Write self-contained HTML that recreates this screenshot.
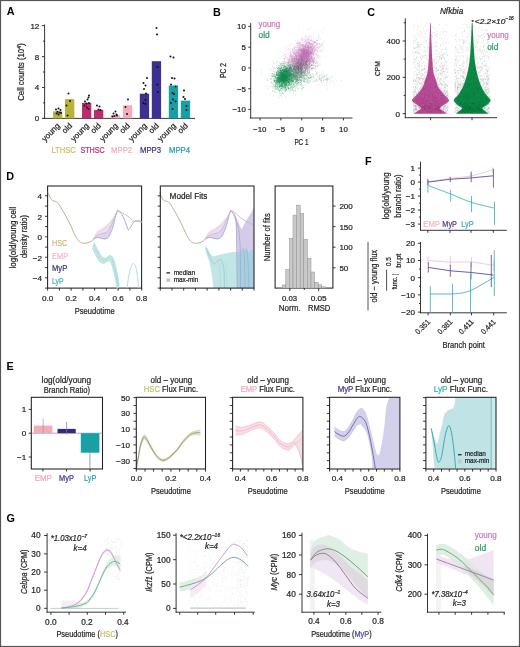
<!DOCTYPE html>
<html><head><meta charset="utf-8"><style>
html,body{margin:0;padding:0;background:#fff;}
svg{display:block;filter:blur(0.3px);}
text{font-family:"Liberation Sans",sans-serif;}
</style></head><body>
<svg width="520" height="647" viewBox="0 0 520 647" fill="#231f20">
<rect x="0.5" y="0.5" width="519" height="646" fill="#fff" stroke="#555" stroke-width="1.2"/>
<text x="6.8" y="15.4" font-size="10.8" fill="#000" font-weight="bold">A</text>
<line x1="44.6" y1="24.5" x2="44.6" y2="118.9" stroke="#231f20" stroke-width="0.9" />
<line x1="44.1" y1="118.4" x2="195" y2="118.4" stroke="#231f20" stroke-width="0.9" />
<line x1="44.6" y1="118.4" x2="42" y2="118.4" stroke="#231f20" stroke-width="0.9" />
<text x="39.3" y="121.3" font-size="8.0" text-anchor="end" stroke="#231f20" stroke-width="0.22">0</text>
<line x1="44.6" y1="87.5" x2="42" y2="87.5" stroke="#231f20" stroke-width="0.9" />
<text x="39.3" y="90.4" font-size="8.0" text-anchor="end" stroke="#231f20" stroke-width="0.22">4</text>
<line x1="44.6" y1="56.6" x2="42" y2="56.6" stroke="#231f20" stroke-width="0.9" />
<text x="39.3" y="59.5" font-size="8.0" text-anchor="end" stroke="#231f20" stroke-width="0.22">8</text>
<line x1="44.6" y1="25.6" x2="42" y2="25.6" stroke="#231f20" stroke-width="0.9" />
<text x="39.3" y="28.5" font-size="8.0" text-anchor="end" stroke="#231f20" stroke-width="0.22">12</text>
<line x1="44.6" y1="102.9" x2="43" y2="102.9" stroke="#231f20" stroke-width="0.9" />
<line x1="44.6" y1="72" x2="43" y2="72" stroke="#231f20" stroke-width="0.9" />
<line x1="44.6" y1="41.1" x2="43" y2="41.1" stroke="#231f20" stroke-width="0.9" />
<text x="24.2" y="72" font-size="8.5" text-anchor="middle" transform="rotate(-90 24.2 72)" stroke="#231f20" stroke-width="0.22"><tspan textLength="52" lengthAdjust="spacingAndGlyphs">Cell counts (10</tspan><tspan font-size="5" dy="-3.2">4</tspan><tspan dy="3.2">)</tspan></text>
<rect x="53" y="111.4" width="9.3" height="7" fill="#bbb13d" />
<rect x="65" y="99.1" width="9.3" height="19.3" fill="#bbb13d" />
<text x="60.5" y="126.4" font-size="8.1" text-anchor="end" transform="rotate(-45 60.5 126.4)" stroke="#231f20" stroke-width="0.22">young</text>
<text x="72.6" y="126.4" font-size="8.1" text-anchor="end" transform="rotate(-45 72.6 126.4)" stroke="#231f20" stroke-width="0.22">old</text>
<text x="63.6" y="153.1" font-size="8.5" textLength="24.4" lengthAdjust="spacingAndGlyphs" text-anchor="middle" fill="#c8bf5e" stroke="#c8bf5e" stroke-width="0.22">LTHSC</text>
<rect x="82" y="102.9" width="9.3" height="15.5" fill="#bf2a6f" />
<rect x="94" y="109.9" width="9.3" height="8.5" fill="#bf2a6f" />
<text x="89.5" y="126.4" font-size="8.1" text-anchor="end" transform="rotate(-45 89.5 126.4)" stroke="#231f20" stroke-width="0.22">young</text>
<text x="101.5" y="126.4" font-size="8.1" text-anchor="end" transform="rotate(-45 101.5 126.4)" stroke="#231f20" stroke-width="0.22">old</text>
<text x="92.6" y="153.1" font-size="8.5" textLength="24.4" lengthAdjust="spacingAndGlyphs" text-anchor="middle" fill="#b8306f" stroke="#b8306f" stroke-width="0.22">STHSC</text>
<rect x="110.9" y="115.3" width="9.3" height="3.1" fill="#f4acb8" />
<rect x="122.9" y="105.3" width="9.3" height="13.1" fill="#f4acb8" />
<text x="118.5" y="126.4" font-size="8.1" text-anchor="end" transform="rotate(-45 118.5 126.4)" stroke="#231f20" stroke-width="0.22">young</text>
<text x="130.5" y="126.4" font-size="8.1" text-anchor="end" transform="rotate(-45 130.5 126.4)" stroke="#231f20" stroke-width="0.22">old</text>
<text x="121.6" y="153.1" font-size="8.5" textLength="21.1" lengthAdjust="spacingAndGlyphs" text-anchor="middle" fill="#f4acb8" stroke="#f4acb8" stroke-width="0.22">MPP2</text>
<rect x="139.8" y="93.7" width="9.3" height="24.7" fill="#3c3192" />
<rect x="151.8" y="61.2" width="9.3" height="57.2" fill="#3c3192" />
<text x="147.4" y="126.4" font-size="8.1" text-anchor="end" transform="rotate(-45 147.4 126.4)" stroke="#231f20" stroke-width="0.22">young</text>
<text x="159.4" y="126.4" font-size="8.1" text-anchor="end" transform="rotate(-45 159.4 126.4)" stroke="#231f20" stroke-width="0.22">old</text>
<text x="150.5" y="153.1" font-size="8.5" textLength="21.1" lengthAdjust="spacingAndGlyphs" text-anchor="middle" fill="#3c3192" stroke="#3c3192" stroke-width="0.22">MPP3</text>
<rect x="168.8" y="85.5" width="9.3" height="32.9" fill="#17a1a6" />
<rect x="180.8" y="100.6" width="9.3" height="17.8" fill="#17a1a6" />
<text x="176.4" y="126.4" font-size="8.1" text-anchor="end" transform="rotate(-45 176.4 126.4)" stroke="#231f20" stroke-width="0.22">young</text>
<text x="188.4" y="126.4" font-size="8.1" text-anchor="end" transform="rotate(-45 188.4 126.4)" stroke="#231f20" stroke-width="0.22">old</text>
<text x="179.5" y="153.1" font-size="8.5" textLength="21.1" lengthAdjust="spacingAndGlyphs" text-anchor="middle" fill="#17a1a6" stroke="#17a1a6" stroke-width="0.22">MPP4</text>
<g fill="#111"><circle cx="56" cy="109.5" r="1.0"/><circle cx="58.5" cy="108.5" r="1.0"/><circle cx="60.5" cy="110" r="1.0"/><circle cx="57.5" cy="111.7" r="1.0"/><circle cx="59.5" cy="112.5" r="1.0"/><circle cx="56.5" cy="113.5" r="1.0"/><circle cx="58.5" cy="114.6" r="1.0"/><circle cx="61" cy="113" r="1.0"/><circle cx="68.5" cy="93.5" r="1.0"/><circle cx="70" cy="101" r="1.0"/><circle cx="66.5" cy="105.5" r="1.0"/><circle cx="67.5" cy="115.5" r="1.0"/><circle cx="89" cy="95.5" r="1.0"/><circle cx="88.5" cy="97.5" r="1.0"/><circle cx="87.5" cy="99.5" r="1.0"/><circle cx="85" cy="101.5" r="1.0"/><circle cx="86.5" cy="103.5" r="1.0"/><circle cx="89" cy="103" r="1.0"/><circle cx="84.5" cy="105.5" r="1.0"/><circle cx="87" cy="107.5" r="1.0"/><circle cx="88.5" cy="109" r="1.0"/><circle cx="97" cy="105.5" r="1.0"/><circle cx="99.5" cy="106.5" r="1.0"/><circle cx="98.5" cy="109.5" r="1.0"/><circle cx="100.5" cy="110" r="1.0"/><circle cx="115.5" cy="111.5" r="1.0"/><circle cx="113.5" cy="113.5" r="1.0"/><circle cx="116.5" cy="114.5" r="1.0"/><circle cx="114.5" cy="116" r="1.0"/><circle cx="117" cy="115.5" r="1.0"/><circle cx="112.5" cy="116.5" r="1.0"/><circle cx="128" cy="99.5" r="1.0"/><circle cx="125.5" cy="107" r="1.0"/><circle cx="127" cy="114" r="1.0"/><circle cx="147" cy="78" r="1.0"/><circle cx="143.5" cy="83" r="1.0"/><circle cx="145.5" cy="85.5" r="1.0"/><circle cx="144" cy="89" r="1.0"/><circle cx="146" cy="93.5" r="1.0"/><circle cx="145.5" cy="100" r="1.0"/><circle cx="143.5" cy="103" r="1.0"/><circle cx="145.5" cy="104" r="1.0"/><circle cx="156.5" cy="28" r="1.0"/><circle cx="157" cy="34.5" r="1.0"/><circle cx="157.5" cy="67" r="1.0"/><circle cx="157.3" cy="84.5" r="1.0"/><circle cx="158" cy="92" r="1.0"/><circle cx="170.5" cy="56.5" r="1.0"/><circle cx="173.5" cy="57.5" r="1.0"/><circle cx="172" cy="78" r="1.0"/><circle cx="174.5" cy="78.5" r="1.0"/><circle cx="171" cy="84.5" r="1.0"/><circle cx="175.5" cy="86.5" r="1.0"/><circle cx="172.5" cy="93" r="1.0"/><circle cx="174" cy="94" r="1.0"/><circle cx="173" cy="99.5" r="1.0"/><circle cx="171" cy="103" r="1.0"/><circle cx="175.5" cy="101.5" r="1.0"/><circle cx="172.5" cy="109" r="1.0"/><circle cx="184" cy="90.5" r="1.0"/><circle cx="183.5" cy="97" r="1.0"/><circle cx="185" cy="99" r="1.0"/><circle cx="186.5" cy="106" r="1.0"/><circle cx="186.5" cy="110" r="1.0"/></g>
<text x="213.1" y="15.5" font-size="10.8" fill="#000" font-weight="bold">B</text>
<line x1="250.7" y1="23" x2="250.7" y2="118.5" stroke="#231f20" stroke-width="0.9" />
<line x1="250.2" y1="118" x2="352.5" y2="118" stroke="#231f20" stroke-width="0.9" />
<line x1="250.7" y1="109.4" x2="248.3" y2="109.4" stroke="#231f20" stroke-width="0.9" />
<text x="245.9" y="112.2" font-size="7.9" text-anchor="end" stroke="#231f20" stroke-width="0.22">−10</text>
<line x1="260.1" y1="118" x2="260.1" y2="120.4" stroke="#231f20" stroke-width="0.9" />
<text x="259.8" y="131.5" font-size="7.9" text-anchor="middle" stroke="#231f20" stroke-width="0.22">−10</text>
<line x1="250.7" y1="88.7" x2="248.3" y2="88.7" stroke="#231f20" stroke-width="0.9" />
<text x="245.9" y="91.5" font-size="7.9" text-anchor="end" stroke="#231f20" stroke-width="0.22">−5</text>
<line x1="280.9" y1="118" x2="280.9" y2="120.4" stroke="#231f20" stroke-width="0.9" />
<text x="280.6" y="131.5" font-size="7.9" text-anchor="middle" stroke="#231f20" stroke-width="0.22">−5</text>
<line x1="250.7" y1="67.9" x2="248.3" y2="67.9" stroke="#231f20" stroke-width="0.9" />
<text x="245.9" y="70.7" font-size="7.9" text-anchor="end" stroke="#231f20" stroke-width="0.22">0</text>
<line x1="301.8" y1="118" x2="301.8" y2="120.4" stroke="#231f20" stroke-width="0.9" />
<text x="301.8" y="131.5" font-size="7.9" text-anchor="middle" stroke="#231f20" stroke-width="0.22">0</text>
<line x1="250.7" y1="47.2" x2="248.3" y2="47.2" stroke="#231f20" stroke-width="0.9" />
<text x="245.9" y="50" font-size="7.9" text-anchor="end" stroke="#231f20" stroke-width="0.22">5</text>
<line x1="322.6" y1="118" x2="322.6" y2="120.4" stroke="#231f20" stroke-width="0.9" />
<text x="322.6" y="131.5" font-size="7.9" text-anchor="middle" stroke="#231f20" stroke-width="0.22">5</text>
<line x1="250.7" y1="26.4" x2="248.3" y2="26.4" stroke="#231f20" stroke-width="0.9" />
<text x="245.9" y="29.2" font-size="7.9" text-anchor="end" stroke="#231f20" stroke-width="0.22">10</text>
<line x1="343.4" y1="118" x2="343.4" y2="120.4" stroke="#231f20" stroke-width="0.9" />
<text x="343.4" y="131.5" font-size="7.9" text-anchor="middle" stroke="#231f20" stroke-width="0.22">10</text>
<text x="226.3" y="70.5" font-size="8.6" textLength="14.8" lengthAdjust="spacingAndGlyphs" text-anchor="middle" transform="rotate(-90 226.3 70.5)" stroke="#231f20" stroke-width="0.22">PC 2</text>
<text x="301.4" y="144.5" font-size="8.8" textLength="14" lengthAdjust="spacingAndGlyphs" text-anchor="middle" stroke="#231f20" stroke-width="0.22">PC 1</text>
<text x="258.6" y="26.6" font-size="8.4" textLength="21.6" lengthAdjust="spacingAndGlyphs" fill="#c67ab9" stroke="#c67ab9" stroke-width="0.22">young</text>
<text x="258.6" y="38.2" font-size="8.4" textLength="11.2" lengthAdjust="spacingAndGlyphs" fill="#2f9a5f" stroke="#2f9a5f" stroke-width="0.22">old</text>
<path d="M301.8 66h0M304.1 50.2h0M299.6 60.1h0M294.7 58.1h0M298.2 62.3h0M293.9 59.1h0M302.2 62.5h0M312.3 51.5h0M297.9 54.9h0M296.8 59.5h0M305.6 58.4h0M304.6 63.8h0M302.6 55.4h0M294.4 58.6h0M301.5 59.2h0M307.2 59.9h0M291.1 58.9h0M298.1 40.4h0M286.7 67.7h0M291.6 60.2h0M287.2 62.3h0M299.9 77.5h0M291.7 61.7h0M303.9 61.3h0M303 46h0M300.3 59.8h0M281.9 73.9h0M297.5 61.1h0M301.4 56.1h0M302.6 60.8h0M289.7 64.2h0M298 69.4h0M294 63.1h0M295.4 54.8h0M310.1 37.6h0M295.4 55.3h0M301.5 55.2h0M308.7 44.3h0M297.1 52h0M300.9 45h0M302.6 48.5h0M302.3 57.7h0M292.1 60.5h0M302.4 55.4h0M312.5 48.9h0M289.5 62.3h0M308.5 59.3h0M302.7 72.5h0M296.7 65h0M317.6 63.7h0M307.8 53.3h0M292.3 62.3h0M302.3 69.4h0M306.3 49.4h0M300.3 51.4h0M307.1 53.4h0M301.2 44.8h0M307 40.1h0M313.1 59.9h0M296.4 52.2h0M303.4 52.9h0M298.1 56h0M302.8 49.5h0M292.4 67.7h0M297.2 64.1h0M300.2 64.2h0M308.9 58.9h0M310.8 52.9h0M291.3 73.8h0M295.5 68.5h0M306.9 49.9h0M286 66.3h0M298.1 56.2h0M301 71.8h0M311.7 57.5h0M307.2 58.3h0M299.2 58.3h0M298.8 63.1h0M299.8 51.2h0M313.8 50.9h0M298.4 58.8h0M299.3 58.3h0M304.5 50.2h0M300.8 61.2h0M300.2 49.5h0M292.9 58.5h0M301.7 56h0M298.2 58.7h0M311 48.1h0M306.9 46.6h0M301.6 50.1h0M307 51.4h0M299.1 52h0M310.1 51.6h0M301.7 47.7h0M306.4 54.8h0M291.5 78.4h0M304.5 45.5h0M288.4 63.7h0M285.7 74.8h0M299.3 59.9h0M294.6 67.7h0M303 40.5h0M319.5 43.6h0M295.2 72.6h0M296.8 55.7h0M303.4 59.2h0M305.6 40.5h0M300.4 65.8h0M300.1 75h0M307.3 53.6h0M305.9 57.5h0M293.6 64.8h0M301.1 73.6h0M302 53.7h0M293.4 49.1h0M303.8 70.4h0M295 52h0M309.4 57.2h0M303.3 38.5h0M302.5 53.4h0M297.1 61.1h0M300.8 49.3h0M286 61.8h0M292.8 66.5h0M304.6 50.2h0M284.9 70.2h0M308.4 66.9h0M287.9 49.4h0M307.7 56.5h0M295.1 65.4h0M307.9 51.2h0M302.8 68.3h0M289.6 74h0M311.6 55.4h0M313.1 54.8h0M301.2 56.9h0M299.6 49.8h0M300.5 61.4h0M294 57.6h0M310.4 47.8h0M297.5 67.7h0M301.3 55.6h0M295.5 67.7h0M296.8 51.8h0M291.7 59.2h0M311.7 51.5h0M300.5 67.9h0M309.4 52h0M301.9 62.8h0M296.3 54.8h0M299.2 59.4h0M297.3 65.7h0M301.8 50.1h0M298.8 53.3h0M299.4 62.9h0M290.9 54.3h0M295.4 62.9h0M314.8 52.2h0M296.4 59.1h0M293.4 67.4h0M304.4 59h0M312.9 52.2h0M290.3 51.9h0M300.1 46.7h0M296.8 61.8h0M287.8 52.6h0M307.6 54.2h0M301.6 54.3h0M302.3 50.1h0M295.8 58.2h0M305.3 36.9h0M297.5 57.6h0M300.6 66.8h0M293 52.1h0M292.1 65.5h0M312.3 53.6h0M297.7 81.9h0M304.1 48.3h0M301.5 51.1h0M298.3 53h0M297.7 51.9h0M306.7 41.6h0M299.4 58.8h0M300.6 50.7h0M301.9 62.6h0M311 54.7h0M307.1 46.2h0M304.8 52.5h0M297.3 69.6h0M290.8 60.4h0M309.3 54.4h0M309.4 59.1h0M300.6 54.4h0M306 57.8h0M307.9 65.6h0M308.3 61.9h0M309 39.7h0M298.1 70.5h0M313.7 48.8h0M291.9 57.9h0M308.6 48.5h0M305.7 64.2h0M308.7 55.7h0M316.6 47.9h0M313.5 44.6h0M292.7 67h0M288.4 73.2h0M308.2 46h0M293.7 53.2h0M301.7 54.4h0M308.4 58h0M288.8 61.2h0M285.1 65.5h0M303.8 49.7h0M302.1 66.3h0M299.8 57.3h0M302.1 58.1h0M294.9 69.2h0M289.8 62.1h0M300.4 57.6h0M294.1 64.4h0M288.8 61.3h0M305.7 65.6h0M301.3 57.8h0M305 52.1h0M293.9 59.3h0M296.5 51.9h0M293.9 70.5h0M294.7 72.4h0M303.3 54.5h0M295.6 57.1h0M304.6 39.6h0M304.4 51h0M317.8 54.9h0M290.7 57.1h0M308.8 59.6h0M301 68.7h0M301.6 37.5h0M290.3 61h0M298.1 53.7h0M307.6 49.6h0M301.1 43.8h0M302.4 54.6h0M299.5 49.2h0M310.9 59.8h0M301.6 67.7h0M284.4 55.9h0M296.3 49h0M286.2 61.8h0M276.1 69.6h0M297.6 58.2h0M312.3 56.5h0M302.1 45.3h0M292.5 57.2h0M294.3 57.4h0M310.7 49.3h0M303 48.5h0M302.1 53.1h0M301.3 51.7h0M302.1 65.8h0M308.1 49.8h0M306.1 38.2h0M303.5 60.1h0M293.5 62.6h0M305.8 48.2h0M296.3 52.9h0M310.4 47.6h0M291.7 74.9h0M300.7 53.9h0M301.7 66.1h0M291.3 69.1h0M315.4 45.5h0M313.3 53h0M298.1 53h0M307.8 30h0M304.7 49.6h0M281.1 63h0M303.7 62.8h0M301.3 62.2h0M302.4 64.8h0M293.2 65.8h0M299.6 66.5h0M300.3 62.9h0M311.1 53.5h0M304.4 63.2h0M301.7 67.8h0M313.8 60.7h0M297.4 56.1h0M298.7 58.4h0M287.4 57.3h0M314.2 42.4h0M309.4 55.5h0M309 48.1h0M307 65.1h0M302.6 39.4h0M303.5 47.1h0M299.8 59.8h0M300.1 66.8h0M302.2 54h0M313.7 64.6h0M306.1 60.6h0M301.3 51.7h0M297.2 59.1h0M296.7 63.6h0M314.4 43h0M305.8 62.7h0M302.3 54.7h0M299 62.4h0M293 68.3h0M301.2 53.9h0M308.7 60.8h0M298.6 44.5h0M300 62.5h0M300 43.1h0M302.6 64.9h0M289.2 59.5h0M299.9 67.2h0M295 71h0M308.7 52.1h0M295.7 55.4h0M306.3 64.2h0M313.8 41.5h0M299.3 64.5h0M297 58.7h0M303.3 53.4h0M301.7 52.6h0M293.9 75h0M305.4 42.9h0M317.7 44.1h0M299.7 61.4h0M300.1 65.7h0M293.5 74.4h0M304.3 66h0M291.9 58.4h0M293 64.5h0M311.9 60.1h0M294.6 65h0M310.3 40.6h0M313.8 53h0M303.8 60.4h0M306.1 44.5h0M317.2 45.1h0M300.2 57.6h0M297.1 64.3h0M291.1 74.7h0M302.1 65.8h0M313.4 54.3h0M309.3 54.6h0M294.3 58.5h0M295 56.7h0M297.8 57.6h0M304.1 54.2h0M300.1 65.6h0M303.4 72.4h0M304.1 59.7h0M299.4 65.6h0M301.4 62.2h0M303.4 58.3h0M301.1 66.9h0M305.7 63.3h0M316.5 49.7h0M306.4 53.7h0M302.2 61.8h0M288.4 60.7h0M304.8 57.1h0M286.4 73.3h0M290.6 62.9h0M308.5 39.2h0M307.3 59.1h0M300.6 49h0M288.2 54.2h0M298.8 47.4h0M296.4 66.3h0M306.8 39.1h0M319.6 46.4h0M303.5 58.1h0M295.6 62.2h0M292.5 57.7h0M301.3 57h0M300.4 59.2h0M292.6 52.4h0M302.7 62.1h0M292.7 70h0M310.5 46.3h0M310.1 47.2h0M310.3 44.1h0M298 67.3h0M305.8 46.7h0M300.7 54h0M298.7 45.5h0M299.1 68h0M291.5 61.1h0M290.3 65.5h0M308 65.6h0M300.2 63.3h0M303.5 47.7h0M309.7 56.3h0M288.1 70.1h0M295.6 54h0M303.1 48.9h0M304.8 48h0M298.8 64.7h0M309.9 53.1h0M303.4 48.4h0M292.2 67.3h0M294.4 66.8h0M308.1 47.3h0M305.4 43.3h0M286.7 74.1h0M312.4 70.8h0M306.5 65.5h0M312.4 58.9h0M298.7 59.8h0M299.4 53.8h0M292.8 63.1h0M321.8 51.3h0M300.4 56.7h0M314.3 57.5h0M296.6 60.3h0M303 61.2h0M288.5 44.2h0M298.7 52.6h0M309.5 59.1h0M291.9 70.1h0M310.2 55.7h0M304.4 68.1h0M293.5 67.2h0M297.8 64.9h0M298.1 52.4h0M301.4 60.5h0M297.5 65.4h0M295.2 70.8h0M299.3 67.3h0M293.6 62.1h0M291.6 64.4h0M301.4 48.8h0M308.7 58h0M289.7 55.8h0M301.8 55.2h0M296.6 60h0M294 76.5h0M308.5 63.1h0M297.7 53.8h0M313.6 40h0M295.6 58.9h0M304.8 49.7h0M300 61.2h0M295.8 63.2h0M306.4 59.6h0M300.5 50.4h0M306.5 51.9h0M301.4 59.1h0M293.2 64.3h0M300.9 53.4h0M302.2 54.4h0M309.3 59.2h0M294.6 48.1h0M301.4 55.3h0M288.1 64.5h0M306.9 43.1h0M293.2 54.1h0M287.5 65.6h0M301.3 53.3h0M310.5 60.4h0M289.7 68.6h0M293.2 78.9h0M295.9 51.1h0M292.8 76.4h0M304.7 50.3h0M295.4 66.9h0M296 67.6h0M306.4 56h0M295.8 58.4h0M305.2 50.6h0M294.1 48h0M292.2 59.7h0M287.2 58.5h0M316.5 53.5h0M299.2 53.1h0M303.7 54.9h0M301.5 60.7h0M303 57.1h0M302.1 57.4h0M316.8 47.4h0M293.5 58.6h0M289.4 67.7h0M293.8 67.1h0M291.2 57.3h0M307.7 66.7h0M308.2 58.2h0M294.2 49.6h0M290.8 83.6h0M298.9 63.9h0M312.7 45.9h0M279.5 81.9h0M305.9 35.2h0M293.2 81.3h0M310 41.7h0M293.2 50.1h0M299.5 51.4h0M289.8 65.3h0M294 58.7h0M312.7 57.8h0M308.2 47.4h0M298.6 67.3h0M294.9 63h0M286.8 57.8h0M298.6 67.2h0M301.5 60h0M301.1 56.2h0M301 67.6h0M292.9 53.2h0M301.2 54.8h0M301.4 68.7h0M312 51.8h0M316.5 54.8h0M300.7 62.7h0M295.7 59.9h0M301.2 62.7h0M296.9 52.5h0M295.9 65.7h0M301.3 50h0M293.5 62h0M306.5 48h0M300.9 61.6h0M303.7 59.8h0M300.3 66.6h0M296 55.9h0M294.3 54.2h0M299.9 42.1h0M297.4 49.8h0M303.6 54.2h0M301.7 58.7h0M291 60.1h0M302.3 57h0M291.1 51.9h0M296.9 52.7h0M299.4 64.7h0M285.3 71.3h0M302.5 46.4h0M302.9 54.1h0M300.5 59.5h0M298.4 50h0M298.8 61.7h0M294 63.5h0M299.6 61.8h0M297.4 74.3h0M302.5 50.2h0M292.2 71.5h0M303.6 60.4h0M302.9 62.1h0M300.6 52.2h0M298.3 59.5h0M306.1 54.6h0M288.6 77h0M305.4 55.8h0M303.7 67.2h0M304 53.6h0M304.8 52.7h0M296.6 60.1h0M299.7 42.8h0M306.8 50.4h0M305.2 50.7h0M303.4 55.1h0M289.8 65.2h0M306 47.5h0M311 43.7h0M309.7 62.5h0M303.6 48.1h0M289.4 60h0M309.2 45.8h0M300.6 54.2h0M281.7 77.5h0M304.7 64.3h0M290 49.8h0M291.5 60.9h0M296.7 70.6h0M311.8 48.9h0M298.8 61.5h0M303.9 69.8h0M315.6 66.8h0M314.3 62.3h0M300.9 55.5h0M299.8 58.5h0M291.8 64.5h0M296.3 58h0M305.1 50.7h0M304.9 71.3h0M302.6 58.9h0M309.6 59h0M295.6 69.8h0M301.3 61.5h0M307.5 54.9h0M306.4 56.6h0M310.2 63.4h0M304.9 59h0M299.3 43.2h0M304.6 63.5h0M293.8 74.2h0M288.8 62.2h0M306.3 50.1h0M301.3 53.8h0M304.2 64.2h0M288.3 57h0M298.9 64.6h0M297 68.3h0M294.9 65.5h0M283.9 67.8h0M299.1 53.2h0M308.8 48.5h0M304.8 55.6h0M297 52.7h0M301.6 56.6h0M307.7 47h0M279.9 79.7h0M300.8 69.5h0M306 48.9h0M307.1 64.6h0M315.2 52h0M310.7 52.9h0M304.2 59.4h0M304.1 59.2h0M308 43.2h0M297.5 78.6h0M301.4 50.6h0M308.9 35.8h0M317.2 48.4h0M300.5 57.9h0M301.4 51.8h0M303.3 42.4h0M312.4 60.2h0M301.5 56.6h0M313.4 52.1h0M294.1 57.1h0M300.3 56.7h0M300.2 53h0M308 56.9h0M310 52.2h0M289.8 68.7h0M294.5 66.1h0M304.4 56.7h0M296.5 61.1h0M289.7 72.6h0M310 40.7h0M305.7 56h0M305.6 65.4h0M298 50.9h0M309.9 58.3h0M299.9 54.3h0M310.4 52.5h0M294.5 59.2h0M295 59.5h0M303.4 60.6h0M296.2 59.9h0M307.1 38.8h0M303.8 72.9h0M294.5 60.6h0M302.3 53.5h0M299 66.6h0M309 63.5h0M296.8 43.6h0M298.3 61.8h0M311.3 36.1h0M319.4 43.3h0M317.6 47.8h0M302.2 53.2h0M303.5 51.4h0M313.9 41.5h0M300.8 54.4h0M294 60.3h0M302.7 55.3h0M305.3 44.9h0M295.2 54.6h0M288.7 71.8h0M290.4 68.2h0M307 51.7h0M295.8 65.1h0M300.6 60.6h0M303.4 63.4h0M306.6 56.4h0M299.1 55.4h0M305.7 47.4h0M294.7 60.9h0M298.9 43h0M293.7 62.2h0M310.7 28.1h0M301.5 49.7h0M295.9 56.6h0M299 62.4h0M300 79.4h0M307.3 55.2h0M289.1 62.7h0M293.6 47.1h0M298.8 69.2h0M321.8 31.7h0M309.3 54.8h0M300.9 52.1h0M307.4 73.2h0M318 47.1h0M299.9 60.7h0M298.9 53.6h0M311.3 51.1h0M305.7 63.6h0M307.1 47h0M297.7 54.1h0M317 44.2h0M315.3 42h0M306.2 46.3h0M307.2 54.3h0M285.7 76.2h0M306.8 64.8h0M300.2 47.8h0M305.2 49.9h0M307.1 53.4h0M299.1 61.9h0M288.4 64.2h0M304.7 55.3h0M295.9 62.9h0M299.1 63.8h0M297 43.4h0M299.1 56.9h0M283.5 71.7h0M311.4 61.6h0M303.8 61.5h0M310.5 46.8h0M317.4 42.8h0M301.9 58.7h0M287.5 64.6h0M294.7 63.3h0M292.2 70.7h0M297.8 49.5h0M302.4 54h0M285.9 47.1h0M304.5 61.3h0M289.8 64.7h0M304.1 49.2h0M300.9 59.4h0M299.3 69h0M301.2 64.6h0M297.5 58.7h0M296.9 57.2h0M288.4 65.2h0M301.5 49.7h0M316.3 41.6h0M317.4 46h0M312.2 51.1h0M307.3 55.9h0M296.4 55.9h0M313.2 43.9h0M301.3 56.9h0M301.2 54h0M299.4 60.8h0M302.5 67.4h0M298.3 66.6h0M301.1 51.7h0M293.2 58.5h0M298.8 46.7h0M319.8 46.7h0M301.2 50.9h0M299.9 48.2h0M306 47.3h0M307.3 58.6h0M292.9 63.4h0M300.1 57h0M309 60.5h0M303.9 52.4h0M302.7 48.9h0M314 54h0M296.4 45.2h0M302.4 58.9h0M297.6 60.9h0M313.5 52.4h0M286.3 71h0M296.5 56.9h0M297.6 59.3h0M307 41.7h0M306.5 49.9h0M312.8 47h0M289.3 65.6h0M307.7 64.5h0M299.4 59.1h0M296.5 66.4h0M306 47.6h0M294.5 61.3h0M285.3 53.6h0M298.8 53.2h0M289.9 57.3h0M296.6 58.2h0M304.7 53.9h0M304.2 50.8h0M314.3 43.2h0M300.2 63.3h0M289.6 60.1h0M295.8 40.6h0M294.5 61.8h0M292.1 64.3h0M305.2 60.4h0M296.7 70.9h0M286.1 56.8h0M307.3 53.6h0M300.9 55.3h0M304.6 41.6h0M302.6 37.7h0M306.7 61.1h0M302.1 49h0M311.5 47h0M305.1 52.2h0M304.8 51.8h0M305 55.5h0M290.2 51.4h0M300.4 53.2h0M299.7 55.6h0M303.4 46.8h0M291 56.2h0M314.7 46.5h0M302.6 54.2h0M292.2 49.1h0M288.2 60.7h0M299.5 59h0M301 63.9h0M296.1 62.8h0M302.5 64.6h0M296.7 59.1h0M306.1 52.7h0M296 75.7h0M301.4 57.1h0M309.5 47.9h0M322.1 44.6h0M293.8 68.7h0M298.1 49.5h0M295.1 66h0M307.9 62.9h0M292.7 70.3h0M297.9 59.3h0M301.5 49.8h0M294 52.6h0M294.2 59.7h0M298 68.2h0M285.1 71.2h0M290.3 70.2h0M298.5 60.2h0M302.9 69.8h0M300.3 57.1h0M287.7 60h0M298.1 60.2h0M308.1 50.1h0M306.1 61.8h0M301.1 68.4h0M294.7 65.8h0M306.7 45.6h0M297.2 51.9h0M292.5 65.6h0M295.4 51.5h0M313.2 53.2h0M303.5 44.7h0M310.9 48.4h0M298 62.6h0M309.2 47h0M297 65.6h0M300.5 64.9h0M321.4 57.2h0M307.8 51.8h0M297.8 59.7h0M301.1 58.1h0M304.3 58.8h0M311.3 41h0M297.9 62.4h0M288 70.2h0M299.5 48.9h0M301.9 46.3h0M302.6 54.1h0M312.2 64.5h0M304.3 60.3h0M308.2 48.9h0M293 61.8h0M308.6 41.6h0M318.3 58.3h0M307.9 48.6h0M303.8 60.7h0M303 46.5h0M315.9 49.9h0M294.4 53.4h0M300.9 62.5h0M305.4 65.7h0M307.6 62.2h0M298.3 63.6h0M304.2 63.5h0M299.6 49.3h0M302.7 46.5h0M300.7 55.6h0M292.7 69.9h0M301.6 58.1h0M308.7 58.5h0M294.1 50.3h0M299.8 55.8h0M307 50.5h0M293.3 64.8h0M303.2 71.5h0M293.4 67.5h0M310.7 60.6h0M320 44.2h0M317.7 47.6h0M300 64.1h0M307.6 56.8h0M302.7 44.8h0M302.6 63.9h0M314 57.3h0M291.3 64.6h0M310.1 57.8h0M301.4 60.6h0M312.9 47h0M303.2 43.2h0M296.4 73.5h0M303.9 56h0M307.6 53.6h0M302 57.6h0M305.6 56.4h0M297.6 62h0M284.9 58.8h0M308.9 56.7h0M307.3 55h0M302.9 56.5h0M302.3 56h0M309.9 53.9h0M298.1 51.6h0M296.2 60.3h0M300.3 56.6h0M311.1 52.3h0M290.8 70.7h0M311.2 58.2h0M296.7 67.8h0M293 60.5h0M311.7 57h0M301 65.5h0M291.5 61h0M298.9 54.7h0M309.1 66.3h0M311.2 39.2h0M298.4 58.7h0M305 56.1h0M307.4 45.9h0M296.7 59.4h0M304.6 60.1h0M301.5 40.7h0M297.5 67.6h0M297.9 60h0M302.3 50.4h0M302 65.1h0M297.3 60.3h0M298.4 56h0M310.5 34.1h0M303.4 62.9h0M308.7 53.6h0M311.2 46.9h0M306.4 53.9h0M319.7 56.3h0M295.2 57.6h0M308.1 52.8h0M299.2 55.1h0M316.4 40.5h0M315.2 42.1h0M286.3 62.5h0M294.1 59h0M307 62.5h0M308 54.7h0M307.6 52.2h0M301.2 60.4h0M305.3 54.4h0M306.9 60.5h0M301.1 45.9h0M309.9 36.4h0M283.9 69.9h0M306.8 51.3h0M293.6 63.4h0M309.3 43.4h0M299.9 54.8h0M294.7 60.4h0M304.7 57.2h0M294.5 60.1h0M294.5 68.6h0M289.4 58.8h0M301.5 62.6h0M305.7 50.9h0M309.8 51.7h0M300.6 49.5h0M310 52.7h0M301.9 49.3h0M301 64.5h0M306.3 50h0M310.1 54.2h0M299.1 57.1h0M299.8 57.6h0M300.5 50.7h0M302.4 72h0M294.6 58.6h0M309.9 63.9h0M298.6 49.7h0M305.4 70h0M295.2 68.3h0M304.6 68.2h0M304.8 43h0M298.4 68.7h0M317.7 47.4h0M304.7 59.5h0M315.8 63h0M309.3 55.5h0M296.5 55h0M298.7 60.2h0M305.2 48.1h0M302.2 59.6h0M302.1 56.8h0M299.5 61.3h0M287.5 62.4h0M300 43.8h0M284.2 64h0M304.7 54h0M296 64.9h0M296.1 65.9h0M300 47h0M303.9 64.3h0M290.4 70.2h0M287.9 65.5h0M293.3 65h0M285.6 51.2h0M294.1 79.2h0M314.3 47.5h0M293.4 56.3h0M306.9 62.7h0M290.9 68h0M304.1 52.5h0M299.2 46.2h0M301.3 64.3h0M306.2 66.6h0M315.6 42.1h0M303.3 44.8h0M302.7 59.1h0M294.1 78.1h0M306.4 43.6h0M299.8 59.7h0M308.3 45h0M301.4 57.6h0M315.5 52.4h0M286.1 69.2h0M299.4 47.3h0M308.7 42.4h0M299 74.8h0M295.5 67.6h0M299.6 44.9h0M290.8 65.9h0M302.7 66.9h0M321 46.4h0M310.8 52.9h0M293 62.7h0M294.8 64.5h0M298.6 61.2h0M309.7 56.2h0M295.3 58.2h0M296.3 66.3h0M308.7 55.4h0M308.6 54.4h0M298.8 48.9h0M292.9 59.2h0M289.5 64.7h0M296.2 56.1h0M284.1 63.8h0M307.7 45.6h0M296.8 56h0M305.6 41.5h0M316.5 38.8h0M311 52.3h0M292.7 65.3h0M308.6 46.7h0M310.9 48.2h0M295.9 61.1h0M294.2 72.4h0M300.9 71.4h0M289.1 61.5h0M313.4 44.9h0M282.7 61.5h0M293 71.6h0M299.6 50.5h0M300 62.1h0M303.1 53.5h0M303.9 52.8h0M300.1 64.1h0M310.7 56.6h0M284.8 82.1h0M301.7 64h0M296.1 73.8h0M302.8 53.2h0M303.5 55.7h0M294.5 54.2h0M296.7 57.2h0M308 58.4h0M304.5 53h0M296.4 63h0M317.9 43.6h0M320 44.7h0M290.2 70.9h0M304.1 55.8h0M321.6 45.8h0M307.9 56h0M303.5 49.4h0M300.1 45.1h0M297.5 62.2h0M300.1 60.7h0M297.4 76.5h0M307.6 54.8h0M298.6 62.1h0M298.3 75.3h0M292.2 60.2h0M301.4 52.9h0M294.7 66.5h0M300.3 60.7h0M310 59.9h0M304.6 49.8h0M305.7 66.4h0M304.6 57.9h0M302.2 42.1h0M300.7 57.3h0M299.3 54.9h0M307.8 54.9h0M293.2 70.7h0M312.3 51.5h0M302 53.9h0M295.8 68.1h0M297.9 56.7h0M296.4 50.7h0M303 48.3h0M296.1 72.2h0M310.8 59.5h0M295.6 72.7h0M283.8 58.9h0M296 55.7h0M285.9 60.6h0M301.4 63.9h0M310.1 61.3h0M306.9 53.7h0M291.2 62.2h0M295.7 66.9h0M315.8 48.3h0M304.3 50.9h0M301.8 55.4h0M310.1 60.4h0M321.1 62.4h0M312 53.4h0M302.9 55.3h0M304.6 57.5h0M306.6 57.7h0M296.9 65h0M293.4 56.3h0M302.2 57.3h0M294.3 60.3h0M301.3 64.7h0M302.5 61.4h0M320.3 45.7h0M295 68.4h0M300.8 67.1h0M300.5 60.3h0M305.2 46.1h0M310 51.1h0M297.9 48.2h0M295.3 61.7h0M288.8 66.6h0M294.4 71.7h0M306 59.1h0M302.1 46.1h0M293.7 59.1h0M298.8 53.2h0M302 51.7h0M305.7 55h0M297.1 61.2h0M299.8 57.3h0M287.4 60h0M292.6 58.7h0M314.5 46.3h0M284.5 65.5h0M299.1 64.4h0M303.5 58.1h0M298.8 65.8h0M295.4 53h0M301.3 73.2h0M301.7 58.8h0M301.1 39.5h0M286.9 67.9h0M300.6 66.3h0M295 61h0M297.4 49.8h0M303.5 57.3h0M306.8 49.7h0M308.8 52.4h0M297.8 62.1h0M309.1 29.3h0M311 51.5h0M310.7 56.2h0M312.7 54.8h0M300.6 54.9h0M300.4 54.8h0M308.3 47.7h0M290.9 62h0M303.4 67h0M297.6 55.4h0M298.8 61h0M288 66.9h0M294.7 72.2h0M301.6 61.5h0M308.8 58.7h0M309.6 53.1h0M301.1 68.4h0M300.3 57.6h0M295.2 59.8h0M304.9 63.8h0M299.8 62.9h0M306.5 60.9h0M315.6 42.6h0M301.5 76.3h0M289.9 66.2h0M294.9 73.4h0M290.2 66.7h0M292.3 55.9h0M312.1 56.2h0M303.5 55.1h0M289.7 70.1h0M306.9 39.6h0M311.7 44.7h0M298.9 50.2h0M296.4 70.1h0M299.1 66.9h0M304 47.7h0M306.8 55.8h0M311.1 53.9h0M311.3 49.3h0M311.1 61.4h0M312.5 45.3h0M307 54.1h0M289.6 60.2h0M300.7 62.7h0M304.2 51.9h0M298.7 64.1h0M309 45.9h0M298.9 50.2h0M294.4 54.3h0M313.2 46.9h0M307 49.4h0M303.5 76.6h0M309.1 46.8h0M310.1 54.5h0M304.4 54.9h0M282.3 70h0M296.4 70.6h0M298.1 63.2h0M294 56.4h0M303.3 45.5h0M311.2 56.6h0M297.9 66h0M292.8 51.1h0M317.8 54.9h0M298.2 43.4h0M292 62.1h0M303.6 62.7h0M305.1 47.8h0M296.2 47.4h0M308 64.5h0M297.9 47.5h0M294.5 63.3h0M303.2 45.1h0M307.8 56.6h0M296.7 71.8h0M304.4 51.9h0M301 50.5h0M324.1 29h0M296.1 47.2h0M312.7 45.8h0M301.3 59.1h0M300.7 61.6h0M307.5 56.2h0M308.8 59.5h0M311.8 53.7h0M304.3 74.9h0M297 58.4h0M297.5 59.7h0M305.8 35.5h0M306.3 48.9h0M312.8 54.6h0M305.1 51h0M310.1 61.7h0M313.7 55h0M303.1 70.5h0M290 52.7h0M292.4 57.8h0M290.4 72.2h0M314.3 50.6h0M295.1 53.6h0M311.5 48h0M306.4 51.7h0M315.3 56.1h0M309.7 57.5h0M300.9 56.8h0M300.2 51h0M302.4 63h0M303.1 64.8h0M297.6 50.8h0M301.5 64.3h0M314.5 42h0M288.3 62.7h0M303.8 49.3h0M294.6 47.9h0M303.2 51.1h0M308.4 47.6h0M301.3 64.3h0M307.9 59h0M289.2 59.2h0M310.5 40.7h0M297 49.2h0M306.7 36.9h0M303.2 54h0M281.3 66.8h0M295.8 52.8h0M303.5 56h0M314 50.8h0M304 63.8h0M303.8 48.5h0M290.6 71.4h0M313.1 47h0M316 59.9h0M302 48.7h0M300 65.8h0M289 57.8h0M308.7 65.3h0M323.1 48.7h0M307.4 45.1h0M311.7 57.7h0M306 54.2h0M294 65h0M312.3 68.7h0M292 60.2h0M300.1 54.8h0M304 64.3h0M308.7 48.9h0M305 61.3h0M304.8 63h0M295.7 60.4h0M291.6 67.9h0M302.2 39.5h0M296.1 71.9h0M291.4 57.2h0M291.7 55.2h0M297.9 74.2h0M287.1 78.3h0M291.1 58.7h0M288.8 67.9h0M303.2 53.4h0M305 46.7h0M317.6 51.2h0M289.9 71.7h0M296.4 80.7h0M309 51.6h0M300 65.1h0M299.2 56.2h0M315.3 47.9h0M299.1 69h0M292.6 49.1h0M291.3 54.7h0M304.4 49.2h0M304.2 64.7h0M290.9 66.2h0M294 65.5h0M306 57.9h0M306.3 63.1h0M296.7 56.6h0M306.7 52.7h0M306.3 51.9h0M287.7 68.7h0M299.3 48.7h0M305 53.9h0M297.2 80.3h0M284.8 71.3h0M299.5 58.8h0M307.7 46.5h0M314.2 52.5h0M284.4 68.5h0M322.4 50.7h0M292.8 57h0M309.3 56.3h0M311.5 56.3h0M309.5 58.4h0M302.9 52.3h0M292.6 66.2h0M306.7 67h0M296.1 55.5h0M281.8 73.4h0M324.1 42.1h0M307.3 51.2h0M316.1 40.1h0M294.5 53.2h0M313.3 55.1h0M314.3 51.4h0M314 60.1h0M301.6 44.5h0M292.2 59h0M300.3 47.4h0M284.3 69.1h0M288.3 80h0M302.5 45.1h0M293.9 60.7h0M300.5 56.8h0M300.9 57.2h0M317 43.8h0M312 47.4h0M301.4 69.3h0M311.3 43.6h0M295.6 64.5h0M299.1 62.1h0M308.9 40.1h0M291.9 55.6h0M299.5 60.9h0M291.3 76.9h0M302.7 55.4h0M314.7 45.9h0M295.8 61h0M303.5 65.5h0M294.7 67h0M292.7 71.6h0M292 60.9h0M313.2 44.6h0M320.4 39.1h0M305.6 60.5h0M296.1 58.5h0M307.3 49.9h0M299.1 62.4h0M308.1 54.7h0M304.1 39.8h0M304 54.3h0M306.5 47.8h0M297.2 62.9h0M298.6 58.6h0M288.1 77.5h0M298.3 59.2h0M290.5 54.3h0M300.6 41.9h0M294.2 52.3h0M302.6 51.5h0M305.3 54.7h0M290.5 67.8h0M295.3 61.9h0M294.3 56.6h0M307.7 59.8h0M315.2 42.6h0M308.5 60.8h0M299 72.1h0M313.3 58.4h0M289.8 76.3h0M313.6 60.9h0M296.6 51.4h0M279.8 70.7h0M322.7 43.9h0M314.2 41.5h0M293.6 52.1h0M303.1 60.2h0M300.1 48h0M302.6 53.8h0M290 63.5h0M296.4 56.7h0M305.4 65.8h0M303.5 62.1h0M311.2 52.7h0M302.4 52.2h0M320.3 49.7h0M296.1 61.2h0M303.8 48.7h0M286.6 54.8h0M291.8 56.8h0M312.3 41.7h0M294.3 64.3h0M305.9 57.1h0M301.3 55h0M293.5 63.9h0M299 62.5h0M297.7 46.9h0M297.9 60.8h0M307.7 61.1h0M306.9 50.6h0M297.2 45.8h0M294.6 60.5h0M304 46.6h0M301 60.9h0M309.9 56.3h0M322.7 50.7h0M308.4 54.5h0M301.5 43.4h0M300.4 66.6h0M295 48.5h0M294.6 68.7h0M293.8 63.2h0M298.6 52.5h0M298.4 54.2h0M307.6 51.7h0M298.6 71.3h0M300.2 55.2h0M292.1 70.1h0M314.7 30.6h0M305.8 56.5h0M315.9 47.9h0M308 62.3h0M313.5 54.2h0M299.8 67.9h0M307.4 46.6h0M323.1 47.3h0M292.1 58.2h0M311 57.2h0M315.2 53.5h0M305.1 45.6h0M307.8 61.1h0M311.9 65.1h0M296.5 57h0M305 63.9h0M294.7 64.3h0M296.3 53.2h0M296.8 66h0M300.6 51.1h0M302.9 61.6h0M305.4 43.8h0M290.3 53.4h0M317.8 51.8h0M311.1 53.6h0M307.6 60.1h0M298.9 57.2h0M301 48.8h0M306.2 65.6h0M305.1 48.3h0M288.1 74.6h0M307.8 60.3h0M325.4 57.6h0M286.8 49.5h0M309.8 52.2h0M304.7 53.6h0M300.8 62.7h0M312.9 42.9h0M292.2 78.3h0M303.1 56.2h0M313.6 33.9h0M300.2 60.9h0M298.4 58.9h0M302.7 51.5h0M298.1 65.2h0M314.3 50h0M294.4 53.9h0M308.8 51.7h0M291.6 59.9h0M307.2 56.8h0M300.9 55.2h0M280.8 68.3h0M301.7 46.2h0M293.1 56.4h0M298.1 60.9h0M314.3 68.7h0M292.7 56.7h0M293.1 56.2h0M313.5 57.6h0M302.7 71.7h0M314.3 58.8h0M304.4 48.7h0M294.6 69.1h0M301.2 60.9h0M311.7 49.9h0M309.4 43.7h0M301.8 57.2h0M302.1 57.6h0M300.8 61.8h0M297 47.4h0M317.4 40.4h0M301.8 57.8h0M292.6 72.7h0M297.9 65.2h0M307.7 49.5h0M307 59.7h0M300.6 51h0M296.3 57.4h0M301.9 54.8h0M288.1 59.7h0M291.2 59.2h0M308.2 60h0M297.9 61.7h0M304.8 37.8h0M311.7 60.8h0M307 57.8h0M301.9 49h0M319 48.8h0M307.2 60.2h0M298.9 68.7h0M307.7 49.8h0M305.1 47.6h0M294.8 50.4h0M302.3 56.4h0M300.4 50h0M285.8 73.7h0M300.3 56.6h0M299.4 63.5h0M298.2 57.8h0M288.4 58.8h0M298.9 50.6h0M301.4 64.8h0M302.6 47.1h0M292.5 65.8h0M306.9 62h0M291.9 63.8h0M299.9 69.2h0M312.4 51.2h0M296.1 58h0M297.6 60.9h0M310.5 48.3h0M298.6 61.2h0M299.3 58.4h0M303.5 67h0M310.3 52.1h0M283.9 73.4h0M295 64.2h0M293.6 62.3h0M292.9 60.5h0M294.8 73.4h0M294.9 72.7h0M304.2 58h0M294.5 57.5h0M302.7 53.8h0M305 48.6h0M295.8 50.5h0M302.8 52.8h0M315 50h0M304.4 63.5h0M296.6 67.1h0M301.2 60.9h0M294.3 59.2h0M303.9 54.2h0M308.7 53.2h0M295.1 61.9h0M300.1 53.3h0M310.7 50.6h0M297.7 57.1h0M303.3 53.9h0M293.5 65.8h0M295.1 68.5h0M297.6 55.7h0M319 44.5h0M298.5 60.6h0M297.6 62.6h0M297.3 42.4h0M300.4 63.6h0M306.9 55.9h0M303.2 54.3h0M318 56.9h0M303.4 55.3h0M313.2 37.2h0M303.9 48.9h0M306.5 49.7h0M290.3 58.9h0M300.7 56.8h0M301.2 50.2h0M299.8 59.3h0M284.7 69.7h0M308.7 52.5h0M298.7 52h0M298.3 56.5h0M299.7 53.1h0M299.9 73.4h0M305 46.3h0M291.7 45h0M294.4 51.1h0M304 58.2h0M302.9 62.9h0M298.8 56.7h0M297.2 67.1h0M295.2 55.3h0M301.3 61.3h0M311.1 44.7h0M293.4 51.4h0M313.8 65.8h0M308.4 51.2h0M298.2 64.4h0M307.9 64.3h0M290.2 68.2h0M288.1 66.3h0M291.6 54.9h0M298.5 70.4h0M299.2 50.6h0M297.7 44.1h0M302.5 52.2h0M284.9 62.3h0M305.7 55.1h0M290.5 72.2h0M296.5 56h0M298.5 56h0M292.6 56.6h0M290.9 43.7h0M293.8 56h0M301.7 53.9h0M306.4 42.8h0M306.2 64.8h0M293.9 70.1h0M295.5 63.4h0M294.5 66.1h0M305.3 49.9h0M285.6 68.4h0M311.5 38.6h0M297.9 47.7h0M295.6 54.7h0M304.4 58.5h0M309.9 48h0M304.5 49.5h0M310.1 60.6h0M302.8 53.9h0M311.5 46.4h0M311.6 50.1h0M301 45.7h0M313.1 41.7h0M303.1 62.6h0M302.4 55.8h0M294.5 67.4h0M299.5 54h0M307.9 60.3h0M291.4 55.9h0M306.9 51.3h0M304.5 48.3h0M303.9 57h0M284.3 77.7h0M300.9 44.2h0M306.9 55.6h0M295.7 50h0M302.5 53.5h0M283 62.4h0M307.1 40.4h0M296.5 57.4h0M308.6 42.7h0M287.2 76.3h0M307.2 47.5h0M299.9 60h0M308.1 54.6h0M294.4 61.1h0M296.9 57.2h0M319.5 34.8h0M295.2 74.7h0M296.2 59.9h0M299.6 63.7h0M293.7 52.8h0M311.2 55.1h0M315.4 46.1h0M296.2 63.2h0M288.1 59.6h0M311 44.3h0M310.5 55.3h0M308.2 53.2h0M310.9 62.8h0M294.9 58.6h0M300.4 51.4h0M290.8 67.3h0M290.5 54.8h0M309.5 68.5h0M296.4 74h0M319.8 57.7h0M302.3 60.4h0M296.7 59.8h0M308.1 54.2h0M316 49.8h0M305.6 49.5h0M292.1 66h0M304.7 65h0M312.6 60.5h0M297.9 43.3h0M295.6 78.2h0M309.8 54h0M302.9 45.5h0M293 58.3h0M298.7 65h0M295.8 60.4h0M304.1 49.3h0M302.6 47.5h0M310.8 58.9h0M307.4 48.3h0M289.4 62h0M305 47h0M308.8 42.7h0M305.4 57.7h0M309.9 63.6h0M297.4 56.5h0M294.2 47.8h0M309.1 47.9h0M293.3 60h0M284.7 48.4h0M309.9 60.5h0M296 53.5h0M299.3 62.7h0M290.7 62.8h0M291.3 62.2h0M292.6 50.7h0M298.9 65.7h0M304.7 59.5h0M283.6 79.1h0M307.7 50.2h0M292.4 65.7h0M293.3 58.6h0M307.1 62.3h0M301.2 60.1h0M289.6 56h0M316.3 50.4h0M294.9 56.1h0M303.7 52h0M303.3 58.9h0M312.9 62.7h0M298.1 51.7h0M309.7 51.4h0M295.9 52.9h0M310.6 67.4h0M295.7 72.9h0M298.9 74.9h0M316.7 55.5h0M304.3 47.9h0M302.6 52.4h0M319.5 47.6h0M304.6 54.5h0M295.3 54.9h0M307.6 56.2h0M292.4 59.3h0M310.7 51.1h0M311.3 68.4h0M297.2 62.5h0M296.8 49.6h0M303.1 59.3h0M301.9 58.1h0M294 66h0M306.2 58.3h0M285.6 57.5h0M298.3 61h0M298.6 66.6h0M299.6 81.8h0M304.2 60.1h0M292 77.3h0M306.4 68.3h0M300.3 51.9h0M296.6 54.6h0M290.9 77.5h0M292.4 55.8h0M304.6 52.1h0M294.1 67.2h0M302.3 51.3h0M310.1 64.8h0M309.9 61.7h0M314.1 61.2h0M299.4 66.8h0M293.2 55.2h0M309.8 62.7h0M304.2 64.5h0M310.6 59.4h0M301.8 55.6h0M311.2 54.5h0M308.4 46.9h0M307.4 59.4h0M305.7 64.6h0M304.9 59.2h0M303.6 55.8h0M303.5 63.2h0M309.6 50.7h0M297.7 45.7h0M315.5 54h0M300.9 57.3h0M309.5 42.7h0M301 62.5h0M299.8 64.7h0M317.8 56.6h0M299.3 55.6h0M291.7 58.9h0M296.1 61.5h0M299.2 58.3h0M318.8 38.2h0M303.4 49.8h0M309.1 63.8h0M293.8 61.7h0M304.5 54.9h0M307.1 48.9h0M316 51.1h0M296.2 65.2h0M306.5 58.1h0M304.1 69.4h0M293.7 62h0M301.6 61.9h0M299.7 54.9h0M283.4 75.2h0M306.5 58h0M306 62.4h0M298.3 67.3h0M291.2 57.9h0M313.4 54.4h0M303.9 52.9h0M309.8 61.4h0M312.9 50.5h0M297.6 72.4h0M308.2 57.5h0M299.8 62.2h0M301.3 53.3h0M301.1 56.4h0M301.7 58.7h0M310.6 46.2h0M302.7 55.4h0M300.5 54h0M299.6 52.9h0M304.4 56.4h0M294.7 63.5h0M297.8 57.2h0M301.3 60.8h0M297.3 57h0M300.8 49.6h0M296.9 53.7h0M317.6 51.6h0M312.3 61.3h0M305.3 55.9h0M301.3 58.6h0M319.1 39.6h0M304.3 58.9h0M301.1 59.4h0M304.1 50.6h0M304.2 59.7h0M312.9 52.5h0M301.6 44.6h0M318.3 37.1h0M294.8 56.6h0M307.2 52.4h0M293.8 69.1h0M316.1 45.3h0M299.1 58.5h0M301.3 56.1h0M309.1 57.3h0M311.7 52.1h0M293 63.7h0M299 56.6h0M290.7 52.8h0M302.8 54.1h0M300.9 70.4h0M299 66.3h0M296.3 72.4h0M298.7 65.1h0M295.9 56.5h0M305.9 52.1h0M313.7 55.4h0M286.5 63.9h0M300.8 63.7h0M298.4 70h0M305.6 65.9h0M294.2 68.1h0M300.6 47.4h0M293.5 72.1h0M307.3 45.1h0M302.5 47h0M300.5 59.6h0M304.7 56.2h0M299.8 63.2h0M289.5 64.4h0M306.5 49.9h0M304 56.2h0M300.5 50.7h0M309.5 44.3h0M311.4 49.6h0M293.1 59.8h0M295.6 61.4h0M314 48.1h0M313 59.7h0M295.9 57.7h0M292.4 61.1h0M296.7 66.8h0M297.8 43.5h0M289.2 71.7h0M302 63.9h0M291.6 61h0M292.2 77.4h0M309 59.5h0M296.4 72h0M301.2 65.1h0M306.7 55.8h0M308.2 51.6h0M299.1 50.7h0M302.1 51.2h0M295.2 52.2h0M315.6 45.5h0M306.9 58.2h0M293 53.9h0M301.8 61.2h0M307.4 59h0M305.5 43.9h0M316.2 43.6h0M312.6 49.9h0M297.5 54.2h0M301 51.3h0M291.6 73.4h0M303.7 57.1h0M302.9 65.8h0M323.1 44.8h0M302.5 62.2h0M285.2 56.4h0M296.4 56.5h0M302.6 63.2h0M291.8 63.1h0M294.9 70.4h0M298.9 58.8h0M304.5 51.9h0M300.4 56.3h0M294.7 76h0M308 56.6h0M297.5 56h0M297.8 57.4h0M290.8 54.8h0M295.5 70.7h0M306.9 50.7h0M289 69.5h0M301.2 56.4h0M307.4 51.4h0M298.8 54h0M303.6 60.8h0M292.9 61h0M312.1 60.6h0M310.5 63.4h0M303.6 52.3h0M287.9 65.6h0M293.5 74.3h0M309.5 59.7h0M315.3 49.9h0M304.1 44.5h0M311.6 44.2h0M296.9 54.2h0M300.3 71.8h0M301.8 58.3h0M305.1 52.1h0M289.7 61.2h0M309.2 50.3h0M312.2 53.5h0M292.7 49.3h0M291 52.3h0M304.5 56.7h0M296.6 67.8h0M283 52.4h0M308.1 58.2h0M303 47.8h0M298 45.2h0M318.5 55.5h0M302.8 54.8h0M295.8 63.5h0M302.5 53.2h0M293.5 59.7h0M295.7 46.2h0M304.8 51.4h0M297.4 60h0M298.2 51h0M314.9 52.3h0M308.5 56.6h0M308.1 37.2h0M305.9 61.4h0M305.6 59.1h0M313.3 50.9h0M301.6 65.6h0M316.4 65.4h0M294.2 53.7h0M299.7 64.6h0M290.9 67.6h0M299 61.9h0M305.8 62.7h0M313.2 59.3h0M296.5 59.2h0M301.8 39.4h0M298.9 53.6h0M295.9 55.1h0M292.3 74.1h0M302.2 57.5h0M288.1 74h0M302.6 51.2h0M301.9 59.2h0M296.6 60.1h0M293.8 62.6h0M290.8 68h0M316.5 60.9h0M291.1 59h0M314.1 61.2h0M306.5 63.9h0M298.9 61.4h0M292.6 67.9h0M310 51h0M315.4 42.4h0M294.4 59.7h0M299.4 57.4h0M310.1 52.8h0M304.4 49.6h0M317.6 62.8h0M297.2 57.3h0M306 62.2h0M291.9 72.3h0M318.3 48.4h0M296 63.7h0M284.3 62.8h0M300.8 49.8h0M300.6 75.7h0M316.9 49.8h0M299.1 44.3h0M301.7 51.1h0M306.4 44.1h0M314.3 49.9h0M301.3 68.7h0M310 61.5h0M305.8 49.9h0M299.4 51.6h0M302.4 62.7h0M302 59.5h0M294.5 59.6h0M311.3 65.5h0M290.8 66.2h0M311 40.2h0M309.3 36.9h0M301 58.8h0M295.7 47.1h0M300 62.5h0M305.5 61.6h0M307.6 71.2h0M304 49.1h0M309.6 56.1h0M297.3 42.3h0M303.6 54h0M289.4 63h0M307.8 67.9h0M303 45.6h0M298.5 62.1h0M310.9 53.7h0M307.2 71.2h0M279.5 62.8h0M302.1 49.9h0M290.2 68.5h0M310.2 52.2h0M321.4 43.7h0M297.7 52.5h0M302.3 56.4h0M299.8 45.6h0M304.5 57.8h0M306.8 59.3h0M311.9 55.5h0M293.9 81h0M314.2 56.8h0M294.4 54h0M303.9 54.3h0M310.9 58.7h0M307.4 51.8h0M294.3 76.9h0M296.2 62.7h0M298.1 55.6h0M301.3 52.5h0M310.8 58.4h0M291.5 56.3h0M305.4 41.4h0M306.6 58.1h0M306.2 49.5h0M305.4 67.2h0M313.8 65.7h0M305.6 50.8h0M308.5 53.5h0M306.2 53.5h0M315.9 54.1h0M286.7 68h0M311.9 45.8h0M299.7 45.7h0M299.5 60.4h0M294.1 74.2h0M287 56h0M298.7 54.6h0M296.3 55.3h0M305.7 54h0M290.1 46.4h0M313.1 50.7h0M303.9 52.4h0M299.8 72.6h0M296.1 65h0M295.5 66.1h0M292.8 62.6h0M297.4 57.2h0M301.8 63.1h0M300.3 45.2h0M290.6 71.7h0M299.6 62.1h0M294.7 59.6h0M303 66.2h0M316.5 45.1h0M306.7 50h0M299.3 61.1h0M288.9 50.2h0M290.6 63h0M288.4 62.7h0M307.5 61.6h0M295.7 73.5h0M302.2 62h0M296.8 62.6h0M302.5 60.5h0M312.8 45.6h0M296.3 78.5h0M299.1 67.5h0M295.4 74.8h0M308.7 43.6h0M293.6 66.2h0M292.8 66.3h0M290.8 71.9h0M290.6 56.8h0M305.5 58.6h0M322.1 44.6h0M293.9 77.2h0M309.3 44.5h0M303.7 53.4h0M293 58.1h0M299.6 49.4h0M299.9 60h0M296.3 61.8h0M317 43.7h0M286.7 62.6h0M304.8 57.7h0M304.4 55.7h0M297.2 63.8h0M302.9 51.4h0M308.7 46.6h0M303 56.8h0M305 41.5h0M307.2 66.1h0M285.7 68.1h0M313.4 38.1h0M319.8 50.7h0M309.5 65.3h0M309.8 42.5h0M290.6 59.5h0M300.8 67h0M295.3 55.2h0M297.1 67.8h0M309.4 63.4h0M295.4 62.1h0M300.7 61.7h0M286.7 74.1h0M300.5 60.9h0M302.5 64.7h0M296.2 60.1h0M296.1 60.8h0M316.7 43.6h0M292.2 66.2h0M293.4 72.1h0M295.4 71h0M311.2 54.1h0M318.4 36.7h0M304.4 49.6h0M296.1 65.4h0M298.4 52.2h0M310.2 61.6h0M294.5 53.8h0M313.2 54h0M312.9 45.5h0M302.3 52.4h0M306.9 56.7h0M307.7 51.7h0M314 58.8h0M293.4 62.6h0M311.1 44.1h0M298.8 28.1h0M295.7 55.5h0M302.6 56.3h0M300.1 66.1h0M293.9 53.7h0M289.1 77h0M294.3 67.6h0M313.2 48.4h0M317.3 58h0M306.9 43h0M311.1 44h0M297.7 64h0M301.1 62h0M304 66.2h0M293.2 72.8h0M293.9 58.4h0M302.5 52.3h0M299.2 56.2h0M293.3 60.1h0M304.8 60h0M299.7 55.9h0M309.8 64.2h0M301.7 57.4h0M299.4 47.6h0M302.8 46.9h0M300.4 61.7h0M296.5 62.9h0M298.6 48.8h0M307.7 40.7h0M306.9 66h0M311.9 55.1h0M288.4 63.1h0M298.6 49.9h0M298.5 65.6h0M303.1 51.8h0M298.2 61.7h0M297.7 41.7h0M307.9 50.8h0M303.2 57.7h0M292.5 65.1h0M312.3 43.6h0M309.6 48h0M297.2 68.2h0M308.3 52.2h0M295.9 70.8h0M310.6 58.3h0M300 68.2h0M295.4 71h0M298.8 64.3h0M295.7 68.2h0M303.3 52.6h0M303.1 50.6h0M302 59.1h0M297.4 68.4h0M272.8 67.3h0M302.5 72.4h0M286.8 80.3h0M303.7 50.9h0M310.7 47.5h0M303.9 48.9h0M298.7 60.8h0M300.3 67.8h0M300.7 61.9h0M297.4 55.5h0M297.1 65.8h0M294.4 66.8h0M311.1 62.8h0M301.6 66.3h0M309.3 46.9h0M299.8 55.1h0M302.3 65.9h0M300.4 66.4h0M305.4 59.7h0M308.3 49.7h0M303.6 65.3h0M296.4 61.7h0M295.6 77.1h0M314.9 59.7h0M299.5 55.5h0M299.4 51.9h0M313.3 59.8h0M310.3 58.6h0M306 49.1h0M298.6 62.1h0M320.3 51.3h0M304.9 51.8h0M306.1 53.6h0M300.4 49.8h0M290.6 57.6h0M291.2 67.6h0M305 56.6h0M304.8 56.2h0M299.9 68.8h0M292.5 69.9h0M290.4 56.4h0M299.2 70.9h0M290.2 56.2h0M308.9 51.4h0M310.9 53.5h0M324.1 41h0M308.7 50h0M297.1 50.9h0M294.9 64.3h0M274.5 74.2h0M297 61.9h0M300.4 43.9h0M309.4 46h0M306.6 61.8h0M306.4 57.4h0M303.4 61.8h0M307 54.4h0M313.2 49.5h0M293.3 44.7h0M298.1 73.2h0M290.8 55.7h0M314.5 47.1h0M312 57.1h0M307.7 55.3h0M292.3 66.4h0M303.1 56.3h0M299.9 50.8h0M302.4 68.6h0M300.3 48.3h0M305.9 58h0M298.6 47.7h0M308.5 50.6h0M303.7 47h0M299.4 54.4h0M300.9 49.7h0M298.3 58.9h0M308.2 60.1h0M299.6 53.5h0M304.1 50.7h0M298.6 43.2h0M290 79h0M308.9 54.9h0M293.4 54h0M307.1 63.9h0M305.1 57.3h0M288.7 48.6h0M294.3 50.8h0M297.7 66.3h0M295.3 50.1h0" stroke="#d690c8" stroke-width="0.9" stroke-linecap="round" stroke-opacity="0.4" fill="none"/>
<path d="M309.9 53.5h0M308.2 54.1h0M306.5 57h0M305.9 61.3h0M301.3 58.9h0M302.8 53.8h0M308 55.5h0M305.5 54.6h0M312.7 59.8h0M303.6 57h0M294.9 62.2h0M303.6 61.7h0M306.1 62.4h0M306.5 52.2h0M305.2 58.7h0M301.5 55.1h0M311.2 53h0M302.2 54h0M307.9 54.8h0M303.8 62.9h0M300 58.7h0M310.9 52.8h0M294.5 58.8h0M301.4 59.5h0M306.8 55.8h0M303.5 52.1h0M308.1 47.6h0M304.6 51.8h0M303.1 51.5h0M314 47.1h0M304.1 52.1h0M304.3 51.4h0M300.5 56.1h0M301.9 56.8h0M307.7 52.7h0M307.3 42.3h0M305 55h0M302.1 58.1h0M307.8 54.9h0M297.9 59.8h0M303.6 54.9h0M303.9 61.1h0M301.5 66.6h0M305.6 53.3h0M302.2 64.4h0M301.7 56h0M312.5 49.6h0M308.1 47.7h0M310 44h0M305.2 53.2h0M309 55.1h0M308.3 58.5h0M310.1 55.5h0M314.9 48.5h0M304.1 65.3h0M306.1 54h0M304.8 55.3h0M290.4 61.5h0M299.2 60.4h0M305.1 54.5h0M307.7 56.8h0M302.6 58.8h0M309.8 60.3h0M310.4 51h0M303.3 48.9h0M311 50.5h0M312.3 48.6h0M307 58.4h0M301 51h0M311.2 54.7h0M304.4 51.7h0M303.5 55.6h0M305.6 59.2h0M302.8 51.7h0M309.5 52.1h0M308.3 52.1h0M310.1 49.6h0M307.5 53.6h0M301.8 58.9h0M304.4 53.3h0M308.7 54.6h0M303.4 55.8h0M317.2 50.3h0M304.1 62.7h0M302.6 59.8h0M309.9 54.2h0M308.2 52.9h0M305 49.6h0M304.1 63.5h0M306.9 53.3h0M308.6 63.1h0M308.3 57.9h0M303.8 58.2h0M306.9 64.4h0M308.6 61.4h0M308.3 52.3h0M292.2 63h0M301.4 58h0M301.9 60.9h0M304.1 45.6h0M305.8 55.3h0M308.9 56.6h0M307.6 45.5h0M304.5 52.5h0M305.2 56.7h0M312.4 44.7h0M302.5 56h0M306.3 51.2h0M311.6 49.7h0M306.5 58.9h0M296.6 56h0M306.6 53.3h0M303.5 60.8h0M304.6 58.9h0M309.5 47.7h0M307 55.5h0M304 55.5h0M308.8 49.6h0M306.9 53.3h0M305.5 61.9h0M306.3 51.2h0M306.1 50h0M303.7 51.9h0M303.2 48.7h0M305.2 53.3h0M301.1 54h0M299.8 51h0M310.5 52.9h0M304.1 47.6h0M305 47h0M304.5 51.7h0M305.2 46.4h0M305.2 51h0M305.3 59h0M301.7 51.9h0M309 51h0M302.2 55h0M309.4 51.5h0M297.1 53.9h0M300.7 55.3h0M309.2 55.6h0M304.5 53.2h0M302.3 53.4h0M306.6 57.4h0M300.7 59.9h0M305.4 56.6h0M295.9 63.8h0M303.2 54.6h0M302.4 52h0M307.3 44.7h0M308.7 47.1h0M301.5 52.6h0M311.8 45.4h0M302.6 50.4h0M296.5 62.3h0M295.2 58.2h0M311.5 49.4h0M304.7 55.9h0M302.4 58.9h0M302 59.4h0M300.5 59.2h0M310.7 57.2h0M304.7 52.8h0M312.5 50.3h0M304.3 55.1h0M295.3 59.8h0M308.6 49.4h0M303.5 58.8h0M304.1 56.2h0M311.6 58.3h0M304 66.1h0M309.9 61h0M305.1 47.9h0M301.9 65.6h0M307.2 51.5h0M302.6 49.8h0M310.2 53.9h0M309.1 44.8h0M305.3 46.2h0M307.6 49h0M307.4 42.4h0M303.9 52.9h0M308.8 56h0M304.1 53.2h0M307.6 55.4h0M301.1 63.7h0M305.5 60.7h0M306.8 43.1h0M301.8 59.7h0M303.4 56.2h0M302.9 59.5h0M308.1 52.4h0M302.1 58h0M306.9 55.7h0M311.4 56.5h0M306.6 60.6h0M298.4 62.8h0M305.6 53.3h0M309.4 42.5h0M303.9 50.8h0M309.7 43.4h0M307.7 51h0M306.9 54.2h0M304 61.8h0M303 56.3h0M304 65.6h0M305.4 56.2h0M307.3 45.9h0M306.9 52.3h0M303.9 50.5h0M305.4 56.5h0M306.7 60.3h0M298.4 61.5h0M301.9 58.8h0M301.8 51.4h0M304.3 46.2h0M304 59.1h0M304.1 57.3h0M301.5 57.9h0M307.9 54.7h0M306.3 60h0M298.3 58.9h0M305.2 53.2h0M300.5 56.1h0M312.2 55.9h0M303.2 56.6h0M303.5 64.1h0M305.5 50.4h0M304.3 60.2h0M304.9 56.3h0M311.6 52.8h0M306.1 57h0M308.6 57.6h0M309.8 60.1h0M301.1 49.4h0M312.2 49.1h0M308 51.8h0M309.1 42.5h0M301.6 57.6h0M308.6 50.1h0M306.9 53.6h0M302.9 50.7h0M314.6 46.3h0M307.5 51.8h0M304.2 56.7h0M306 53h0M308.9 46.9h0M309.9 61.5h0M307.6 53.9h0M310.2 53.5h0M311.3 52.3h0M300 67.4h0M303.1 52.7h0M301.3 61.3h0M305.6 55.6h0M311.2 53.3h0M307.9 60.9h0M300.8 59.7h0M303.9 64.2h0M309.4 56.5h0M303 57.7h0M304.8 55.1h0M306.4 53.7h0M297.6 60.4h0M308.4 42.7h0M306.6 51.9h0M307.5 59h0M301.1 60.3h0M302 60h0M302.7 57.3h0M306.2 57h0M305.5 58.6h0M305.7 46.8h0M312.6 49.8h0M310.6 52.9h0M302.2 57.9h0M302.4 57.6h0M312.3 43.7h0M303.8 53.4h0M310.9 45.9h0M311.8 65.1h0M302.9 54.8h0M304 50.6h0M305.5 45.4h0M301.6 57h0M301.1 65.5h0M303.5 53.1h0M308.7 55.3h0M303.3 64.4h0M304.3 58.3h0M303.2 51.1h0M299.5 52.9h0M311.3 47.4h0M295.4 66h0M302.4 44.8h0M307.5 58.8h0M299.4 58.9h0M307.7 59.9h0M310.4 45.3h0M301.6 55h0M306 50.1h0M300.5 57.4h0M307.3 53.8h0M305.5 53.8h0M306.1 63h0M310.8 46.5h0M307.1 49.3h0M310.8 53h0M307.8 53.1h0M300.2 56.6h0M306.2 46.8h0M307.2 51.5h0M299.1 58.5h0M310.7 53.6h0M305.4 61.6h0M306.7 56.6h0M301.4 56.9h0M305.5 55.8h0M306.4 53.6h0M303.8 52.2h0M305.5 52.5h0M296.3 59.2h0M310.8 48h0M300.5 56.9h0M296.1 60.8h0M301.2 55.2h0M301.7 65.1h0M307.4 47.4h0M301.4 63.3h0M306.3 50.1h0M301.2 57.3h0M314.3 43.6h0M307.4 53.1h0M313.3 53.9h0M300.9 52.5h0M307.9 52.1h0M301.2 56.8h0M307.6 52.8h0M308 48.2h0M298.5 55.2h0M300.4 56.7h0M300.3 65.1h0M298.9 60.7h0M302.1 56.2h0M301.2 49h0M299.1 56.9h0M305.5 54.9h0M307.4 47.7h0M299.7 58.8h0M302.8 56.4h0M305.2 54h0M304.2 62.4h0M302.2 52.2h0M308.5 50.6h0M308.7 53.8h0M308 58.2h0M304.3 54.3h0M313.4 42.8h0M312.4 53h0M303.5 60.8h0M304.6 53.1h0M310.1 59h0M301.8 67.3h0M306.8 55.7h0M305.3 57.8h0M302.2 57.9h0M304.2 57.9h0M298.6 57.4h0M302.9 57.2h0M296.8 62.9h0M314.6 50.7h0M311.4 47.7h0M310.2 46.9h0M306.4 49.7h0M309.3 48.8h0M310.4 66.7h0M309.3 56.7h0M308.9 53.7h0M301.3 56.2h0M306.9 61.1h0M302.9 49.5h0M300.2 56.5h0M300.4 60.7h0M306.9 52.8h0M309.5 53.5h0M299.4 62h0M312.4 47.7h0M311.2 52.9h0M303.5 62.4h0M303.2 59h0M304.8 55.5h0M309.2 57.1h0M303.5 49.9h0M300.5 62.8h0M306.5 45.6h0M296.5 56.1h0M305.7 58.8h0M309.9 51h0M306.4 48.4h0M308.3 53.5h0M307.1 59h0M308.1 52.3h0M305.7 45h0M301.6 63.9h0M304.1 52.7h0M304.8 54.9h0M310.3 51.9h0M311.8 52.2h0M306.8 55.1h0M301.9 51.9h0M302 53.9h0M304.3 59.9h0M310.9 43.7h0M306.5 59.9h0M304.8 51.8h0M301.9 55.9h0M308.7 46.7h0M306.3 52.3h0M304.9 49.9h0M305.5 54.5h0M312.1 45.6h0M304.4 53.5h0M312.1 40.1h0M310.2 54.6h0M305.3 49h0M308.8 50.1h0M304.6 54.2h0M301.6 59.6h0M304 53.3h0M301.3 64h0M307.2 59.7h0M305.1 51.3h0M307.4 60.4h0M308.5 45.7h0M292.1 64.4h0M306.4 52.7h0M297.6 59.2h0M305.8 52.3h0M301.4 58.4h0M305.5 56.1h0M310.8 51.6h0M298 54.4h0M305.9 48.9h0M304.8 48.9h0M297.2 58.1h0M307.8 53.9h0M305.2 62.4h0M303 53h0M302.1 52.7h0M318.4 47.9h0M303.4 52h0M297.6 53.5h0M301.2 56.7h0M303.6 50.7h0M303.5 54.3h0M304.7 63h0M300.7 59.7h0M307.3 55.1h0M303.1 53.5h0M299.4 62.4h0M301.7 58.9h0M303.5 60.2h0M308.6 52.6h0M307.1 53h0M303.7 51h0M305.2 50.9h0M306 53.3h0M313.6 48h0M302.5 55.8h0M307 52.9h0M308.1 45.5h0M301.1 68.9h0M305.9 55h0M305.8 52.8h0M303.1 50.7h0M307.4 58.3h0M309.4 50.3h0M309.8 47.6h0M304.3 57.3h0M305.9 63.1h0M314.9 50h0M300.5 63.3h0M306 51h0M308.8 56.2h0M305.7 46h0M307.8 52.2h0M305.8 58h0M308.2 55h0M310.4 56.3h0M304.2 53.5h0M305.9 47.2h0M304.8 55.8h0M303.4 51.4h0M305 59.1h0M300.4 56.3h0M308.2 41.9h0M312.2 56.6h0M312.2 44.3h0M310.4 45.7h0M301.1 66.1h0M311.4 57.3h0M302.1 61.2h0M304.9 50.3h0M312.8 51.7h0M300.6 58.3h0M308.6 49.1h0M306.2 53.4h0M304.4 54h0M301.4 58.5h0M306.8 48.3h0M303.1 59.6h0M309.4 44h0M310.2 53h0M299.3 62.1h0M303 53h0M303.8 53.4h0M300.2 67.1h0M300.4 56.7h0M305.4 60.8h0M304.2 59.1h0M298.2 55.5h0M302.8 60.2h0M307.2 51.6h0M300.1 59.7h0M301.2 48.2h0M311.7 50.9h0M310.6 56.6h0M298.3 64.2h0M299.5 62.6h0M306.6 53.1h0M300.1 57.9h0M304 50.9h0M303.2 55.1h0M307.4 52.6h0M294.6 60h0M295.9 61.3h0M300 56.7h0M309.3 48.3h0M304.4 51.5h0M298 61.9h0M307.1 61.7h0M308 56.6h0M304.1 54.1h0M303.7 67.3h0M306.9 55.8h0M310.1 49.4h0M305.7 57h0M307.3 58.5h0M304.9 46.7h0M303.5 49.3h0M301.3 58.4h0M306.1 47.9h0M303.8 49.5h0M304.1 60.7h0M308.9 39.7h0M307.1 57.8h0M308.7 53.6h0M298.5 64.1h0M307.4 52.9h0M302.6 62.5h0M301.7 57h0M301.5 52h0M310.1 50.5h0M308.5 53.8h0M302.1 49.5h0M300.3 62h0M305.1 50.2h0M303.2 57.4h0M312 49.3h0M299 58.6h0M297.5 59.1h0M304 55.7h0M305.1 58.4h0M305.6 57.1h0M308.2 50.7h0M313.7 49.7h0M303.7 61.2h0M302.8 59.6h0M297.8 62.8h0M306.1 54.4h0M308.6 51.7h0M304 55.1h0M310 54.7h0M305.2 54.7h0M311.4 57.1h0M306.5 67.4h0M300.7 58h0M302.4 64.3h0M298.7 63.4h0M297.9 65.2h0M306.2 51.2h0M308.7 58.2h0M313.2 48.3h0M304.8 57.3h0M304.1 61.3h0M300.5 65.2h0M309.2 50.1h0M306.7 52h0M302.6 52.9h0M307.9 44.5h0M307.4 52.1h0M297.3 58.6h0M308.2 53.5h0M305.6 54.1h0M303.4 57.6h0M303.3 60.2h0M312.4 40.9h0M311.5 59.5h0M312.7 48.8h0M300.3 56h0M302.4 56h0M308.8 57h0M300.1 59.1h0M302.1 59.1h0M297.6 64.9h0M312.8 50.2h0M309.5 54h0M307 56.3h0M306 51.2h0M303.3 61.1h0M303.4 54h0M307.6 56.2h0M302.1 54.9h0M310.2 51.4h0M303 55.2h0M301.4 62h0M310.5 55.2h0M304.5 59.4h0M307.4 52.7h0M303.4 52.7h0M295.7 56.1h0M307.4 55.9h0M299.5 58.3h0M309.6 59.7h0M298.6 69.6h0M297.3 64.1h0M306.4 57.3h0M306.8 61.2h0M305.5 63.1h0M300 55.9h0M308.8 56.4h0M299 66.9h0M303.1 45.5h0M301.8 56.4h0M303.5 57.6h0M308.6 49.6h0M302.4 60.4h0M307.4 46.2h0M308 60.4h0M298 65.8h0M300.2 58.9h0M303.5 59.7h0M302.6 50.2h0M306.4 61.8h0M297 63.8h0M308.1 52.1h0M308.2 50.5h0M304.4 50.9h0M299.3 57.3h0M305.1 44.9h0M302.8 58.8h0M307.4 52.8h0M304.7 51.4h0M308.1 54.7h0M303.3 57.7h0M311.1 53.5h0M295.5 64.4h0M300.9 63.2h0M307.1 56.5h0M298.8 66.5h0M308.1 51.5h0M300 65.9h0M305.5 45.3h0M301.3 49.8h0M303.2 51.3h0M305.8 55.7h0M304.6 58.2h0M303.5 50.6h0M314 48.6h0M305.1 52.6h0M301 61.2h0M308.9 47.8h0M308.5 56.8h0M310.2 51.5h0M312.5 58.5h0M301.2 60.8h0M309.5 50.1h0M309.8 54.3h0M305.1 57.3h0M306.1 50.9h0M292.6 63.7h0M302.7 51h0M312.5 61.7h0M297.6 57.4h0M302.8 54.4h0M306.3 61.7h0M307.5 59.8h0M311.9 46.8h0M297.7 65h0M305.3 58.1h0M308.7 50.2h0M299.6 60.4h0M304.9 53.2h0M312.9 54.2h0M310.6 50.3h0M307.3 48.8h0M294.2 60.8h0M304.5 65.8h0M306.7 51.2h0M303.8 55.8h0M304.8 59.7h0M317.9 40.5h0M304.2 64h0M301 49.2h0M306.1 57.6h0M303.8 48.8h0M303.8 56.3h0M304.7 61.7h0M308.3 52.8h0M306.1 53.1h0M300.1 56h0M304.5 50.7h0M307.1 58.2h0M303.1 54.3h0M309.9 48.8h0M308.3 54.5h0M301 62.3h0M306.4 58.9h0M313.3 46.5h0M311.6 47.4h0M304.8 59.3h0M308.8 59.1h0M302.3 51.3h0M299.1 66.4h0M307.4 53.1h0M306.1 58.4h0M307.2 62.1h0M305 54.8h0M306.4 55.3h0M302.9 50h0M307 43.5h0M308.5 53.9h0M304.8 50.7h0M308.5 48.2h0M297.7 62.5h0M301.8 61.4h0M311.1 43.9h0M312.4 52.2h0M306.1 54.7h0M304.6 56.9h0M299.8 59.3h0M306.6 57.1h0M308.3 49.7h0M298.9 53.5h0M307.4 55.5h0M307.1 60.4h0M306.9 53.9h0M300.4 65.3h0M307.3 56.8h0M298.8 53.6h0M311.3 40.5h0M305.6 53.2h0M300.2 63.4h0M310.7 48h0M309.9 62.6h0M302.4 60.3h0M314.2 42.3h0M300.9 54.5h0M306.4 60.9h0M310 59.8h0M295.6 57.4h0M309.2 52.8h0M304.8 58.2h0M305 53.4h0M300.6 60.9h0M306.5 63.3h0M300.5 54.5h0M301 60.9h0M303.2 61.2h0M300 64.8h0M311.6 49.9h0M299.6 62.6h0M301.9 54.4h0M303.8 57.4h0M305.1 50.3h0M308.4 55h0M308.5 56.1h0M303.8 65.3h0M303.5 61.4h0M305.2 51.9h0M308.5 38.9h0M308 59.2h0M302.9 61.5h0M296.5 59.3h0M314 47.3h0M309 55.9h0M306.2 54.2h0M306.5 61.8h0M302.9 58.1h0M300.9 53.8h0" stroke="#c070b0" stroke-width="0.9" stroke-linecap="round" stroke-opacity="0.35" fill="none"/>
<path d="M295.7 69.5h0M291.4 69.3h0M289.4 72.1h0M304.5 71.5h0M287.7 71.4h0M309.5 64.3h0M305.8 64.7h0M298.1 60h0M292.4 74.5h0M300.3 68.4h0M300.2 66.1h0M307.6 68.6h0M295.2 75.8h0M297.6 72.1h0M299.8 63.8h0M298.3 70.5h0M295.9 67.1h0M288.7 75.6h0M289.2 69.9h0M295.6 73.2h0M298.6 73.1h0M306.8 66.2h0M315.5 63.9h0M311.5 58.4h0M302.7 75.5h0M312.6 62.6h0M299.3 61.4h0M296.6 63.4h0M315.5 65.9h0M293 74h0M297.4 71.9h0M298.4 67.8h0M309.8 64.9h0M296.2 68.3h0M305.3 64.4h0M297.4 74.5h0M292 76.4h0M301.7 74h0M301.2 74.7h0M292.4 71.5h0M294.4 69h0M294.8 58.4h0M306.5 64.3h0M303.2 67.7h0M301.7 61.6h0M303.4 71.2h0M296.9 68.1h0M303.3 63.2h0M296.1 66.2h0M291.3 69.5h0M295.4 71.8h0M301.5 74.1h0M300.7 69.3h0M307.2 69.4h0M288.9 68.9h0M298.7 69.8h0M302.8 65.3h0M293.7 78.2h0M301.8 63.7h0M297.4 73.5h0M292.6 78.3h0M307.6 72.9h0M290.9 74.4h0M306.8 61.5h0M297.4 66.2h0M293.9 76.1h0M294.2 70.1h0M295.2 70.7h0M294.5 77.7h0M301.9 72.8h0M287.7 82h0M308.4 70.3h0M305.7 79.5h0M309.4 69.7h0M293.6 75.1h0M284.7 77.1h0M296 73.8h0M299 63.6h0M302.2 69.7h0M296.7 68.6h0M299.6 65.4h0M301.1 64.2h0M289.8 68.6h0M312.2 67.7h0M292.7 76.1h0M301.9 71.8h0M307.3 68.8h0M294.9 70.2h0M300.2 69.1h0M311 60.3h0M298.3 69.8h0M307.1 58.3h0M302.1 63.3h0M301.7 70.5h0M304.9 63.3h0M298.6 82.6h0M298.8 62.7h0M306.6 64.9h0M301.9 66.3h0M303.5 75.6h0M292.2 59.3h0M300.3 69.9h0M308.2 67h0M306.2 61.7h0M302.5 68.9h0M296.7 73.7h0M296.1 66.8h0M303.1 72.6h0M309.6 62.4h0M300.5 68h0M308.9 60.8h0M298.2 75h0M308.2 60.5h0M293.5 69.3h0M301.4 59.1h0M293.1 73.9h0M304.6 58.7h0M304 64.3h0M293.9 66.9h0M295.2 73.6h0M297.2 67h0M290.3 68.5h0M294 74.4h0M294.4 75.8h0M305.4 70.8h0M309.4 59.1h0M297.2 68.9h0M298.3 64.9h0M301.6 66.9h0M296.7 69.2h0M298.3 68.2h0M305.8 69h0M301.7 62.5h0M299.6 68.1h0M296.4 68.8h0M310 72.2h0M296.1 68.5h0M301 71.6h0M293.3 73.1h0M296.2 65h0M300.8 73.6h0M297.6 70.4h0M303.7 64.7h0M300.6 63.2h0M291 73.9h0M284.8 71.8h0M306.8 65.4h0M296.3 75.1h0M310 75.7h0M300.3 77.7h0M295.1 67.4h0M303.9 67.1h0M298.4 75.5h0M300.3 71.7h0M294 72.4h0M304.4 69.1h0M307.5 66.7h0M296.7 59.5h0M312 68.8h0M296.4 69.2h0M301.8 71.8h0M289.3 74.9h0M287.4 76.6h0M314.1 65.6h0M309.6 68.5h0M307.8 64.8h0M288.9 71.1h0M301.7 72.4h0M303 58.9h0M300.7 74h0M302.2 66.5h0M294.1 60.4h0M299.1 72.4h0M292.6 64.8h0M297.9 62.8h0M302.6 66.4h0M295 78.9h0M298.3 62.6h0M297.3 69.1h0M300.3 71.2h0M306.3 60.9h0M301.7 71.6h0M302.8 63h0M290.6 74.1h0M297.8 66.9h0M305.6 72.1h0M294.4 72.3h0M297.3 73.8h0M293.7 74h0M309 65.2h0M297.2 70.4h0M295.3 69.3h0M304.3 61.5h0M307.5 67.1h0M303.4 76.4h0M306.7 68.1h0M301.6 67.9h0M299.3 64.2h0M297.2 64.8h0M296.8 65.3h0M296.2 71h0M302.6 65h0M299.4 75.7h0M300.7 62.5h0M304.2 65.5h0M299.8 66.5h0M291 73.2h0M294.9 70h0M292.7 74.1h0M287.5 69.9h0M300.8 74.7h0M292.2 66.6h0M291.6 68.7h0M293 61.4h0M305.9 67.2h0M298.1 69.8h0M306.8 65.8h0M299.5 68.7h0M297.2 70.1h0M303.9 72.7h0M304.1 72.7h0M300.9 71.1h0M293.2 72.1h0M297.1 75.2h0M292.3 76.5h0M298.4 70.6h0M300.7 65.1h0M310 66.7h0M309.5 62.7h0M304.6 62.8h0M306.5 63.2h0M301.6 70.2h0M318.5 65.1h0M310.3 74.4h0M317.7 66.6h0M302.6 65.8h0M302.9 73h0M307.1 60.3h0M301.4 61.7h0M302.2 69.8h0M293.5 66.4h0M306.4 73.5h0M301 73.3h0M305.5 68.8h0M298.6 69.1h0M288.3 73.1h0M303.4 71.7h0M307.9 57.2h0M291.6 69.9h0M293.6 69.3h0M298.1 66.2h0M298.5 68.4h0M288.8 73.2h0M311.8 67.8h0M306.8 74.3h0M296 63h0M288 76.6h0M302.5 75.8h0M313.3 68.5h0M305.6 74.5h0M307.8 57.1h0M293.8 68.9h0M301.6 61.7h0M290.1 64.9h0M313.3 62.1h0M303.9 64.9h0M286.1 76.3h0M287.8 72.8h0M303.3 70.6h0M301 68.3h0M298 72.6h0M304.2 61.6h0M313.4 61.2h0M302.5 68.5h0M288.1 80.1h0M299 65.9h0M291.4 67.2h0M294.7 70.7h0M302.2 74h0M298.9 67.1h0M293 66h0M299.9 77.7h0M294.6 67.7h0M303.6 76.1h0M298.4 68.9h0M302.6 59.8h0M298.3 68.8h0M305 65h0M299.1 70.5h0M300 68.8h0M296.3 58.9h0M301 62.3h0M288.2 73.7h0M317.8 65.2h0M295.5 70h0M300.7 58.3h0M296.9 68.7h0M296.8 64.5h0M302.7 69.6h0M296.6 75.7h0M297.2 63.4h0M290.8 71.9h0M293.9 74.2h0M292.2 74.3h0M312 68.3h0M291.1 74.2h0M292.9 78.1h0M301.3 62.8h0M309.5 64.1h0M288.7 67.6h0M289.7 73.4h0M300.8 66.9h0M302.2 67.3h0M290.6 66.1h0M288 68.6h0M293.6 69h0M305 70.3h0M299.7 74.4h0M304.9 71h0M299.3 71.9h0M299.8 71.3h0M304.1 73.3h0M299.2 61.3h0M301.5 67h0M293.9 79.9h0M296 75h0M303.1 74.1h0M298.4 68.1h0M295 65.3h0M304.3 72h0M303.6 64.8h0M299.9 70.1h0M294.9 64.9h0M305.9 60.6h0M316.6 62.4h0M294.5 67.1h0M289.7 71.9h0M294.8 72.1h0M293.7 76h0M291.5 69.8h0M292.1 71.5h0M305.6 68.9h0M305.7 67.4h0M309.8 66.7h0M304.9 72.1h0M296.8 72.2h0M307.2 61.3h0M295.9 71.1h0M297.6 63h0M292.1 76.5h0M308.1 72.6h0M306.7 66.2h0M296.8 66.1h0M297.9 72.4h0M300.2 65.8h0M301.3 64.1h0M305.5 62.1h0M300.4 69.2h0M302.6 68.2h0M289.9 79.4h0M297.9 69.3h0M288 71.1h0M311.8 58.7h0M309.2 71.9h0M304.7 71.3h0M307.3 71.2h0M313.2 60.6h0M306.2 78.6h0M289.3 77h0M298.5 59.7h0M284.2 70.4h0M294.5 76.5h0M291.6 71.5h0M299.8 64.9h0M302.5 65.5h0M293.7 71.7h0M298 73h0M301.7 64.4h0M298.8 69.1h0M298.7 65.4h0M283.9 71.7h0M296.9 71.8h0M305.1 60.6h0M301.6 70.6h0M290 69.8h0M298 72.3h0M301.6 69.3h0M293.4 71.9h0M304.3 70.5h0M294.5 69.3h0M297.6 63.4h0M299.1 60.4h0M314.7 57.7h0M297.7 70.2h0M296 63.2h0M304.6 65.4h0M296.7 61.5h0M301.1 74.2h0M284.8 66.5h0M301.8 71h0M299.7 63.5h0M291.3 73.5h0M308.9 61.9h0M298.3 70.6h0M298.5 77.8h0M291.1 75.9h0M289 73.2h0M296.1 69.8h0M289.7 82.1h0M303.1 73.3h0M305.6 70.4h0M295.6 71h0M289.1 71h0M297.2 73.4h0M292.8 77.9h0M300.9 67.1h0M301 70h0M297 65.6h0M300.3 71.1h0M306.8 63.8h0M311.2 69.5h0M296.4 68.6h0M304.6 67h0M298.2 67.2h0M292.8 75.2h0M308.4 66.8h0M302.4 71.9h0M300.8 69.3h0M302.2 65.2h0M298.7 55.4h0M292.8 70.7h0M311.6 62h0M305.8 66.5h0M301.6 63.1h0M306.2 64.8h0M308.4 61.4h0M298.5 67.6h0M303.7 56.6h0M297.7 63.1h0M304.1 75.3h0M298.1 67.9h0M316 63.6h0M297.4 79.6h0M303.2 71.7h0M302.9 70h0M297.6 72.8h0M306 66.3h0M299.3 77.2h0M297.1 66.2h0M299.8 65.2h0M294.8 68.7h0M307.8 67.9h0M304 67.5h0M306.3 69h0M290.8 66.2h0M301.6 65.9h0M294.7 61.2h0M300.4 70.3h0M308.3 59.6h0M301.5 70.9h0M298.6 69.9h0M307.3 71.3h0M306.5 64.4h0M312.1 65.4h0M287.4 69.6h0M302 61.3h0M297 69.9h0M294 68.8h0M300.6 64.4h0M292.1 71.4h0M284.9 75.7h0M293.8 68.9h0M298.1 67h0M312.2 61.5h0M295 66.4h0M292 74.2h0M286.6 70.7h0M297.5 63.8h0M298.2 71.4h0M300.8 66.8h0M290.2 74.5h0M294.7 69.5h0M284.7 65.3h0M300.9 67.7h0M289.4 76.3h0M281.5 72.7h0M307.5 65.5h0M303.2 62.7h0M302.1 74.4h0M302.1 72.3h0M292.9 71.2h0M307 73.8h0M292.8 65.7h0M312.5 74.2h0M301.3 72.1h0M287.5 79.2h0M305.6 70h0M312.9 61.2h0M298.1 66.5h0M306.9 62.4h0M298.4 66.4h0M295.6 79.3h0M282.6 72.5h0M308 74.8h0M296.9 72h0M302.3 69.8h0M292.3 73.5h0M293.8 68.3h0M307.3 70.3h0M297.3 61.6h0M297.2 66.8h0M291.4 65.9h0M301.2 64.9h0M305 63.1h0M296.8 69.9h0M298.6 60.2h0M291.7 76h0M309.2 63.9h0M295.7 70h0M298.8 70.1h0M311.1 64h0M298.3 72.6h0M289.5 67.9h0M293.7 67h0M297.4 69h0M311.7 61.8h0M301.3 73.1h0M298.3 77.5h0M305.4 69.8h0M308.6 67.2h0M294.8 58.9h0M309.4 66.9h0M305.6 62.3h0M302.9 64h0M284.1 63.8h0M301.2 67.8h0M309.2 63h0M298 70.2h0M315.3 68.1h0M300.4 73.2h0M293.1 74.4h0M303.9 61h0M301.9 66.9h0M305.5 67.8h0M298.4 69.1h0M308.6 68.7h0M296.2 70h0M300.8 68.7h0M291.5 68.3h0M294.5 66.2h0M301.3 75.8h0M295.5 69h0M296.9 63.4h0M298.5 73.8h0M301.6 69.4h0M305.1 66.4h0M305.1 62.2h0M306.8 64h0M301.3 69.3h0M296.3 67.5h0M289.3 67.2h0M297.6 67.6h0M294.6 61.8h0M287.7 70.4h0M311 70.2h0M287.6 76h0M302.3 68.6h0M303.7 68.6h0M298.4 66.4h0M317.3 61.9h0M300.1 60.8h0M294.8 66.6h0M311.8 58.4h0M294.6 73.8h0M290.3 73.6h0M293.2 67.6h0M295.6 69.6h0M300.2 65.8h0M302.2 66.9h0M289.7 74.6h0M302.3 60.2h0M315 59h0M295.1 77.3h0M299 71.8h0M304.6 67.2h0M308.1 63.2h0M295.4 70.4h0M293.4 76.9h0M293.1 66.9h0M307.3 67.4h0M306 61.4h0M285.3 71.7h0M285.5 68.4h0M291.6 67.4h0M289.8 67.7h0M302.7 70.2h0M301.4 63.6h0M313.2 63.8h0M305.3 72.8h0M300.8 70.2h0M307.9 67.8h0M293.9 68.3h0M290.5 68.4h0M300.2 73.7h0M306.3 63.5h0M289 72.2h0M306 71.7h0M305.7 63.1h0M296.6 73.2h0M301.1 73.8h0M298.1 65.8h0M300.5 64.4h0M305.4 70h0M294.5 65.5h0M307 62h0M305.8 69.3h0M306.1 57.7h0M286.6 72.9h0M287.4 71.4h0M304.6 78.1h0M296 66.9h0M295.3 72.9h0M294.8 68.2h0M290.9 79.2h0M298 64h0M295.1 63.5h0M295.5 61.4h0M303.2 81.1h0M291.9 68.4h0M307.5 64.8h0M284.9 86.9h0M316.9 66.9h0M290.7 71.8h0M303.9 61h0M306.1 70.6h0M299.9 67.7h0M305 67.4h0M299.2 67.2h0M288 74h0M302.3 63.9h0M307.7 61.9h0M296.2 75.9h0M288.4 66.9h0M295.9 73.2h0M302.1 69.2h0M302 62.9h0M307.4 65.9h0M303.7 64.8h0M303.4 64h0M286.4 69.9h0M315 66.5h0M300.3 72.8h0M305.8 63.7h0M297.6 65.8h0M298.9 67.3h0M300.3 69.3h0M310.6 61.5h0M310.2 65.6h0M304.1 73.5h0M313.4 63.2h0M297.3 67.1h0M303.5 64h0M296.9 73.5h0M308.7 69.3h0M300.2 67h0M306.6 68.6h0M311.7 65.3h0M285.9 68.5h0M314.7 62.3h0M302.1 59.6h0M297.8 67.8h0M287 64.6h0M297.9 64.3h0M284.4 61.6h0M300.6 68.2h0M298.8 69.2h0M312.4 58.8h0M297.8 71.5h0M307.3 68.4h0M307.9 64.9h0M314 62.5h0M298.3 75.3h0M305.2 65.7h0M289.7 72.9h0M292.5 70.8h0M298.1 68.2h0M299.9 69.3h0M291.7 66h0M297.2 67h0M304.8 67.8h0M296.9 68.9h0M299 64h0M294 66.6h0M309.4 59.8h0M312.2 65.3h0M301.4 67.3h0M299.2 59.4h0M311.4 65.1h0M303.3 59.7h0M295.5 65.8h0M290.8 73h0M296 75.8h0M315 60.9h0M296 72.7h0M319.8 65.6h0M300 76.1h0M298.6 63.3h0M309.1 65.1h0M298.4 68.7h0M302.6 65.7h0M293 69.3h0M291.6 70.4h0M295 67.4h0M301.6 69.1h0M295.5 81.3h0M286.7 68.9h0M303.3 65.4h0M298.9 68.5h0M298.1 61.6h0M295.9 75.8h0M284.7 86h0M310.9 58.3h0M296.8 67.4h0M303.7 74.6h0M309.6 67.3h0M307.8 63.1h0M301.4 73.3h0M300.1 65.7h0M302.2 58h0M306.3 60.1h0M304 67.2h0M297 67.7h0M303.1 71.6h0M302.7 66.9h0M304.8 68.3h0M301.5 72.3h0M309.4 71.5h0M301.4 59.1h0M306.1 66h0M300.4 72.8h0M296.2 71.3h0M293.6 63.5h0M299 61.2h0M303.7 69.9h0M308.7 64.8h0M299.5 64.4h0M296.5 70.9h0M296.6 74.6h0M308.9 70h0M300.8 68h0M296.7 72.8h0M305.1 72.6h0M291.1 72h0M300.9 63.8h0M299.8 65.3h0M299.2 69.6h0M292.2 62h0M306.8 69.8h0M311.6 65.2h0M291 77.2h0M300.9 64.5h0M304.5 67.5h0M315.5 71.3h0M297.2 72.9h0M293.6 62.1h0M300.1 65h0M313.8 63.7h0M300.6 64.2h0M301.9 75h0M312.2 68.4h0M285.5 78.6h0M285.3 76.5h0M306.3 68.2h0M305.4 64.3h0M290.6 66.6h0M303.6 62.8h0M300.4 56h0M301.6 70.1h0M294.6 70h0M297 66.9h0M294.1 73.8h0M300.4 69.5h0M298.5 66.9h0M311.6 68.9h0M304.4 64.9h0M289.3 66h0M302.9 72.5h0M309.9 75.7h0M302 67.4h0M307.5 70.8h0M299.9 67.6h0M304.9 68.9h0M293.7 68.8h0M305.5 61.6h0M290.7 67.4h0M308.9 67.3h0M289.8 76.7h0M285.6 83.9h0M303.7 77.1h0M298.9 72.3h0" stroke="#625c6c" stroke-width="0.85" stroke-linecap="round" stroke-opacity="0.35" fill="none"/>
<path d="M323.8 80.4h0M318.4 80h0M318.9 77.1h0M311.9 76.2h0M311.5 77.1h0M311 81.8h0M327.4 80.7h0M309.1 78.5h0M327.7 79.1h0M316.6 72.9h0M326.7 75.5h0M324.6 76.3h0M328.2 79h0M331.2 81.2h0M317.3 76.2h0M316 79.1h0M319.7 79.2h0M317.4 80.7h0M327.4 79.5h0M321.9 78.6h0M322.8 71.3h0M325.6 76.8h0M319.4 79.3h0M330.4 76.8h0M309.7 78h0M324.3 74.8h0M326.2 76h0M317.2 66.3h0M317.8 81.7h0M329 79.8h0M320.4 78.5h0M309.1 74.9h0M313.1 74h0M329.7 83.4h0M316.4 80.1h0M331.8 78.9h0M332.2 76.4h0M321.2 82.5h0M326.4 85h0M316.8 73h0M319.7 74.7h0M317.6 73.4h0M326.7 82.9h0M313.5 77.6h0M321.6 77.4h0M322.9 76.8h0M326.2 79.5h0M307.6 76h0M309.9 72.3h0M316.3 79h0M320.9 80.2h0M323.5 80.2h0M323.9 80.6h0M336.7 80.4h0M327.1 80h0M326.6 80.8h0M319.1 72.4h0M328 78.2h0M327.3 80.5h0M327.2 74.4h0M321.7 80.4h0M326.9 79.2h0M333.2 80.6h0M316.9 79.6h0M307.3 77.2h0M328.2 79.1h0M327.6 84.8h0M320.8 79.6h0M319.3 76.9h0M341.8 80.8h0M319.2 76.7h0M313.9 68h0M319.1 75.3h0M326 79.6h0M318.2 78.1h0M319.7 77.9h0M324.6 77.1h0M319.4 79h0M323.3 72.8h0M322.1 82.5h0M315 74.7h0M322.9 76.6h0M314.3 81.3h0M329 77.2h0M315.9 75.1h0M320.8 80.5h0M309.7 67.4h0M319.3 75.2h0M313.7 78.1h0M332.9 82h0M321.6 81.1h0M326.1 78.1h0M310.1 76h0M313.7 82.2h0M321.2 82.1h0M312.9 79.4h0M330.4 81.3h0M319.6 79.3h0M323.5 81.1h0M324.5 76.4h0M321.3 74.6h0M327.8 79.1h0M317.7 85.8h0M325 79.4h0M330.8 77.8h0M323.9 79h0M323.3 77.5h0M320.1 77.6h0M322.8 84.1h0M327.1 88.8h0M320.7 75.8h0M310.6 78.3h0M323.5 77h0M321.3 79.4h0M325.7 79.6h0M322.7 73.3h0M333.4 84.8h0M314 77h0M315.6 81.3h0M326.9 78.9h0M315.2 75.3h0M324.6 76.3h0M322.3 77.8h0M308.7 81.2h0M327 78.3h0M331.9 76.7h0M323.8 74.9h0M312.6 68.6h0M327.8 77.2h0M315.1 80.9h0M321.5 80.2h0M325.2 78.6h0M316.9 73.5h0M310.6 80.6h0M321.4 74.8h0M322 75.9h0M316.4 80.6h0M316.9 75.2h0M327.5 82.2h0M321.7 78.3h0" stroke="#88aa94" stroke-width="0.85" stroke-linecap="round" stroke-opacity="0.35" fill="none"/>
<path d="M301 71.5h0M286.2 85h0M309.6 81h0M303 78.1h0M292.5 76.9h0M308.7 77.3h0M302 86h0M309.4 77.7h0M290.2 79.1h0M310.8 66.1h0M299.1 72.2h0M283.7 79h0M304.2 81.5h0M296.5 76.6h0M291.3 83.3h0M297.2 77.1h0M284.6 77.9h0M303 78.9h0M297.2 76.9h0M296.8 79.3h0M309 78.8h0M299 71.6h0M293.9 76h0M291.8 79.8h0M298.3 80.9h0M306.5 76.1h0M294.5 76h0M291.2 75.2h0M305.4 71.1h0M299.2 75.9h0M298.5 82.3h0M313.9 67.8h0M289.9 74.1h0M300.2 74.3h0M285.8 73.9h0M296.5 84h0M303 78.8h0M306.9 78.9h0M289.5 74.1h0M304.8 81.8h0M304.4 78.4h0M297.8 71.8h0M316.6 73.1h0M298.7 79.3h0M292.3 71h0M301.8 82.7h0M285.2 77.5h0M310.1 77.3h0M305.9 74.9h0M295.8 79.2h0M303.2 80.6h0M302.6 76.5h0M312.8 81.4h0M294.2 76.2h0M289.3 80.2h0M283.9 75.8h0M296.6 79.8h0M287.3 81.8h0M297.5 76.3h0M301.7 72.5h0M295.5 86.5h0M291.8 78.1h0M307.4 74.2h0M297.3 83.6h0M300.4 81.1h0M305.6 74.4h0M289.2 82.2h0M292 81.1h0M316.9 68.8h0M297.6 81.7h0M291.1 82.1h0M296.9 87.3h0M294.5 82.7h0M289.8 83.8h0M295.7 71.3h0M298.6 72.9h0M298.6 82.9h0M302.6 69.4h0M286.1 76.2h0M287.8 79.8h0M304.5 73.9h0M295.5 76.6h0M307.6 79.8h0M300.9 84.6h0M288.4 82.6h0M302.6 77.4h0M291.3 80.1h0M300.6 80.5h0M307.7 72.8h0M314.1 80.3h0M298.2 74.3h0M303.8 79.1h0M300.9 77.1h0M304.5 81.6h0M280.2 80h0M295.9 81.3h0M300.8 84.5h0M302.1 77.5h0M293.2 78.6h0M304.7 73.8h0M306.7 75.7h0M299.2 81.8h0M297.1 80.4h0M296.1 88.1h0M299.7 82.2h0M307.3 71.6h0M309.6 70.4h0M295.3 75.1h0M292 77.4h0M293 76.1h0M305.9 75h0M300.3 84.6h0M300.9 81h0M302.2 72.6h0M301.4 72.7h0M297.8 76.9h0M291.2 79.9h0M294.2 79.9h0M299.6 79.9h0M301.6 81.2h0M296 85.8h0M295.7 77.6h0M308.6 78.5h0M295.3 79.1h0M300.3 70.7h0M296.4 75.7h0M292.5 81.4h0M287.7 76.8h0M294.8 84.3h0M292.8 74.3h0M304.9 76h0M290.4 79.6h0M295.7 75.9h0M303.5 71.4h0M297.9 79.8h0M302.3 81.4h0M304.8 68.6h0M286.7 79.2h0M295.7 72.1h0M291.8 81.3h0M308.5 75.1h0M297.9 80.5h0M302.3 74.8h0M311 77.5h0M296.1 80.8h0M299.3 71.5h0M301.7 76.1h0M296.8 86.2h0M307.8 77.7h0M304.6 80.8h0M306 81.9h0M299.1 80.1h0M296.2 80h0M296.2 78h0M296.1 81.3h0M286.9 86.7h0M301.3 79.7h0M304.6 73.6h0M298.6 83.3h0M295.1 75.7h0M299 75.9h0M300.3 79.4h0M301.1 76.3h0M311.7 79.3h0M292.5 80.2h0M301.3 81.6h0M303.7 75.4h0M299.3 72.2h0M297 80.8h0M291.3 73.9h0M294.4 86.9h0M303.8 80.8h0M309.1 80.7h0M294 71.4h0M302.1 79.8h0M302.4 74.2h0M305.9 85.2h0M300.5 77.2h0M301.9 75.2h0M305.1 77.2h0M290.3 89.8h0M299 77.1h0M286 76h0M284.6 74.1h0M292.8 76.9h0M287.7 86h0M302.3 78.2h0M305.8 73.3h0M296.5 81.4h0M297.7 75.7h0M297 80h0M296.8 77.7h0M299.7 74.6h0M301.2 80.4h0M295.4 66.6h0M293.1 77.9h0M295 76.9h0M304.4 80.2h0M295.7 77.9h0M309 77.7h0M297 83.9h0M308.4 82.9h0M290.2 77.7h0M293.7 78.8h0M302.1 88.1h0M302.2 86.1h0M297.6 79.2h0M313.2 76.4h0M299.2 75.3h0M300.7 82.6h0M294.6 75.9h0M310.5 77.7h0M304.8 79.2h0M301.6 78.1h0M287 75.2h0M301.3 75.3h0M295.3 74.6h0M301.5 80.3h0M305.2 78.2h0M293.3 83.2h0M300.2 79.9h0M304.9 78.7h0M299.8 79.6h0M296.3 75.2h0M291.1 77h0M293.9 75.3h0M289.6 78.4h0M305.7 72.6h0M299.4 77.3h0M290 74.9h0M298.6 75.8h0M289.5 75.9h0M275.3 80.8h0M307.2 81.9h0M307 82.7h0M288.2 71.1h0M293.6 76.9h0M300.1 75.9h0M295.9 78.8h0M292.6 80.4h0M295 66.6h0M296.9 82.6h0M294.7 78.5h0M300.1 77.9h0M297 82.6h0M293.2 83.6h0M298.8 80.7h0M286.9 80.6h0M308.9 78.6h0M286.3 76h0M298 82.7h0M301 75.9h0M301.6 71.5h0M300.5 74h0M307.6 81.4h0M290.7 90.8h0M298.1 74.5h0M299.7 75.7h0M295.1 80.6h0M294.4 73.1h0M307.7 78.4h0M293.6 78h0M295.2 82.5h0M296.7 76.8h0M297.1 79.8h0M299.8 79.7h0M297.2 73.6h0M301.3 76.7h0M299.6 83.8h0M302 74.6h0M308.3 73.3h0M292.6 81.9h0M310.3 78.1h0M295.4 78h0M303.3 78.3h0M299.7 77.2h0M296.5 75.4h0M284.7 81.5h0M310 68h0M293.3 81.4h0M293 80.7h0M306.1 69h0M299.1 68.1h0M312 76.1h0M310.5 77.2h0M303.6 81.6h0M300.4 73h0M304 76.5h0M289.3 82.4h0M299.8 76h0M299.6 72.1h0M295.3 75.4h0M300.4 68.7h0M288.3 74.3h0M304.9 75.3h0M307.7 76.9h0M289.5 76.7h0M299.6 72.8h0M309.5 73.1h0M301.5 73.2h0M291.3 77.8h0M291.6 75.5h0M304.6 72.2h0M311.5 77h0M290.9 84h0M298.8 70.8h0M293.1 76.1h0M296.6 79.9h0M300.7 76.6h0M298.3 78.9h0M293.7 85.3h0M313.4 76.9h0M297.5 83.8h0M297.3 77.2h0M306.4 77.4h0M298.7 73.2h0M297.1 78.5h0M305.2 75.5h0M291.3 79.9h0M303.8 78.8h0M305.8 82.7h0M303.2 73.3h0M297.3 77.3h0M298.5 80.2h0M286.5 78.4h0M297.6 79.6h0M300.6 80.5h0M304.6 76.1h0M299.6 72.8h0M295.8 79.3h0M292.7 84.3h0M298.2 80.4h0M299.5 70.4h0M307 80.1h0M298.6 73h0M295 79.2h0M297.8 74.9h0M295.2 78.7h0M296.9 84.5h0M283.1 81.3h0M287.4 70.6h0M290.2 79.4h0M301.8 75.2h0M298 79.3h0M299.6 78.3h0M306.7 75.6h0M291.3 76.8h0M306.6 67.9h0M301.2 77.6h0M293.6 79.2h0" stroke="#3a8a5e" stroke-width="0.85" stroke-linecap="round" stroke-opacity="0.35" fill="none"/>
<path d="M283.2 81h0M281.3 76.9h0M284.4 83h0M277.7 80.6h0M283.6 81.3h0M281.9 82.8h0M307.3 69.2h0M292.2 78.9h0M285.4 84.7h0M286.5 82h0M286 77.2h0M288.3 63.2h0M283.8 76.1h0M286.8 67.6h0M294.6 72.7h0M293.1 90.2h0M289.2 74.4h0M296.9 81.1h0M288.6 85.9h0M279.5 85.7h0M273.8 67.9h0M281.7 88.6h0M286.4 81.4h0M289.9 69.2h0M295 71.5h0M282.6 89.3h0M280.8 79.1h0M292.7 79.7h0M295.7 77h0M283.3 73h0M289.4 80.6h0M297.2 77.6h0M289.3 67.3h0M286.5 89.5h0M271.3 82.5h0M296.8 72.5h0M291.7 84.6h0M287.8 81.3h0M283.4 86.5h0M277.5 78h0M286.1 81.5h0M286.1 72.3h0M295.1 69.2h0M277.8 78.6h0M297.7 77.9h0M287.2 75.6h0M295.8 75.4h0M279.6 86.6h0M289.5 69.8h0M296.1 74.2h0M287.8 72h0M275.9 88.2h0M284.4 72h0M290.9 62.8h0M276.4 75.1h0M276 88.8h0M288.7 76.8h0M279.8 79h0M292 75h0M278.1 80.4h0M273.1 76.5h0M281.1 81.4h0M298.1 73.8h0M280.4 83h0M286.9 76.7h0M288.7 70.5h0M279.8 81.8h0M295.1 71.5h0M288.2 82.9h0M290.2 79.2h0M274.3 81.1h0M273.8 71.5h0M266.2 86h0M285.5 69.6h0M285.2 87.3h0M292.3 77.4h0M298 69.4h0M285 73.1h0M284.9 84.3h0M290.3 84.8h0M298.4 69.6h0M280.7 86.7h0M291.6 72.7h0M285.1 81.1h0M284.4 77.9h0M293 61.1h0M281 68.2h0M278.9 73.3h0M291.9 85.5h0M286.7 75.3h0M284.9 77.4h0M285.9 78.2h0M290.6 67.9h0M284.1 89.2h0M292.7 74.3h0M290 76h0M298 80.3h0M296.4 64.3h0M293.3 84.6h0M285.4 77.5h0M287.8 76.7h0M282.5 92.6h0M308.3 83h0M285.3 84h0M291.1 71.4h0M297.1 69.3h0M276.7 75.3h0M280.7 76.9h0M284 92.4h0M279.5 77.3h0M277.4 82.4h0M283.1 70.4h0M296.6 66.8h0M292.4 61.7h0M287.2 72.7h0M287.2 72h0M274.5 86.4h0M292.2 75.9h0M290.1 85h0M278.8 72.9h0M288.5 85h0M285.5 79.1h0M283.1 83.5h0M279.5 81.8h0M281.9 75.3h0M279.9 82.4h0M290.4 75.3h0M289.7 83.5h0M289.4 67.8h0M285.6 81.9h0M283.9 71.3h0M302.3 60.6h0M273 95.9h0M295.9 82.4h0M289.6 78.3h0M287.5 69.6h0M283.2 81.3h0M285.3 75.2h0M278.1 83.8h0M276.6 75.5h0M286.1 85.6h0M274.6 74.1h0M293.3 96.1h0M295.3 88.4h0M261.2 70h0M275.3 78.3h0M289 83h0M288.6 62.6h0M287.8 70.3h0M290.1 69.4h0M292.6 79.2h0M293.5 72.2h0M300.4 71.7h0M287.2 88.4h0M293.4 72.4h0M274.8 80.8h0M286 69.1h0M277.9 70.4h0M297.4 79.8h0M304.5 78.3h0M291 75.4h0M277.3 74.8h0M286.2 80.3h0M287.2 78.2h0M288.5 73.1h0M295.2 73.2h0M294.1 68.5h0M267.2 79.4h0M297.2 81.5h0M283.3 89.8h0M282.8 72.8h0M297.6 77.8h0M285 80.1h0M276.7 81.2h0M277.1 89.7h0M287.4 80h0M293.8 93.5h0M298.3 78.1h0M285.7 83.6h0M283.5 65.8h0M299.2 72.3h0M283.6 79.5h0M297.9 74.4h0M288.8 72.3h0M288.8 82.2h0M285.3 79.3h0M289.2 79.4h0M283.5 61.5h0M281.9 77.9h0M286 90.7h0M282.1 73h0M289.3 59.8h0M287.7 83.7h0M285.1 54.6h0M285.5 78.1h0M285.3 71.1h0M300 78.9h0M287 79.3h0M282.6 86.5h0M284.8 84.9h0M292 90.9h0M285.5 70.1h0M285.9 85.3h0M285.1 75.3h0M288.2 75h0M289.9 81.3h0M290.3 76.6h0M274.8 80.3h0M279 82.2h0M267.3 80.6h0M293 76.1h0M295.3 82.8h0M296.7 84.4h0M288.1 83h0M295.6 75.2h0M286.7 68.3h0M286.1 67.8h0M275.5 77.4h0M281.2 72.2h0M282.6 77.5h0M293.9 68.9h0M299.4 74.4h0M283.5 75.5h0M289.8 78.9h0M289.1 77.2h0M281.2 65.8h0M274.1 87.8h0M281.4 78.5h0M276.3 83.4h0M284.6 71.5h0M285.9 65.5h0M285.6 79.8h0M285.7 96.4h0M290.6 72.7h0M280 74.6h0M293.6 87.7h0M274.5 81.4h0M287.5 77.9h0M289.9 92.6h0M281.1 74h0M275.1 76.7h0M291.8 75.1h0M282 85.6h0M292.8 81.3h0M292.7 80.8h0M286.9 74.3h0M287 84.2h0M294.4 66.4h0M289.8 74.5h0M280 93.5h0M288.2 66h0M291.1 75.7h0M288.5 81h0M288.4 76.6h0M285.9 90.1h0M286.1 76.4h0M280 95.4h0M276.3 86.4h0M295.4 66.9h0M282.2 69.9h0M288.6 79.6h0M275.8 86.1h0M288.2 71.1h0M280.8 79h0M309.1 72.2h0M279.4 74.7h0M279.8 86.1h0M294 71h0M295.5 90.4h0M271.3 70.5h0M288.9 87.9h0M293.5 80.7h0M277.9 83.7h0M292.1 71.8h0M283.1 73.2h0M279.5 76.5h0M284.4 74.4h0M283.5 75h0M276.6 79.9h0M303.6 87.6h0M283.6 93.8h0M281.4 94.2h0M293.3 76.8h0M286.4 79.3h0M296.9 76.8h0M285 76.5h0M289.6 78.8h0M287.7 84.3h0M288.2 87.6h0M285.4 90.8h0M286.2 69.5h0M299.4 69.3h0M281.9 87.7h0M282.9 80.2h0M284.4 75.1h0M291.2 66.1h0M290 81.2h0M293.9 75.2h0M277 71.6h0M288.9 89.1h0M285.7 82.9h0M284.8 78.3h0M288.2 82.4h0M272.3 65.9h0M289 71.4h0M288 76.2h0M276.4 86.1h0M286.3 71.9h0M298.5 71.3h0M284.1 81.7h0M291.4 79.9h0M285.3 87.9h0M280.9 79.3h0M280.1 73h0M284 71.4h0M296.6 72h0M293 71h0M281.7 82.6h0M294.4 79.6h0M286 69.7h0M281.8 75.5h0M290.2 82.5h0M280.2 75.5h0M275.3 74.1h0M296.6 71.2h0M273.4 79.4h0M291 80.5h0M275.7 77h0M286.8 66.2h0M285.5 77h0M283.7 82.8h0M270.8 78.3h0M286.2 86.2h0M286.7 76.2h0M280.3 80.9h0M286.5 71.3h0M294.3 75.7h0M281.7 71.5h0M288.9 61.8h0M278.5 80.7h0M289.8 82.9h0M291.7 73.8h0M305.3 75.1h0M293.7 75.6h0M290.2 81.2h0M297.4 72.1h0M279.6 78.6h0M294.9 91h0M283 80.1h0M282.4 76.3h0M295.1 68.3h0M288.7 81.3h0M296.8 81.4h0M276.3 71.9h0M289 81.5h0M283.1 77.7h0M285 74.9h0M272.9 75.2h0M293.9 76.5h0M288.6 85h0M279.8 72.2h0M277.1 82.4h0M280.6 82.4h0M297.3 62.3h0M286.3 71.9h0M284.6 85.4h0M290.7 80.4h0M287.1 79.4h0M288.8 82.5h0M292.5 89.7h0M289.5 71.9h0M293.5 71.4h0M278.3 77.7h0M287.5 80.4h0M284.5 76.8h0M287.9 73.3h0M286.8 84.8h0M282.4 80.8h0M284.5 82h0M294.1 71.8h0M283 76.7h0M278 88.1h0M291.5 81.1h0M294.3 64.6h0M285.1 84.7h0M288.1 76.6h0M281 83.1h0M285.6 69.6h0M295.3 76.7h0M293 79.7h0M288.2 85.5h0M285.1 79.8h0M275.2 74.3h0M289.5 72.8h0M290.5 86.1h0M294.9 65.9h0M302 76.8h0M289.9 84.4h0M294.2 75.7h0M279 83.4h0M296 80.1h0M293.5 80.9h0M297.2 76.6h0M292.1 80.3h0M290.5 88.7h0M298 72.3h0M282.3 82.1h0M291.9 68.9h0M295.1 72.8h0M281.5 74.6h0M278.8 78h0M290.4 68.5h0M288.1 79.8h0M291.7 83.7h0M291.9 74.6h0M281.6 97.1h0M289.7 79.8h0M295.5 74.9h0M284.7 81h0M285.2 69.7h0M279 74.5h0M293.2 76h0M301.5 77.9h0M277.3 72.2h0M292.8 81.4h0M293.9 79.4h0M283.2 73.5h0M284.6 74.3h0M279.7 65.5h0M281.6 80.3h0M288.5 90.2h0M292.1 72.5h0M288.1 69.2h0M293.5 77.8h0M288.8 67h0M278.8 67.3h0M297.9 80.4h0M296 79.5h0M282.1 87.1h0M300.3 71.8h0M290.7 72.4h0M288.3 73.6h0M301.3 83.6h0M269.1 86.2h0M275.6 89.5h0M292.5 87.7h0M285.5 87.2h0M280.4 89.6h0M298.4 77.1h0M290.9 74.3h0M278 75.3h0M282.5 78.8h0M293.5 81.2h0M300.4 75.6h0M272.7 76.6h0M289.2 79.5h0M284.6 77.9h0M274.6 82.1h0M286.2 81.5h0M275.7 79.7h0M283.5 86h0M299.2 68.7h0M291.1 87.6h0M293.1 73.7h0M291.8 86.2h0M290 67.2h0M294.5 70.7h0M278.9 84.8h0M284.8 81.3h0M293.7 84.3h0M282.1 79.1h0M284.2 75.6h0M296.2 59.1h0M298.6 85h0M283 70.3h0M281.5 82.8h0M291.7 75.2h0M289.4 71.6h0M282.5 75h0M291.8 74.2h0M291.5 78.4h0M288.1 77.8h0M308.9 73h0M297.4 68h0M293.4 86.6h0M295 79.8h0M309.1 82.3h0M295.5 82.8h0M282.2 84.1h0M289.8 70h0M288 63.4h0M283.3 69.5h0M289.4 85.4h0M289.3 77h0M287.1 85.5h0M283.9 75.5h0M293.6 68.2h0M275.8 75.9h0M293.5 70.9h0M287.6 78.8h0M289.5 90.6h0M270.1 94.1h0M299.8 76.3h0M274.8 76.2h0M281.2 70.4h0M292.2 79.3h0M283.1 78.1h0M284.5 76.6h0M271.2 73.6h0M284.3 78.8h0M289.1 84.8h0M292.5 69.7h0M285.4 75.4h0M289.1 75h0M290.7 85.7h0M282.6 78.7h0M282 90.3h0M301.9 88.7h0M281.3 80.5h0M296.6 79.1h0M288 73.9h0M298.3 66.3h0M282.8 78.9h0M291.3 65.2h0M290 81.3h0M285.9 73h0M289.8 85.9h0M281.9 78h0M286.9 80h0M284.6 79.7h0M293.1 72.9h0M286.9 90.5h0M277.3 78.8h0M284.8 83.7h0M286.8 77.1h0M280.9 76.4h0M297.3 78.6h0M290.5 79.8h0M293.7 84.4h0M281.9 75.1h0M284.6 82.8h0M294.9 73.5h0M277 89.2h0M290.2 68.2h0M288.2 84.5h0M283.9 70.7h0M288.2 80.7h0M279.6 75.6h0M289.2 78.5h0M278.6 74.9h0M278.2 79.4h0M297.8 67.5h0M282.4 74.2h0M272 76h0M294.7 65.4h0M281.9 83.5h0M261.6 73.7h0M287.1 77.4h0M294.3 86.5h0M290.1 74.2h0M300.2 76.9h0M286.6 66.7h0M291.9 80.3h0M280.1 78.8h0M288.7 76h0M298.8 88.5h0M291.2 73.8h0M288.7 84.2h0M273 71h0M284.8 67.2h0M278.1 79.5h0M293.3 87.4h0M282.1 77.6h0M290.2 76.2h0M280.2 74.3h0M301.4 77.3h0M278.9 87.3h0M288.6 78.6h0M306.9 80.5h0M289.1 65.7h0M281.1 83.7h0M292.1 81.3h0M294.8 76.8h0M294 84.9h0M273 83.3h0M289.1 78.4h0M271.9 83.8h0M301.5 77h0M288.1 69.4h0M284.1 75.5h0M292.5 85.8h0M291.1 80h0M278.8 74.4h0M299.5 80h0M285.8 77.6h0M274.6 80.3h0M297.9 72.4h0M298.9 77h0M296.8 77.1h0M291.6 82.8h0M281 76.6h0M294.5 82.8h0M301.3 63.8h0M293.6 76.9h0M299.4 77.2h0M281.8 73.6h0M295.1 77h0M294.5 76h0M276.5 80.1h0M275.5 84.8h0M282.2 84.9h0M288.2 82.3h0M290.9 69.7h0M285.9 82.3h0M287.1 80.6h0M286.7 80.9h0M288.2 73h0M291.9 63.8h0M291.3 83.3h0M287.2 74.2h0M289.5 76.7h0M284.2 80.4h0M293.5 73.4h0M283.8 86.9h0M299.8 70.1h0M287.4 76.4h0M289.6 84.1h0M281.9 68.2h0M285 72.6h0M288.8 69.8h0M287.7 87.5h0M283 80.4h0M279 82.8h0M287.9 73.6h0M288.7 68.6h0M291.7 89.8h0M296.9 76h0M285.3 79h0M272.8 73.8h0M286.5 78.2h0M273.9 88.7h0M278 80.8h0M295.3 83.3h0M291.8 82.2h0M282.8 78.4h0M282.9 81.8h0M286.9 76h0M274.5 90.2h0M291.2 61.7h0M285 69.9h0M301.3 70.6h0M279.7 87.8h0M295.1 90.8h0M282.5 84.4h0M295.2 78h0M280.3 64.2h0M293.1 68.1h0M284.3 81.9h0M281.5 70.8h0M286.5 69.8h0M291.2 77.1h0M290.6 69.2h0M299.4 73.5h0M293.7 81.1h0M268 89.1h0M284.6 79.1h0M272.8 73.8h0M284.7 87.3h0M292.3 87.7h0M277.6 75.9h0M278.8 97.4h0M288.7 65.5h0M285.5 81.1h0M299.4 70.8h0M290 65h0M291.6 86.7h0M300.7 82.5h0M283.9 63.5h0M287.6 79.7h0M280.2 79.9h0M289.5 75.9h0M295.3 69.4h0M297.8 67.2h0M287.3 77.1h0M282.3 81h0M281.9 79h0M277.2 77.6h0M288.5 68.9h0M297.8 75.1h0M269.9 68.8h0M271.4 86.4h0M298.1 72.4h0M275.6 68.2h0M290.1 68.8h0M278.2 77.2h0M293.5 82.6h0M293.5 81.5h0M288.9 78.6h0M293.8 74.6h0M288 79.4h0M291.9 86.7h0M301.3 80.3h0M295.9 72.9h0M282.7 73.1h0M281.7 88.1h0M285.9 80.5h0M286 89.2h0M288.2 81.4h0M283.2 55h0M292.6 76.5h0M288 80h0M290.4 81.2h0M287.7 85.8h0M292.3 89.3h0M278.7 79.6h0M299.5 77.5h0M290.3 67.5h0M291.1 88.1h0M292.3 74.1h0M295.8 67.4h0M293.2 89.8h0M289.5 73.1h0M286.4 88.7h0M275.4 76.5h0M289.3 67.7h0M285.4 78.2h0M285.4 76.3h0M305.7 79.2h0M273.8 78.3h0M288.2 70.2h0M296.8 77.4h0M294.9 77.4h0M297 73.5h0M278.3 74h0M280.6 89.9h0M292.4 76.5h0M285.5 82.7h0M300.6 72.2h0M289.5 70.6h0M289.2 75.4h0M291.1 68.6h0M285.7 84.7h0M288.7 80.3h0M282.7 85.2h0M287.5 77.4h0M284.2 77.8h0M289.7 78.7h0M277.2 87.7h0M276.6 80.2h0M291.2 80h0M289.5 73.4h0M280.6 80.8h0M286.1 70.3h0M280 77.6h0M303.1 87.4h0M276.1 81h0M300.6 85h0M281.7 72.4h0M291 67.6h0M285.9 78.3h0M285 75.3h0M294.8 86.1h0M293.9 91.6h0M285.7 81.8h0M281 80.6h0M303.4 85.1h0M298.4 75.3h0M288.9 75.5h0M285.6 73.8h0M290 67h0M288.5 72.2h0M296.8 78.6h0M280.6 78.3h0M288 73.7h0M282 85.7h0M297.6 67.2h0M301.4 69.3h0M287.2 79.4h0M291.9 81.3h0M298.4 50.5h0M285.6 72.5h0M280.9 72.7h0M295.7 64.4h0M291.7 70.5h0M286.3 76.6h0M298.8 71.1h0M289.6 83.5h0M274.5 75.3h0M290.5 87.5h0M287.4 75h0M302 71.5h0M287.7 88.1h0M286.3 65.2h0M291.1 84.8h0M289.7 70.4h0M277.3 83.1h0M288.8 75.5h0M285.4 82.5h0M298.4 59.2h0M305.8 67.6h0M279.5 67.1h0M280.6 73.7h0M281.6 74.1h0M283 77.5h0M282.7 80.2h0M288.3 73.5h0M296 75.1h0M278.1 80.4h0M276.4 88.8h0M274.1 82.1h0M296.2 72.1h0M297.8 79h0M276.4 77.3h0M275.7 80.7h0M288.9 84.3h0M296.1 82.2h0M295.5 81.2h0M289.3 79.3h0M293 78.4h0M290.3 69.7h0M283.7 85.6h0M302.2 88.7h0M287.9 73h0M279.6 82.1h0M284.4 79h0M276.3 62.6h0M288 67.8h0M296.1 72.2h0M278.4 72.9h0M296.3 75.3h0M303.6 68.4h0M290.7 81.1h0M279.2 83.8h0M281.5 81.8h0M285.4 67.5h0M278.3 68.9h0M278.5 83.3h0M286 70.1h0M286.5 78.8h0M292.4 69.6h0M278.9 81.3h0M301.9 68.7h0M295.9 76.9h0M294.6 78.3h0M283 78.5h0M300.9 74.2h0M285.3 81.9h0M301.5 84.2h0M295.9 64.8h0M281.2 81.3h0M284.5 90.3h0M301.9 90.2h0M295.4 94.9h0M286.7 81.8h0M289.4 68.2h0M289.4 88.1h0M282.1 80.7h0M286.4 90h0M283 71h0M284.7 75.6h0M291.4 74.7h0M280.7 69.7h0M293.3 65.5h0M288.7 70.5h0M293.6 80.3h0M294.6 85.2h0M297.2 82.8h0M292.6 88.4h0M293.2 64.5h0M286.6 79h0M292.2 75.9h0M281.1 77.4h0M286.1 64.3h0M293.5 80.2h0M287.5 69.6h0M291.2 74.8h0M280 79.9h0M298.2 88.5h0M283.6 72.1h0M290.9 81.9h0M287.7 80.6h0M294.9 74.7h0M285 77.3h0M280.4 71.3h0M273.7 84.5h0M285.6 76.8h0M278.9 77.2h0M291.9 76.6h0M298.7 71h0M271.2 82.1h0M278.2 71.1h0M290.2 81.8h0M297.2 85.5h0M290.2 77.3h0M290.3 69.1h0M291.7 80.2h0M292.2 80.9h0M300.2 77.6h0M292.5 75.5h0M278.6 80.3h0" stroke="#2a9a5e" stroke-width="0.85" stroke-linecap="round" stroke-opacity="0.38" fill="none"/>
<path d="M291 74h0M282.8 76h0M282.4 77.2h0M285.7 80.3h0M288.7 88.4h0M285.8 79.2h0M280.2 72.7h0M285.2 75.7h0M288 87h0M280.4 77.8h0M277.5 87.6h0M285.9 66.7h0M285.3 75.8h0M288 82h0M284 73.1h0M280.7 81.6h0M281.6 74.8h0M278.9 78.1h0M279.3 83.9h0M281.1 74.4h0M281.4 84.2h0M288.7 69.3h0M278 78.1h0M283.4 82.2h0M280.9 86.7h0M290.4 67.5h0M284.8 69.6h0M281.9 83.7h0M287.3 68.1h0M283.9 76.2h0M281.5 78.7h0M290.6 75.9h0M286.9 77.6h0M291.5 68.2h0M288.9 75.1h0M287.2 85.3h0M284.2 66.6h0M278.7 73.9h0M286.9 81.7h0M284 78.8h0M286.7 80.8h0M283.6 76.9h0M280.5 75.9h0M279.1 77h0M286.8 79.3h0M289.5 79.6h0M282.3 73.2h0M285.7 77.1h0M290 64.5h0M279.9 82h0M282.1 73.5h0M278.6 78h0M289 79.6h0M284.9 70.1h0M281.6 77h0M276.1 83.3h0M282.9 78.8h0M288.2 71h0M282.3 83.4h0M281.7 70.7h0M286.6 73h0M278.1 79.8h0M283.9 70.3h0M286.4 67.8h0M280.1 75h0M279.9 77.1h0M284.8 67.7h0M283.2 69.8h0M282.6 81.9h0M284.6 77.9h0M284.7 77.9h0M279.5 80.1h0M280.7 85.2h0M285.7 72.1h0M288.8 75.5h0M289.8 75.1h0M279.8 71h0M288.7 78.7h0M287.1 76.5h0M283.6 75.7h0M285.9 78.7h0M287.5 76.7h0M291.8 71.4h0M278.9 78.2h0M286.4 69.8h0M283.1 80.9h0M282.8 76.3h0M288.9 82.9h0M287.4 76.8h0M279.1 81.6h0M282.4 70.6h0M284.7 73.1h0M277.3 76h0M287.6 67h0M283.4 70h0M284.5 73.3h0M285.2 80.1h0M291.9 82.3h0M283.9 77.2h0M282.1 79.2h0M291.6 78.4h0M281.4 79h0M281.3 85.9h0M277.4 71.1h0M288.6 81.6h0M285 80.1h0M285.9 73.7h0M284.5 85h0M283.1 72.6h0M280.2 73.2h0M280.2 79.5h0M285.7 82h0M284.3 79.3h0M291.1 84.5h0M280.3 71h0M281.5 77.3h0M279.1 81.8h0M290 80.1h0M278.1 75.5h0M287.2 68.7h0M290.2 81.9h0M283.1 80.1h0M287 85.1h0M274.1 76h0M282 76.7h0M276.2 67.5h0M284.5 77.5h0M283.8 79.2h0M280.3 81.4h0M288 71.8h0M285.3 84.8h0M281.4 73.9h0M281.4 76.4h0M277.1 81.2h0M282.9 81.8h0M293.3 69.5h0M280.5 68.5h0M285.6 78.8h0M281.3 75h0M287.4 67.5h0M285.7 79.7h0M282.7 78.6h0M275.7 85.1h0M281.4 78.3h0M289.2 76.2h0M282.6 79.4h0M286.6 80.1h0M281.6 85.5h0M275.3 85.8h0M285.7 81.5h0M285.2 73.5h0M281.1 80.2h0M282.1 81.7h0M285.1 73.5h0M281.1 74.9h0M285.3 80.5h0M282.8 80.4h0M273.1 76.3h0M283.1 75.4h0M281.1 81.9h0M280 76.7h0M285.6 76.8h0M281.5 72h0M286.2 80.8h0M288.7 71.4h0M284.4 74.7h0M276.8 83.8h0M280.4 72.5h0M287.9 71.5h0M282.6 84h0M280.1 67.9h0M283.4 82.9h0M286 81.1h0M284.9 78.4h0M286.7 72.5h0M280 75h0M282.5 77.8h0M282.6 70.4h0M283.7 75h0M274.3 72.2h0M282.7 63.1h0M277.7 77.5h0M290.1 88.6h0M290.8 77.7h0M291.4 80.7h0M287.4 75.7h0M281.6 77.1h0M288.1 82.2h0M282.9 83.1h0M286.5 77.7h0M279.7 79h0M281.1 90.9h0M285.9 71.6h0M291.8 75h0M283.7 77.1h0M294 73.1h0M296.2 79.3h0M278 78.7h0M283.7 71.8h0M279.5 72.6h0M283.2 74.8h0M281.4 79h0M283.5 81.3h0M288.1 69.3h0M288 73.4h0M285 78.9h0M283.8 88.2h0M284.3 81.4h0M284.4 86.8h0M286.4 70h0M283.8 76.1h0M286.1 80.3h0M277.9 79.9h0M287.4 62.8h0M291.7 68.9h0M284.6 83.8h0M277.4 79.2h0M289.9 81.9h0M282.3 86.3h0M270.3 79.3h0M282.8 64.8h0M286.5 68.3h0M285.5 76.4h0M289.4 77.7h0M286.6 75.3h0M284.4 71.6h0M274.9 86.7h0M278.8 87.9h0M284.6 67.1h0M286.9 74.9h0M279.2 69.8h0M281 76.5h0M285.9 68.9h0M275.2 82.3h0M275 76.5h0M282.8 69.2h0M284.9 71.5h0M281.6 80h0M273.4 74.8h0M283.9 80.5h0M277.8 85.9h0M286.8 73.6h0M283.3 69.9h0M285 72.3h0M286.7 82.9h0M281.4 73.1h0M287.6 72.6h0M289.4 78.1h0M285.6 89.6h0M289.8 70.3h0M281 73.1h0M288 73.5h0M285 85.8h0M279.3 85.9h0M283.5 71.8h0M281.4 73.4h0M281.3 75h0M284.2 78.2h0M288.6 73.8h0M282.4 80.2h0M284.4 78.5h0M277.2 83.2h0M284.3 75.6h0M289 78h0M287.5 71.2h0M286 72.8h0M281.4 81.9h0M279.4 68.4h0M283.4 83h0M277.7 76.1h0M278.2 72.7h0M288.1 69.3h0M279.7 89.6h0M291.9 69.9h0M277.3 72.1h0M285.8 69h0M278.5 90h0M284.6 80.4h0M279.1 78.7h0M284 79.3h0M283.1 70.1h0M281.8 81.1h0M286.1 70h0M290.6 72.5h0M281.1 85.3h0M287.8 81.3h0M284.2 79.4h0M283.7 76.6h0M293.7 69.5h0M274 80.3h0M280.7 73h0M275.6 87.3h0M282.4 93.5h0M282.8 79.1h0M301.1 70.5h0M285.4 78.6h0M291.9 80.5h0M289.7 73.4h0M281.8 67.3h0M286 77.1h0M291.4 79.1h0M284.6 81.3h0M284.8 66.4h0M286.1 76.7h0M277 75.4h0M280.1 71.5h0M285.3 71h0M286.3 81.3h0M279.6 73h0M282.3 72.9h0M283.2 74.6h0M283.1 71.9h0M286.9 79.3h0M284.3 77.3h0M284.6 79.6h0M277.4 74.5h0M279 81.6h0M285.3 74.6h0M276.6 84.5h0M285 77.4h0M280.8 79.7h0M280.1 78.5h0M286.7 75.7h0M280.7 78.7h0M279.9 79.1h0M280.7 88.7h0M284.1 71.1h0M296.3 77.4h0M274.2 80.6h0M283.7 81.4h0M282.7 72h0M288.1 80.8h0M282.1 74.8h0M272.6 73.5h0M289.8 66.9h0M278.8 71.9h0M283.5 73.8h0M277.6 84.8h0M278.8 71.4h0M281.5 71.3h0M287.7 71.7h0M287.6 71.9h0M281 77.3h0M286 79.2h0M282.1 71.7h0M284.3 70.2h0M284.5 82.3h0M286.6 71.5h0M281 76.4h0M283.1 72.5h0M284.7 75.3h0M284.2 71.1h0M280.1 72.5h0M291.6 70.5h0M281.6 84.8h0M287.2 71.8h0M284.7 76.5h0M289.3 81.6h0M273.8 75.6h0M293.1 82h0M282.8 72.5h0M278.1 69.4h0M284.3 79.5h0M294 69.7h0M286 74.1h0M278.1 74.9h0M281.6 84.6h0M289.8 72.3h0M277.3 77.8h0M282.9 73.3h0M282.4 77.2h0M293.6 68.9h0M282.4 75.8h0M289.7 72h0M280.6 70.5h0M280.1 76.8h0M288.3 70.6h0M286.6 75.1h0M275.9 76h0M286.6 79h0M286.6 72.2h0M280.9 71.2h0M284.7 77.1h0M284.9 72.5h0M281.5 75.2h0M281.1 83.3h0M280.7 75.8h0M282.5 70.3h0M277.7 80.9h0M283.5 86.2h0M276.9 77.4h0M284.1 80.2h0M283.3 67.1h0M279 78.2h0M287.6 76h0M292.5 78.1h0M289.7 74.2h0M277.5 81.3h0M289.5 80.2h0M284.7 77h0M283.5 81.2h0M281 70.7h0M283.7 83h0M290 75.8h0M286.2 79.9h0M281.8 84.5h0M280.7 69h0M281.8 88.2h0M286.4 68.7h0M292.2 82.2h0M278.9 77.5h0M283.7 65.1h0M282 88.3h0M280.3 84.8h0M285.5 69.6h0M286.2 75.4h0M277.3 81.2h0M279 78.2h0M289.1 80.6h0M285.1 75.9h0M286.1 68.6h0M281.4 79.4h0M282 76.6h0M285.8 70.2h0M281.4 67.1h0M278.7 81.1h0M283.7 75.3h0M287.8 78.8h0M279 81.3h0M288.5 77.8h0M286.9 79.4h0M279.8 86.8h0M283.7 87.2h0M283.5 80.7h0M286.6 75.5h0M286.7 69.9h0M277.8 81h0M277.6 79.2h0M288.4 72.4h0M284.2 72.9h0M285.6 77h0M285.2 76.8h0M290.6 65.5h0M278.2 79.9h0M288.6 78.3h0M280 86.2h0M287 73.9h0M289.8 76.8h0M277.4 68.5h0M285.5 78.2h0M282.5 73h0M282.4 72.4h0M283.9 68.3h0M278.9 84.8h0M279.3 69.8h0M286.7 76.1h0M287.5 76.5h0M281.1 79.1h0M277.1 80.5h0M294.2 76.2h0M288.7 87.8h0M285.3 73.9h0M279 77.7h0M281.1 82.4h0M284.8 77h0M279.4 66h0M291 73.2h0M284.3 78.7h0M285.5 67.6h0M279.1 82.1h0M279.6 78.6h0M280.1 80.6h0M285 77.8h0M282.5 73.4h0M282.4 74.2h0M285.1 80.3h0M284.7 77.3h0M290.4 74.9h0M282.8 79.2h0M279.1 78.2h0M283.7 80.6h0M290.3 79.1h0M281.2 77.2h0M283.9 82.2h0M282.1 75.1h0M285.5 77.5h0M284.9 81.4h0M280.1 80.9h0M282.7 79.6h0M287.9 76.7h0M288.6 75.1h0M287.9 77h0M287.6 80.5h0M282.2 69.9h0M282.1 72.6h0M287.9 75.3h0M278.4 73.3h0M283.4 75.3h0M275.4 80.2h0M282 76.9h0M280.5 64h0M278.3 73.1h0M286.3 70.9h0M280.4 79.7h0M282.1 74.2h0M282.6 65.6h0M280.4 75.5h0M290.1 69.9h0M281.5 71h0M284.6 73.4h0M277.8 70.2h0M281.6 76.2h0M282.3 74.7h0M282.3 80.5h0M281.1 64h0M284.4 75.2h0M290.7 74.7h0M283.1 69.9h0M283.1 79.6h0M282 77.4h0M295.1 78.2h0M291 75.1h0M286.2 78.3h0M286.9 73.4h0M280.5 78.3h0M283 80.1h0M284.7 78.2h0M284.3 77.4h0M279.9 80.4h0M280.2 72.9h0M286 72.9h0M285.1 75.8h0M274.3 85.2h0M284.1 74.2h0M289.4 82.1h0M280.8 76.7h0M284.8 76.4h0M277.2 81.5h0M287.5 80.3h0M278.7 81.7h0M278.1 67.7h0M282.3 78.6h0M294.4 75.5h0M281 72.7h0M278.1 76.1h0M285.8 71h0M284.7 82.9h0M291.2 80.7h0M278 61.3h0M276.6 78.8h0M282.3 78.7h0M285.4 75.7h0M285.3 71.5h0M288.6 81.8h0M277 77.1h0M280 77.9h0M283.1 73.6h0M287.5 75.1h0M285.9 79.1h0M281.8 81.8h0M279.1 90.4h0M287.7 71h0M288 83.4h0M295.9 76.1h0M282.9 68.6h0M291 77.3h0M278.3 75.1h0M281.3 78.6h0M280.7 74.1h0M281.6 77.3h0M279.8 80.4h0M281.3 70.6h0M283.5 78.3h0M281.7 84.2h0M286.7 77.9h0M283.4 74.3h0M283.7 82.6h0M290.3 71.4h0M285.1 72.7h0M284.4 66h0M283.6 80.2h0M284 73.5h0M286.3 84.8h0M280.1 79.9h0M288.9 75.2h0M290.8 73.2h0M288.9 76h0M281.5 77.9h0M276.6 81.7h0M281.8 79.7h0M284.4 75.2h0M287.4 73.2h0M282.9 73.9h0M282.4 72.2h0M290.5 69.3h0M280.7 86.8h0M288.5 78.4h0M287.8 76.8h0M277.8 81.6h0M285 71.3h0M281.2 73.7h0M279.5 78.5h0M275.4 78.3h0M276.7 72.2h0M285.6 78.3h0M282 78.9h0M285 72h0M279 75.7h0M282.3 70.1h0M282.5 75.3h0M276.8 74.8h0M276.3 81.4h0M285.7 81.2h0M284.4 76.8h0M279.5 91.4h0M283.3 75h0M286.7 71.3h0M291.9 74.6h0M279.7 79h0M286.5 70.8h0M293.2 74.9h0M284 71.9h0M290.3 64.3h0M272.1 76h0M290.2 70.6h0M283.7 74.4h0M275.3 77.6h0M287.2 74.7h0M288.4 75.5h0M289.1 70.2h0M289.1 83.8h0M283.6 78.3h0M280.4 74.4h0M281.7 81.7h0M283.6 77.5h0M285.5 80h0M281.6 75.2h0M283.9 72.5h0M287.7 68.6h0M285.2 74h0M294 78.1h0M293.4 73.4h0M278.6 75.3h0M281.2 70.4h0M277.9 89.1h0M278.5 76.3h0M286.2 85.6h0M279.3 74.4h0M279 75.8h0M282.5 74.7h0M287.3 71.6h0M282.1 75.4h0M282.1 80.6h0M287.9 74.2h0M285.8 70.4h0M285.8 77h0M288 75.8h0M279.2 84.1h0M284.7 70.8h0M280.9 80.1h0M288.3 79.6h0M287.4 78.3h0M279 82.4h0M289.7 76.8h0M278.5 71.7h0M289 71.7h0M284.7 69.5h0M279.8 70.3h0M278.7 82.6h0M282.4 74.8h0M283.6 69.4h0M280.5 66.1h0M286.3 83.5h0M277.4 85.6h0M283.7 74.6h0M283.7 78.6h0M275.3 83.9h0M285.1 74.7h0M278 82.2h0M272.5 91h0M281 77.7h0M282.7 76.5h0M287.8 72.8h0M281.5 72.7h0M290.4 74.4h0M290.2 76.6h0M288.6 79.1h0M289.7 83.8h0M285.3 78.8h0M281.2 72.5h0M286.6 73h0M288.1 65.6h0M284.8 77.5h0M282.6 86.2h0M276.7 74.4h0M286.8 71h0M285.3 82.5h0M277.9 86.5h0M284.2 76.1h0M287 72.6h0M283.2 82.7h0M287.3 77.8h0M287.1 80.1h0M277.1 84.5h0M282.4 83.9h0M285.9 75.7h0M287.9 77.9h0M290.1 78.8h0M275.1 92.2h0M283.4 68.2h0M287 81h0M289.3 76.4h0M291.3 80.9h0M279.5 76.1h0M282 85h0M279 77.6h0M287.4 77.1h0M277.7 73.8h0M289.1 81.2h0M288 79.3h0M285.9 77.7h0M273.9 68.7h0M280.7 85.1h0M287.1 74.7h0M277.3 81.8h0M282.6 75.7h0M283.3 73.8h0M287.7 75.3h0M285 75.4h0M285 75.3h0M281.7 80.4h0M283.7 78.1h0M283.1 85.5h0M287 78h0M282.9 81.1h0M288.4 77.2h0M276 75.1h0M289.1 73.8h0M283 74.8h0M288.8 70.2h0M284.1 89h0M287.6 73.9h0M290.5 75.5h0M281.2 78.1h0M284.1 83.5h0M282.9 74.4h0M284.7 71h0M276.4 73.6h0M282.9 77.6h0M282.6 74.1h0M280.2 73.2h0M282.8 68h0M276.7 72.5h0M290 74.8h0M285.7 76.1h0M292.2 74.2h0M279.8 76.8h0M278.4 80.8h0M285 72.8h0M276.2 82.3h0M284.7 80.8h0M280.5 76h0M282.2 80.3h0M284.9 78h0M283.9 87.5h0M292.1 71.1h0M286.6 76.4h0M277.9 79.1h0M288.1 73.7h0M277.7 77.4h0M284.1 80.5h0M278.1 68.3h0M280 80.2h0M289.6 70.7h0M281.2 68.4h0M280.8 80.9h0M281.2 77.2h0M282.3 81.5h0M290.2 70.2h0M278.4 80h0M278.1 83.9h0M286.3 69.8h0M276.5 74.1h0M282 81.9h0M288.8 69.9h0M283.7 76.1h0M281.5 63.9h0M280.5 69.2h0M279.5 80.8h0M281 79h0M284.3 81.3h0M289.3 75.1h0M288 75.8h0M281.1 74h0M280.4 77.4h0M286.8 83.7h0M275.5 83.1h0M281.7 70.4h0M282.2 71.6h0M278.6 79.1h0M279.2 78.8h0M285.2 77.6h0M276.2 78.7h0M279.5 86.5h0M280.7 73.3h0M284 80.3h0M277.4 77.8h0M288.5 88.7h0M282.2 76.2h0M282.4 70.6h0M282 88.8h0M280.6 70.1h0M279.2 75.8h0M288.8 79.6h0M284.5 84.9h0M283.1 71.3h0M288.1 74.7h0M280.4 74.9h0M286.4 77.8h0M283.7 81.1h0M279.6 73.7h0M287 81.1h0M276.8 74.1h0M286.5 84.8h0M279.6 82.7h0M285.4 84h0M289.8 69h0M286.1 85.3h0M280.8 83.5h0M283.4 73.8h0M281.9 76.3h0M278.2 67.3h0M278.5 69h0M283.7 73.9h0M285.9 73.1h0M275.6 88.2h0M283.2 81.6h0M285.8 78.2h0M284 77.9h0M279 85.1h0M288.2 80.7h0M278 82.7h0M286.4 71.1h0M290.7 73.3h0M274.3 81h0M284.6 78.2h0M284.9 75.3h0M284.5 80.4h0M280 79.3h0M282.1 86.2h0M277.2 75.2h0M284.1 72.1h0M285.9 74.7h0M280.5 75.4h0M279.3 76.3h0M281.3 67.3h0M283.4 76.1h0M283.7 83.8h0M283 82.5h0M283.8 73.5h0M277.6 73.1h0M271.2 76.1h0M286.2 72.2h0M289.8 74.7h0M277.1 86.2h0M280.4 81.4h0M284.8 86h0M287.7 78.1h0M286.3 83.4h0M289.2 75.3h0M283.2 78.1h0M285.3 86.6h0M285.3 73h0M281.5 73.8h0M288.8 82.9h0M286.2 75.8h0M287.8 72.5h0M281.7 79h0M288 71.7h0M278.7 77.3h0M285.2 71.3h0M271.7 79h0M278.9 79.1h0M286.7 73.8h0M281.4 73.7h0M284.2 75.7h0M276.1 81.2h0M290.3 79.6h0M286.1 78.4h0M283.3 80.1h0M285.3 75.7h0M284.9 76h0M289.7 76.1h0M284.4 77h0M276.8 77.9h0M282.3 69.5h0M289.2 69.7h0M286 79.5h0M281.5 75.5h0M286.1 78.2h0M283.9 77.6h0M286.1 77.8h0M276.3 82.1h0M279.4 85.1h0M286.4 89h0M282.4 76.4h0M285 70.8h0M292.2 79.8h0M282 75h0M284.5 78.9h0M280.9 76.4h0M280.6 82h0M283.1 78.5h0M276.9 79.3h0M274 91.6h0M289.5 74.7h0M282.9 78h0M288.4 88.7h0M284 73.8h0M284.1 77.3h0M286.4 75.5h0M286.6 74.6h0M278 80.6h0M288.8 81.5h0M279.1 80.5h0M284.3 79.2h0M294.8 63.2h0M283.8 67.8h0M290.9 78h0M281.9 79.7h0M286.2 75h0M283.6 74.3h0M285.3 80.4h0M279.6 83.3h0M279.3 68.3h0M284.9 71.5h0M276.4 86.9h0M279.6 87.2h0M286.3 80.8h0M280.7 76.8h0M279.4 75.4h0M278.5 80.2h0M284.1 85.4h0M281.8 76.5h0M284.1 74h0M282.6 77.5h0M291.7 77.9h0M281.5 74.8h0M274.7 79.6h0M283.9 82.9h0M283.4 76.8h0M284.1 83.8h0M276.2 74h0M288.5 73.7h0M283.3 82.4h0M283.2 76.2h0M276.3 72.5h0M285.5 87.8h0M283.1 78.1h0M289.4 67.4h0M281.6 85.7h0M277.9 79.5h0M284 84.5h0M279.3 78.6h0M285.3 89.2h0M278.6 86.8h0M282.8 80.2h0M282.4 76.8h0M283.3 75.4h0M281.1 75.6h0M279.8 72.2h0M283.1 73.8h0M280.8 74.1h0M284.1 82.2h0M282.2 78.4h0M273.4 63.2h0M283.1 65.6h0M289.6 71.6h0M284.8 73.2h0M286.1 71.6h0M285.4 78.9h0M281.3 67.7h0M277.5 80.6h0M287 76.9h0M288.1 64.9h0M285.9 87.5h0M285.3 75h0M285.2 85.8h0M283.3 80.7h0M284.6 77.5h0M283.5 79.1h0M284.9 76.1h0M279.2 82.3h0M280.6 78.5h0M285.9 82.9h0M281.9 79.7h0M272.7 87h0M284 73.8h0M273.3 86.4h0M291.9 71.7h0M286.6 78.7h0M286.4 78.2h0M280.5 71.8h0M278.4 77.9h0M282.5 87.4h0M283.5 74.7h0M280 93.2h0M284.1 75.7h0M286.5 78.7h0M286.1 84h0M278.9 78h0M273.9 81.1h0M283.4 66.8h0M280.5 80.3h0M285.4 66.7h0M290.7 68.4h0M290.7 78.8h0M284.7 81.3h0M288.3 69.2h0M290.7 76.3h0M283.7 76.4h0M284.6 78.3h0M287.2 82.7h0M283.3 79.3h0M281.3 82.8h0M280.2 86.1h0M283.5 78.8h0M280.7 68.6h0M287 68h0M282 77.9h0M289.9 75.1h0M288.8 73.3h0M278.1 71.4h0M288.2 74.5h0M281.7 80.2h0M289.5 77.9h0M285.7 70.8h0M283.3 63.6h0M286.4 79.9h0M281.1 88.6h0M284.9 72.7h0M285.2 77.3h0M282.9 76.7h0M285.2 70.4h0M279.2 77.9h0M286 83.7h0M278.2 88.8h0M286.2 76.9h0M285.6 82.9h0M286.6 75h0M281.1 84.5h0M296.8 76h0M282.6 85.2h0M284.2 79h0M280.3 80.4h0M289.8 72.7h0M281.5 70.7h0M287.9 77.2h0M279.5 82.8h0M284.9 66.6h0M282 75.7h0M287.6 73.1h0M282.3 74.3h0M279.8 70.5h0M285.6 71.5h0M278.4 74.9h0M279.4 74.2h0M286.9 81h0M275.5 82.4h0M286.9 77h0M281.9 77.1h0M279.6 78.1h0M284.7 75.3h0M286.4 76.4h0M281.1 80.1h0M282.9 86h0M287.1 72h0M286.9 73.4h0M283.4 81.9h0M280.3 75.4h0M279.6 76.1h0M281.1 77.4h0M286.6 86.2h0M286.2 83h0M285 80.1h0M289.7 67.3h0M282.4 82h0M282 79.4h0M282 83.5h0M292 77.9h0M274.8 77.5h0M285 87.8h0M285.6 91.7h0M284 73.6h0M293.8 74.6h0M288.8 79.2h0M287 71.3h0M279.8 73h0M285.9 87.8h0M282.1 78.5h0M283.9 71.3h0M284.6 80.5h0M281.7 79.3h0M286.5 71.5h0M290.8 77h0M288.2 82.5h0M284.7 80.6h0M275.4 86.2h0M288.4 73.2h0M288.4 85.2h0M282.9 72.1h0M281.7 86.4h0M286.6 76.3h0M280.3 85.8h0M287.2 78h0M279.1 72.9h0M279.8 72.2h0M283.9 70.3h0M277.5 79.1h0M283.8 76.6h0M286.1 75.4h0M278.1 75.3h0M287.8 78.4h0M281.4 71.9h0M286.2 74.9h0M284.7 70.9h0M281.8 75.1h0M281.6 74.1h0M276.5 82.8h0M280.8 80.1h0M280.5 84.8h0M290.9 77.1h0M288.2 77.1h0M277.9 74.2h0M287.3 83h0M284.8 59.9h0M282.2 78.2h0M285.8 70.1h0M287.2 70.9h0M281.4 91.1h0M282.7 78.8h0M284.5 69.2h0M279.6 91h0M284.6 72.9h0M283.5 82.1h0M280.9 80.3h0M280.2 76.8h0M285.1 86.7h0M287.6 75.3h0M285.3 80.3h0M280.2 82h0M287.1 72.7h0M284.6 58.5h0M286.4 74.8h0M288.8 73.1h0M280 78.4h0M283.2 81.1h0M281.3 76.4h0M280.1 70h0M292.4 74.2h0M287.9 71.5h0M276.3 80.2h0M285.7 63.4h0M281.5 86.5h0M288.8 72.9h0M284.2 74.2h0M283.1 76h0M284.5 82.9h0M285.5 82.8h0M284 78.4h0M282.9 76.9h0M283.3 83.7h0M286 82.3h0M279 75.4h0M283.8 71.7h0M283.3 80.3h0M281.8 81.4h0M287 80.3h0M278.3 65.4h0M282.3 75h0M280.2 78.4h0M286.2 71.3h0M281.9 65.5h0M284.1 71h0M285.5 84.4h0M277 79.3h0M285.8 78.9h0M280.7 79.8h0M282.8 83.9h0M283.4 79.4h0M287.3 82.1h0M287 74.7h0M291.4 75.2h0M284.6 84.5h0M281.8 86.7h0M281.7 80.3h0M286.7 73.1h0M290.7 73h0M285.3 77.2h0M281.4 95.3h0" stroke="#0f8c4e" stroke-width="0.9" stroke-linecap="round" stroke-opacity="0.45" fill="none"/>
<text x="367.3" y="15.5" font-size="10.8" fill="#000" font-weight="bold">C</text>
<line x1="405.3" y1="18.3" x2="405.3" y2="118.2" stroke="#231f20" stroke-width="0.9" />
<line x1="404.9" y1="117.7" x2="497" y2="117.7" stroke="#231f20" stroke-width="0.9" />
<line x1="405.3" y1="113.6" x2="402.7" y2="113.6" stroke="#231f20" stroke-width="0.9" />
<text x="400.1" y="116.5" font-size="8.1" text-anchor="end" stroke="#231f20" stroke-width="0.22">0</text>
<line x1="405.3" y1="77.3" x2="402.7" y2="77.3" stroke="#231f20" stroke-width="0.9" />
<text x="400.1" y="80.2" font-size="8.1" text-anchor="end" stroke="#231f20" stroke-width="0.22">200</text>
<line x1="405.3" y1="41" x2="402.7" y2="41" stroke="#231f20" stroke-width="0.9" />
<text x="400.1" y="43.9" font-size="8.1" text-anchor="end" stroke="#231f20" stroke-width="0.22">400</text>
<line x1="405.3" y1="95.4" x2="403.7" y2="95.4" stroke="#231f20" stroke-width="0.9" />
<line x1="405.3" y1="59.1" x2="403.7" y2="59.1" stroke="#231f20" stroke-width="0.9" />
<line x1="405.3" y1="22.8" x2="403.7" y2="22.8" stroke="#231f20" stroke-width="0.9" />
<text x="380" y="68.6" font-size="8.1" textLength="14.6" lengthAdjust="spacingAndGlyphs" text-anchor="middle" transform="rotate(-90 380 68.6)" stroke="#231f20" stroke-width="0.22">CPM</text>
<line x1="430.6" y1="117.7" x2="430.6" y2="120.2" stroke="#231f20" stroke-width="0.9" />
<line x1="472" y1="117.7" x2="472" y2="120.2" stroke="#231f20" stroke-width="0.9" />
<text x="451.6" y="13.6" font-size="8.5" textLength="23.4" lengthAdjust="spacingAndGlyphs" text-anchor="middle" font-style="italic" stroke="#231f20" stroke-width="0.22">Nfkbia</text>
<text x="471.3" y="23.6" font-size="6" font-style="italic" stroke="#231f20" stroke-width="0.22">*</text>
<text x="474.8" y="23.6" font-size="7.6" textLength="30.6" lengthAdjust="spacingAndGlyphs" font-style="italic" stroke="#231f20" stroke-width="0.22">&lt;2.2×10</text>
<text x="505.6" y="20" font-size="4.8" font-style="italic" stroke="#231f20" stroke-width="0.22">−16</text>
<text x="487.2" y="37.9" font-size="8.4" textLength="21.6" lengthAdjust="spacingAndGlyphs" fill="#c67ab9" stroke="#c67ab9" stroke-width="0.22">young</text>
<text x="487.2" y="50.4" font-size="8.4" textLength="11.1" lengthAdjust="spacingAndGlyphs" fill="#2f9a5f" stroke="#2f9a5f" stroke-width="0.22">old</text>
<path d="M446.1 99.2h0M419 109.9h0M414.3 113.4h0M433.8 103.4h0M427 78.4h0M421.2 107.4h0M436.5 104.3h0M431.4 91.5h0M434.6 59.6h0M445.4 31.3h0M443.2 57.6h0M419.3 53.1h0M415.3 105.5h0M435.7 63.4h0M413.5 92.9h0M420.4 88.3h0M445.2 97.1h0M426.8 104.1h0M438.7 96.8h0M436.1 94.2h0M417 92.9h0M439.2 107h0M439.4 66.4h0M413.6 91.3h0M446.6 100.8h0M416.7 49.7h0M429.7 101.3h0M430 84h0M429.6 73.8h0M447.9 97.4h0M419.2 33.7h0M441.4 91.6h0M443.9 53.6h0M418.2 66.1h0M413.2 96.2h0M422.1 34.3h0M414.6 111.2h0M415.5 41.1h0M442.1 100h0M414 80h0M422.4 113h0M415.8 98.2h0M418.1 91h0M432.1 85.3h0M444.9 65h0M443.6 81.6h0M417.1 110.2h0M442.2 98.8h0M443.5 110.4h0M421.8 85.7h0M420.4 57.6h0M425.9 110.1h0M440.4 66.9h0M447.8 103.5h0M432 86.9h0M427.3 89.6h0M425.8 75.1h0M428.8 106.2h0M421.6 100.8h0M437.8 82.6h0M433.5 96.6h0M425.3 55.5h0M437.8 70.5h0M440.4 108.2h0M419.6 79.3h0M426.7 89h0M434.9 106.4h0M439.2 79.8h0M415.4 75.1h0M416.8 47.7h0M440.3 72.9h0M439.7 94.6h0M420.5 109.1h0M426.7 87.7h0M437 91.3h0M430.9 87.7h0M440.4 103.1h0M420.3 102.3h0M427.8 100.5h0M424.6 50.5h0M442.4 96.4h0M424.7 57.8h0M438.5 78.2h0M428.4 107.7h0M419.4 110.3h0M435.1 34.5h0M418.7 77.1h0M417.2 74.3h0M443.2 112.8h0M444.5 38.1h0M425.3 93.8h0M425.9 94.3h0M434.2 108.3h0M434.7 102.9h0M433.6 93.9h0M422.4 108.3h0M440.7 110.2h0M423.7 52.7h0M443.6 102.5h0M446.1 108.8h0M422.6 86.6h0M434.3 106.8h0M437.8 103.4h0M421.1 100.8h0M446.9 111.1h0M428.7 101.1h0M431 109.7h0M425.4 79.4h0M427 104.5h0M416.2 110.6h0M445.9 42.7h0M443.8 66h0M440 79h0M448 94.6h0M443.5 63h0M434.7 66.3h0M414 72h0M446.7 91.4h0M440.4 93h0M431.7 35.1h0M430.7 111h0M435.1 111h0M438.5 93.3h0M432.3 82.9h0M425.5 55.5h0M415.8 53.6h0M427 113.4h0M416.4 88h0M426.4 96.9h0M443.7 109.5h0M441.1 59.9h0M430.9 90.1h0M437.3 54.9h0M428.1 87.3h0M432.7 92.6h0M444.2 112.6h0M446.6 62.3h0M422.9 96.1h0M440 81.8h0M426.5 107.2h0M428.9 55.7h0M427.1 59.4h0M418.8 110.4h0M421 106.4h0M443.8 96.5h0M433.2 109.1h0M418.6 111.3h0M447.6 85.7h0M440.3 104.1h0M439.8 106.3h0M432.1 99.4h0M434.1 106.8h0M418.2 101.2h0M419.4 68.3h0M436.4 69.4h0M436.5 92h0M427 96.9h0M441.6 90.7h0M421 88.3h0M418.6 82.1h0M415.2 86.9h0M445.8 101.2h0M431.6 96.1h0M433.3 100h0M436 63.2h0M417.3 88.6h0M443.9 71h0M447.3 106.3h0M421.4 90.7h0M421.3 87.4h0M442.9 95.1h0M430.9 72.2h0M419.9 47h0M447.1 99.3h0M442.4 102h0M426.1 111.1h0M435.1 113.5h0M438.6 85.2h0M425.6 100.9h0M433.6 101.3h0M426.4 83.5h0M442.6 68.7h0M421.1 48.7h0M428.9 60.9h0M415.1 91.2h0M434 94.6h0M415.2 107.5h0M425 106.8h0M439.7 92.7h0M432.1 88.4h0M425.1 46.2h0M430.2 95h0M417.2 94.5h0M421.9 98.7h0M445.3 71.3h0M418 69.8h0M440.6 110.5h0M439 94.2h0M435.4 109.6h0M440.3 88.1h0M417.8 99.4h0M425.7 94.3h0M425.1 89.4h0M420.9 70.6h0M421.3 94.4h0M423.8 28.2h0M446.8 84.7h0M426.5 57.7h0M440.8 88.8h0M439.3 103.4h0M439.1 91.7h0M430.3 93.3h0M430.9 101.1h0M419.5 94.8h0M444.1 53.9h0M426.2 97.5h0M438 107.4h0M443.5 102h0M433.1 112.3h0M425.8 110.7h0M443.7 32.8h0M416.5 106.5h0M439.5 107h0M423.2 107.7h0M437.6 108.3h0M420.8 92.9h0M444.2 90h0M429.7 43.6h0M417.1 83.1h0M441.2 111.1h0M425.2 33.5h0M416.5 77.8h0M442.6 55.1h0M416.1 97.9h0M420.3 91.4h0M419.8 62.1h0M427.3 63.7h0M447.2 65.6h0M415.6 67h0M447.6 97.5h0M422.8 51h0M427.7 80.2h0M440.8 101.2h0M442.9 94.1h0M417.6 77.4h0M437.3 78.7h0M428.9 94.3h0M416 109.4h0M448 68.5h0M427.5 83h0M437.4 87.8h0M439.2 100.4h0M421.6 69.2h0M423.1 85.5h0M426.8 101.5h0M444 100.5h0M442.4 54.7h0M436 85.1h0M425.2 65.7h0M424.1 84.9h0M425.6 108.4h0M426.6 86.8h0M429.3 81.9h0M427.3 109.7h0M425 101.4h0M439.4 110.7h0M443.8 93.5h0M443.7 112.2h0M418.5 110.8h0M433.4 70.5h0M419.2 92.9h0M443.8 88.3h0M430.9 106.9h0M413.6 91.5h0M441.5 63.3h0M436.6 75.1h0M417.2 47.5h0M443.2 111.6h0M415.2 51.6h0M444.4 100.3h0M448 93.4h0M428.6 111.9h0M434.1 57.5h0M426.8 94.7h0M429.9 40.2h0M442.1 109.7h0M440.8 70.5h0M427.6 101.6h0M442.3 98.9h0M424.3 85.1h0M440.6 108h0M424.1 98.8h0M442.2 64.1h0M422.4 96.5h0M431.1 91.3h0M419.4 110.6h0M415.5 89.1h0M427.5 111.6h0M415.9 110.4h0M418 42.5h0M426.3 99.1h0M439.8 102.9h0M426 104.3h0M414.5 113.6h0M428 105.8h0M427.9 47.8h0M421.8 110.7h0M424.9 108h0M429.7 87.5h0M431.1 105.8h0M434.4 32.5h0M446.2 97.9h0M446.2 96.6h0M437 100.7h0M426 108.1h0M413.6 81.5h0M428.5 75.4h0M422.7 58.2h0M434.8 111.6h0M420.5 74.8h0M434.2 106.6h0M422.3 81.8h0M419 45h0M415 108.3h0M429.9 103.4h0M417.5 97.3h0M419.8 66h0M422.6 63.8h0M418.6 106.4h0M413.6 73.5h0M417.4 52.6h0M438.6 68.1h0M427.8 79.4h0M436.7 97.7h0M437.4 98.8h0M434.2 84.6h0M433 67.1h0M442.8 49.3h0M415.9 92.6h0M424.1 56.1h0M413.3 110.1h0M428.8 80.8h0M443.4 97h0M431.4 92.2h0M443 105.9h0M434.6 104.7h0M414.7 83.2h0M416.1 88.2h0M436.5 106.4h0M446.5 112.8h0M418.6 69.9h0M445.5 53.6h0M437.3 110.4h0M417.9 78.4h0M423.5 74.7h0M442.7 104.9h0M443.2 80.5h0M437.2 112.5h0M446.3 32h0M440.5 78.7h0M445.6 100.2h0M426.8 72.5h0M428.5 105.7h0M424.5 100.5h0M420.7 109.9h0M423.7 82.5h0M418.1 52.8h0M446.3 97.2h0M434.9 108.1h0M446.5 66.3h0M418 100.1h0M435 70.8h0M428.7 91.7h0M445 89.1h0M413.7 78h0M434.3 46.2h0M431.4 73.1h0M415 58.5h0M429.7 62.2h0M423.2 87.3h0M423.4 97.4h0M414.6 108.4h0M442.1 83.5h0M419.9 108h0M445 103.9h0M418 66h0M443.8 46.2h0M446.8 68.5h0M430.1 105.4h0M443.1 101.7h0M422.1 73.8h0M418 63.2h0M438.9 48.6h0M433 95.4h0M442.9 108.8h0M432.4 36.3h0M447.6 72.1h0M427.9 102.8h0M427.4 93.8h0M440 74.6h0M447.9 111h0M424.5 111.7h0M421.8 59.9h0M441.6 58.4h0M423.2 110h0M418.6 91.6h0M432.8 78.1h0M423.4 96.7h0M416.8 74h0M434.8 61h0M426.9 84.9h0M416.8 109.3h0M423.9 78.4h0M427.7 112.8h0M418.2 100.7h0M437.4 104.9h0M414.8 99.9h0M427.9 106.1h0M424.1 90.7h0M445.2 91h0M417.4 68.2h0M415.8 103h0M424.5 82.8h0M446.6 94.7h0M429.8 54h0M443.7 92.2h0M414.6 95.5h0M440.7 63h0M438 93.7h0M447.3 86h0M419.6 88.4h0M417 107.2h0M447.2 96.5h0M445.8 101.5h0M431.1 27.3h0M444.6 66.3h0M441.9 99.2h0M433.3 95.2h0M429.4 88.8h0M414 106.7h0M436.7 80.8h0M439.2 100.3h0M433.7 66.4h0M439.6 107.4h0M429.9 85.5h0M421.4 59.2h0M446.3 63.9h0M415.9 104h0M422.6 73.6h0M420.3 103.6h0M434.4 69.6h0M429.3 96.7h0M433.1 98.1h0M429.5 110.3h0M434.5 85.4h0M416.8 93.5h0M426.1 111.5h0M432.3 98.5h0M434.4 107.2h0M428.4 97.1h0M414.9 36.2h0M437.6 100.3h0M430.6 45.2h0M446.8 77.8h0M425.1 96.5h0M436.9 83.4h0M414.6 48.2h0M437.1 103.5h0M415.5 106.2h0M434.6 97h0M435.3 53.9h0M438.1 97.9h0M430.6 97.2h0M430.1 92.5h0M417.3 100.8h0M421.9 91.1h0M441.3 108.8h0M446.6 103.6h0M424.8 78.1h0M431.9 80.5h0M423 79.1h0M423 93.7h0M440.9 111.3h0M442.3 65.8h0M434.7 111.6h0M443.5 106.6h0M413.3 111.8h0M444.9 90.5h0M416.7 113.2h0M413.9 108.2h0M417.1 98.9h0M422 70.5h0M432 98.6h0M415.1 81.3h0M445 57.4h0M428.4 102.4h0M447.5 95.7h0M438 102.3h0M422.1 91.4h0M420.2 107.3h0M441.7 76h0M433.2 58.8h0M416.4 76.4h0M422.5 99.2h0M417.4 75.2h0M433.9 51.6h0M444.3 107.9h0M426 112.7h0M414 109h0M445.9 61.2h0M442.2 57.9h0M414.3 110.2h0M422.9 104.6h0M426.5 104h0M447.6 109.6h0M414.2 99h0M447.9 70.9h0M434.9 86.4h0M427.1 100.3h0M427.3 110.3h0M436.4 46.5h0M424 98h0M423.6 99.8h0M440.8 79.8h0M424.4 83.5h0M441.5 110.6h0M425 26.7h0M437 36.3h0M413.1 53.2h0M432 53.7h0M428.5 91.8h0M440.5 78.2h0M434.4 51.8h0M436 80.2h0M419.2 98.6h0M443.2 68h0M442 84.1h0M431.2 93.9h0M436.1 113.1h0M422.6 75.2h0M422.7 57.2h0M432.4 83.4h0M428.6 60.7h0M417.5 109h0M443.8 87h0M438.2 62.5h0M419.8 82.9h0M445.7 68.9h0M433.1 105.8h0M429.5 43.6h0M443.3 96.8h0M416.7 57.8h0M416.3 106.1h0M447.3 107.8h0M417.4 45.8h0M428.8 72.5h0M447.3 107.5h0M424.1 81.6h0M445.5 103.4h0M418.8 26.6h0M444.1 90.7h0M413.1 43h0M430.8 85.6h0M445.8 112.6h0M440.4 82.8h0M436.9 79.2h0M429.8 93.9h0M440.2 33.6h0M438.2 103.3h0M418.7 90.9h0M438.2 100.6h0M441.5 99.5h0M436.7 50.5h0M421.4 111.3h0M426.8 112.7h0M420.5 78h0M426.2 109.5h0M427.3 96.2h0M441.2 31h0M439.3 25.2h0M419.3 105.7h0M441.4 79.5h0M437.6 103.9h0M424.7 110.4h0M433.5 105.2h0M416.9 93.6h0M418.9 112h0M422.4 92h0M440.2 91.4h0M419.6 111.8h0M422.8 108.7h0M431.1 103.8h0M427.6 99.2h0M420.4 94.8h0M431.4 25.8h0M448 106.7h0M430.9 110.3h0M443.3 112h0M442.5 112.6h0M418.4 92h0M430.5 82.1h0M428.4 94.3h0M441.7 91.3h0M437.6 80h0M435.2 68.4h0M444.5 58.5h0M416.9 56.6h0M417.3 106.5h0M430.1 75.9h0M436 67.9h0M436.4 111.1h0M443.2 85.1h0M419.3 78.7h0M416.8 91.8h0M425.3 108.5h0M437.4 105.9h0M423.6 99.1h0M438.5 105.3h0M432.2 84.8h0M423.2 96.4h0M432.7 64.3h0M429.3 84h0M442.7 101.8h0M441.2 91.4h0M421.2 109.9h0M420.7 104.7h0M442.7 103.6h0M442.8 68.1h0M443.3 71.6h0M426.1 78.6h0M417.6 104.2h0M432.2 90.2h0M446.4 104.3h0M433.6 97.6h0M437 90h0M414.1 77.7h0M427.5 103.7h0M419.3 108.9h0M415.9 65.3h0M420.8 99.3h0M423.2 95.4h0M430.6 101.7h0M434.5 35.2h0M432 47.5h0M425.6 106.7h0M418.4 95.2h0M430.4 108.7h0M444.5 90.8h0M444.6 93.8h0M445.1 94.2h0M444.3 106.9h0M433.2 62.2h0M431.2 81.6h0M420.8 108.5h0M439.2 100.5h0M433.5 67.7h0M427.2 103.2h0M415.2 59.9h0M419.4 90.7h0M437.2 94h0M431.1 79.9h0M440.3 89.7h0M417.1 84h0M436.8 88.1h0M443.9 105.5h0M414.2 106.5h0M447.3 110.6h0M415.2 67.9h0M438.6 107h0M431.8 91.3h0M424 104.2h0M425.4 105.1h0M414.4 24.9h0M439.6 106.6h0M413.9 109h0M446.7 86.8h0M447.1 48.9h0M442.4 89h0M417.5 96.3h0M434.8 112.9h0M441.5 58.5h0M427.3 104.2h0M427.9 109.4h0M440.9 96.9h0M413.8 63h0M426.2 97.2h0M442.6 91.8h0M441.1 80.2h0M445.5 84.6h0M443.4 42.8h0M420.1 109.5h0M445.5 111.3h0M421.8 96.9h0M432.4 83.6h0M433.3 104h0M436.6 81.2h0M434.8 110.2h0M421.1 83.6h0M443.5 93.2h0M418.3 81.2h0M439.1 70.7h0M413.2 104h0M444.4 59.2h0M443.8 54.4h0M422.3 109.7h0M432.4 63.2h0M430 26.9h0M445.7 108.2h0M423.3 108.6h0M415.8 113.5h0M427 103.2h0M423.9 86.6h0M422.3 101.4h0M440.3 84.2h0M426.5 40.6h0M418 64.5h0M419.6 73.7h0M443.5 103h0M429.3 110.7h0M420.2 75.6h0M429.8 98.7h0M416.9 69h0M429.9 103.7h0M421.5 69.9h0M426.5 89h0M445.7 97.2h0M430 112.6h0M438.9 106.4h0M424.5 105.6h0M419.8 107h0M425.3 73.8h0M420.5 88.3h0M430.9 57.3h0M436.7 100h0M422.4 108.8h0M437.7 107.4h0M431 85h0M440.9 110.4h0M439.8 97.9h0M446.1 84.5h0M437.1 110h0M415.3 47.8h0M425.1 42.4h0M427 96.9h0M443.6 107.8h0M443.4 107h0M420.7 99.8h0M444.5 99.2h0M427.6 112.7h0M436.7 108h0M436.5 57h0M428.2 78.3h0M432.8 109.8h0M429.6 86.8h0M437 106.8h0M442 98.2h0M432.1 101.9h0M443.8 40.2h0M430.7 90.7h0M415 91.7h0M434 95.9h0M424.4 98.1h0M438.9 113.2h0M423 92.3h0M435.6 44.2h0M419.8 79h0M435.8 42.6h0M434.2 103.8h0M437.3 86.3h0M414.2 97.3h0M428.9 96.7h0M439.2 97.4h0M428.7 30.2h0M423.3 89h0M439.5 65.4h0M436.8 82.3h0M428.6 93.9h0M442.6 92.8h0M436.9 93.8h0M447.9 96.4h0M436.1 91h0M446.9 94.9h0M438.9 56.9h0M428.9 59.8h0M413.4 110.8h0M438.9 112.5h0M428.1 80.4h0M443.3 108.3h0M444 95.2h0M442.3 106.8h0M432.3 26.9h0M435.2 92.7h0M435.5 90.4h0M428.7 84.9h0M427.2 113.5h0M447.3 98.4h0M413.1 52.4h0M443.5 79h0M417.7 26.5h0M417 44.6h0M440.1 100.8h0M413.6 80.9h0M436.2 90.5h0M421.5 83.1h0M443.1 77.8h0M432.9 109.2h0M421.1 98.8h0M433.5 89h0M438.7 103.5h0M442.8 95.9h0M413.8 62.5h0M445.5 92.6h0M442 104.6h0M421.2 76.9h0M434.2 90.7h0M431.4 80.1h0M434.3 102.8h0M421.6 107.8h0M445.4 76.9h0M437.8 110.3h0M432.9 93.4h0M446.3 107.3h0M426.1 58.5h0M431.9 89.8h0M435.3 89.5h0M434.7 100.1h0M424.8 80.4h0M433.9 88.1h0M428.1 75.5h0M438.5 101h0M425.8 108.8h0M428.9 104.9h0M433.7 72.3h0M419.6 102.7h0M432.2 103.4h0M443.9 71.6h0M437.4 108.6h0M430.6 101.6h0M417.6 113h0M433.2 60h0M427.5 106.5h0M426.3 84.3h0M438.2 70.5h0M447.2 95.1h0M431.2 109.8h0M419.6 96.4h0M436.9 103.5h0M428.9 102.9h0M442.9 104.3h0M439.5 59.1h0M425.6 40.3h0M441.9 67.9h0M431.8 102h0M437.8 34.6h0M415.2 105.2h0M422.8 87h0M443.1 91.5h0M413.8 40.3h0M437.2 83.9h0M445.5 100.8h0M442.6 72.9h0M418.4 77.7h0M417.6 52.1h0M426.3 77.7h0M415.2 91.7h0M434.6 103.8h0M436.1 58.2h0M437 100.1h0M442 105.6h0M424.3 69.7h0M413.6 104.3h0M419.4 64.8h0M441.9 110h0M418.3 93.8h0M416.8 69.2h0M437.2 74.1h0M434.4 60.1h0M445.2 100.8h0M441.5 65.2h0M443.8 56.5h0M444.7 100.1h0M413.5 44.8h0M446.3 85.9h0M422.3 79.1h0M416.4 107.8h0M444.7 107.4h0M423.5 96.4h0M418.1 105.9h0M432.9 69.9h0M442 99.1h0M424.5 69.4h0M443.1 85.6h0M447 95.6h0M431.8 79.6h0M421.2 113.1h0M423.5 63h0M419 102.4h0M428.6 65.3h0M427 112.2h0M423.3 85.4h0M427.2 55.2h0M422.3 75.1h0M443.1 113.4h0M445.2 95.2h0M428.3 43.5h0M417.2 38.4h0M423.4 92.8h0M437 98.5h0M447.4 54.5h0M439.6 65.8h0M415.4 110.9h0M425.3 91.3h0M415.4 92.7h0M432.8 93.1h0M426.9 85.3h0M428.7 29.5h0M423.1 70.6h0M416.2 109.1h0M440.5 91.3h0M425.1 65.6h0M415.6 107.4h0M420.2 44.6h0M414.8 89.8h0M443.7 111.5h0M419.1 102.8h0M446 113h0M447.1 69.8h0M417.4 101.2h0M440.7 90.9h0M420.6 57.5h0M438 51.7h0M446.9 110.8h0M429.3 104.3h0M420.6 83.4h0M436.2 44.3h0M434.4 108.7h0M421.6 44.4h0M432 69h0M430.9 110.3h0M427.5 73h0M426.2 88.5h0M445.4 103.1h0M436.2 93.8h0M427.5 110.7h0M432.8 110.6h0M435 97.6h0M443.5 31.6h0M428.9 53.4h0M441.6 98.4h0M418.6 93.3h0M438.6 84.7h0M437.7 103.8h0M413.5 102.7h0M435.6 95.1h0M415.7 109.8h0M444.9 110h0M432.5 94.5h0M418.4 106.7h0M438.7 84.3h0M422.7 100.7h0M415.5 109.3h0M432.8 103.6h0M441.1 96.4h0M438.1 89.3h0M441.2 97.4h0M438 77.7h0M426.6 80.9h0M420.7 112.5h0M425 100.7h0M442.2 90.1h0M413.9 89.6h0M415.8 86.8h0M445.3 74.7h0M413.5 100.2h0M432.5 110.4h0M444.4 84.2h0M431.3 92h0M439.1 108.7h0M414.2 75.7h0M438.9 107.5h0M434.7 108.8h0M435.3 104.1h0M422.7 84.1h0M434.4 87.9h0M439.8 80.4h0M442.7 108.7h0M415.8 81.1h0M444.1 105.9h0M438 102.7h0M432.2 94.3h0M438.9 36.9h0M439.3 52.9h0M432.4 111.6h0M443.2 102.5h0M443.7 90.7h0M441.4 110.5h0M420.9 110.3h0M426.6 99.9h0M445.3 35.2h0M432.9 32.3h0M419 95.1h0M441.3 74.4h0M419.2 102.3h0M446.8 102.3h0M436.2 36.1h0M446.3 107.9h0M424.1 55.8h0M444 105.5h0M423.8 105.4h0M415.8 105.3h0M439.5 82.2h0M445.7 49.6h0M445.4 106h0M417.8 30h0M432.6 64.7h0M436.5 102.4h0M424.1 83.8h0M438.7 113h0M426.3 87.8h0M443.4 101h0M432.8 111h0M428.1 66.7h0M430.6 100.1h0M427.6 103.4h0M430.1 93.3h0M437.6 109.5h0M424.6 107.5h0M413.9 86.5h0M436.9 31.2h0M428.8 55.9h0M443.3 92.1h0M413.9 79.5h0M439.9 94.9h0M423.6 90h0M441.6 108.8h0M424.4 94.7h0M417.4 46.5h0M435.7 50.2h0M420.5 94.6h0M441 65.2h0M432.5 97.8h0M442.9 75.5h0M436.7 111.1h0M428.9 51.3h0M434.2 86.8h0M415 105.3h0M416.6 78.5h0M421.9 91h0M431.1 38.2h0M444.5 81.9h0M413.4 94.2h0M422.3 97.9h0M416.3 78.9h0M441.8 109.3h0M444.1 76.1h0M432.5 33.9h0M420.8 109.7h0M442 62.9h0M424.7 96.9h0M434.7 87.6h0M440.9 49.4h0M425 94.9h0M420.6 37.7h0M415.5 108.8h0M445.3 77.3h0M414.4 112.5h0M441.8 110.5h0M445.9 93h0M427.7 87.2h0M417.8 94.8h0M437.2 53.2h0M420 78.7h0M428.4 106.4h0M424.7 90h0M438.6 101h0M439.3 56.1h0M434.7 74h0M430.9 110.3h0M439 73.1h0M419.4 52.7h0M420.2 98.6h0M419.1 72.6h0M419.8 107.9h0M429 47.7h0M418.1 104.5h0M445.5 93.4h0M415.6 43.1h0M445.7 106h0M440.9 83.3h0M432.5 62.6h0M431.5 89.1h0M441 108.6h0M424.6 76.3h0M441.6 38.1h0M428.2 95.9h0M441.2 50.8h0M431.2 94.6h0M447.3 95.3h0M434.6 86.1h0M435.6 74.2h0M421.3 112.2h0M448 107.4h0M415.3 97.5h0M414 109.4h0M425.5 95.5h0M447.4 90.4h0M422.2 84.2h0M415.5 62.5h0M424.3 95.4h0M439.9 109.1h0M440.8 110.5h0M415.8 103.7h0M427.7 109.4h0M428.1 88.7h0M419.2 106.2h0M418.3 100.1h0M424.3 94.8h0M426.5 42.1h0M434.3 83.4h0M436 76h0M434.6 89.5h0M427.9 93.4h0M419.2 73.1h0M417 33.6h0M417.9 63.4h0M438.8 89.6h0M419.8 72h0M429.7 34.8h0M421.7 110.8h0M422.4 95.8h0M439.2 92.9h0M440.7 112.1h0M431.9 63.1h0M435 112.9h0M435.3 81.8h0M441 57.6h0M413.1 49.2h0M422.5 104.8h0M440.9 99h0M448.1 94.6h0M437.6 96.4h0M441.9 107.4h0M419.6 79.9h0M414.4 92.1h0M445.9 25.2h0M421.6 85.7h0M422.8 99.2h0M435.3 109.4h0M431.2 113.1h0M442.6 102.1h0M421.5 101.7h0M419.3 102.3h0M415.9 79.9h0M440.8 103.6h0M436 99h0M436.8 111h0M422.4 87.3h0M420 106h0M438.6 70.5h0M441.1 88.6h0M423.2 99.1h0M424.1 80.9h0M440.9 57h0M441.2 84.5h0M419.1 45h0M422.3 92.9h0M439.7 99h0M437.8 95.6h0M426.4 68h0M441.1 94.8h0M437.3 107.4h0M428.4 103.9h0M430.5 104.6h0M420.4 31h0M427.3 109.9h0M417.1 97.9h0M431.2 95.3h0M415.7 108.8h0M413.4 87.6h0M446.8 92.8h0M417.9 107.6h0M424.3 109.7h0M444 82.6h0M416 52.5h0M433.3 111.6h0M430.6 107.4h0M433.6 111.9h0M436 42.3h0M430.5 99.6h0M444.7 100.9h0M435.6 93.4h0M418.6 105.6h0M433.4 73.4h0M414.9 106.4h0M422.3 99.7h0M444.7 102h0M415.1 105.8h0M425.1 89.8h0M415.5 84.2h0M444.4 112.2h0M415.1 48.4h0M432.8 111.8h0M429.3 39h0M444 106.3h0M414.8 97.7h0M413.6 81.4h0M442 98.7h0M419.5 65.5h0M428.4 93.2h0M445 109.1h0M424.2 109.7h0M420.5 73.2h0M442 55.6h0M441.2 69.3h0M447.9 60.1h0M440.9 74.1h0M434.1 53.7h0M420.4 112.2h0M439.4 101.7h0M432.5 37.3h0M427.9 109.1h0M433.6 98h0M418.5 46.4h0M445.8 47.8h0M426.1 50.4h0M445.7 100.9h0M440.4 96.1h0M435.8 92.4h0M423 97.3h0M437.6 108.9h0M425.9 101h0M445.2 79h0M425.7 105.9h0M443.2 109.6h0M414.7 48.3h0M441.4 78.6h0M430.6 111.5h0M434.1 79.5h0M434.8 108.4h0M447.5 109.1h0M434.8 102h0M446.3 76.2h0M437.9 95.4h0M428.8 105.9h0M445.3 113.4h0M439.6 113.2h0M437.6 110.9h0M445.2 105.6h0M419.8 56h0M419.4 107.9h0M434.2 107.8h0M425.3 99.7h0M418.6 48.8h0M422.6 95h0M414.5 105.7h0M442.2 111.5h0M417.4 112.8h0M414.1 112.5h0M432.5 60h0M422.3 74h0M418.4 53.3h0M431.3 100h0M427.7 48.9h0M426.6 71.1h0M436.2 103.5h0M418.9 64.4h0M430.2 24.3h0M445.3 98.6h0M425.7 51.3h0M438.8 84.6h0M426.2 60h0M421.5 93.6h0M426.8 85h0M415.6 87.3h0M423.1 76.6h0M423.9 107.4h0M442.1 69.3h0M442.9 68.2h0M439.9 99.2h0M430.5 95.8h0M415.6 87.8h0M437.2 87.7h0M430.7 75.6h0M441.4 52.2h0M430 63.4h0M414.7 86.5h0M431.3 96.4h0M417.4 105.2h0M444.3 103.9h0M414.9 97.2h0M428.3 108h0M417.9 97.3h0M432.7 112.3h0M414.9 100h0M447.4 97.5h0M435.9 56.7h0M442.4 70.8h0M426.4 79.3h0M425.1 79.6h0M427.4 45.2h0M414 100.4h0M437.4 87.5h0M432 88.3h0M434.7 104.4h0M423.9 37.7h0M415 98.6h0M436.4 97.8h0M442.3 85.2h0M427.1 96.7h0M427.3 66.6h0M422.2 109.1h0M421 100.1h0M439.2 108h0M432 93.9h0M447.6 85.6h0M434.5 113.4h0M419.3 88.9h0M422.3 107h0M436.7 71.4h0M425.6 111.5h0M437.8 99.3h0M436.1 111.5h0M440.5 92.5h0M434.2 62.3h0M430.5 85.9h0M430.8 96h0M422.3 104.8h0M420 108.5h0M442.3 43.3h0M436.9 110.8h0M433.2 102.5h0M440.8 73.2h0M416.3 97.3h0M434.1 112.5h0M442.5 44.6h0M433.1 105h0M443.8 108.8h0M417.5 99.6h0M446.4 92.6h0M423.3 69.2h0M437.6 105.3h0M446.8 96.7h0M432.6 91.3h0M423.1 100.3h0M447.4 77h0M422.2 108.1h0M438.2 75.4h0M433.7 43.3h0M431.1 67h0M440.4 99.5h0M445.5 87.1h0M446.5 99.8h0M440.4 106.3h0M441.9 71.3h0M414.1 34.7h0M426.1 96.3h0M432.8 101.5h0M429.7 70.5h0M445.8 109.3h0M445.2 78.1h0M429.9 98h0M445.3 88.7h0M425.5 105.7h0M440.9 106.2h0M417.8 74.7h0M447.7 106.1h0M428.9 83h0M447.2 92h0M422.1 65.5h0M422.9 104.8h0M422.9 103.4h0M423.4 69.1h0M416.2 60.5h0M440.7 107.6h0M431 113h0M431.1 91.5h0M422.4 93h0M429.9 109.6h0M429.2 102.6h0M413.7 40.9h0M423.6 46.2h0M419.1 107.5h0M423.5 95.8h0M428.1 70h0M447.6 100.9h0M426.2 104.4h0M444.3 74.1h0M439 69.6h0M447.6 55.5h0M441.7 112.9h0M446.1 67.9h0M418.2 33.9h0M440.5 70.8h0M425.4 92.6h0M426.8 108.7h0M417 86.7h0M418.1 104.5h0M436.9 107.4h0M420.8 110.3h0M435.7 112.6h0M425.5 71.9h0M435.3 101.3h0M435 95.5h0M420.7 101.1h0M444.9 91.7h0M438 113.5h0M432.9 102.9h0M434.8 79h0M435.8 99.2h0M425.5 68.3h0M434.5 111.7h0M418.6 94.7h0M447.7 91.4h0M437.6 56.4h0M439.9 108.9h0M439.2 53.9h0M442.9 33.2h0M429.3 90.7h0M422 92.3h0M414.2 92h0M431.1 102.1h0M418.5 104.9h0M429.4 92.7h0M415.3 113.2h0M440.3 95.3h0M425.6 109.9h0M423.8 91.3h0M441.1 104.2h0M427 30.3h0M429.5 93.6h0M436.3 62h0M414.3 30.4h0M424 103.6h0M447.9 25.2h0M437.1 107.8h0M417.7 99h0M446.3 90.7h0M445.7 62.2h0M436 102.7h0M413.7 80.5h0M427.7 78.7h0M426.6 82.8h0M419.3 50.4h0M434.2 107.3h0M423.2 101.1h0M436.6 85.3h0M421.7 75.5h0M445 93.9h0M422.7 98.9h0M413.6 112.9h0M442.8 103.1h0M420.9 106.1h0M414.6 61.1h0M446.3 77h0M424.4 72.6h0M437.7 77.7h0M416.9 101.8h0M441.4 111.8h0M442.6 55.8h0M422.8 79h0M421.6 96.4h0M417.8 44.4h0M433.6 81.8h0M427.5 88.8h0M444.3 78.7h0M426 112.9h0M430.9 100.9h0M426.7 95.6h0M422.5 83.6h0M415.2 80.6h0M433.9 93.4h0M423.3 101.3h0M444.9 106.7h0M436 72.2h0M435.2 107.1h0M443.4 66.9h0M419.7 31.8h0M444.3 61.7h0M441.7 101.5h0M419.6 62.8h0M420.8 78.1h0M414.7 59.4h0M428.7 95.8h0M417.2 42.2h0M441.6 38.4h0M422.8 80h0M421 82.3h0M445.1 87.6h0M424 106.7h0M424.8 93h0M432.6 81.8h0M432 58.5h0M423.6 61.7h0M434.7 74.7h0M420.6 102.6h0M436.6 67.9h0M424 77.8h0M421 111.5h0M425.1 109.8h0M422.3 113.5h0M441 105.3h0M439.7 56.7h0M417 103.3h0M444.5 64.1h0M441.8 97.2h0M416.4 103.5h0M430.4 102.7h0M431.5 87.9h0M430.8 79.1h0M413.8 110.8h0M445.2 86.4h0M428.2 106.9h0M438.6 102h0M432.3 105.6h0M445.5 85h0M423.5 79.2h0M437.7 93.2h0M424.2 31.7h0M445.6 105.6h0M423.8 113.3h0M414.6 94h0M430.1 111.4h0M437.8 107.7h0M427.4 70.8h0M439.3 105h0M439.1 102.2h0M421 89.5h0M427.3 108h0M447.7 76.9h0M431.2 82.8h0M443.8 92.6h0M427 105.9h0M420.9 106h0M443.9 95.9h0M429 51.3h0M413.6 26.3h0M437.6 109.8h0M431.9 111.1h0M442 82h0M446.8 110.9h0M437.2 110.2h0M417.7 77.4h0M416.5 84.8h0M443 69.1h0M438.9 75h0M441.7 87.4h0M432.2 96.6h0M433.8 46.2h0M415.6 105.9h0M428 47.6h0M432.8 70.4h0M423.1 111.6h0M415.9 109.6h0M444 65.5h0M418.4 108.6h0M431.1 59.6h0M436.6 108.8h0M430.3 111h0M444.3 87.6h0M421.3 106.7h0M444.4 107.8h0M443.3 72.2h0M432.2 51.2h0M427.7 82.2h0M443.2 110.4h0M430.2 112.8h0M446.8 101.8h0M418.3 101.4h0M416.5 94.6h0M419.1 77.5h0M442.5 111.9h0M428.3 51h0M429.5 101.7h0M436.5 63.4h0M420.2 47.1h0M428.5 99.5h0M434.3 84.4h0M414 59.6h0M428.4 100.1h0M433.7 113h0M427.7 81.5h0M420 111.3h0M415.3 80h0M446.3 102.6h0M441 100.8h0M432.5 111.8h0M438.6 24.1h0M413.9 96.6h0M448.1 75.5h0M424.9 99.3h0M428.7 91.9h0M415.4 90.3h0M424.3 102.6h0M417.2 100.9h0M424.9 94.9h0M427.7 106.3h0M434.2 46.6h0M417.7 99.7h0M443.5 99.9h0M446.2 91.7h0M417.7 74.7h0M418.3 29.2h0M440.6 83.7h0M424.8 112.3h0M422.6 102.1h0M422.4 89.9h0M419.6 92.8h0M444.8 87.6h0M436.5 112.3h0M420.7 94.3h0M448.1 108h0M424.7 63h0M439.8 105.3h0M438.8 98.1h0M428.4 84.7h0M436.7 82.5h0M423 55.6h0M438.6 84.7h0M420.2 71.8h0M417.6 96.1h0M426.4 96h0M437.8 88.9h0M438.1 102h0M422.9 56.7h0M414.2 96.1h0M432.4 82.9h0M439.3 107.4h0M414.4 111.1h0M418 102.1h0M429.1 66.1h0M419.9 83.8h0M426.6 112.8h0M419.4 35.7h0M437.7 83.1h0M440.4 45.4h0M446.5 54.3h0M414.2 105.4h0M417.9 42.3h0M443.8 112.9h0M437.3 88h0M437.2 100h0M413.7 47.5h0M448 102.2h0M424.2 67.7h0M415 98h0M416.9 39.4h0M418.1 44.3h0M435.8 106.9h0M427.6 72h0M423.7 30.2h0M419 82.8h0M422.8 104.7h0M441.4 73.5h0M426 109h0M413.4 105.8h0M448 43.1h0M446.6 103.9h0M426.1 89.6h0M435.8 111.3h0M416.3 73.8h0M433.1 105.9h0M414.9 97.8h0M421.3 32.3h0M446 111.4h0M417.7 43.3h0M431.5 106.6h0M434 104.9h0M420.9 101.7h0M446.7 80h0M430.8 93.8h0M415.8 100.8h0M440 104.1h0M429.7 112.1h0M419.2 67h0M425.6 51.9h0M432.6 93.9h0M430.5 102h0M428.5 85.7h0M413.3 56.9h0M416.6 105.6h0M427.7 111.6h0M447.3 93.3h0M419.1 107.4h0M421.5 86.5h0M429.1 54.4h0M423.9 100.6h0M443.9 91.8h0M439.6 95.7h0M437.3 70.4h0M418 60.8h0M426 98.5h0M440.8 100.3h0M432.7 113.1h0M418.1 79.2h0M442.9 102h0M445.3 83.4h0M439.8 57.1h0M433.9 92.6h0M418.9 104.5h0M425.4 73h0M428.6 71.5h0M433.1 110.9h0M432 47.6h0M418.1 80.5h0M434 28.4h0M441.4 58.5h0M420.5 87.5h0M415.7 52.5h0M426.8 107.5h0M426.8 95.9h0M445.5 106.5h0M422.4 78.7h0M440.2 66.9h0M441.9 95.2h0M417.7 82.3h0M444.9 102.5h0M433.2 93.4h0M443.3 96.3h0M440.7 104.7h0M430.2 93.3h0M442.7 73.4h0M424.6 68.5h0M424.4 109.3h0M434 60.9h0M426.3 76.7h0M420.5 95.8h0M441.3 104.3h0M441.5 85h0M416 109.2h0M437.8 69.7h0M445.3 111.8h0M441.5 84.2h0M418.2 47.2h0M416.2 57.8h0M428.7 99.8h0M444.4 85.1h0M445 106.5h0M414 94.8h0M444.6 98.9h0M435.7 96.4h0M436.1 104.8h0M421.4 50.5h0M435.1 107.2h0M446 49.5h0M433.5 74.3h0M445.1 109h0M437.2 34h0M421.5 96.2h0M425.4 95.1h0M422.2 80.8h0M423.6 82.3h0M436.5 99.3h0M430.3 108.6h0M444.7 102.1h0M420 45.8h0M417.7 109.9h0M416.2 51.9h0M421.8 65.5h0M438.1 61.4h0M418.9 70.7h0M435.5 113h0M445 84.1h0M435 108.5h0M420.3 106.5h0M439.8 59.3h0M442.5 66.6h0M431.6 35.7h0M426.5 85.2h0M434.3 112.5h0M416.5 103.1h0M436.2 71.5h0M421.1 54.2h0M435.4 76.7h0M424 99.7h0M426.1 107.6h0M445.6 93.8h0M425 101.3h0M440.7 44.9h0M416.7 110.3h0M437.3 58.9h0M415.8 108.2h0M430.8 100.7h0M444.2 71.3h0M422.5 70.3h0M422.9 96.6h0M445.2 102h0M428.1 82.9h0M435.3 35.5h0M438.1 94h0M438.5 111.6h0M446.8 100.1h0M446.5 100h0M415.8 104h0M414.9 94.6h0M439.1 106.9h0M420.2 85.8h0M437.6 78.8h0M417.1 63.4h0M429.2 89.7h0M428.3 76.4h0M428.4 83.1h0M432.5 71.6h0M417.6 99.6h0M428.7 97h0M447.8 88.8h0M415.2 106.4h0M440.8 55.4h0M433 107.3h0M419.6 105.8h0M436.5 68.3h0M425 38h0M429.9 108.7h0M420.6 78.3h0M448 100h0M445.7 42.6h0M430.7 72.9h0M429.9 108.2h0M426.9 103.2h0M433.3 74.5h0M435.2 77.7h0M439.6 84.1h0M418.2 93h0M445 95.2h0M415.7 40.1h0M445.8 97.4h0M420.7 78.4h0M430.2 78.5h0M442.4 57.1h0M425.5 70.9h0M416.8 58.4h0M436.9 111.5h0M438.6 97.7h0M427.3 101.1h0M436.2 50.2h0M442.5 85.4h0M413.2 103.8h0M435.8 59.6h0M434.9 99.7h0M429 84.2h0M420.1 105.3h0M425 68.8h0M427.4 96.3h0M441.7 96.6h0M439 110.6h0M430.9 49.6h0M423.7 93.2h0M443.6 68.4h0M414.5 65h0M425.7 77.8h0M424.8 47.7h0M430.1 107.2h0M414.7 106.2h0M428 72.3h0M418.1 95.1h0M415.2 98.7h0M447.9 105.5h0M442.3 105.9h0M424.9 75.5h0M435.9 70.7h0M421.4 108.9h0M444.1 104.8h0M435.4 87.9h0M428.4 97.1h0M423.2 79h0M428.5 105h0M439.3 93.4h0M440.4 107h0M415 71.6h0M447.1 72.5h0M431.4 98.1h0M444.7 102h0M415.1 38.2h0M443.2 108.6h0M433.8 93h0M416.4 109.4h0M413.1 37.3h0M421.5 101.6h0M445.1 110h0M436.1 70.4h0M424.6 65.9h0M423.7 108.8h0M438.3 44h0M427 94.8h0M416.2 108h0M435.5 105.6h0M430.9 63.5h0M443.7 28.6h0M416.5 81.8h0M436.3 46.7h0M440.2 72.9h0M430.8 97.7h0M441.1 105.1h0M444.1 104.7h0M438.8 76.8h0M420 108.7h0M417.4 112.3h0M432.2 98.5h0M447.5 82.2h0M446.6 69.1h0M429.1 76.6h0" stroke="#888888" stroke-width="0.8" stroke-linecap="round" stroke-opacity="0.33" fill="none"/>
<path d="M465.4 92.6h0M468.5 84.3h0M460.5 85.6h0M482.5 56.5h0M454.6 62.7h0M486.8 67.3h0M476.3 77.7h0M462.7 100.6h0M454.8 85.5h0M462.8 86.4h0M486.7 107.8h0M466.6 85.8h0M466.8 77.3h0M458.5 110.9h0M477.9 84.7h0M464.5 105.6h0M464.8 85.8h0M457.2 93h0M459.6 102.7h0M460.1 108h0M489 100.5h0M474.1 101.8h0M487.9 87.9h0M465.2 100.5h0M470.9 50.4h0M486 91.7h0M480.3 109.4h0M474.4 107.2h0M477.2 58.5h0M456.6 104.3h0M488.2 41.7h0M487.8 110.4h0M479.2 110.5h0M467.8 93.5h0M464.9 109.1h0M463.9 113h0M460.4 85.3h0M455.8 73.5h0M455 76.7h0M470.1 76h0M470.7 65.9h0M463.1 83.9h0M470.9 112.8h0M489.1 112.3h0M464.7 82.8h0M486.9 99.5h0M463.8 94.1h0M472.7 93.9h0M476.2 102.6h0M459.1 107.4h0M484.3 93.3h0M460.1 95.3h0M466.3 108.2h0M473 112.6h0M485.2 66.2h0M484.4 48.2h0M466.6 105.8h0M476.1 110.5h0M463.4 96.5h0M467.7 94.7h0M466.1 78.4h0M473 56.4h0M468.7 100.5h0M489 111h0M466.4 93.2h0M484.6 87h0M487.3 42.9h0M485 104.7h0M488.2 89.6h0M484 64.5h0M469.2 78.1h0M475 109.5h0M482 104.2h0M470.7 89.5h0M480.8 105.2h0M480.8 109.9h0M476.1 58.2h0M461.9 55.5h0M467.1 109.8h0M484.7 76.1h0M467 50.2h0M473.9 74.5h0M460.6 97.6h0M472.3 107.3h0M486.4 110.1h0M478 91h0M485.4 111h0M483.4 96.4h0M469.4 79.8h0M459.5 65.4h0M483.5 109.1h0M487.1 84h0M477.8 90.5h0M464.3 104.7h0M481 90.1h0M471.3 113h0M459.6 61.6h0M467.6 103.5h0M479.1 72.5h0M474 92.7h0M473.6 87.7h0M461.9 70.8h0M471.2 104.4h0M461.7 96.8h0M475.6 106.9h0M472.8 59.2h0M456.2 75.9h0M471.9 67.8h0M461.2 40h0M480.7 104.4h0M486.9 82h0M476.2 54.7h0M476.6 108.6h0M460.1 103.4h0M462 86.3h0M458 94h0M484.6 61.3h0M488.3 112.7h0M486.7 87.6h0M477.2 106.9h0M478.2 98.5h0M476.2 86.6h0M486.4 83.9h0M482.5 90.2h0M472.3 110.4h0M471.7 102.4h0M481.8 28h0M461.6 101.6h0M476.2 90.5h0M467.7 102.1h0M477.7 73.3h0M467.8 112.1h0M462.9 101.5h0M483.3 79.9h0M473.1 68.4h0M479 88.7h0M474.8 96.8h0M484.6 61h0M481 35.9h0M488.5 57.9h0M478.8 102.6h0M482.7 80.2h0M485.2 111.8h0M477.8 82.6h0M488.6 94.3h0M459.2 96.2h0M459.6 53h0M471.7 96.5h0M480.5 79.1h0M477.2 107.1h0M486.5 24.5h0M477 88.5h0M466.9 62.3h0M463.3 24.2h0M488.9 97.1h0M477 50.8h0M454.7 70.9h0M466.1 87.5h0M471 31.6h0M469.3 103.8h0M488.5 78.6h0M464.8 61.9h0M464.6 92.3h0M454.7 69.8h0M479.6 65.9h0M469.5 27.6h0M456.8 89.2h0M476.3 77.8h0M461.9 98.4h0M460.7 111.2h0M482.8 79.1h0M454.9 62.9h0M487.8 80.1h0M485.4 82.7h0M462.5 104.3h0M462.7 53.8h0M471.3 112.1h0M456.5 45.7h0M483.1 111h0M472.8 111h0M483.8 109.1h0M483.4 96.7h0M476.5 71.5h0M479.9 88.4h0M489.3 92.9h0M464.9 88.2h0M463.5 80.5h0M471.7 101.6h0M460.6 92.8h0M477.6 92.7h0M487 55.2h0M476.3 109.6h0M466.2 108.4h0M475.5 89.4h0M476.2 94.2h0M455.5 97.8h0M480.3 83.2h0M464 64.3h0M464.9 102.4h0M457.7 87.4h0M482.2 80.3h0M481 88.4h0M462 76.1h0M468.9 104h0M480.4 93.1h0M471.2 59.6h0M477.1 84.7h0M469.9 105.1h0M482.5 104.9h0M482 100.1h0M480.1 103.7h0M458.8 102.1h0M471.8 38h0M475.1 106.5h0M457 107.9h0M476.3 91.6h0M482.6 58.4h0M475.4 110.6h0M487.6 84.3h0M463.7 99.4h0M480.7 104.8h0M480.4 110.6h0M481.1 89.2h0M470.8 91.3h0M475.6 96.8h0M483.4 83.9h0M489.3 89h0M467.5 87.3h0M465.6 88.6h0M460.9 70.6h0M463.9 110.2h0M464.1 104.7h0M467.3 80.3h0M464.7 109.4h0M459.9 87.6h0M475.3 92.2h0M475.4 96.9h0M465.8 109.6h0M479.1 106.2h0M464.5 78.4h0M470.7 62.6h0M458.5 105.5h0M456.9 101.4h0M474.8 98.6h0M482.9 112.1h0M488.8 109.1h0M458 82.7h0M455.6 99.9h0M468.9 109.8h0M478.2 94.6h0M486.4 109.5h0M469 93.5h0M473.4 62.4h0M455 36.3h0M462.9 75.1h0M486.2 112.7h0M464.7 80.6h0M485.5 87.7h0M461.6 100.7h0M462 70h0M466.7 110.9h0M467.9 50.1h0M469.8 105.2h0M471.1 77.3h0M476.1 93.3h0M464.9 104.9h0M473.7 62.9h0M474.1 103.7h0M480.7 97.8h0M489 104.2h0M473.5 26.5h0M484.3 108.2h0M485 101.2h0M474.4 105.8h0M488.1 111.2h0M458 49.6h0M465 92.8h0M480.7 79.6h0M457.9 101.8h0M460.2 84.7h0M457.2 89.9h0M485.4 57.4h0M469 103.9h0M463.4 56h0M484.5 57.7h0M478.6 102.7h0M463.2 113.3h0M461.7 49.7h0M479.9 97.7h0M488.4 76.1h0M462.1 98.4h0M454.6 112.4h0M486.8 102.2h0M477.7 111.5h0M459.7 106.9h0M461 103h0M464.5 98.2h0M461.2 101.1h0M482.8 29.9h0M488.8 91.9h0M469.4 107.3h0M463 105.8h0M464.7 102.2h0M486.6 111.8h0M477.9 95.4h0M486.6 75.4h0M481 110.9h0M463.7 80.2h0M462.5 91.4h0M482.3 101.8h0M485.8 73.1h0M457.8 103.5h0M463.7 91.8h0M465.8 98.4h0M479 92h0M462.3 112.3h0M471.3 95.5h0M472.1 60.2h0M485.2 92.3h0M455.5 83.1h0M471.9 55.6h0M472.2 113.5h0M468.1 39.5h0M457.6 87.9h0M468.6 96.4h0M479.7 107h0M489 108.1h0M488.1 99.6h0M486.5 98.7h0M485.4 95.6h0M456.9 102.2h0M486.3 82.4h0M463.1 49.8h0M483.8 97.4h0M480.5 92.9h0M483.6 40.9h0M471.5 107.8h0M469.4 91.8h0M475.5 81.4h0M484.7 65.4h0M477.2 101.7h0M471.3 95.1h0M461 111.7h0M473.7 106.4h0M489 100.9h0M462.9 73h0M481.5 96h0M482.6 107.2h0M488 83.5h0M482.7 91.7h0M476.5 92.9h0M471.9 71.9h0M469.7 100.4h0M476.3 104.7h0M462.5 52.4h0M466 110.6h0M485.2 82.7h0M457.5 112.1h0M486.9 94.4h0M479.7 103.8h0M455.5 89h0M471.8 84h0M470.1 98.5h0M476.8 46.2h0M469.2 98.6h0M488.8 91.8h0M470.5 42.8h0M455.5 111.3h0M464.6 100.9h0M463.9 108.2h0M458.2 50h0M456.7 112.7h0M484 88.5h0M456.5 76.1h0M457.5 105.5h0M457.2 70.4h0M477.1 74.5h0M470.6 85.4h0M468.6 90.6h0M481.5 69.2h0M471.2 87.7h0M469.4 98h0M479.5 84.2h0M466.2 82.5h0M463.2 45.4h0M484.8 99.4h0M455.3 46.4h0M476.8 41.1h0M456.1 57.1h0M458.8 97.2h0M462.6 90.1h0M463 72h0M475.2 64.3h0M475.8 113h0M487.4 71.7h0M481.8 110.1h0M455.3 104.5h0M468.8 105.8h0M480.9 104.4h0M488.9 108.7h0M469.7 99.9h0M456.6 98.3h0M459 105.1h0M480.8 90.1h0M481.6 79.9h0M474.3 89.5h0M477.3 86.7h0M482.8 112.7h0M473 90.9h0M463.8 97.9h0M476.7 60.1h0M458.5 86.7h0M479.5 83.2h0M469 84.4h0M469.2 89.2h0M476.1 106.7h0M479.5 108.7h0M467.7 59.2h0M485.8 102.3h0M487.7 76.2h0M488.1 108.4h0M487 97.1h0M472.6 112.7h0M463.4 94.4h0M484.4 110.4h0M473.4 110.1h0M465 97.2h0M472.4 105.9h0M469.2 106.4h0M470.9 97.4h0M487.8 75.4h0M472 110.8h0M467.1 100.6h0M480.7 111h0M484.4 107.7h0M479.1 68h0M457.2 85.9h0M466.1 104.2h0M486.7 77.2h0M475.1 78.2h0M457.5 110h0M479.1 101.6h0M479 67.5h0M463.5 71.9h0M479.7 37.3h0M462.5 62h0M488 99.7h0M476.8 94h0M459.9 37h0M473.8 87.7h0M484.4 111.8h0M460.2 103.5h0M484.9 32.1h0M485.3 89.8h0M458.4 78.9h0M484.3 61h0M455.3 90.3h0M476.2 95.5h0M474.6 100.6h0M487.9 71.4h0M475.4 80.1h0M470.4 108.7h0M461.2 107.1h0M479.7 95.6h0M484.8 78.6h0M466.3 57.9h0M487.9 107.9h0M483.5 99.8h0M468.7 99.4h0M462.3 84.3h0M467.1 111.8h0M473.5 76.7h0M458.1 74.6h0M487.9 101.9h0M467.7 84.5h0M462.3 85.1h0M475.9 94h0M480.5 59.2h0M459.9 110.5h0M467.5 102.9h0M468.7 88.2h0M484 45.7h0M463.5 105.3h0M466.9 99.1h0M461.4 102.2h0M471.8 111.1h0M468.2 103.2h0M479 98.7h0M467.2 107.4h0M460.7 112.9h0M459.4 96.5h0M479.1 105h0M459.8 104.8h0M460.4 113.1h0M479.1 87.3h0M480.8 113.4h0M456.5 110.5h0M458.3 112.2h0M463.8 99.3h0M466.6 66.8h0M472.2 109.4h0M460.3 112.8h0M486.9 89.8h0M460.1 71h0M485.7 91.8h0M464.2 31.4h0M474.9 46.9h0M470.1 108.8h0M460.6 52.4h0M458.5 67.6h0M470 86.9h0M469.6 100.5h0M455.8 56.2h0M467.1 81.6h0M455.5 47.8h0M456.6 107.3h0M480.3 100.6h0M486.3 30.4h0M461.4 111.5h0M470.2 109.4h0M486.6 58.1h0M465.6 98.2h0M460.5 96.7h0M479 89.1h0M463 76.3h0M471.7 71.7h0M465.1 90.9h0M468.2 75.4h0M461.7 103h0M455.1 79.5h0M467.8 108.8h0M485 101.7h0M478.3 102h0M485.3 107.3h0M465.7 99.6h0M455 73.2h0M461.8 93.6h0M464.6 69.6h0M485.6 101.8h0M486.4 49.7h0M463.1 66.7h0M463.3 41.8h0M469.6 52.4h0M463.7 84.3h0M483.3 81.5h0M479 103.6h0M487.2 70.9h0M469.1 57.2h0M489.3 97h0M468.7 104.8h0M462.8 92.1h0M483.4 56.4h0M478.5 92.4h0M470 100.7h0M476.6 104.4h0M456 84.5h0M473.8 108.3h0M455.1 105.9h0M472.9 90.1h0M484.4 108.2h0M457.3 103.7h0M465.1 100.5h0M466 75.2h0M457.7 101h0M473.5 87.6h0M483 95.5h0M475.8 94.5h0M458 108.5h0M462.6 113.4h0M471.1 71.8h0M480.3 107h0M467.6 72.5h0M489.3 85.1h0M471.9 109.4h0M489.3 96.6h0M482.8 113.3h0M461.1 112.4h0M485.9 85.6h0M469.7 112h0M487.5 110.8h0M468.2 99.6h0M481.9 113.3h0M480.3 76h0M463.7 42.2h0M456.9 66.9h0M460.5 97h0M468.1 70.5h0M486.2 106.4h0M472.7 105.4h0M486.7 85h0M483.8 74.6h0M486.2 99.2h0M474.5 50.8h0M476.9 39.7h0M477.5 42.7h0M488 104.9h0M484.3 91.2h0M475.4 69.4h0M476.1 53.7h0M474.7 107.9h0M478.5 97.5h0M483.8 37.4h0M455.2 97.2h0M476.4 87.4h0M478.8 71.5h0M458.3 106.1h0M459.8 106.1h0M479.8 110.4h0M466.8 111.5h0M480.5 81.4h0M489.1 111.7h0M479.9 85h0M473.9 82h0M457.6 51.7h0M483.5 40.8h0M479.2 77h0M462.7 96.1h0M484.1 111.5h0M483.3 47.3h0M484.1 103.2h0M468.3 95.5h0M480.3 95.3h0M475.5 103.9h0M463.9 93.8h0M461.8 27.8h0M464.2 73.4h0M454.7 53.5h0M457.1 63.5h0M479.2 92.6h0M486.8 98.7h0M486 30h0M484.2 65.9h0M465.8 69.9h0M462.6 85.8h0M468.8 83.8h0M478.1 104.7h0M486 102.2h0M470.7 36.2h0M485.8 90.4h0M484.8 45h0M468.5 104h0M459 104.5h0M476.9 111.2h0M468.5 112.3h0M486.2 70.4h0M472 112.2h0M473.9 83.3h0M475.9 56.3h0M465.6 79.4h0M462.1 103.2h0M473.9 60.1h0M458 73.2h0M475.5 106h0M473.8 102.9h0M487 71h0M455.8 94.6h0M463.2 92.5h0M463 66.3h0M486.8 102h0M471.7 73h0M488.1 109.9h0M473 108.9h0M462 100.4h0M456.8 110.3h0M476.8 75.1h0M486.9 79.4h0M470.8 59.7h0M487.4 40.9h0M468.8 85.4h0M454.8 80.9h0M486.1 65.6h0M470 62.3h0M466.9 103.9h0M489.3 112.9h0M469.9 112.3h0M460.5 98.1h0M467.1 102h0M474.2 93.3h0M487.7 87.5h0M483.6 82.3h0M468.9 75.8h0M486.6 104.4h0M476.3 96.4h0M463.3 76.7h0M461.4 89.9h0M456.5 41.3h0M461.5 47.6h0M460.8 74.9h0M460.4 92.5h0M460.6 93.3h0M467.7 94.2h0M455.5 87.2h0M463 103.6h0M475.8 58.3h0M471.7 88.3h0M476.1 110.6h0M477.3 77h0M479.5 107h0M460.7 78h0M479.9 50.3h0M482.9 92.7h0M479.2 76h0M472.6 98h0M458.4 73.3h0M462.7 83.5h0M471.2 93.1h0M466.4 80h0M468.4 105.4h0M463.7 60.3h0M471 92.1h0M482.6 100.7h0M457.7 92.9h0M488.5 87.8h0M460.2 97.5h0M484 108.6h0M462.3 105.5h0M463.5 106.6h0M485.5 79.7h0M487.8 80.8h0M473.9 55.1h0M480.4 112.5h0M463.5 87h0M457.9 85.4h0M466.3 97h0M465.2 106.5h0M465.7 96.6h0M476.6 66.3h0M461.2 45.9h0M467.6 33.3h0M474.4 92.8h0M488.4 37.2h0M474 67.5h0M478.9 93.3h0M471.6 103.8h0M482.2 91.1h0M456.2 34.8h0M468.6 110.4h0M461.8 64.8h0M466.9 37.4h0M465 51.9h0M479.1 100.5h0M475.8 91.9h0M477.6 83.6h0M469.8 88.6h0M460.7 84.7h0M462.3 104.1h0M473.5 69.7h0M463.2 76h0M469.9 92h0M487 70.1h0M465.1 91h0M458.2 107.6h0M488.3 56.2h0M483.1 90h0M458.4 64.1h0M485.7 95.1h0M475.5 112.2h0M461.1 104.5h0M480.7 46.9h0M469.5 89.1h0M486.9 96.1h0M488.1 103.6h0M457 100.1h0M484.6 91.8h0M456.1 109h0M486 64h0M471.6 76.5h0M457.5 109.7h0M468.5 103.1h0M465.9 90.4h0M478.9 28.5h0M479.3 105.2h0M467.4 95.3h0M479.5 111.1h0M454.8 99.3h0M462.6 94.2h0M458.3 70.5h0M460.1 104.5h0M464.8 110.2h0M460.8 69h0M472.6 60.1h0M488.1 91.8h0M486.9 90.4h0M481.3 86.4h0M482.9 107.7h0M459.5 101.7h0M457.4 87.8h0M477.6 95.1h0M469.3 99.6h0M461.2 82.2h0M457.5 107.7h0M465.2 70.5h0M470.2 82.4h0M455.3 108.4h0M468.7 72.6h0M460 85.5h0M485 98.3h0M479.9 27.7h0M461.9 94.4h0M458.9 105.5h0M481.9 111.3h0M481.1 70.4h0M488.5 101.2h0M459.3 109.6h0M473.8 66.8h0M483.3 34.2h0M470.1 92.2h0M463.2 72.4h0M458.9 84.1h0M464.6 41.7h0M467.1 36.4h0M477.4 81.8h0M457.2 82.5h0M480.8 72.1h0M459 102.2h0M463.8 63h0M470.3 80.8h0M456.2 75.8h0M466.5 80.8h0M487.7 98.1h0M487.7 112.7h0M482.8 66.1h0M465 87.8h0M473.3 73.1h0M483 90.7h0M454.5 110.9h0M469.1 96.3h0M473 109.5h0M476.4 75.2h0M462.8 39.6h0M466.3 102.8h0M489.4 75h0M457.3 93.7h0M483.3 113.3h0M474.9 57.4h0M489.1 88.7h0M474.8 111.6h0M468.5 68.9h0M488.2 46h0M475.5 95h0M475.3 108.2h0M483.5 91.3h0M466.6 61.6h0M475.5 100.5h0M482.1 65.4h0M462.2 76.1h0M463.1 78.4h0M480.9 101.7h0M484.4 108h0M479.1 106.1h0M476.9 113.2h0M459.2 56.1h0M484.1 43.1h0M488.9 104.4h0M485.4 97.2h0M473 35.4h0M458.9 81.6h0M470.1 95.8h0M486.6 94.6h0M478.1 50.4h0M459.9 68.5h0M487.8 56.4h0M477.4 35.5h0M481.2 107.3h0M458.3 105h0M475.7 96.2h0M482.2 85.3h0M460.1 72.7h0M464.1 40.2h0M484.9 93.2h0M473.1 72.8h0M481.7 53.4h0M481.5 63.8h0M472.9 113.5h0M469.3 105.7h0M480.4 105.4h0M467.7 24.8h0M478.1 81h0M457.7 61.9h0M480.6 78.5h0M481.3 81.9h0M483.6 111.6h0M472.1 107.2h0M483.1 81.8h0M462.2 100h0M455.1 84.3h0M485.6 108.3h0M459 102.1h0M462.5 105.3h0M464.3 108.9h0M455.3 85.2h0M462.7 98.8h0M468.6 88.9h0M460.4 59.2h0M486.7 65.5h0M456.5 99.1h0M464.7 89.6h0M462 102.5h0M473.3 92.4h0M457.3 61h0M473.5 102.8h0M460.3 81h0M480.9 76.9h0M468 47h0M467.5 56.4h0M484.5 107.8h0M460.2 96h0M472.5 61.2h0M480 106.4h0M471.5 80h0M489.3 81.1h0M489.3 88.9h0M457.3 92.4h0M487.6 109.4h0M485.6 69.7h0M458.3 93.2h0M481 110h0M466.3 112.3h0M463.7 69.5h0M473 83.3h0M457.3 110.9h0M482.2 87.2h0M488.2 104h0M464.7 68.9h0M489 82.5h0M487.4 76.6h0M469.9 75.1h0M470.7 104.2h0M477.1 98.5h0M456.8 64.4h0M461.8 83.3h0M474 72.3h0M467.1 105.8h0M472.3 106.4h0M460.6 88.1h0M487.9 79.1h0M469.6 97.5h0M462.9 43h0M456.1 103.6h0M474.8 54.2h0M468.9 63.6h0M478.4 72.8h0M478.8 97.3h0M456.8 81.6h0M458.1 111.9h0M470.5 82.6h0M469.5 68.8h0M469.3 56.2h0M472.9 94.5h0M470 59.8h0M484 106.1h0M475.3 101.3h0M464.9 100.3h0M468.6 33.9h0M462.6 110.3h0M474.4 71.8h0M485 83.1h0M477.2 62.5h0M486.8 69.3h0M480.9 42.7h0M475.2 101h0M483.5 106.7h0M477.9 42.3h0M455 92.1h0M477.2 103.5h0M481.5 75.4h0M481.6 89.2h0M464.4 95.1h0M460.7 112.3h0M454.5 101h0M462.5 97.5h0M461.1 76.6h0M464.6 42h0M458 88.8h0M460.9 65.1h0M458.9 70.2h0M462.9 71.3h0M468.5 84.3h0M483 96.3h0M486.6 96.2h0M475.1 94.7h0M472.4 101.7h0M471.6 98.3h0M487.5 83.8h0M485.6 102.1h0M476.8 107h0M466.6 41h0M483.9 46.1h0M487.7 93h0M471.9 99.6h0M461.2 94.9h0M471.5 88.3h0M466.1 75.8h0M457.1 85.7h0M477 42.2h0M475.6 94.4h0M474.7 71.4h0M457.9 87.6h0M477.9 110.9h0M469.3 108.5h0M465.9 99.7h0M466.1 103.7h0M470.1 107.4h0M473.2 82.6h0M482.5 86.8h0M475.3 65.7h0M455.8 86.7h0M469.9 62.4h0M479.4 93.3h0M467.5 84.6h0M455.9 68.7h0M487.8 79.4h0M472.8 78.7h0M460.9 104.4h0M487.4 100.4h0M456.3 91.2h0M457 37.9h0M459.1 105h0M461.3 112.8h0M475.4 84.8h0M487.2 43.3h0M467.3 102.6h0M486.6 91h0M464 113.2h0M465.8 24.4h0M473.5 103.8h0M483.8 103.6h0M478.4 93.6h0M467.8 110.5h0M464.6 110.8h0M466.5 67.3h0M485.1 95.3h0M465.4 103.9h0M460.6 91h0M463.8 77.4h0M468.3 112.4h0M487.9 98.8h0M471.2 73.4h0M485.2 108.7h0M485.8 108.2h0M475.1 110.4h0M480 57.9h0M459.2 84.6h0M469.1 100.3h0M458.2 111.3h0M458.3 84.2h0M471.6 108.4h0M483.7 84.7h0M457.5 71.1h0M455.7 100.1h0M483.8 29.9h0M470.2 47.2h0M458.8 85.9h0M485.9 110.7h0M473.7 102.5h0M480.8 95.1h0M486.5 103.1h0M459.1 78.4h0M459.9 90.3h0M487.3 89h0M465.8 73.2h0M475.1 108.4h0M473.7 113.1h0M462.1 100.5h0M464.9 112.1h0M458.4 95.7h0M472.5 94.9h0M476.6 106.9h0M455.1 72.3h0M483.3 92.7h0M463.4 40.5h0M473 39.9h0M456.8 105.9h0M466.1 104.9h0M457.7 77.7h0M475.1 101.5h0M465.8 81.2h0M486.6 76.1h0M459.1 84.3h0M473.5 91.8h0M488 80.7h0M464.6 96.5h0M485 101.3h0M489.2 81.9h0M457.4 112.8h0M473.4 104.8h0M469.1 71.9h0M471.3 110.8h0M483 93.5h0M482.3 105.7h0M463.6 93.5h0M474.7 64.9h0M488 112.6h0M462.6 93.3h0M461.3 108.3h0M474.1 94.5h0M468.5 105.3h0M464.6 113.4h0M481.7 67.5h0M487.8 98.4h0M463.2 84.4h0M458.8 87.2h0M470.4 96.5h0M473.1 67.4h0M485.3 102.8h0M487.9 106h0M473.3 101.8h0M477.2 68h0M474.2 90.4h0M454.7 67.1h0M474.3 45.6h0M478.6 108.5h0M466.7 103.9h0M476 108.4h0M469.3 89.8h0M486.6 90h0M471.2 97.6h0M474.2 90.8h0M460.6 69.5h0M479.9 107h0M470.7 83.9h0M459.9 97.1h0M472.4 74.1h0M462 102.5h0M466.7 47.6h0M464.3 72.5h0M472.4 90.8h0M474.4 111.7h0M482.3 98.2h0M472.5 91h0M485.3 89.4h0M483.7 111.5h0M456.1 65.8h0M466.7 94h0M458 56h0M484.9 90h0M455.9 101h0M462.9 99h0M475 87.3h0M458.8 109.2h0M487.4 111.9h0M463.9 98.8h0M458.3 82.8h0M458.8 91.1h0M468.9 49.9h0M471.4 61.7h0M475.8 47.5h0M458 89.2h0M460.6 85h0M465.4 73.1h0M456.8 79.1h0M457.5 90.2h0M466.6 59.3h0M467.6 65.5h0M480.5 104.8h0M488.6 58h0M459.9 102.9h0M480.6 97.8h0M455.8 55.8h0M461 92.4h0M456.7 91.5h0M456.7 57.9h0M460.6 105h0M473.6 103.6h0M481.6 105.9h0M486 86.3h0M486.7 101.2h0M465.6 106.9h0M484 83.9h0M475.1 81.5h0M478 86.5h0M478.3 39.1h0M463.3 51.8h0M487.3 29.9h0M467.4 88.1h0M457.8 83.9h0M471.6 112.7h0M474.3 90.9h0M474.3 107.3h0M475.3 50.9h0M488.7 90.6h0M473.5 75.9h0M481.2 107h0M480.1 36.3h0M473.9 88.4h0M475 59.7h0M485.8 106.9h0M463 102.5h0M481.4 110.6h0M468 104.2h0M477.7 63.8h0M489.2 66.3h0M469.5 100.4h0M483.2 85.7h0M469.2 106.7h0M463.2 65.2h0M460.2 109.3h0M485.4 105.1h0M488.6 107.7h0M481.1 34.6h0M466.6 109.5h0M487.4 73.7h0M471.4 93.4h0M471.9 84.4h0M485.1 112h0M455.1 98.3h0M480.4 86.4h0M469.3 58.6h0M482 103.1h0M466.5 99h0M460.4 104.1h0M475.5 93.3h0M476 95.3h0M468.2 88.2h0M466.9 81.9h0M487.5 82.6h0M460.3 96.6h0M478.5 93.5h0M467.9 97.8h0M489.2 107h0M488.7 103.3h0M481.1 67.3h0M473.5 88.7h0M471.3 111h0M459.4 95.6h0M474.6 41h0M484.2 88.9h0M481.8 58.7h0M467.6 94.4h0M460.7 104.6h0M470.9 106.2h0M455.8 81h0M474.4 113h0M479.2 72.8h0M454.7 64.6h0M482 78.6h0M467.4 96.8h0M475.2 108h0M477.3 108.6h0M484.8 111h0M488.8 102.8h0M477.4 67.7h0M470.2 83.3h0M480.8 82.6h0M479.4 113.4h0M467.5 59.1h0M486 63.9h0M459.1 89.3h0M455.1 59.5h0M461.2 103.4h0M477.5 66.1h0M489.1 99.3h0M468.6 104.7h0M459.1 83.7h0M482.4 63.7h0M489.1 50.1h0M457.1 95h0M478.1 52.5h0M472.7 110.1h0M476.5 112.1h0M467.3 84.5h0M464.3 92.8h0M484 56.2h0M457.5 95.3h0M478.4 36.3h0M469.6 44.4h0M474.1 93.2h0M487.5 92.7h0M479.7 101h0M480 111.5h0M471.2 108.8h0M477.8 105.6h0M469.2 90.5h0M470.2 109.9h0M484.2 91.7h0M475.3 28.8h0M481.7 79.8h0M475.1 92h0M472.3 68h0M480.6 92.8h0M466.1 85h0M483.7 53.4h0M476.3 107.5h0M463.3 96.6h0M478 67.9h0M483.6 105.7h0M462.5 93.5h0M467.1 103.4h0M473.3 77.8h0M462.6 95.9h0M478.5 109.1h0M483.1 103.9h0M471 78.3h0M455.9 83.1h0M466 111.9h0M479.8 57.7h0M475.7 44.5h0M472.3 89.3h0M481.5 109.5h0M488.4 102.5h0M471.8 50h0M464 103.9h0M481 88.7h0M460.7 56.4h0M459.9 77.8h0M478.2 87.1h0M463.4 94h0M482 83.8h0M464.1 94.5h0M471 103.8h0M467.3 110.6h0M461.4 86.7h0M463.7 94.3h0M476.7 103.3h0M461.8 106.9h0M479 104.9h0M471.6 100.1h0M464 84.2h0M483.8 113h0M463.4 84h0M487.5 89.7h0M474.4 76.7h0M481.3 35.4h0M489.1 68.9h0M471.2 112.2h0M478.9 105h0M457.3 103.3h0M481.2 69.7h0M457.8 72.6h0M464.2 100.2h0M482.6 50.5h0M478.7 88.3h0M466.3 107.4h0M458.5 92.2h0M458.9 110.7h0M482.1 51h0M464 73.7h0M463.3 103.3h0M454.9 83.3h0M474.4 79.6h0M479.6 87h0M487.2 51.9h0M488.4 44h0M461.6 110.6h0M456.4 97.1h0M469.1 71.5h0M466.3 110h0M458.1 70.6h0M483.1 95.3h0M466.9 87h0M481.6 30.5h0M465.6 82.4h0M462.3 48.3h0M466.4 81.5h0M477.5 107.8h0M467.7 55.1h0M482.9 68.8h0M470.6 96.2h0M479 103.9h0M468 103.3h0M479.6 49.4h0M472.4 26.4h0M488.7 68.1h0M475.9 91.8h0M469.3 84.3h0M477.5 96.6h0M465.9 110.1h0M476.6 109.1h0M462.1 63.6h0M488.9 97.9h0M484.1 112.1h0M461.4 33h0M462.5 93.5h0M473.2 109.1h0M476.6 70.7h0M466 110h0M484.7 106.8h0M458.3 108.3h0M474.2 105.7h0M469.1 109.1h0M487.5 109h0M480.1 72h0M486.1 91.8h0M482.8 99.4h0M460.9 109.9h0M466 70.6h0M466.5 26.9h0M458 87.2h0M483.7 93h0M483.7 103.1h0M482.4 71h0M455.3 72.4h0M489.1 78.7h0M483.9 61.5h0M459.1 101.5h0M464.3 104.7h0M476.6 44.2h0M470.9 71.2h0M461.3 68.4h0M479.6 108.2h0M479.9 58.5h0M460.6 46.7h0M470.9 91.1h0M485.7 103.8h0M461.2 81.5h0M457.9 105.3h0M481.7 104h0M488.5 59.4h0M472.1 98.4h0M455.1 88.5h0M454.9 86.5h0M466.6 102.6h0M488.8 107.4h0M469 97.4h0M484.5 105.7h0M486.4 73.8h0M467.5 26.9h0M481.7 93.6h0M477.3 59.6h0M474.8 98.3h0M463.9 43.6h0M481.5 94.9h0M478.4 104.8h0M467.6 111.4h0M465.1 86.3h0M460.2 67h0M455.5 39.5h0M470.2 57.8h0M477.2 85.1h0M473.2 103.8h0M475.2 66.5h0M464.4 97.5h0M477.5 97.8h0M457.3 48.9h0M462.5 35.9h0M460.2 104.8h0M464.1 31.2h0M481.7 38h0M471.2 101.6h0M479.5 85.1h0M482.8 110.7h0M469.4 80.1h0M465.7 93.2h0M456.9 99.2h0M471.2 78.8h0M485.3 105.4h0M486.6 83.1h0M478 41.5h0M473 94.3h0M486.2 106.3h0M465.2 97.8h0M465.3 87.1h0M488.2 79.7h0M481.8 110.2h0M488.4 35.9h0M478.9 25.1h0M455.4 84h0M475.3 99.2h0M467.7 89.4h0M464.5 30.4h0M478.6 61.3h0M484.2 72.2h0M482.1 111.9h0M483.8 103.5h0M462.1 98.8h0M470.1 110.9h0M476.1 96.8h0M455.4 70.3h0M473.4 78.8h0M456.4 101.9h0M470.2 93.1h0M466.2 107.8h0M476.8 71.6h0M469.3 112.8h0M462.2 111.3h0M459.3 113.1h0M484 107.7h0M456.7 51.9h0M474.2 89.9h0M473 93h0M457.6 80.6h0M467.1 102.2h0M484.9 107.2h0M485.1 55.8h0M457.5 110.7h0M486.4 105.4h0M469.1 102.2h0M475.5 47.4h0M458.8 94.1h0M473.5 103.1h0M477.9 82h0M467.2 83.9h0M469.6 62.9h0M480 50.8h0M463.6 113h0M467.6 61.9h0M475 85.8h0M487.6 96.7h0M478.1 112.3h0M464.1 99.3h0M487 104.7h0M464 71.4h0M471.7 94.1h0M463.4 77.9h0M466.3 96.3h0M482.6 102h0M462.5 90h0M486.6 66.4h0M482.4 112.9h0M487.8 34.7h0M482.2 105.2h0M470 112.9h0M475.9 30.1h0M468.5 48.6h0M473 83.1h0M476.2 66.5h0M456.2 90.4h0M472.7 94.4h0M472.6 106.5h0M477.6 68.9h0M471.4 92.2h0M455.6 108h0M480.3 106.3h0M483.9 79.1h0M473.1 108.2h0M484.8 78.3h0M488.5 78.5h0M456.1 104.5h0M488.4 108.2h0M468 35.4h0M475 108.4h0M489.1 96.7h0M459 65.3h0M454.9 96.7h0M470.4 83.5h0M475.4 62.4h0M489.2 91.2h0M486.7 83.9h0M477.9 98.8h0M474.4 110.3h0M482.2 77.7h0M466.2 82.1h0M474.6 102.1h0M476.2 90.5h0M458 98.1h0M465.7 68.2h0M456.2 60.3h0M467.6 91.4h0M473.5 108.8h0M458 87.9h0M461.1 109.9h0M460.4 97.4h0M488 46.7h0M456.2 48.9h0M455.9 87.3h0M468.4 106.8h0M468.3 76.4h0M480.8 108.8h0M461.9 93.8h0M458 102.3h0M463.7 42.6h0M483.3 53.4h0M466.8 96.3h0M475.8 107.9h0M471.3 110.9h0M485.1 113.4h0M455.4 90.1h0M473.3 90.9h0M481.1 101h0M482 90.3h0M480.7 76.2h0M467.2 104.5h0M482.6 108.6h0M475.8 94h0M484.3 101.2h0M485.4 112.6h0M474.1 103.4h0M456.6 78.1h0M488.9 95h0M461.8 107.2h0M476 101.6h0M455.3 47.9h0M455.6 111h0M484.5 105.3h0M488.9 84.2h0M464.5 97.9h0M471.1 96.3h0M455.7 73.3h0M454.8 91.5h0M457.6 101.8h0M485.6 102.6h0M460.4 89h0M456.8 79.2h0M472.3 102.7h0M461.2 90.5h0M487.1 78.3h0M482.3 99h0M480.4 66.9h0M464.6 109.4h0M476.1 78.7h0M475.8 66.9h0M456.1 65.7h0M479.9 109h0M488.7 100.2h0M465.1 105.5h0M484.8 83.9h0M461.5 105.6h0M455.9 61.8h0M469.3 80.7h0M473.9 99.2h0M469.6 109.3h0M463.3 76.6h0M456.8 93.1h0M468.8 110.9h0M457.4 104.1h0M461.5 109.1h0M483.7 103.5h0M481.9 103.2h0M484.6 50.9h0M469.9 73.9h0M473.7 80.1h0M487.9 92.6h0M482.2 109.1h0M459.1 105.7h0M481.8 112.1h0M463.5 103h0M475.8 92h0M455.5 112.6h0M468.4 94.2h0M468.5 111.7h0M473.7 108.8h0M468.9 103.6h0M460 40.4h0M484.9 55.1h0M468.8 106.1h0M457.5 88.4h0M480.3 51.2h0M480.8 81.4h0M456.6 106.2h0M458.5 52.6h0M454.8 85.4h0M473.4 113.1h0M474.2 76.8h0M488.9 25.4h0M465.2 100h0M459.9 87.4h0M486.6 109.3h0M460.9 104.3h0M475.9 103.2h0M457.4 112.7h0M482.4 76.4h0M458 105.9h0M457 59.3h0M460.7 101.3h0M485.2 79.5h0M472.3 93.6h0M475.6 94.2h0M461.6 90.8h0M486.6 97.2h0M486.9 52.4h0M467.2 72.1h0M480.5 67.1h0M487.6 99.8h0M473.8 108.2h0M471.4 96.2h0M476.8 97.3h0M455.5 82.7h0M458.3 59.7h0M473 100.2h0M468.8 77.8h0M464.2 100.7h0M472.6 104.8h0M471.5 64.9h0M469.2 27.5h0M485.3 112.2h0M459.1 97.7h0M486.1 92.1h0M482.3 93.4h0M463.4 56.7h0M474.9 108.9h0M481 91h0M473.9 103.8h0M460.1 84h0M467.2 93.6h0M473.6 84.4h0M478.5 82.5h0M471 99.1h0M476 108.3h0M480.1 112.1h0M481.5 110.8h0M481.1 97.7h0M470.7 79.1h0M484.9 87.9h0M460.2 83.1h0M474.5 99.1h0M460.7 105.7h0M459 41.7h0M473.3 73.7h0M475 96.8h0M485.6 93.5h0M481.4 52.1h0M481.1 113h0M471.4 59.5h0M469.4 105.2h0M480.8 70.1h0M484.3 102.4h0M463 112.4h0M458.9 87.6h0M465.6 93.4h0M468.5 102.4h0M489.1 104h0M482.7 80.4h0M482.9 92.1h0M488.5 103.8h0M485.7 73.5h0M460.9 102.3h0M463 95.7h0M482.2 106.4h0M486.8 92.6h0M467.7 72.5h0M489.3 100.2h0M460.7 49.2h0M455.9 108.7h0M487.1 72.7h0M466.2 98.4h0M457.5 88.9h0M486.2 89.6h0M464.4 79.1h0M483.5 109.3h0M487.8 69.2h0M468 109.3h0M467 83.7h0M478.6 107.9h0M462.5 78.1h0M487.1 94.3h0M488.7 99.8h0M455.6 60.1h0M483.4 46.7h0M464.6 79.7h0M469.8 102.6h0M461.5 87.4h0M483.3 108.3h0M475.2 102.9h0M477 95h0M479.2 97.5h0M467.6 109.9h0M484.7 51.6h0M455.9 87.3h0M472.1 73.8h0M471 104.8h0M471.3 81.4h0M474 88.2h0M478 104h0M464.4 113.1h0M473.6 90.6h0M466.1 95.8h0M489.1 108.1h0M484.8 112.3h0M454.8 51.2h0M456.7 103h0M465.1 111.2h0M479.4 111h0M489.4 104h0M486.5 93.2h0M454.9 69.7h0M461.5 94.6h0M488.9 99.2h0M470.8 71.3h0M475.4 84.3h0M471.2 94.2h0M473.5 94.9h0M457.9 86.3h0M483.5 95.2h0M469 71.1h0M473.7 63.4h0M465.8 54.7h0M461.7 92.3h0M463.3 110.4h0M470.1 109.4h0M459.7 39.3h0M479.3 112.8h0M463.8 102.3h0M487 94.7h0M484.9 74h0M487.6 104.4h0M475.8 110h0M474.8 105.5h0M466.9 109.2h0M455.6 60h0M482.1 94.8h0M476.3 86.5h0M465.5 99.5h0M475 91.4h0M485.5 34.1h0M460.7 112.4h0M457.9 80.7h0M469.5 99.5h0M462.7 58.4h0M487.3 94h0M484.5 36.7h0M458.9 102.8h0M466.6 94.2h0M480 101.1h0M471.8 108.8h0M487.5 106.5h0M487 84.8h0M454.9 108.7h0M487.7 97.6h0M458.8 94.1h0M460.9 91.7h0M480.4 49.2h0M478.1 95.3h0M459.7 45.3h0M488.2 77.1h0M471.2 104.4h0M476 76.5h0M460 97.8h0M484.6 83.3h0M484.1 99.1h0M466.3 102.6h0M472.2 97.9h0M456.2 107.5h0M484.3 96.6h0M460.3 74h0M483 79.8h0M460 97.6h0M471.5 79.9h0M486.9 104.3h0M460 106.2h0M462 104.7h0M470.1 95.9h0M477.3 89h0M455.7 35.2h0M468.9 108.1h0M463.3 88.5h0M462.9 91h0M463.1 110.9h0M477.1 84.8h0M479.1 87.7h0M461.3 76.1h0M462.1 111h0M481.9 68.2h0M488.3 71.4h0M472.6 76.1h0M487.8 99.6h0M476.2 46.3h0M464.3 110.1h0M488.2 41.8h0M461.2 85.5h0M484.9 104.1h0M485.9 94.4h0M467.3 81.1h0M455.5 76.9h0M485.7 90.2h0M472.3 107.5h0M466.6 43.2h0M475.2 76.6h0M487.4 97.8h0M480.9 59.1h0M475.9 108h0M483.2 100.4h0M475.6 96.4h0M469 112.9h0M485.6 101.6h0M471.6 103.1h0M477.2 39.9h0M464.9 78.6h0M479.3 68.1h0M486.5 100.3h0M467.8 57.7h0M483.2 103.8h0M488.3 85.6h0M475.9 88.8h0M468.5 99.3h0M467.2 95.7h0M456.7 78.3h0M467.5 82.1h0M466.3 89.3h0M466.1 49.8h0M468.5 66.7h0M463.4 63.1h0M482 87.2h0M472.1 57.5h0M481.1 109.3h0M458.3 39.9h0M485.6 80.1h0M462.7 98.1h0M464.9 105.5h0M478.5 73.5h0M482.7 62.8h0M477.9 48.8h0M473.7 96h0M463.3 77.2h0M459 100.1h0M464.2 103.9h0M461.8 109.9h0" stroke="#888888" stroke-width="0.8" stroke-linecap="round" stroke-opacity="0.33" fill="none"/>
<path d="M430.8 23.2 C430.9 26.4 431.3 37.9 431.5 42.4 C431.7 46.9 431.7 47 431.8 50 C431.9 53 432.1 56.8 432.3 60.2 C432.5 63.6 432.9 67.9 433.2 70.4 C433.5 73 433.8 73.8 434.3 75.5 C434.8 77.2 435.5 78.9 436.1 80.6 C436.7 82.3 436.9 84 437.7 85.7 C438.5 87.4 439.6 89.1 440.9 90.8 C442.2 92.5 444.1 94.4 445.5 95.9 C446.9 97.4 448.9 98.8 449.1 100 C449.3 101.2 448.1 102 446.8 103.1 C445.5 104.2 442.6 105.6 441.5 106.6 C440.4 107.6 439.7 108.2 440.1 109 C440.5 109.8 442.6 110.4 443.8 111.2 C445 112 446.7 113.4 447.3 113.8 L413.7 113.8 C414.3 113.4 416 112 417.2 111.2 C418.4 110.4 420.5 109.8 420.9 109 C421.3 108.2 420.6 107.6 419.5 106.6 C418.4 105.6 415.5 104.2 414.2 103.1 C412.9 102 411.7 101.2 411.9 100 C412.1 98.8 414.1 97.4 415.5 95.9 C416.9 94.4 418.8 92.5 420.1 90.8 C421.4 89.1 422.5 87.4 423.3 85.7 C424.1 84 424.3 82.3 424.9 80.6 C425.5 78.9 426.2 77.2 426.7 75.5 C427.2 73.8 427.5 73 427.8 70.4 C428.1 67.9 428.5 63.6 428.7 60.2 C428.9 56.8 429.1 53 429.2 50 C429.3 47 429.3 46.9 429.5 42.4 C429.7 37.9 430.1 26.4 430.2 23.2 Z" fill="#bb4c97"/>
<path d="M472.6 23 C472.7 25 472.9 30.3 473.1 34.8 C473.3 39.2 473.6 45.2 473.9 49.7 C474.2 54.2 474.5 58 474.9 61.5 C475.3 65 475.8 67.4 476.4 70.4 C477 73.4 477.8 76.6 478.7 79.3 C479.6 82 480.3 84.3 481.5 86.8 C482.7 89.3 484.2 92 485.7 94.2 C487.2 96.4 490.3 98.4 490.6 100.1 C490.9 101.8 488.8 103.2 487.4 104.6 C486 105.9 482.7 107.1 482.4 108.2 C482.1 109.3 484.3 110.3 485.4 111.2 C486.5 112.1 488.2 113.4 488.8 113.8 L455.6 113.8 C456.2 113.4 457.9 112.1 459 111.2 C460.1 110.3 462.3 109.3 462 108.2 C461.7 107.1 458.4 105.9 457 104.6 C455.6 103.2 453.5 101.8 453.8 100.1 C454.1 98.4 457.2 96.4 458.7 94.2 C460.2 92 461.7 89.3 462.9 86.8 C464.1 84.3 464.8 82 465.7 79.3 C466.6 76.6 467.4 73.4 468 70.4 C468.6 67.4 469.1 65 469.5 61.5 C469.9 58 470.2 54.2 470.5 49.7 C470.8 45.2 471.1 39.2 471.3 34.8 C471.5 30.3 471.7 25 471.8 23 Z" fill="#0c8a45"/>
<path d="M421.6 106.6h0M429 103.7h0M439.1 106.4h0M428 85.1h0M417 99.2h0M427.6 87.3h0M433.3 106.1h0M426.2 106h0M428.3 71.3h0M427.6 104.4h0M431.6 111.4h0M424.1 111h0M423.7 107.8h0M421.7 104.4h0M435.2 111.2h0M427 100.9h0M425.2 109.4h0M422.1 99h0M427.5 79.4h0M426 90.4h0M433.9 99.9h0M437.6 109.1h0M430.6 103.5h0M422.2 106.3h0M435.5 105.8h0M432.2 106h0M428.4 74.8h0M423.1 107.4h0M417.1 103.2h0M431.8 55h0M443.9 103.5h0M432.5 110.3h0M420.4 113.3h0M438.7 106.8h0M427.8 105.9h0M432.5 108.6h0M428.4 92.2h0M435.2 109h0M421.3 103.9h0M435.1 103.8h0M434.5 105.9h0M444.6 100h0M431.5 103.7h0M428.2 111.1h0M427.4 100.8h0M437.4 106.8h0M428.5 94.6h0M432.1 104.4h0M423.1 107.7h0M440.4 93.3h0M427.1 90.2h0M436 108h0M433.1 85.1h0M422 107h0M436.7 109.3h0M416.8 101.8h0M428.7 96.2h0M429.6 66.8h0M430.5 83.7h0M428.4 90.5h0M432.1 62.5h0M434.1 112h0M445.6 100.7h0M441.5 102.6h0M433.3 111.4h0M436.9 102.8h0M430.5 109.8h0M437.1 97.4h0M426 81.4h0M432.6 95h0M428.2 108.7h0M429.9 103.8h0M429.1 76.7h0M429.4 105.3h0M437.1 88.9h0M432 61.4h0M424.3 107.8h0M424.6 103.4h0M441.4 104.9h0M421.5 94.7h0M425.9 86.6h0M428.9 105.8h0M431.5 107.7h0M429.8 72.6h0M425.8 106h0M424.8 105.8h0M429.2 62.2h0M426.4 84.6h0M434.8 95.6h0M430 92.2h0M439.7 110.4h0M437.5 104.8h0M419.2 100.4h0M416.1 101.7h0M432.9 106.6h0M439.7 91.8h0M421.1 103h0M430 110.9h0M423.2 110.1h0M434.7 97.8h0M436.1 105.4h0M436.8 104.9h0M436 109.6h0M418.8 112.1h0M427.1 88.3h0M418.2 99.2h0M429.6 88.7h0M424.7 108.2h0M429.3 106.6h0M424.8 109h0M425.9 81.8h0M418.7 96.9h0M433.5 109.7h0M441.8 99.2h0M430.4 104.1h0M441.5 99h0M444.6 101h0M436.7 102.9h0M434.4 108.4h0M429.6 90.1h0M424 88.6h0M437.6 97.2h0M443.7 101.6h0M433 97.3h0M426.1 107.3h0M439.2 100.4h0M431.1 84.1h0M420 101.3h0M435.3 109.9h0M430.7 68.4h0M437.2 112.8h0M435.3 106.7h0M430.2 101.7h0M436.3 105.1h0M427 92.5h0M434.1 87.6h0M420.6 103.4h0M424 109.9h0M438.1 100.6h0M431.9 58.6h0M421.8 110.3h0M439.4 106.4h0M423.8 90h0M435.7 86.4h0M431.5 95h0M428.8 107.7h0M429.5 103.3h0M434.1 93.4h0M419.3 96.9h0M435.3 83.7h0M428 95.3h0M426 100.2h0M430 90.2h0M431.8 111.3h0M415.9 100.5h0M426.1 106h0M434.7 92.5h0M424.7 112.4h0M439 110.4h0M439.5 100.6h0M425.4 88.4h0M424.4 94.4h0M430.9 105h0M428.4 107h0M436.2 99.9h0M430.5 87.1h0M427.4 110.4h0M434 96.4h0M431.5 99.4h0M421.9 99.8h0M435 105.7h0M428 100.6h0M437.3 101.8h0M432.8 93.4h0M435.5 98.8h0M436 91.2h0M425 108.3h0M425.6 93.7h0M421.6 110.2h0M432.9 100.9h0M428.2 97.4h0M423 94.5h0M431.2 105.8h0M436.7 107.2h0M434.4 99.6h0M430.9 48.3h0M422.6 111.8h0M428.5 105.3h0M428.5 112.3h0M430 108h0M438.8 112h0M432.7 110.9h0M429.4 108h0M438.1 107.3h0M437.1 107.8h0M426.7 107.5h0M429.8 69.5h0M424.2 107.7h0M431.9 86.3h0M426.1 98.6h0M420.8 100.6h0M439.7 103.5h0M438.3 103h0M423.6 101h0M422.2 108.4h0M432.3 94.9h0M444.8 101.3h0M435.6 84.5h0M437 93.2h0M431.1 106.4h0M438.9 104.2h0M436.8 109.4h0M420.9 102.4h0M440.2 105.9h0M440.2 105.9h0M431.3 46.2h0M441.8 94.6h0M430.6 98.4h0M438.1 108.9h0M428.9 86.6h0M438.9 104h0M420.5 112.1h0M433.6 96.6h0M436 97.2h0M438.6 106.6h0M431.8 61.2h0M424.9 104.8h0M435.5 98.7h0M427.8 80.2h0M431.5 112.1h0M432 104.3h0M425.9 110.7h0M427.9 100.8h0M437.5 105.7h0M429.4 77.8h0M419.7 96.4h0M437.5 107h0M429.2 78.1h0M435.9 109.7h0M433.4 97.1h0M420.6 103.2h0M419.8 99.8h0M435.6 112.7h0M426.2 98.7h0M439.7 110.3h0M431.3 66.4h0M418.7 112.1h0M420.8 102.1h0M437.2 111.9h0M433.2 94.3h0M423.5 102.3h0M426.1 100.7h0M424.3 109.4h0M425.7 101.4h0M420.7 98.2h0M432.5 98.5h0M423.1 108.7h0M422.3 111.3h0M425.5 106.2h0M435.8 101.9h0M426.1 110.7h0M416 101.4h0M420.8 105.6h0M431.6 108.5h0M423.1 90.8h0M437.1 89.7h0M424.6 106.2h0M429.5 103.3h0M428.5 75.9h0M433 96.9h0M436.2 111h0M432.7 88.7h0M426.2 106.4h0M427.4 105.2h0M437.2 97.5h0M431.5 72.6h0M428.6 73.8h0M428.4 72.1h0M424.9 96.3h0M434.8 100.4h0M430 108.6h0M443.3 97.6h0M430.7 78.5h0M429.2 95.6h0M425.2 94.5h0M426.8 109.3h0M433.6 108.7h0M426.1 111.3h0M418.6 100.3h0M434.4 109.4h0M425 102.8h0M422.1 90.5h0M437.8 89.6h0M436.4 91.5h0M441.9 111.3h0M436.3 101.2h0M429.6 72.4h0M440.3 99.1h0M437.8 93.8h0M428.5 106.6h0M431.6 106.9h0M426.5 103.9h0M433 107.9h0M432.5 103.7h0M428.2 74.6h0M427.5 75.1h0M430.1 103.5h0M430.2 110h0M432.4 105.5h0M426.9 101.4h0M433.8 107.2h0M434.4 103.2h0M429.9 105.7h0M430.2 109.4h0M430.3 106.8h0M437.2 100.3h0M424.7 105.7h0M441.8 112.6h0M440.3 102.2h0M437.6 111.6h0M426.8 86.4h0M425.3 103.6h0M424.2 107.1h0M429.8 95.1h0M425 96.4h0M429.2 108.9h0M431.6 96.1h0M431.8 112.6h0M437.3 107.4h0M428.1 111.2h0M424.3 104h0M430.7 107.1h0M429.4 98h0M432.3 109.9h0M423.6 106.8h0M423.5 87.7h0M440.1 104.2h0M431.5 87.6h0M419.7 112.8h0M419 104.7h0M431.4 75h0M431.9 65.9h0M423.3 107h0M442.8 102.3h0M436.7 105.9h0M429.7 96.9h0M417.5 101.7h0M426 104.2h0M440.2 97.6h0M436.3 109.1h0M426 86.1h0M430.3 109.3h0M440.5 95.9h0M427.3 111.9h0M431.4 104.2h0M424.8 88.5h0M429.9 112.7h0M419.8 104.6h0M442.6 100.2h0M429.6 109h0M417.4 100.8h0M424.7 93.4h0M437.2 104.8h0M437.5 109.2h0M441.3 104.1h0M432.5 80h0M420.2 94.2h0M433.7 109.4h0M429.9 106.5h0M432.2 100.7h0M423.4 103.1h0M426.2 79.2h0M437.7 99.6h0M429.8 98.4h0M434.1 102.5h0M436.3 97.8h0M429.2 68h0M432.9 101.1h0M441.4 95.5h0M429 92.8h0M430.9 78.2h0M425.3 102.5h0M431.8 107.8h0M438.8 110.9h0M427.6 108.5h0M429.5 107.1h0M428.2 106.2h0M441.1 98.6h0M426.8 82.2h0M425 104.2h0M430.6 65.2h0M428.3 85.2h0M421.6 95.7h0M427.8 107.8h0M426.9 109.4h0M433.6 92h0M438 109.6h0M422.2 103.3h0M419.9 111.1h0M431.8 88.4h0M423.9 89h0M430.4 103.9h0M425 105.9h0M427.5 89.3h0M436.7 98.5h0M432.5 109.8h0M441 95h0M435.4 110.2h0M431.3 111.9h0M424.1 97.5h0M431.3 101.4h0M434.4 108.3h0M419.8 95.3h0M438.3 108.4h0M439.1 106.1h0M429.3 102.6h0M431 112.9h0M416.6 97.9h0M417.9 96.1h0M424.4 104.6h0M434.6 113.1h0M424 108h0M438.9 107.6h0M443.5 100.8h0M434.9 98.3h0M423.7 97.5h0M434.7 79h0M426.2 109.3h0M430.2 106.3h0M442.8 97.4h0M427.7 108.5h0M427.1 105.1h0M444 97.7h0M432.8 82.3h0M425.6 94.9h0M422.5 93.5h0M417.9 101.2h0M423.6 112.1h0M429.3 111.5h0M435.2 110.7h0M418.9 99.3h0M427.1 102.8h0M439.5 106.9h0M415.3 99.4h0M437.7 107.6h0M430 96.4h0M436.8 101h0M425.5 108h0M433.4 98.4h0M428.7 108.5h0M424.5 109.4h0M433.6 105.2h0M426.1 103.6h0M421.2 112.5h0M431.1 89.6h0M431 112.3h0M419.7 103.1h0M422.3 107h0M438.3 90.1h0M422.9 106.5h0M424.3 100.6h0M430.8 76.7h0M431.9 111.5h0M443.8 98.8h0M433.6 110.7h0M428.8 74.2h0M425.1 109.2h0M428.3 110.7h0M419.7 112.4h0M442 104.7h0M438 110.5h0M438.7 104.6h0M416.3 101.6h0M440.5 101.9h0M420.2 99.5h0M426.4 87.2h0M440.4 110.8h0M427 94.6h0M435.3 96.6h0M422.9 100.2h0M424.5 95.9h0M435.1 87.5h0M442.8 102.5h0M429.4 111h0M432.7 109.7h0M426.3 78.7h0M421.7 107.6h0M435.7 107.6h0M421.9 92.7h0M442.3 103.3h0M437.9 110.1h0M438.1 104.1h0M442.4 103.1h0M435.5 104.9h0M429.5 73.5h0M426 80.8h0M435.8 110.6h0M418.3 104.3h0M435.6 83.7h0M426.6 109.9h0M427.9 103.5h0M421.9 99.1h0M437.9 112.4h0M438.4 107.9h0M441 104.9h0M431 63.1h0M430.2 91.8h0M431.7 63.5h0M431.1 92.8h0M441.7 101.9h0M433.4 95.1h0M441.6 100h0M434.9 87h0M428.1 94.9h0M422 94.6h0M429.6 113h0M418.2 103.1h0M429.8 90h0M430.3 75.7h0M438.8 110.5h0M433.8 102.8h0M430.6 104.2h0M429.7 109h0M440.5 112h0M419.5 111.1h0M440 103.2h0M430.3 87.2h0M430.4 76.9h0M423.4 101.7h0M429.6 100.5h0M419.4 96.8h0M441.1 98.3h0M434.4 103.4h0M438.9 107.3h0M437.6 103.1h0M425.9 105.5h0M424 106.8h0M433.6 75.8h0M434.3 90.7h0M427.9 111.1h0M440.5 112.4h0M427.1 88.7h0M423.3 103.5h0M425.2 109.4h0M432 91.4h0M439.5 110.9h0M429 81.6h0M422.1 112.2h0M437.5 108.3h0M440.9 103h0M427.5 111.2h0M429.7 107h0M422.4 102.1h0M427.9 100.6h0M431.4 105.5h0M430.7 113h0M442.2 102.7h0M426.6 108.8h0M438.6 109.8h0M435.5 101.6h0M440.2 110.3h0M437.8 108.9h0M432.6 72.3h0M419.7 97.4h0M443.1 96.4h0M438.7 111.1h0M429.8 57.7h0M418.2 102.4h0M428.8 92.5h0M438 113.1h0M425.1 95.1h0M422.2 103.5h0M422 99.3h0M427.8 95.4h0M425.5 101.7h0M443.3 96.1h0M424.9 95.8h0M424.4 109.8h0M428.2 96.1h0M434.7 81.3h0M425.1 90.5h0M422.9 102.2h0M425.6 107h0M431.5 82.8h0M422.2 99h0M435.4 96.1h0M435.9 100.4h0M421.6 97.6h0M429 84.1h0M439.2 107.6h0M422.7 99.5h0M420.5 97.8h0M436.2 108.5h0M442.5 101.1h0M427.9 96.9h0M426.6 105.3h0M441.2 102.7h0M423.8 88.9h0M432.5 94.3h0M424.3 98.5h0M434.6 80.3h0M432.3 100h0M428.3 106.8h0M430.6 93.3h0M430.3 88h0M431.8 58.1h0M416.7 99.6h0M433.8 99.5h0M437.5 101.5h0M425.3 112h0M429.9 108.3h0M427 106.7h0M426.1 94.4h0M420.7 98h0M435.1 108.9h0M424.6 108.8h0M436.4 110h0M425.6 92.1h0M430.8 111.1h0M420.4 112.5h0M424.5 101.4h0M435.8 108.2h0M428.6 85.5h0M435.6 110.1h0M435.3 108.9h0M436.4 86h0M426 101.9h0M440.9 111.2h0M437.9 108.1h0M423.2 98.7h0M424.1 107.3h0M428.2 73.8h0M433.4 102.5h0M432.4 70h0M433 107h0M427.3 111.6h0M436 113.1h0M438 107.7h0M438.6 103.5h0M433.3 104.3h0M424.5 88.7h0M441.4 112.8h0M436.2 102.8h0M422.1 107h0M437.5 107.5h0M434.5 105.1h0M431.6 106.9h0M424 98.8h0M422.3 101.9h0M428.2 106h0M434.3 99.3h0M423.3 110.5h0M429 107.4h0M424.8 107.4h0M426.6 83.9h0M428.4 110.1h0M417.7 103.3h0M426.6 101.3h0M435.4 107.9h0M417.5 99.8h0M423.1 106.4h0M427.1 101.7h0M440.7 110.7h0M434.6 92.8h0M431.2 109.1h0M426.5 81.6h0M420 105.3h0M442 95.6h0M432.8 112.6h0M425.3 108.8h0M430.6 108.2h0M422.6 103h0M430 49.2h0M434.4 87.7h0M436.3 105.7h0M435.9 98.4h0M439 109.8h0M420.8 94.2h0M430 107.5h0M434.2 93.3h0M424.9 97.2h0M432.2 76.2h0M430.4 84.7h0M431.7 109.5h0M422.8 90h0M433.1 75.4h0M433.3 75.2h0M428 108.7h0M428.4 107.8h0M440.9 112.5h0M432.2 95.6h0M432.8 113h0M440.1 113.2h0M434.3 111.1h0M432.9 96.9h0M442.1 98.9h0M434.6 82.3h0M438.6 92h0" stroke="#000" stroke-width="0.6" stroke-linecap="round" stroke-opacity="0.12" fill="none"/>
<path d="M467.1 91.6h0M473.5 82.2h0M464.8 96.7h0M480.3 101.5h0M476.2 113.3h0M474.8 103.9h0M473.5 79h0M478 108.5h0M470.1 106.8h0M467.3 105.5h0M472.6 90.8h0M463 103.5h0M475.2 79.1h0M466.8 106.5h0M474.5 94.1h0M480.1 109.8h0M483.4 99h0M475.9 77.1h0M457.7 101.5h0M477.1 83.2h0M474.6 108.4h0M464.9 103.6h0M470.8 108.7h0M485.9 102.7h0M480.5 88.3h0M472.8 87.7h0M478.5 109.4h0M462.3 112.4h0M471.9 110.6h0M459.1 101.5h0M464.6 112h0M463.5 98.6h0M459.9 101.1h0M482.1 101.3h0M459.8 99.9h0M475.9 98.6h0M465.4 109.6h0M476.7 89.8h0M464.7 103.2h0M467.4 85.4h0M472.9 67.9h0M473.8 108.1h0M473.8 90h0M480.4 101.7h0M478.8 101.7h0M481.1 104.5h0M473.6 88.6h0M460 96.2h0M471.6 65.3h0M468.4 96.8h0M472.4 108.8h0M476.5 85.9h0M476 99.7h0M476.7 108.6h0M464.6 107.1h0M482.7 112.7h0M469.2 109.1h0M473.9 93.9h0M479.4 87.3h0M474.5 72.1h0M475.3 89h0M481.5 106.8h0M472.6 103.4h0M470.8 98.5h0M474.7 102h0M473.9 111.2h0M470.3 106.7h0M480.8 98h0M470.9 109.1h0M478 109.2h0M472 62.6h0M470.6 89.2h0M486.5 98.8h0M469.6 108.5h0M466.2 105.8h0M471.1 108.3h0M468.7 99.6h0M468.1 94.4h0M468.7 110.9h0M474.9 111.6h0M480.1 101.3h0M477.8 108.8h0M472.5 109.6h0M473.9 106.2h0M473.8 93.3h0M477.6 111.2h0M476.1 87.2h0M466.9 106.2h0M475.3 72h0M470.2 103.1h0M477.7 112.7h0M477.5 112.1h0M478.2 106.6h0M474.4 79h0M482.8 105.4h0M472.8 106.3h0M474.7 66.6h0M472.3 109.1h0M468 109.5h0M480.1 111.7h0M484.6 98h0M461.1 102.5h0M480.6 109.3h0M468.4 95h0M467.4 109.7h0M463.6 110.9h0M479.2 109.3h0M471.8 103.8h0M469.8 87.1h0M468.8 108.6h0M479.8 88.7h0M466.6 110.9h0M473.6 67h0M474.2 104.3h0M471.4 110.8h0M463.1 103.8h0M469.7 83.8h0M474.6 105.6h0M470.8 112.4h0M480.4 111.2h0M467.4 108.5h0M470.5 73.2h0M469.7 95.4h0M470.9 83.5h0M477.8 83.9h0M466.3 110.1h0M467.1 83.3h0M474 103.9h0M469.5 73.7h0M477 87.3h0M475.9 109.5h0M465.5 102h0M475.7 83.6h0M481.3 107.1h0M462.3 105.6h0M474.6 110.3h0M465.1 107.9h0M479.2 105.7h0M471.2 108.9h0M473.1 111.1h0M469.6 85.4h0M474.7 107.8h0M462.4 93.2h0M460.2 102.4h0M471 84.2h0M471.6 111.7h0M462 110.9h0M469.7 111.1h0M459.4 103.7h0M486.5 99.2h0M470.8 107.4h0M478.8 104.6h0M465.4 90.7h0M466.1 112.8h0M476 90.2h0M469.1 103.8h0M472.9 109h0M482.3 103h0M473.6 102.9h0M479.7 108.8h0M466 99.6h0M475.4 111.1h0M464.2 94.1h0M464.6 110.2h0M470.3 106h0M476.4 106.9h0M472.3 112.3h0M469.8 68.5h0M472.7 61.3h0M486.7 100.9h0M479.9 108.6h0M463.1 95.5h0M467.4 97h0M468.4 110.8h0M469 97.9h0M475.6 88.1h0M479 107.5h0M465.9 107.9h0M478.1 96.8h0M486.3 100.6h0M478.6 84.5h0M473 107.8h0M463.9 104.4h0M477.2 93.9h0M482.4 100.1h0M467.2 85.5h0M466.5 105h0M483.3 101.8h0M474.4 109h0M460.9 103.3h0M482.3 105.7h0M471.6 111.4h0M476.7 104.6h0M476.8 103.1h0M464.2 96.1h0M470.4 105.2h0M469.1 95.6h0M474.3 93.5h0M480.2 112.1h0M474.7 92.9h0M472.5 103.5h0M467.2 91.5h0M473.7 110.4h0M481.8 109.4h0M457.7 98.8h0M473.8 108.2h0M471.4 62.9h0M464.5 106.3h0M468.4 103.4h0M462.2 110.6h0M462.1 91.9h0M474.4 111.5h0M471 74.5h0M472.9 88.8h0M482.4 112.3h0M469.8 96.2h0M470.1 92.8h0M476.4 73.4h0M472.2 42.7h0M459.6 112.6h0M463 109.2h0M469.4 99.9h0M467.4 109h0M466.7 100.8h0M473.7 109.7h0M474.7 84.7h0M467.4 107h0M474.2 95.7h0M480.7 97.2h0M469 105.5h0M483.5 105.4h0M471.3 103.8h0M461.3 105.5h0M476.1 97.7h0M464.3 89.2h0M469 84.2h0M473.6 103.2h0M470.4 88.4h0M470.9 109.5h0M479.9 96.9h0M473.4 98h0M479.2 108.1h0M471.2 112.5h0M469.2 109h0M467.9 85.3h0M469.9 101h0M467.3 99.6h0M470.2 110.5h0M465 94.7h0M473.8 66.4h0M471.4 92.2h0M467.6 110.2h0M467.4 110.9h0M478.4 106.7h0M468.4 75.1h0M468.6 99.6h0M471.7 78.1h0M476.7 110.7h0M479.6 109h0M463.1 111.5h0M473.7 95.4h0M483.2 112.3h0M462.2 91.3h0M465.4 85.8h0M467.7 109.4h0M474.9 83.1h0M484.3 96.3h0M474.2 102.7h0M472.9 70.6h0M475 110.1h0M474 111.1h0M459.6 112.8h0M481.8 110.8h0M463.2 111.6h0M460.2 102.8h0M476 87.6h0M475.9 105.1h0M475.1 92.2h0M467.3 106.6h0M473 65.4h0M463.8 106.4h0M470.2 109.7h0M477 111h0M464.1 87.6h0M468.3 111.1h0M469.7 85h0M468.8 94h0M475.2 68.4h0M461.9 92.3h0M467.4 92.9h0M482.9 92.8h0M466.9 103.2h0M472.7 111.1h0M475.9 108.1h0M479.4 109.4h0M480.1 103.1h0M469.3 94.4h0M476.6 110.7h0M469.6 85h0M478.8 100.4h0M480.7 110.6h0M478.4 106.1h0M476.9 110.1h0M478.5 101.5h0M477.6 106.9h0M479.1 88h0M467.3 93.9h0M463.8 100.1h0M485.7 97.9h0M465.8 102.6h0M468.8 94h0M469.3 86.4h0M476.5 84.4h0M476.2 106.9h0M457.3 100.7h0M467.6 112h0M465.9 106.9h0M477.3 112h0M468.3 96.9h0M479.3 111.7h0M477.6 110.4h0M478.3 89h0M467.6 87.5h0M465.6 96.2h0M463.8 96.4h0M461.1 102.9h0M484.8 96.4h0M481.1 110h0M477.8 88.4h0M472.2 103.5h0M473.2 103.2h0M466.5 106.5h0M468.9 70.1h0M469.3 108h0M472.4 90.1h0M465.3 111.7h0M482.7 100.4h0M460.1 97h0M463.8 97.7h0M466 105.2h0M483.4 102.9h0M478.5 89.1h0M463.7 104.3h0M470.8 104.1h0M467.8 90.3h0M481.7 111h0M477.5 110h0M459.6 97.4h0M469.7 108.5h0M459.6 96.9h0M472.9 87.7h0M469.4 83.1h0M486.3 98.4h0M478.3 105.7h0M469.8 107.4h0M478.1 106.4h0M481.1 94.8h0M476 73.5h0M469.3 109.4h0M469.2 96.1h0M473.3 91.8h0M468.5 111h0M465 90.8h0M483.1 102.2h0M473.6 103h0M466.6 102.8h0M457.5 100.7h0M480.7 109.2h0M465.2 106.7h0M470.9 89.4h0M473.6 50.1h0M465.7 107.9h0M470.5 107.7h0M468.7 106.7h0M463.8 113.3h0M473.2 92.5h0M482.2 95.8h0M466.1 108.4h0M468.8 107.7h0M474.3 63.9h0M470.6 102h0M460.8 105h0M467.6 98.7h0M481.2 92.5h0M474 112.1h0M486 98.7h0M464.1 108.8h0M463.1 105.1h0M481.3 95.6h0M465.9 110.9h0M464.5 98.3h0M471.1 91.9h0M475.9 107h0M461.1 94.4h0M468.5 99.7h0M470.3 76.3h0M472.6 95.1h0M482.7 99h0M468 87.3h0M457.9 101.2h0M465.4 110.7h0M479.1 107.3h0M470.7 102.4h0M467.3 108.4h0M460.5 105h0M479.4 98.8h0M470.5 111.3h0M479.2 102.7h0M466.3 95.2h0M473.5 82.1h0M478.9 104.7h0M478.1 93.6h0M484.9 112.7h0M458.7 97.4h0M476.4 100.2h0M466.6 97.7h0M483.9 102.6h0M461.1 103.7h0M470 79.3h0M463.5 111.1h0M485 99.7h0M481.1 104.3h0M472.6 103.5h0M472 95.7h0M480.8 90.3h0M475.4 103.3h0M465.4 105h0M465.5 95.8h0M467.5 112.1h0M460.2 102.7h0M474.5 96h0M465.5 96.2h0M470.5 80.7h0M469.7 101.6h0M474.3 85.4h0M473.8 106.4h0M471.8 108.9h0M478.5 102.9h0M475.3 103.8h0M470.9 107.3h0M481.4 91.3h0M475.7 90.6h0M461.5 96.8h0M473 84.6h0M463.6 98.9h0M471.6 97.6h0M468.6 101.5h0M460.8 105.3h0M467.4 96.7h0M479 110.7h0M467.2 109.9h0M462.6 100.5h0M460.1 96.6h0M469.6 106.6h0M462.4 94.4h0M486.9 100.5h0M474.6 74.2h0M472.2 79.6h0M477.7 108.5h0M458.8 100.5h0M470.9 58.4h0M480.7 100.4h0M471.4 100.3h0M458.3 99h0M466.2 99h0M485.7 101.7h0M475.1 110.3h0M470.9 106.5h0M466.3 94.2h0M487.2 100.1h0M470.9 92.5h0M461.5 94h0M479.2 104.7h0M477.7 106.3h0M465.6 107.5h0M473.9 92.7h0M467.5 103.4h0M465.7 101.7h0M478 90.1h0M462.3 93.2h0M477.8 106.6h0M467.3 98.4h0M468.2 108.6h0M480.5 111.5h0M472.9 109.7h0M466.8 99.3h0M475.6 74.3h0M470.5 112.5h0M468.5 78h0M473.3 97.9h0M464.3 111.4h0M464.5 103.8h0M481.2 98.1h0M467.8 104.2h0M479.1 103.6h0M460 113.2h0M473.9 98.1h0M460.3 103.5h0M464.1 106.6h0M467.2 105.5h0M459.2 103.9h0M471.7 106.9h0M459.5 96.8h0M473.3 63.3h0M469.1 67.4h0M467.1 99.2h0M478.1 97.7h0M473 105.7h0M472.4 109.7h0M478.1 90.2h0M475.1 73.9h0M475.4 87h0M463 112.9h0M479.2 110.8h0M469.2 106.5h0M483.1 105.8h0M467.4 112.4h0M479.8 109.5h0M470.8 108.4h0M482.7 96.2h0M477.8 109.3h0M480.2 104.4h0M462.7 109.9h0M480.6 94.8h0M469.8 86.8h0M466.9 112.7h0M466.8 101.8h0M482.5 95.2h0M475.5 70.4h0M460.2 104.6h0M475.9 94.2h0M478.2 92.5h0M477.3 107.7h0M462.7 109.2h0M469 109.8h0M474.5 111.7h0M465 104h0M462.9 106.8h0M472.4 107.7h0M459.2 102.3h0M464.9 102.2h0M462.8 111.7h0M474.9 109.5h0M463.3 110.5h0M482.4 111.8h0M469.3 85.9h0M480.5 101.6h0M464.4 102.9h0M463.2 89.8h0M476.1 107.6h0M473.1 112.3h0M487.3 100.3h0M467.3 107.9h0M478.3 88h0M464.8 98.2h0M472.8 110.4h0M464.6 112.3h0M480 88.4h0M473.8 93.3h0M470.6 112.3h0M473.1 96.1h0M478.6 108.2h0M477.8 98.2h0M471.6 103.9h0M476.6 111.5h0M464.6 109.3h0M471.3 80.1h0M468.2 105.8h0M467.3 104.5h0M481.2 110.9h0M472.8 105.2h0M486.2 97.9h0M468.2 108.6h0M471.2 96.4h0M481.4 113h0M484 102.1h0M477.3 99.9h0M468.5 105.1h0M476.2 107.5h0M478.2 91.1h0M474.9 104.9h0M474 70.3h0M476.4 108.8h0M466.3 110.2h0M465.2 102.7h0M463.5 107.3h0M480.7 89.5h0M461 112.7h0M476.9 89.4h0M472.2 97.9h0M482.2 94.5h0M467.3 107h0M481.6 91.5h0M461.7 98.3h0M464.9 109.3h0M472.9 104.3h0M466.4 109.2h0M468.3 91.7h0M471.4 106.1h0M475.1 98.2h0M473 93.5h0M482.4 102.1h0M463.5 108.1h0M480.2 111.8h0M464.1 107.3h0M464.5 105.5h0M464.3 109.1h0M470.2 108.6h0M477.5 102.2h0M462.8 109.6h0M470.5 71.4h0M465.5 93.2h0M463.4 106.2h0M475.1 108.3h0M474.8 104.8h0M469.6 65.7h0M467.6 96.8h0M465.2 112.7h0M471.1 93.1h0M462.5 106.4h0M482 110.8h0M477.2 88.7h0M470.2 108.4h0M472.1 103.6h0M480.3 105.5h0M467.5 112.1h0M481.9 110.9h0M473.1 48.2h0M472.5 77.7h0M461.7 106.4h0M485.8 97.7h0M469.5 84h0M466 107.7h0M467.5 97.7h0M458.4 97.8h0M465.3 109.4h0M471.9 109.2h0M460.6 103.1h0M469.4 111.2h0M478.9 102.8h0M476.8 94.2h0M476.9 105.2h0M481.4 103.7h0M470.2 108.2h0M473.2 85.7h0M468.6 100.3h0M474.1 102h0M472.2 103.4h0M461.7 97h0M476.4 111h0M470.3 90.6h0M462 110.6h0M479.1 108h0M467.2 111.3h0M469.1 70.8h0M468.8 103.5h0M468.1 106.5h0M473.3 99.9h0M478.6 97.6h0M469.5 109.5h0M473.5 75.9h0M483.9 104.3h0M480.8 108.9h0M469.7 110.2h0M480.9 105.5h0M474.8 81.7h0M470.2 91.2h0M466.2 97.9h0M467.9 105.1h0M464.2 93.4h0M463.5 96.6h0M462 110.9h0M462.9 111.3h0M473.6 105h0M467.3 79.8h0M480.1 105.4h0M481.2 98.7h0M481.7 111.5h0M474.8 69.4h0M475.5 96.6h0M465.5 108.8h0M470.9 113.1h0M477.3 103h0M478.4 108.3h0M481.7 98.6h0M481.5 109.7h0M459.7 101.1h0M484.6 104.8h0M469.4 112.5h0M461.9 100.9h0M465.3 94.6h0M479.4 106.6h0M475.1 83h0M466.6 87h0M475.9 107h0M484.6 104.5h0M472.8 72.1h0M467.5 97.1h0M467.9 110.5h0M465.4 104.9h0" stroke="#000" stroke-width="0.6" stroke-linecap="round" stroke-opacity="0.12" fill="none"/>
<text x="6.3" y="179.5" font-size="10.8" fill="#000" font-weight="bold">D</text>
<rect x="47.6" y="186" width="94" height="102.1" fill="none" stroke="#231f20" stroke-width="1.05"/>
<path d="M48 192.6 C48.4 193.4 49.5 196.4 50.3 197.7 C51.1 199 51.7 200 52.6 200.6 C53.5 201.2 54.7 200.9 55.6 201.4 C56.5 201.9 57.3 202.3 58.2 203.3 C59.1 204.3 59.6 205.4 60.9 207.6 C62.2 209.8 64.4 213.4 66.2 216.7 C68 220 69.9 224 71.5 227.3 C73.1 230.6 74.3 234.2 75.7 236.6 C77.1 239 78.7 240.8 79.9 241.9 C81.1 243 81.9 243 83.1 243.2 C84.3 243.4 85.9 243.3 87.3 243 C88.7 242.7 90.6 241.7 91.6 241.1 C92.6 240.5 92.9 239.7 93.2 239.4" stroke="#b8b290" fill="none" stroke-width="1.0" />
<path d="M93.2 239.2 C93.7 238.1 94.8 234.3 96.3 232.5 C97.8 230.7 100 230 101.9 228.6 C103.8 227.2 105.7 226.1 107.5 224.3 C109.3 222.5 110.9 220.3 112.6 218 C114.3 215.7 116.8 211.7 117.7 210.4 L117.7 210.4 C117.3 211.3 116.2 213.7 115.2 216 C114.2 218.3 113.1 221.4 111.8 224 C110.5 226.6 109 229.9 107.5 231.5 C106 233.1 104.2 232.8 102.5 233.5 C100.8 234.2 98.5 234.5 97 235.5 C95.5 236.5 93.8 238.8 93.2 239.4 Z" fill="#f0dde9" fill-opacity="0.95" stroke="none" stroke-width="0.5"/>
<path d="M93.2 239.4 C93.8 238.8 95.5 236.5 97 235.5 C98.5 234.5 100.8 234.2 102.5 233.5 C104.2 232.8 106 233.1 107.5 231.5 C109 229.9 110.5 226.6 111.8 224 C113.1 221.4 114.2 218.3 115.2 216 C116.2 213.7 117.3 211.3 117.7 210.4 L117.7 210.4 C117.4 211.2 116.8 212.7 116 215.5 C115.2 218.3 114 224.2 113 227.5 C112 230.8 110.8 233.6 109.8 235.5 C108.8 237.4 107.9 238.4 106.8 239 C105.7 239.6 104.5 239.4 103 239.2 C101.5 239 99.3 237.9 97.7 238 C96.1 238.1 94 239.3 93.2 239.6 Z" fill="#dbd3eb" fill-opacity="0.95" stroke="none" stroke-width="0.5"/>
<path d="M93.2 239.4 C93.8 238.8 95.5 236.5 97 235.5 C98.5 234.5 100.8 234.2 102.5 233.5 C104.2 232.8 106 233.1 107.5 231.5 C109 229.9 110.5 226.6 111.8 224 C113.1 221.4 114.2 218.3 115.2 216 C116.2 213.7 117.3 211.3 117.7 210.4" stroke="#b7a6cc" fill="none" stroke-width="0.6" />
<path d="M93.2 240.8 C93.7 239.7 94.8 235.9 96.3 234.1 C97.8 232.3 100 231.6 101.9 230.2 C103.8 228.8 105.7 227.7 107.5 225.9 C109.3 224.1 110.9 222.2 112.6 219.6 C114.3 217 116.8 211.9 117.7 210.4" stroke="#e4c4d6" fill="none" stroke-width="0.6" />
<path d="M93.2 239 C94 238.7 96.1 237.5 97.7 237.4 C99.3 237.3 101.5 238.4 103 238.6 C104.5 238.8 105.7 239 106.8 238.4 C107.9 237.8 108.8 236.8 109.8 234.9 C110.8 233 112 230.2 113 226.9 C114 223.6 115.2 217.7 116 214.9 C116.8 212.2 117.4 211.2 117.7 210.4" stroke="#a89cc8" fill="none" stroke-width="0.7" />
<path d="M117.7 210.4 C118.5 210.8 121 212.1 122.7 213.1 C124.4 214.1 126.3 215.2 128.1 216.5 C129.9 217.8 132.1 220.2 133.5 221 C134.9 221.8 135.1 220.8 136.5 221 C137.9 221.2 141 222.1 141.9 222.3" stroke="#cdb9c4" fill="none" stroke-width="0.9" />
<path d="M117.7 210.4 C118.3 210.9 120.1 212 121.2 213.5 C122.3 215 123.3 217.2 124.2 219.2 C125.1 221.2 125.8 223.6 126.5 225.4 C127.2 227.2 127.7 229.7 128.5 229.8 C129.3 229.9 130.4 227.4 131.2 226.2 C132 224.9 132.6 223.2 133.5 222.3 C134.4 221.4 135.1 220.9 136.5 220.8 C137.9 220.7 141 221.6 141.9 221.8" stroke="#aaa3b6" fill="none" stroke-width="0.9" />
<path d="M94.1 242.6 C94.6 243.7 96 246.8 97.2 249.1 C98.4 251.3 100 254.6 101.4 256.1 C102.8 257.6 104.2 258.3 105.6 258.2 C107 258.1 108.5 255.6 109.8 255.6 C111.1 255.6 112.2 256.3 113.2 258.4 C114.2 260.5 115.2 264.9 116 268.2 C116.8 271.5 117.6 275.2 118.1 278.1 C118.6 281 119 284.4 119.2 285.7 L117.4 290.9 C117.2 289.6 116.8 286.2 116.3 283.3 C115.8 280.4 115 276.7 114.2 273.4 C113.4 270.1 112.4 265.7 111.4 263.6 C110.4 261.5 109.3 260.8 108 260.8 C106.7 260.8 105.2 263.3 103.8 263.4 C102.4 263.5 101 262.8 99.6 261.3 C98.2 259.8 96.6 256.6 95.4 254.3 C94.2 252.1 92.8 248.9 92.3 247.8 Z" fill="#c6e8e9" fill-opacity="0.95" stroke="none" stroke-width="0.5"/>
<path d="M94.1 242.6 C94.6 243.7 96 246.8 97.2 249.1 C98.4 251.3 100 254.6 101.4 256.1 C102.8 257.6 104.2 258.3 105.6 258.2 C107 258.1 108.5 255.6 109.8 255.6 C111.1 255.6 112.2 256.3 113.2 258.4 C114.2 260.5 115.2 264.9 116 268.2 C116.8 271.5 117.6 275.2 118.1 278.1 C118.6 281 119 284.4 119.2 285.7" stroke="#93d1d5" fill="none" stroke-width="0.6" />
<path d="M92.3 247.8 C92.8 248.9 94.2 252.1 95.4 254.3 C96.6 256.6 98.2 259.8 99.6 261.3 C101 262.8 102.4 263.5 103.8 263.4 C105.2 263.3 106.7 260.8 108 260.8 C109.3 260.8 110.4 261.5 111.4 263.6 C112.4 265.7 113.4 270.1 114.2 273.4 C115 276.7 115.8 280.4 116.3 283.3 C116.8 286.2 117.2 289.6 117.4 290.9" stroke="#93d1d5" fill="none" stroke-width="0.6" />
<path d="M93.2 245 C93.7 246.1 95.1 249.2 96.3 251.5 C97.5 253.8 99.1 257 100.5 258.5 C101.9 260 103.3 260.7 104.7 260.6 C106.1 260.5 107.6 258 108.9 258 C110.2 258 111.3 258.7 112.3 260.8 C113.3 262.9 114.3 267.3 115.1 270.6 C115.9 273.9 116.7 277.6 117.2 280.5 C117.7 283.4 118.1 286.8 118.3 288.1" stroke="#86c9ce" fill="none" stroke-width="0.5" />
<path d="M127 288.1 C127.4 285.4 128.5 276.1 129.5 272 C130.5 267.9 132 263.7 133.2 263.4 C134.4 263.1 135.6 265.9 136.5 270 C137.4 274.1 138.4 285.1 138.8 288.1" stroke="#a9dadc" fill="none" stroke-width="0.9" />
<line x1="47.6" y1="288.1" x2="45" y2="288.1" stroke="#231f20" stroke-width="0.9" />
<line x1="47.6" y1="277.8" x2="45" y2="277.8" stroke="#231f20" stroke-width="0.9" />
<line x1="47.6" y1="267.6" x2="45" y2="267.6" stroke="#231f20" stroke-width="0.9" />
<line x1="47.6" y1="257.3" x2="45" y2="257.3" stroke="#231f20" stroke-width="0.9" />
<line x1="47.6" y1="247.1" x2="45" y2="247.1" stroke="#231f20" stroke-width="0.9" />
<line x1="47.6" y1="236.8" x2="45" y2="236.8" stroke="#231f20" stroke-width="0.9" />
<line x1="47.6" y1="226.6" x2="45" y2="226.6" stroke="#231f20" stroke-width="0.9" />
<line x1="47.6" y1="216.3" x2="45" y2="216.3" stroke="#231f20" stroke-width="0.9" />
<line x1="47.6" y1="206.1" x2="45" y2="206.1" stroke="#231f20" stroke-width="0.9" />
<line x1="47.6" y1="195.8" x2="45" y2="195.8" stroke="#231f20" stroke-width="0.9" />
<text x="42" y="281" font-size="8.1" text-anchor="end" stroke="#231f20" stroke-width="0.22">−4</text>
<text x="42" y="260.5" font-size="8.1" text-anchor="end" stroke="#231f20" stroke-width="0.22">−2</text>
<text x="42" y="240" font-size="8.1" text-anchor="end" stroke="#231f20" stroke-width="0.22">0</text>
<text x="42" y="219.5" font-size="8.1" text-anchor="end" stroke="#231f20" stroke-width="0.22">2</text>
<text x="42" y="199" font-size="8.1" text-anchor="end" stroke="#231f20" stroke-width="0.22">4</text>
<line x1="47.6" y1="288.1" x2="47.6" y2="290.6" stroke="#231f20" stroke-width="0.9" />
<line x1="59.4" y1="288.1" x2="59.4" y2="290.6" stroke="#231f20" stroke-width="0.9" />
<line x1="71.1" y1="288.1" x2="71.1" y2="290.6" stroke="#231f20" stroke-width="0.9" />
<line x1="82.9" y1="288.1" x2="82.9" y2="290.6" stroke="#231f20" stroke-width="0.9" />
<line x1="94.6" y1="288.1" x2="94.6" y2="290.6" stroke="#231f20" stroke-width="0.9" />
<line x1="106.4" y1="288.1" x2="106.4" y2="290.6" stroke="#231f20" stroke-width="0.9" />
<line x1="118.2" y1="288.1" x2="118.2" y2="290.6" stroke="#231f20" stroke-width="0.9" />
<line x1="129.9" y1="288.1" x2="129.9" y2="290.6" stroke="#231f20" stroke-width="0.9" />
<line x1="141.7" y1="288.1" x2="141.7" y2="290.6" stroke="#231f20" stroke-width="0.9" />
<text x="47.6" y="301.1" font-size="8.1" text-anchor="middle" stroke="#231f20" stroke-width="0.22">0.0</text>
<text x="71.1" y="301.1" font-size="8.1" text-anchor="middle" stroke="#231f20" stroke-width="0.22">0.2</text>
<text x="94.6" y="301.1" font-size="8.1" text-anchor="middle" stroke="#231f20" stroke-width="0.22">0.4</text>
<text x="118.2" y="301.1" font-size="8.1" text-anchor="middle" stroke="#231f20" stroke-width="0.22">0.6</text>
<text x="141.7" y="301.1" font-size="8.1" text-anchor="middle" stroke="#231f20" stroke-width="0.22">0.8</text>
<text x="94.7" y="313.5" font-size="8.6" textLength="40" lengthAdjust="spacingAndGlyphs" text-anchor="middle" stroke="#231f20" stroke-width="0.22">Pseudotime</text>
<text x="15.8" y="237.5" font-size="8.4" textLength="62" lengthAdjust="spacingAndGlyphs" text-anchor="middle" transform="rotate(-90 15.8 237.5)" stroke="#231f20" stroke-width="0.22">log(old/young cell</text>
<text x="27.1" y="236.6" font-size="8.4" textLength="43" lengthAdjust="spacingAndGlyphs" text-anchor="middle" transform="rotate(-90 27.1 236.6)" stroke="#231f20" stroke-width="0.22">density ratio)</text>
<text x="52" y="246" font-size="8.3" textLength="15.3" lengthAdjust="spacingAndGlyphs" fill="#c9bd78" stroke="#c9bd78" stroke-width="0.22">HSC</text>
<text x="52" y="258.9" font-size="8.3" textLength="16.1" lengthAdjust="spacingAndGlyphs" fill="#f2b8c6" stroke="#f2b8c6" stroke-width="0.22">EMP</text>
<text x="52" y="271.4" font-size="8.3" textLength="15.3" lengthAdjust="spacingAndGlyphs" fill="#3a3780" stroke="#3a3780" stroke-width="0.22">MyP</text>
<text x="52" y="283.9" font-size="8.3" textLength="11.7" lengthAdjust="spacingAndGlyphs" fill="#45b4bd" stroke="#45b4bd" stroke-width="0.22">LyP</text>
<path d="M159.6 192.6 C160 193.4 161.1 196.4 161.9 197.7 C162.7 199 163.3 200 164.2 200.6 C165.1 201.2 166.3 200.9 167.2 201.4 C168.1 201.9 168.9 202.3 169.8 203.3 C170.7 204.3 171.2 205.4 172.5 207.6 C173.8 209.8 176 213.4 177.8 216.7 C179.6 220 181.5 224 183.1 227.3 C184.7 230.6 185.9 234.2 187.3 236.6 C188.7 239 190.3 240.8 191.5 241.9 C192.7 243 193.5 243 194.7 243.2 C195.9 243.4 197.5 243.3 198.9 243 C200.3 242.7 202.2 241.7 203.2 241.1 C204.2 240.5 204.5 239.7 204.8 239.4" stroke="#b8b290" fill="none" stroke-width="1.0" />
<path d="M204.8 239.2 C205.4 238.1 206.6 234.3 208.1 232.5 C209.7 230.7 212.1 230 214.1 228.6 C216.1 227.2 218.2 226.1 220.1 224.3 C222 222.5 223.7 220.3 225.6 218 C227.4 215.7 230.1 211.7 231 210.4 L231 210.4 C230.6 211.3 229.4 213.7 228.3 216 C227.3 218.3 226.1 221.4 224.7 224 C223.3 226.6 221.8 229.9 220.1 231.5 C218.4 233.1 216.6 232.8 214.8 233.5 C212.9 234.2 210.5 234.5 208.9 235.5 C207.2 236.5 205.5 238.8 204.8 239.4 Z" fill="#f0dde9" fill-opacity="0.95" stroke="none" stroke-width="0.5"/>
<path d="M204.8 239.4 C205.5 238.8 207.2 236.5 208.9 235.5 C210.5 234.5 212.9 234.2 214.8 233.5 C216.6 232.8 218.4 233.1 220.1 231.5 C221.8 229.9 223.3 226.6 224.7 224 C226.1 221.4 227.3 218.3 228.3 216 C229.4 213.7 230.6 211.3 231 210.4 L231 210.4 C230.7 211.2 230 212.7 229.2 215.5 C228.4 218.3 227.1 224.2 226 227.5 C224.9 230.8 223.7 233.6 222.6 235.5 C221.5 237.4 220.6 238.4 219.4 239 C218.1 239.6 216.9 239.4 215.3 239.2 C213.7 239 211.4 237.9 209.6 238 C207.9 238.1 205.6 239.3 204.8 239.6 Z" fill="#dbd3eb" fill-opacity="0.95" stroke="none" stroke-width="0.5"/>
<path d="M204.8 239.4 C205.5 238.8 207.2 236.5 208.9 235.5 C210.5 234.5 212.9 234.2 214.8 233.5 C216.6 232.8 218.4 233.1 220.1 231.5 C221.8 229.9 223.3 226.6 224.7 224 C226.1 221.4 227.3 218.3 228.3 216 C229.4 213.7 230.6 211.3 231 210.4" stroke="#b7a6cc" fill="none" stroke-width="0.6" />
<path d="M204.8 240.8 C205.4 239.7 206.6 235.9 208.1 234.1 C209.7 232.3 212.1 231.6 214.1 230.2 C216.1 228.8 218.2 227.7 220.1 225.9 C222 224.1 223.7 222.2 225.6 219.6 C227.4 217 230.1 211.9 231 210.4" stroke="#e4c4d6" fill="none" stroke-width="0.6" />
<path d="M204.8 239 C205.6 238.7 207.9 237.5 209.6 237.4 C211.4 237.3 213.7 238.4 215.3 238.6 C216.9 238.8 218.1 239 219.4 238.4 C220.6 237.8 221.5 236.8 222.6 234.9 C223.7 233 224.9 230.2 226 226.9 C227.1 223.6 228.4 217.7 229.2 214.9 C230 212.2 230.7 211.2 231 210.4" stroke="#a89cc8" fill="none" stroke-width="0.7" />
<path d="M205.4 245.1 C205.8 245.8 206.9 247.2 208 249 C209.1 250.8 210.8 254.4 211.9 255.6 C213.1 256.8 213.5 256.2 214.9 256 C216.3 255.8 218.3 255.1 220.5 254.6 C222.7 254.1 226 253.3 228.3 252.9 C230.6 252.5 232.5 252.2 234.4 252 C236.3 251.8 238.4 252.4 240 252 C241.6 251.6 242.7 249.4 244 249.5 C245.3 249.6 246.3 252.2 248 252.5 C249.7 252.8 253 251.2 254 251 L254 288.1 L213.6 288.1 C213.3 285.9 212.6 279.4 211.9 275 C211.2 270.6 210.2 265.6 209.3 262 C208.4 258.4 206.8 256.1 206.2 253.3 C205.5 250.5 205.5 246.5 205.4 245.1 Z" fill="#c2e5e6"/>
<path d="M206 248 C206.5 249.2 208 252.8 209 255 C210 257.2 211.1 260.1 212 261.5 C212.9 262.9 213.6 263.8 214.5 263.7 C215.4 263.6 216.5 261.7 217.5 261 C218.5 260.3 219.7 259.1 220.5 259.4 C221.3 259.7 221.9 261.1 222.5 263 C223.1 264.9 223.7 266.4 224 270.6 C224.3 274.8 224.4 285.2 224.5 288.1" stroke="#8dcbd0" fill="none" stroke-width="0.8" />
<path d="M219 262 C219.2 263.7 219.8 267.6 220 272 C220.2 276.4 220.4 285.4 220.5 288.1" stroke="#a2d6d9" fill="none" stroke-width="0.5" />
<path d="M226 262 C226.1 264.2 226.3 270.6 226.5 275 C226.7 279.4 226.9 285.9 227 288.1" stroke="#a2d6d9" fill="none" stroke-width="0.5" />
<path d="M231 210.2 L235.5 216 L238.5 222.5 L241.5 229.5 L246 221 L251 213 L254 207.5 L254 288.1 L237.2 288.1 L236.9 260 L236.5 240 L235.8 222 L234 214 Z" fill="#d3cbe7"/>
<path d="M237 252 L240 252 L241.5 248 L244 251.5 L246.5 248.5 L249 253.5 L251.5 249 L254 251 L254 288.1 L237.2 288.1 Z" fill="#a8cfe0"/>
<path d="M231 210.2 C231.7 211.2 234.3 213.5 235.2 216.5 C236.1 219.5 236.1 222.1 236.3 228 C236.6 233.9 236.5 242 236.7 252 C236.8 262 237.1 282.1 237.2 288.1" stroke="#ab9fcb" fill="none" stroke-width="0.7" />
<path d="M231.5 211 C232.2 212.3 234.3 216.1 235.5 219 C236.7 221.9 237.8 225.3 238.5 228.6 C239.2 231.9 239.2 235.7 239.5 239 C239.8 242.3 240 240.3 240.2 248.5 C240.4 256.7 240.5 281.5 240.6 288.1" stroke="#a497c8" fill="none" stroke-width="0.6" />
<path d="M243.5 248 C243.7 250 244.2 253.3 244.5 260 C244.8 266.7 244.9 283.4 245 288.1" stroke="#86afcc" fill="none" stroke-width="0.6" />
<path d="M246.5 248.5 C246.8 250.8 247.6 255.4 248 262 C248.4 268.6 248.8 283.8 249 288.1" stroke="#86afcc" fill="none" stroke-width="0.6" />
<path d="M231 210.2 C231.8 210.7 233.9 211.7 235.5 213 C237.1 214.3 238.5 216.3 240.5 217.8 C242.5 219.3 245.3 220.8 247.6 222 C249.8 223.2 252.9 224.4 254 224.9" stroke="#cdb4c4" fill="none" stroke-width="0.9" />
<rect x="160.3" y="186" width="93.7" height="102.1" fill="none" stroke="#231f20" stroke-width="1.05"/>
<line x1="160.3" y1="288.1" x2="157.7" y2="288.1" stroke="#231f20" stroke-width="0.9" />
<line x1="160.3" y1="277.8" x2="157.7" y2="277.8" stroke="#231f20" stroke-width="0.9" />
<line x1="160.3" y1="267.6" x2="157.7" y2="267.6" stroke="#231f20" stroke-width="0.9" />
<line x1="160.3" y1="257.3" x2="157.7" y2="257.3" stroke="#231f20" stroke-width="0.9" />
<line x1="160.3" y1="247.1" x2="157.7" y2="247.1" stroke="#231f20" stroke-width="0.9" />
<line x1="160.3" y1="236.8" x2="157.7" y2="236.8" stroke="#231f20" stroke-width="0.9" />
<line x1="160.3" y1="226.6" x2="157.7" y2="226.6" stroke="#231f20" stroke-width="0.9" />
<line x1="160.3" y1="216.3" x2="157.7" y2="216.3" stroke="#231f20" stroke-width="0.9" />
<line x1="160.3" y1="206.1" x2="157.7" y2="206.1" stroke="#231f20" stroke-width="0.9" />
<line x1="160.3" y1="195.8" x2="157.7" y2="195.8" stroke="#231f20" stroke-width="0.9" />
<line x1="160.3" y1="288.1" x2="160.3" y2="290.6" stroke="#231f20" stroke-width="0.9" />
<line x1="172" y1="288.1" x2="172" y2="290.6" stroke="#231f20" stroke-width="0.9" />
<line x1="183.7" y1="288.1" x2="183.7" y2="290.6" stroke="#231f20" stroke-width="0.9" />
<line x1="195.4" y1="288.1" x2="195.4" y2="290.6" stroke="#231f20" stroke-width="0.9" />
<line x1="207.1" y1="288.1" x2="207.1" y2="290.6" stroke="#231f20" stroke-width="0.9" />
<line x1="218.9" y1="288.1" x2="218.9" y2="290.6" stroke="#231f20" stroke-width="0.9" />
<line x1="230.6" y1="288.1" x2="230.6" y2="290.6" stroke="#231f20" stroke-width="0.9" />
<line x1="242.3" y1="288.1" x2="242.3" y2="290.6" stroke="#231f20" stroke-width="0.9" />
<line x1="254" y1="288.1" x2="254" y2="290.6" stroke="#231f20" stroke-width="0.9" />
<text x="169.6" y="198.5" font-size="8.5" textLength="37.8" lengthAdjust="spacingAndGlyphs" stroke="#231f20" stroke-width="0.22">Model Fits</text>
<line x1="166.4" y1="272.9" x2="170.1" y2="272.9" stroke="#333" stroke-width="1.4" />
<text x="173.7" y="274.9" font-size="6.5" textLength="21.4" lengthAdjust="spacingAndGlyphs" stroke="#231f20" stroke-width="0.22">median</text>
<rect x="166.4" y="278.5" width="3.9" height="3.3" fill="#c4c4c4" />
<text x="173.7" y="281.9" font-size="6.5" textLength="24.6" lengthAdjust="spacingAndGlyphs" stroke="#231f20" stroke-width="0.22">max-min</text>
<rect x="275.1" y="186" width="57.8" height="102.1" fill="none" stroke="#231f20" stroke-width="1.05"/>
<rect x="278.7" y="287.3" width="3.6" height="0.8" fill="#c9c9c9" stroke="#8a8a8a" stroke-width="0.45"/>
<rect x="282.3" y="285" width="3.6" height="3.1" fill="#c9c9c9" stroke="#8a8a8a" stroke-width="0.45"/>
<rect x="285.8" y="269.4" width="3.6" height="18.7" fill="#c9c9c9" stroke="#8a8a8a" stroke-width="0.45"/>
<rect x="289.4" y="238.2" width="3.6" height="49.9" fill="#c9c9c9" stroke="#8a8a8a" stroke-width="0.45"/>
<rect x="293" y="215.1" width="3.6" height="73" fill="#c9c9c9" stroke="#8a8a8a" stroke-width="0.45"/>
<rect x="296.6" y="205.1" width="3.6" height="83" fill="#c9c9c9" stroke="#8a8a8a" stroke-width="0.45"/>
<rect x="300.2" y="213.7" width="3.6" height="74.4" fill="#c9c9c9" stroke="#8a8a8a" stroke-width="0.45"/>
<rect x="303.8" y="239.2" width="3.6" height="48.9" fill="#c9c9c9" stroke="#8a8a8a" stroke-width="0.45"/>
<rect x="307.4" y="258.3" width="3.6" height="29.8" fill="#c9c9c9" stroke="#8a8a8a" stroke-width="0.45"/>
<rect x="311" y="272" width="3.6" height="16.1" fill="#c9c9c9" stroke="#8a8a8a" stroke-width="0.45"/>
<rect x="314.6" y="282.4" width="3.6" height="5.7" fill="#c9c9c9" stroke="#8a8a8a" stroke-width="0.45"/>
<rect x="318.2" y="284.8" width="3.6" height="3.3" fill="#c9c9c9" stroke="#8a8a8a" stroke-width="0.45"/>
<rect x="321.8" y="286.8" width="3.6" height="1.3" fill="#c9c9c9" stroke="#8a8a8a" stroke-width="0.45"/>
<line x1="332.9" y1="206.1" x2="335.5" y2="206.1" stroke="#231f20" stroke-width="0.9" />
<text x="339.4" y="209" font-size="8.1" textLength="13.4" lengthAdjust="spacingAndGlyphs" stroke="#231f20" stroke-width="0.22">200</text>
<line x1="332.9" y1="226.6" x2="335.5" y2="226.6" stroke="#231f20" stroke-width="0.9" />
<text x="339.4" y="229.5" font-size="8.1" textLength="13.4" lengthAdjust="spacingAndGlyphs" stroke="#231f20" stroke-width="0.22">150</text>
<line x1="332.9" y1="247.2" x2="335.5" y2="247.2" stroke="#231f20" stroke-width="0.9" />
<text x="339.4" y="250.1" font-size="8.1" textLength="13.4" lengthAdjust="spacingAndGlyphs" stroke="#231f20" stroke-width="0.22">100</text>
<line x1="332.9" y1="267.8" x2="335.5" y2="267.8" stroke="#231f20" stroke-width="0.9" />
<text x="339.4" y="270.7" font-size="8.1" textLength="8.9" lengthAdjust="spacingAndGlyphs" stroke="#231f20" stroke-width="0.22">50</text>
<line x1="289.8" y1="288.1" x2="289.8" y2="290.9" stroke="#231f20" stroke-width="0.9" />
<line x1="318.7" y1="288.1" x2="318.7" y2="290.9" stroke="#231f20" stroke-width="0.9" />
<line x1="304.3" y1="288.1" x2="304.3" y2="289.9" stroke="#231f20" stroke-width="0.9" />
<text x="289.6" y="301.2" font-size="8.1" textLength="15.2" lengthAdjust="spacingAndGlyphs" text-anchor="middle" stroke="#231f20" stroke-width="0.22">0.03</text>
<text x="318.7" y="301.2" font-size="8.1" textLength="16" lengthAdjust="spacingAndGlyphs" text-anchor="middle" stroke="#231f20" stroke-width="0.22">0.05</text>
<text x="289.7" y="310.6" font-size="8.5" textLength="21.8" lengthAdjust="spacingAndGlyphs" text-anchor="middle" stroke="#231f20" stroke-width="0.22">Norm.</text>
<text x="319.1" y="310.6" font-size="8.5" textLength="22.2" lengthAdjust="spacingAndGlyphs" text-anchor="middle" stroke="#231f20" stroke-width="0.22">RMSD</text>
<text x="270" y="237.2" font-size="8.5" textLength="48.2" lengthAdjust="spacingAndGlyphs" text-anchor="middle" transform="rotate(-90 270 237.2)" stroke="#231f20" stroke-width="0.22">Number of fits</text>
<text x="365" y="165.4" font-size="10.8" fill="#000" font-weight="bold">F</text>
<line x1="420.5" y1="161.6" x2="420.5" y2="230.7" stroke="#231f20" stroke-width="0.9" />
<line x1="420.1" y1="230.3" x2="506.8" y2="230.3" stroke="#231f20" stroke-width="0.9" />
<line x1="420.5" y1="168.1" x2="417.9" y2="168.1" stroke="#231f20" stroke-width="0.9" />
<text x="415.1" y="171" font-size="8.1" text-anchor="end" stroke="#231f20" stroke-width="0.22">1</text>
<line x1="420.5" y1="182.1" x2="417.9" y2="182.1" stroke="#231f20" stroke-width="0.9" />
<text x="415.1" y="185" font-size="8.1" text-anchor="end" stroke="#231f20" stroke-width="0.22">0</text>
<line x1="420.5" y1="196.1" x2="417.9" y2="196.1" stroke="#231f20" stroke-width="0.9" />
<text x="415.1" y="199" font-size="8.1" text-anchor="end" stroke="#231f20" stroke-width="0.22">−1</text>
<line x1="420.5" y1="210.1" x2="417.9" y2="210.1" stroke="#231f20" stroke-width="0.9" />
<text x="415.1" y="213" font-size="8.1" text-anchor="end" stroke="#231f20" stroke-width="0.22">−2</text>
<line x1="420.5" y1="224.1" x2="417.9" y2="224.1" stroke="#231f20" stroke-width="0.9" />
<text x="415.1" y="227" font-size="8.1" text-anchor="end" stroke="#231f20" stroke-width="0.22">−3</text>
<line x1="420.5" y1="175.1" x2="419" y2="175.1" stroke="#231f20" stroke-width="0.9" />
<line x1="420.5" y1="189.1" x2="419" y2="189.1" stroke="#231f20" stroke-width="0.9" />
<line x1="420.5" y1="203.1" x2="419" y2="203.1" stroke="#231f20" stroke-width="0.9" />
<line x1="420.5" y1="217.1" x2="419" y2="217.1" stroke="#231f20" stroke-width="0.9" />
<line x1="427.8" y1="230.3" x2="427.8" y2="232.8" stroke="#231f20" stroke-width="0.9" />
<line x1="450" y1="230.3" x2="450" y2="232.8" stroke="#231f20" stroke-width="0.9" />
<line x1="471" y1="230.3" x2="471" y2="232.8" stroke="#231f20" stroke-width="0.9" />
<line x1="493.3" y1="230.3" x2="493.3" y2="232.8" stroke="#231f20" stroke-width="0.9" />
<path d="M427.8 181.8 L450 178.3 L471 176.2 L493.3 169.8" stroke="#f5c4d0" fill="none" stroke-width="0.9" />
<path d="M427.8 182.1 L450 179.3 L471 177.9 L493.3 175.8" stroke="#5550a0" fill="none" stroke-width="0.9" />
<path d="M428.4 185.6 C432.1 187 443.4 191.2 450.6 194 C457.8 196.8 464.4 200.1 471.6 202.4 C478.8 204.7 490.2 207.1 493.9 208" stroke="#45b5ba" fill="none" stroke-width="0.9" />
<line x1="427.3" y1="177.9" x2="427.3" y2="186.3" stroke="#f2b6c6" stroke-width="0.8" />
<line x1="449.8" y1="175.8" x2="449.8" y2="181.4" stroke="#f2b6c6" stroke-width="0.8" />
<line x1="470.8" y1="173.7" x2="470.8" y2="179.3" stroke="#f2b6c6" stroke-width="0.8" />
<line x1="492.8" y1="167.4" x2="492.8" y2="173.7" stroke="#f2b6c6" stroke-width="0.8" />
<line x1="428" y1="179.3" x2="428" y2="184.9" stroke="#4d47a0" stroke-width="0.8" />
<line x1="450.3" y1="177.2" x2="450.3" y2="182.1" stroke="#4d47a0" stroke-width="0.8" />
<line x1="471.2" y1="171.6" x2="471.2" y2="182.1" stroke="#4d47a0" stroke-width="0.8" />
<line x1="493.4" y1="168.8" x2="493.4" y2="187.7" stroke="#4d47a0" stroke-width="0.8" />
<line x1="427.9" y1="180" x2="427.9" y2="192.6" stroke="#2fb0b5" stroke-width="0.8" />
<line x1="450.6" y1="189.8" x2="450.6" y2="201.7" stroke="#2fb0b5" stroke-width="0.8" />
<line x1="471.5" y1="196.1" x2="471.5" y2="212.2" stroke="#2fb0b5" stroke-width="0.8" />
<line x1="494.5" y1="201.7" x2="494.5" y2="224.8" stroke="#2fb0b5" stroke-width="0.8" />
<text x="423.3" y="226.6" font-size="8.3" textLength="16.6" lengthAdjust="spacingAndGlyphs" fill="#f4b6c8" stroke="#f4b6c8" stroke-width="0.22">EMP</text>
<text x="442.3" y="226.6" font-size="8.3" textLength="14.6" lengthAdjust="spacingAndGlyphs" fill="#453b93" stroke="#453b93" stroke-width="0.22">MyP</text>
<text x="461.3" y="226.6" font-size="8.3" textLength="12.4" lengthAdjust="spacingAndGlyphs" fill="#3ab0bf" stroke="#3ab0bf" stroke-width="0.22">LyP</text>
<text x="388.9" y="196" font-size="8.3" textLength="47.1" lengthAdjust="spacingAndGlyphs" text-anchor="middle" transform="rotate(-90 388.9 196)" stroke="#231f20" stroke-width="0.22">log(old/young</text>
<text x="400.6" y="196" font-size="8.3" textLength="43.3" lengthAdjust="spacingAndGlyphs" text-anchor="middle" transform="rotate(-90 400.6 196)" stroke="#231f20" stroke-width="0.22">branch ratio)</text>
<line x1="420.5" y1="242" x2="420.5" y2="313.2" stroke="#231f20" stroke-width="0.9" />
<line x1="420.1" y1="312.8" x2="506.8" y2="312.8" stroke="#231f20" stroke-width="0.9" />
<line x1="420.5" y1="243.3" x2="417.9" y2="243.3" stroke="#231f20" stroke-width="0.9" />
<text x="415.1" y="246.2" font-size="8.1" text-anchor="end" stroke="#231f20" stroke-width="0.22">20</text>
<line x1="420.5" y1="260.5" x2="417.9" y2="260.5" stroke="#231f20" stroke-width="0.9" />
<text x="415.1" y="263.4" font-size="8.1" text-anchor="end" stroke="#231f20" stroke-width="0.22">10</text>
<line x1="420.5" y1="277.7" x2="417.9" y2="277.7" stroke="#231f20" stroke-width="0.9" />
<text x="415.1" y="280.6" font-size="8.1" text-anchor="end" stroke="#231f20" stroke-width="0.22">0</text>
<line x1="420.5" y1="294.9" x2="417.9" y2="294.9" stroke="#231f20" stroke-width="0.9" />
<text x="415.1" y="297.8" font-size="8.1" text-anchor="end" stroke="#231f20" stroke-width="0.22">−10</text>
<line x1="420.5" y1="312.1" x2="417.9" y2="312.1" stroke="#231f20" stroke-width="0.9" />
<text x="415.1" y="315" font-size="8.1" text-anchor="end" stroke="#231f20" stroke-width="0.22">−20</text>
<line x1="420.5" y1="251.9" x2="419" y2="251.9" stroke="#231f20" stroke-width="0.9" />
<line x1="420.5" y1="269.1" x2="419" y2="269.1" stroke="#231f20" stroke-width="0.9" />
<line x1="420.5" y1="286.3" x2="419" y2="286.3" stroke="#231f20" stroke-width="0.9" />
<line x1="420.5" y1="303.5" x2="419" y2="303.5" stroke="#231f20" stroke-width="0.9" />
<line x1="428.1" y1="312.8" x2="428.1" y2="315.3" stroke="#231f20" stroke-width="0.9" />
<line x1="450.3" y1="312.8" x2="450.3" y2="315.3" stroke="#231f20" stroke-width="0.9" />
<line x1="471.5" y1="312.8" x2="471.5" y2="315.3" stroke="#231f20" stroke-width="0.9" />
<line x1="493.7" y1="312.8" x2="493.7" y2="315.3" stroke="#231f20" stroke-width="0.9" />
<path d="M428.1 260.5 L450.3 262.2 L471.5 261.9 L493.7 265.3" stroke="#f5c4d0" fill="none" stroke-width="0.9" />
<path d="M428.1 267.4 L450.3 270.8 L471.5 272.5 L493.7 275.1" stroke="#5550a0" fill="none" stroke-width="0.9" />
<path d="M430 294 L452 294 C462 293.5 466 292.3 470.5 290.6 C478 287.2 486 282 494 277.4" stroke="#45b5ba" fill="none" stroke-width="0.9" />
<line x1="428.1" y1="256.2" x2="428.1" y2="263.9" stroke="#f2b6c6" stroke-width="0.8" />
<line x1="450.3" y1="256.2" x2="450.3" y2="266.5" stroke="#f2b6c6" stroke-width="0.8" />
<line x1="471.5" y1="257.1" x2="471.5" y2="267.4" stroke="#f2b6c6" stroke-width="0.8" />
<line x1="493.7" y1="260.5" x2="493.7" y2="270.8" stroke="#f2b6c6" stroke-width="0.8" />
<line x1="428.3" y1="262.2" x2="428.3" y2="272.5" stroke="#4d47a0" stroke-width="0.8" />
<line x1="450.3" y1="264.8" x2="450.3" y2="276.8" stroke="#4d47a0" stroke-width="0.8" />
<line x1="471" y1="262.2" x2="471" y2="279.4" stroke="#4d47a0" stroke-width="0.8" />
<line x1="491.3" y1="255" x2="491.3" y2="287.2" stroke="#4d47a0" stroke-width="0.8" />
<line x1="430.3" y1="286.3" x2="430.3" y2="313" stroke="#2fb0b5" stroke-width="0.8" />
<line x1="452.5" y1="283.7" x2="452.5" y2="313" stroke="#2fb0b5" stroke-width="0.8" />
<line x1="470.5" y1="273.9" x2="470.5" y2="313" stroke="#2fb0b5" stroke-width="0.8" />
<line x1="494.3" y1="250.2" x2="494.3" y2="296.1" stroke="#2fb0b5" stroke-width="0.8" />
<text x="430.7" y="322.4" font-size="7.6" textLength="17.5" lengthAdjust="spacingAndGlyphs" text-anchor="end" transform="rotate(-45 430.7 322.4)" stroke="#231f20" stroke-width="0.22">0.351</text>
<text x="452.9" y="322.4" font-size="7.6" textLength="17.5" lengthAdjust="spacingAndGlyphs" text-anchor="end" transform="rotate(-45 452.9 322.4)" stroke="#231f20" stroke-width="0.22">0.381</text>
<text x="474.1" y="322.4" font-size="7.6" textLength="17.5" lengthAdjust="spacingAndGlyphs" text-anchor="end" transform="rotate(-45 474.1 322.4)" stroke="#231f20" stroke-width="0.22">0.411</text>
<text x="496.3" y="322.4" font-size="7.6" textLength="17.5" lengthAdjust="spacingAndGlyphs" text-anchor="end" transform="rotate(-45 496.3 322.4)" stroke="#231f20" stroke-width="0.22">0.441</text>
<text x="463.7" y="348" font-size="8.4" textLength="42.3" lengthAdjust="spacingAndGlyphs" text-anchor="middle" stroke="#231f20" stroke-width="0.22">Branch point</text>
<line x1="368" y1="241.8" x2="368" y2="310.5" stroke="#555" stroke-width="1.0" />
<text x="377.2" y="276.2" font-size="8.3" textLength="52.6" lengthAdjust="spacingAndGlyphs" text-anchor="middle" transform="rotate(-90 377.2 276.2)" stroke="#231f20" stroke-width="0.22">old − young flux</text>
<line x1="386.6" y1="269.7" x2="386.6" y2="290.7" stroke="#231f20" stroke-width="0.8" />
<text x="391" y="261.6" font-size="7.0" textLength="8.7" lengthAdjust="spacingAndGlyphs" text-anchor="middle" transform="rotate(-90 391 261.6)" stroke="#231f20" stroke-width="0.22">0.5</text>
<text x="396.8" y="281.5" font-size="8.0" textLength="16.1" lengthAdjust="spacingAndGlyphs" text-anchor="middle" transform="rotate(-90 396.8 281.5)" stroke="#231f20" stroke-width="0.22">func. |</text>
<text x="400.8" y="260.7" font-size="7.0" textLength="14.2" lengthAdjust="spacingAndGlyphs" text-anchor="middle" transform="rotate(-90 400.8 260.7)" stroke="#231f20" stroke-width="0.22">br.pt</text>
<text x="6.5" y="369.6" font-size="10.8" fill="#000" font-weight="bold">E</text>
<rect x="31.3" y="397.3" width="71.2" height="71.7" fill="none" stroke="#231f20" stroke-width="1.05"/>
<line x1="31.3" y1="433.2" x2="102.5" y2="433.2" stroke="#8a8a8a" stroke-width="0.7" />
<rect x="33.8" y="425.6" width="18.6" height="7.6" fill="#f4acb8" />
<rect x="57.5" y="428.9" width="18.2" height="4.3" fill="#2e2a86" />
<rect x="80.8" y="433.2" width="18.6" height="19.5" fill="#17a1a6" />
<line x1="43.1" y1="418.4" x2="43.1" y2="433.2" stroke="#b98a96" stroke-width="0.7" />
<line x1="66.6" y1="421.8" x2="66.6" y2="434.4" stroke="#7a78b0" stroke-width="0.7" />
<line x1="89.9" y1="443.9" x2="89.9" y2="468.5" stroke="#5f7f82" stroke-width="0.7" />
<line x1="31.3" y1="409.4" x2="28.7" y2="409.4" stroke="#231f20" stroke-width="0.9" />
<text x="26.3" y="412.3" font-size="8.1" text-anchor="end" stroke="#231f20" stroke-width="0.22">1</text>
<line x1="31.3" y1="433.2" x2="28.7" y2="433.2" stroke="#231f20" stroke-width="0.9" />
<text x="26.3" y="436.1" font-size="8.1" text-anchor="end" stroke="#231f20" stroke-width="0.22">0</text>
<line x1="31.3" y1="457" x2="28.7" y2="457" stroke="#231f20" stroke-width="0.9" />
<text x="26.3" y="459.9" font-size="8.1" text-anchor="end" stroke="#231f20" stroke-width="0.22">−1</text>
<line x1="42.9" y1="469" x2="42.9" y2="471.5" stroke="#231f20" stroke-width="0.9" />
<line x1="66.5" y1="469" x2="66.5" y2="471.5" stroke="#231f20" stroke-width="0.9" />
<line x1="90.1" y1="469" x2="90.1" y2="471.5" stroke="#231f20" stroke-width="0.9" />
<text x="43.2" y="481.4" font-size="8.3" textLength="17" lengthAdjust="spacingAndGlyphs" text-anchor="middle" fill="#f4a9b8" stroke="#f4a9b8" stroke-width="0.22">EMP</text>
<text x="66.5" y="481.4" font-size="8.3" textLength="14.8" lengthAdjust="spacingAndGlyphs" text-anchor="middle" fill="#3c3490" stroke="#3c3490" stroke-width="0.22">MyP</text>
<text x="90.2" y="481.4" font-size="8.3" textLength="12.4" lengthAdjust="spacingAndGlyphs" text-anchor="middle" fill="#2aa8b4" stroke="#2aa8b4" stroke-width="0.22">LyP</text>
<text x="66.3" y="382.6" font-size="8.6" textLength="49.5" lengthAdjust="spacingAndGlyphs" text-anchor="middle" stroke="#231f20" stroke-width="0.22">log(old/young</text>
<text x="66.8" y="392.5" font-size="8.6" textLength="46.3" lengthAdjust="spacingAndGlyphs" text-anchor="middle" stroke="#231f20" stroke-width="0.22">Branch Ratio)</text>
<path d="M136.3 467.5 C136.6 465.8 137.3 461.7 138 457.5 C138.8 453.4 139.6 446.5 140.6 442.7 C141.6 438.8 143.1 435.3 144.1 434.4 C145.1 433.4 145.7 435.4 146.7 436.9 C147.7 438.5 148.7 441.2 150.1 443.8 C151.6 446.5 153.7 450.6 155.3 452.9 C156.9 455.2 158.2 456.7 159.7 457.7 C161.1 458.7 162.4 459.2 164 458.9 C165.6 458.6 167.1 457.8 169.2 456.2 C171.3 454.5 174.6 451.3 176.6 449.1 C178.6 446.8 179.9 444.6 181.3 442.8 C182.7 440.9 183.5 439.6 185.1 437.8 C186.7 436.1 189 433.6 190.8 432.4 C192.6 431.2 194.4 431 196 430.5 C197.6 430 199.6 429.8 200.3 429.6 L200.3 435.6 C199.6 435.6 197.6 435 196 435.1 C194.4 435.2 192.6 435.1 190.8 436 C189 437 186.7 439.3 185.1 440.8 C183.5 442.4 182.7 443.6 181.3 445.4 C179.9 447.2 178.6 449.4 176.6 451.7 C174.6 453.9 171.3 457.1 169.2 458.8 C167.1 460.4 165.6 461.2 164 461.5 C162.4 461.8 161.1 461.3 159.7 460.3 C158.2 459.4 156.9 457.8 155.3 455.7 C153.7 453.6 151.6 449.8 150.1 447.4 C148.7 445.1 147.7 443 146.7 441.7 C145.7 440.4 145.1 438.7 144.1 439.6 C143.1 440.5 141.6 443.6 140.6 447.1 C139.6 450.5 138.8 456.8 138 460.5 C137.3 464.3 136.6 468 136.3 469.5 Z" fill="#e9e7c9" fill-opacity="0.95" stroke="none" stroke-width="0.5"/>
<path d="M136.3 467.7 C136.6 466 137.3 461.9 138 457.8 C138.8 453.7 139.6 446.9 140.6 443.1 C141.6 439.3 143.1 435.8 144.1 434.9 C145.1 433.9 145.7 435.9 146.7 437.4 C147.7 439 148.7 441.6 150.1 444.2 C151.6 446.8 153.7 450.9 155.3 453.2 C156.9 455.5 158.2 457 159.7 458 C161.1 459 162.4 459.4 164 459.2 C165.6 458.9 167.1 458.1 169.2 456.4 C171.3 454.8 174.6 451.6 176.6 449.3 C178.6 447.1 179.9 444.9 181.3 443 C182.7 441.2 183.5 439.8 185.1 438.1 C186.7 436.4 189 434 190.8 432.8 C192.6 431.6 194.4 431.4 196 431 C197.6 430.5 199.6 430.4 200.3 430.2" stroke="#d2cf9c" fill="none" stroke-width="0.6" />
<path d="M136.3 469.3 C136.6 467.8 137.3 464 138 460.2 C138.8 456.4 139.6 450.1 140.6 446.6 C141.6 443.1 143.1 439.9 144.1 439.1 C145.1 438.2 145.7 439.9 146.7 441.3 C147.7 442.6 148.7 444.7 150.1 447.1 C151.6 449.4 153.7 453.3 155.3 455.4 C156.9 457.6 158.2 459.1 159.7 460.1 C161.1 461 162.4 461.5 164 461.2 C165.6 461 167.1 460.1 169.2 458.5 C171.3 456.8 174.6 453.6 176.6 451.4 C178.6 449.2 179.9 446.9 181.3 445.1 C182.7 443.3 183.5 442.1 185.1 440.5 C186.7 439 189 436.6 190.8 435.7 C192.6 434.7 194.4 434.7 196 434.6 C197.6 434.5 199.6 435 200.3 435" stroke="#d2cf9c" fill="none" stroke-width="0.6" />
<path d="M136.3 468.5 C136.6 466.9 137.3 463 138 459 C138.8 455.1 139.6 448.5 140.6 444.9 C141.6 441.2 143.1 437.9 144.1 437 C145.1 436.1 145.7 437.9 146.7 439.3 C147.7 440.8 148.7 443.1 150.1 445.6 C151.6 448.1 153.7 452.1 155.3 454.3 C156.9 456.5 158.2 458 159.7 459 C161.1 460 162.4 460.5 164 460.2 C165.6 459.9 167.1 459.1 169.2 457.5 C171.3 455.8 174.6 452.6 176.6 450.4 C178.6 448.1 179.9 445.9 181.3 444.1 C182.7 442.2 183.5 441 185.1 439.3 C186.7 437.7 189 435.3 190.8 434.2 C192.6 433.1 194.4 433.1 196 432.8 C197.6 432.5 199.6 432.7 200.3 432.6" stroke="#8f8e78" fill="none" stroke-width="0.9" />
<rect x="136.3" y="397.3" width="69.2" height="71.7" fill="none" stroke="#231f20" stroke-width="1.05"/>
<line x1="136.3" y1="397.6" x2="133.5" y2="397.6" stroke="#231f20" stroke-width="0.9" />
<line x1="136.3" y1="405.5" x2="133.5" y2="405.5" stroke="#231f20" stroke-width="0.9" />
<line x1="136.3" y1="413.4" x2="133.5" y2="413.4" stroke="#231f20" stroke-width="0.9" />
<line x1="136.3" y1="421.2" x2="133.5" y2="421.2" stroke="#231f20" stroke-width="0.9" />
<line x1="136.3" y1="429.1" x2="133.5" y2="429.1" stroke="#231f20" stroke-width="0.9" />
<line x1="136.3" y1="437" x2="133.5" y2="437" stroke="#231f20" stroke-width="0.9" />
<line x1="136.3" y1="444.9" x2="133.5" y2="444.9" stroke="#231f20" stroke-width="0.9" />
<line x1="136.3" y1="452.8" x2="133.5" y2="452.8" stroke="#231f20" stroke-width="0.9" />
<line x1="136.3" y1="460.6" x2="133.5" y2="460.6" stroke="#231f20" stroke-width="0.9" />
<line x1="136.3" y1="468.5" x2="133.5" y2="468.5" stroke="#231f20" stroke-width="0.9" />
<line x1="136.3" y1="469" x2="136.3" y2="471.6" stroke="#231f20" stroke-width="0.9" />
<line x1="145" y1="469" x2="145" y2="471.6" stroke="#231f20" stroke-width="0.9" />
<line x1="153.6" y1="469" x2="153.6" y2="471.6" stroke="#231f20" stroke-width="0.9" />
<line x1="162.2" y1="469" x2="162.2" y2="471.6" stroke="#231f20" stroke-width="0.9" />
<line x1="170.9" y1="469" x2="170.9" y2="471.6" stroke="#231f20" stroke-width="0.9" />
<line x1="179.6" y1="469" x2="179.6" y2="471.6" stroke="#231f20" stroke-width="0.9" />
<line x1="188.2" y1="469" x2="188.2" y2="471.6" stroke="#231f20" stroke-width="0.9" />
<line x1="196.8" y1="469" x2="196.8" y2="471.6" stroke="#231f20" stroke-width="0.9" />
<line x1="205.5" y1="469" x2="205.5" y2="471.6" stroke="#231f20" stroke-width="0.9" />
<text x="171.4" y="382.8" font-size="8.5" textLength="41.7" lengthAdjust="spacingAndGlyphs" text-anchor="middle" stroke="#231f20" stroke-width="0.22">old – young</text>
<text x="170.9" y="392.2" font-size="8.5" text-anchor="middle" textLength="54.3" lengthAdjust="spacingAndGlyphs" stroke="#231f20" stroke-width="0.22"><tspan fill="#c8be6a" stroke="#c8be6a">HSC</tspan> Flux Func.</text>
<text x="136.3" y="481.3" font-size="8.1" text-anchor="middle" stroke="#231f20" stroke-width="0.22">0.0</text>
<text x="170.9" y="481.3" font-size="8.1" text-anchor="middle" stroke="#231f20" stroke-width="0.22">0.2</text>
<text x="205.5" y="481.3" font-size="8.1" text-anchor="middle" stroke="#231f20" stroke-width="0.22">0.4</text>
<text x="170.9" y="494.2" font-size="8.6" textLength="40" lengthAdjust="spacingAndGlyphs" text-anchor="middle" stroke="#231f20" stroke-width="0.22">Pseudotime</text>
<text x="130" y="400.5" font-size="8.1" text-anchor="end" stroke="#231f20" stroke-width="0.22">50</text>
<text x="130" y="416.2" font-size="8.1" text-anchor="end" stroke="#231f20" stroke-width="0.22">30</text>
<text x="130" y="432" font-size="8.1" text-anchor="end" stroke="#231f20" stroke-width="0.22">10</text>
<text x="130" y="447.8" font-size="8.1" text-anchor="end" stroke="#231f20" stroke-width="0.22">−10</text>
<text x="130" y="463.5" font-size="8.1" text-anchor="end" stroke="#231f20" stroke-width="0.22">−30</text>
<path d="M235.5 425.4 C236.1 425.7 237.7 426.7 239 427 C240.3 427.3 241.6 427.3 243.4 427 C245.2 426.7 248.1 425.7 250 425 C251.9 424.3 253.2 423.5 255 423 C256.8 422.5 259 421.5 261 422 C263 422.5 264.8 424.2 267 426 C269.2 427.8 271.8 430.6 274 433 C276.2 435.4 278 438.7 280.2 440.5 C282.4 442.3 285.2 443.4 287 443.7 C288.8 444 289.7 443 291 442.3 C292.3 441.6 293.4 440.7 294.7 439.4 C295.9 438.1 297.2 436 298.5 434.5 C299.8 433 301.9 431.2 302.6 430.5 L302.6 463.5 C302.2 462.2 301.4 458.6 300.5 456 C299.6 453.4 298.5 449.9 297.5 448 C296.5 446.1 295.8 444.5 294.7 444.6 C293.6 444.7 292.3 447.8 291 448.7 C289.7 449.6 288.8 450.5 287 450.1 C285.2 449.7 282.4 448.4 280.2 446.5 C278 444.6 276.2 441.4 274 439 C271.8 436.6 269.2 433.8 267 432 C264.8 430.2 263 428.5 261 428 C259 427.5 256.8 428.5 255 429 C253.2 429.5 251.9 430.2 250 431 C248.1 431.8 245.2 433.3 243.4 434 C241.6 434.7 240.3 434.8 239 435 C237.7 435.2 236.1 435.3 235.5 435.4 Z" fill="#fadde4" fill-opacity="1.0" stroke="none" stroke-width="0.5"/>
<path d="M235.5 425.4 C236.1 425.7 237.7 426.7 239 427 C240.3 427.3 241.6 427.3 243.4 427 C245.2 426.7 248.1 425.7 250 425 C251.9 424.3 253.2 423.5 255 423 C256.8 422.5 259 421.5 261 422 C263 422.5 264.8 424.2 267 426 C269.2 427.8 271.8 430.6 274 433 C276.2 435.4 278 438.7 280.2 440.5 C282.4 442.3 285.2 443.4 287 443.7 C288.8 444 289.7 443 291 442.3 C292.3 441.6 293.4 440.7 294.7 439.4 C295.9 438.1 297.2 436 298.5 434.5 C299.8 433 301.9 431.2 302.6 430.5" stroke="#efb7c6" fill="none" stroke-width="0.6" />
<path d="M235.5 435.4 C236.1 435.3 237.7 435.2 239 435 C240.3 434.8 241.6 434.7 243.4 434 C245.2 433.3 248.1 431.8 250 431 C251.9 430.2 253.2 429.5 255 429 C256.8 428.5 259 427.5 261 428 C263 428.5 264.8 430.2 267 432 C269.2 433.8 271.8 436.6 274 439 C276.2 441.4 278 444.6 280.2 446.5 C282.4 448.4 285.2 449.7 287 450.1 C288.8 450.5 289.7 449.6 291 448.7 C292.3 447.8 293.4 445.8 294.7 444.6 C295.9 443.4 297.2 442.7 298.5 441.5 C299.8 440.3 301.9 438.2 302.6 437.5" stroke="#efb7c6" fill="none" stroke-width="0.6" />
<path d="M235.5 430.4 C236.1 430.5 237.7 431 239 431 C240.3 431 241.6 431 243.4 430.5 C245.2 430 248.1 428.8 250 428 C251.9 427.2 253.2 426.5 255 426 C256.8 425.5 259 424.5 261 425 C263 425.5 264.8 427.2 267 429 C269.2 430.8 271.8 433.6 274 436 C276.2 438.4 278 441.7 280.2 443.5 C282.4 445.3 285.2 446.6 287 446.9 C288.8 447.2 289.7 446.3 291 445.5 C292.3 444.7 294.1 442.6 294.7 442" stroke="#e9a9bb" fill="none" stroke-width="0.6" />
<path d="M294.7 444.5 C295.2 445.1 296.5 446.1 297.5 448 C298.5 449.9 299.7 453.2 300.5 456 C301.3 458.8 301.9 463.5 302.2 465" stroke="#c9b2ba" fill="none" stroke-width="0.6" />
<rect x="232.6" y="397.3" width="70.3" height="71.7" fill="none" stroke="#231f20" stroke-width="1.05"/>
<line x1="232.6" y1="397.6" x2="229.8" y2="397.6" stroke="#231f20" stroke-width="0.9" />
<line x1="232.6" y1="405.5" x2="229.8" y2="405.5" stroke="#231f20" stroke-width="0.9" />
<line x1="232.6" y1="413.4" x2="229.8" y2="413.4" stroke="#231f20" stroke-width="0.9" />
<line x1="232.6" y1="421.2" x2="229.8" y2="421.2" stroke="#231f20" stroke-width="0.9" />
<line x1="232.6" y1="429.1" x2="229.8" y2="429.1" stroke="#231f20" stroke-width="0.9" />
<line x1="232.6" y1="437" x2="229.8" y2="437" stroke="#231f20" stroke-width="0.9" />
<line x1="232.6" y1="444.9" x2="229.8" y2="444.9" stroke="#231f20" stroke-width="0.9" />
<line x1="232.6" y1="452.8" x2="229.8" y2="452.8" stroke="#231f20" stroke-width="0.9" />
<line x1="232.6" y1="460.6" x2="229.8" y2="460.6" stroke="#231f20" stroke-width="0.9" />
<line x1="232.6" y1="468.5" x2="229.8" y2="468.5" stroke="#231f20" stroke-width="0.9" />
<line x1="232.6" y1="469" x2="232.6" y2="471.6" stroke="#231f20" stroke-width="0.9" />
<line x1="240.4" y1="469" x2="240.4" y2="471.6" stroke="#231f20" stroke-width="0.9" />
<line x1="248.2" y1="469" x2="248.2" y2="471.6" stroke="#231f20" stroke-width="0.9" />
<line x1="256" y1="469" x2="256" y2="471.6" stroke="#231f20" stroke-width="0.9" />
<line x1="263.8" y1="469" x2="263.8" y2="471.6" stroke="#231f20" stroke-width="0.9" />
<line x1="271.7" y1="469" x2="271.7" y2="471.6" stroke="#231f20" stroke-width="0.9" />
<line x1="279.5" y1="469" x2="279.5" y2="471.6" stroke="#231f20" stroke-width="0.9" />
<line x1="287.3" y1="469" x2="287.3" y2="471.6" stroke="#231f20" stroke-width="0.9" />
<line x1="295.1" y1="469" x2="295.1" y2="471.6" stroke="#231f20" stroke-width="0.9" />
<line x1="302.9" y1="469" x2="302.9" y2="471.6" stroke="#231f20" stroke-width="0.9" />
<text x="268.2" y="382.8" font-size="8.5" textLength="41.7" lengthAdjust="spacingAndGlyphs" text-anchor="middle" stroke="#231f20" stroke-width="0.22">old – young</text>
<text x="267.8" y="392.2" font-size="8.5" text-anchor="middle" textLength="54.3" lengthAdjust="spacingAndGlyphs" stroke="#231f20" stroke-width="0.22"><tspan fill="#f4aabb" stroke="#f4aabb">EMP</tspan> Flux Func.</text>
<text x="240.4" y="481.3" font-size="8.1" text-anchor="middle" stroke="#231f20" stroke-width="0.22">0.4</text>
<text x="271.7" y="481.3" font-size="8.1" text-anchor="middle" stroke="#231f20" stroke-width="0.22">0.6</text>
<text x="302.9" y="481.3" font-size="8.1" text-anchor="middle" stroke="#231f20" stroke-width="0.22">0.8</text>
<text x="267.8" y="494.2" font-size="8.6" textLength="40" lengthAdjust="spacingAndGlyphs" text-anchor="middle" stroke="#231f20" stroke-width="0.22">Pseudotime</text>
<path d="M334.5 427 C335.1 427.4 336.5 428.8 338 429.5 C339.5 430.2 341.8 431.8 343.5 431.5 C345.2 431.2 346.4 430 348 428 C349.6 426 351.5 422.2 353 419.5 C354.5 416.8 355.7 413.6 357 411.8 C358.3 410 359.6 408.9 360.7 408.5 C361.8 408.1 363 409.3 363.5 409.5 L363.5 428.5 C363 427.8 361.8 424.5 360.7 424 C359.6 423.5 358.3 424.3 357 425.5 C355.7 426.7 354.5 428.9 353 431 C351.5 433.1 349.6 436.3 348 438 C346.4 439.7 345.2 440.9 343.5 441 C341.8 441.1 339.5 439.3 338 438.5 C336.5 437.7 335.1 436.4 334.5 436 Z" fill="#d3d0ec" fill-opacity="1.0" stroke="none" stroke-width="0.5"/>
<path d="M360.7 408.5 C361 408.5 361.5 407.3 362.5 408.3 C363.5 409.3 365.2 410.7 366.6 414.7 C368.1 418.7 369.4 425.3 371.2 432.1 C373 438.9 375.9 453.4 377.6 455.3 C379.4 457.2 380.5 448.9 381.7 443.7 C382.9 438.5 383.8 430.2 384.6 424 C385.4 417.8 385.5 410.9 386.3 406.6 C387.1 402.4 388.5 400 389.2 398.5 C389.9 397 390.3 397.8 390.5 397.6 L399.9 397.6 L399.9 468.2 L372.4 468.2 L372.4 468.2 C372.2 465.7 372.2 458.8 371.2 453 C370.2 447.2 368.4 438.1 366.6 433.3 C364.9 428.5 361.7 425.6 360.7 424 Z" fill="#d3d0ec"/>
<path d="M334.5 427 C335.1 427.4 336.5 428.8 338 429.5 C339.5 430.2 341.8 431.8 343.5 431.5 C345.2 431.2 346.4 430 348 428 C349.6 426 351.5 422.2 353 419.5 C354.5 416.8 355.7 413.6 357 411.8 C358.3 410 360.1 409.1 360.7 408.5" stroke="#bdb9e0" fill="none" stroke-width="0.5" />
<path d="M334.5 436 C335.1 436.4 336.5 437.7 338 438.5 C339.5 439.3 341.8 441.1 343.5 441 C345.2 440.9 346.4 439.7 348 438 C349.6 436.3 351.5 433.1 353 431 C354.5 428.9 355.7 426.7 357 425.5 C358.3 424.3 360.1 424.2 360.7 424" stroke="#bdb9e0" fill="none" stroke-width="0.5" />
<path d="M334.5 431.5 C335.1 431.9 336.5 433.2 338 434 C339.5 434.8 341.8 436.4 343.5 436.2 C345.2 436 346.4 434.9 348 433 C349.6 431.1 351.5 427.4 353 425 C354.5 422.6 355.8 419.9 357 418.5 C358.2 417.1 358.8 416 360.2 416.5 C361.6 417 363.9 418.9 365.4 421.7 C366.8 424.5 367.7 428.5 368.9 433.3 C370.1 438.1 371.3 444.9 372.4 450.7 C373.5 456.5 374.8 465.1 375.3 468" stroke="#5f5cab" fill="none" stroke-width="0.85" />
<rect x="329.6" y="397.3" width="70.3" height="71.7" fill="none" stroke="#231f20" stroke-width="1.05"/>
<line x1="329.6" y1="397.6" x2="326.8" y2="397.6" stroke="#231f20" stroke-width="0.9" />
<line x1="329.6" y1="405.5" x2="326.8" y2="405.5" stroke="#231f20" stroke-width="0.9" />
<line x1="329.6" y1="413.4" x2="326.8" y2="413.4" stroke="#231f20" stroke-width="0.9" />
<line x1="329.6" y1="421.2" x2="326.8" y2="421.2" stroke="#231f20" stroke-width="0.9" />
<line x1="329.6" y1="429.1" x2="326.8" y2="429.1" stroke="#231f20" stroke-width="0.9" />
<line x1="329.6" y1="437" x2="326.8" y2="437" stroke="#231f20" stroke-width="0.9" />
<line x1="329.6" y1="444.9" x2="326.8" y2="444.9" stroke="#231f20" stroke-width="0.9" />
<line x1="329.6" y1="452.8" x2="326.8" y2="452.8" stroke="#231f20" stroke-width="0.9" />
<line x1="329.6" y1="460.6" x2="326.8" y2="460.6" stroke="#231f20" stroke-width="0.9" />
<line x1="329.6" y1="468.5" x2="326.8" y2="468.5" stroke="#231f20" stroke-width="0.9" />
<line x1="329.6" y1="469" x2="329.6" y2="471.6" stroke="#231f20" stroke-width="0.9" />
<line x1="337.4" y1="469" x2="337.4" y2="471.6" stroke="#231f20" stroke-width="0.9" />
<line x1="345.2" y1="469" x2="345.2" y2="471.6" stroke="#231f20" stroke-width="0.9" />
<line x1="353" y1="469" x2="353" y2="471.6" stroke="#231f20" stroke-width="0.9" />
<line x1="360.8" y1="469" x2="360.8" y2="471.6" stroke="#231f20" stroke-width="0.9" />
<line x1="368.7" y1="469" x2="368.7" y2="471.6" stroke="#231f20" stroke-width="0.9" />
<line x1="376.5" y1="469" x2="376.5" y2="471.6" stroke="#231f20" stroke-width="0.9" />
<line x1="384.3" y1="469" x2="384.3" y2="471.6" stroke="#231f20" stroke-width="0.9" />
<line x1="392.1" y1="469" x2="392.1" y2="471.6" stroke="#231f20" stroke-width="0.9" />
<line x1="399.9" y1="469" x2="399.9" y2="471.6" stroke="#231f20" stroke-width="0.9" />
<text x="365.2" y="382.8" font-size="8.5" textLength="41.7" lengthAdjust="spacingAndGlyphs" text-anchor="middle" stroke="#231f20" stroke-width="0.22">old – young</text>
<text x="364.8" y="392.2" font-size="8.5" text-anchor="middle" textLength="54.3" lengthAdjust="spacingAndGlyphs" stroke="#231f20" stroke-width="0.22"><tspan fill="#3c3490" stroke="#3c3490">MyP</tspan> Flux Func.</text>
<text x="337.4" y="481.3" font-size="8.1" text-anchor="middle" stroke="#231f20" stroke-width="0.22">0.4</text>
<text x="368.7" y="481.3" font-size="8.1" text-anchor="middle" stroke="#231f20" stroke-width="0.22">0.6</text>
<text x="399.9" y="481.3" font-size="8.1" text-anchor="middle" stroke="#231f20" stroke-width="0.22">0.8</text>
<text x="364.8" y="494.2" font-size="8.6" textLength="40" lengthAdjust="spacingAndGlyphs" text-anchor="middle" stroke="#231f20" stroke-width="0.22">Pseudotime</text>
<path d="M431.2 428.3 C431.5 429.2 432.3 431.8 433 433.8 C433.7 435.8 434.8 438.9 435.5 440.5 C436.2 442.1 436.6 444.5 437.3 443.4 C438 442.3 438.9 436.8 439.7 433.8 C440.5 430.8 441.4 428.3 442.1 425.3 C442.8 422.3 443.1 418.1 443.9 415.7 C444.7 413.3 445.6 412 446.9 410.9 C448.2 409.8 450.5 409.9 451.7 409.1 C452.9 408.3 453.5 407.7 454.1 406 C454.7 404.3 455.1 400.2 455.3 398.8 C455.6 397.4 455.6 397.8 455.6 397.6 L496 397.6 L496 468.2 L434.4 468.2 C434.3 466.7 433.9 463.3 433.6 459 C433.3 454.7 432.8 447.3 432.4 442.2 C432 437.1 431.4 430.6 431.2 428.3 Z" fill="#c0e4e5"/>
<rect x="492.2" y="397.6" width="3.8" height="70.6" fill="#cdebec" />
<path d="M431.2 428.3 C431.6 430.2 432.7 435.1 433.6 439.8 C434.5 444.5 435.9 453 436.7 456.7 C437.5 460.4 437.7 462.1 438.5 462.1 C439.3 462.1 440.4 461 441.5 456.7 C442.6 452.4 443.9 441.4 445.1 436.2 C446.3 431 447.6 426 448.7 425.6 C449.8 425.2 450.8 429.4 451.7 433.8 C452.6 438.2 453.5 446.1 454.1 451.8 C454.8 457.5 455.4 465.5 455.6 468.2" stroke="#3aaab0" fill="none" stroke-width="1.0" />
<line x1="491.2" y1="397.3" x2="491.2" y2="469" stroke="#6fb9bd" stroke-width="0.9" />
<rect x="425.9" y="397.3" width="70.1" height="71.7" fill="none" stroke="#231f20" stroke-width="1.05"/>
<line x1="425.9" y1="397.6" x2="423.1" y2="397.6" stroke="#231f20" stroke-width="0.9" />
<line x1="425.9" y1="405.5" x2="423.1" y2="405.5" stroke="#231f20" stroke-width="0.9" />
<line x1="425.9" y1="413.4" x2="423.1" y2="413.4" stroke="#231f20" stroke-width="0.9" />
<line x1="425.9" y1="421.2" x2="423.1" y2="421.2" stroke="#231f20" stroke-width="0.9" />
<line x1="425.9" y1="429.1" x2="423.1" y2="429.1" stroke="#231f20" stroke-width="0.9" />
<line x1="425.9" y1="437" x2="423.1" y2="437" stroke="#231f20" stroke-width="0.9" />
<line x1="425.9" y1="444.9" x2="423.1" y2="444.9" stroke="#231f20" stroke-width="0.9" />
<line x1="425.9" y1="452.8" x2="423.1" y2="452.8" stroke="#231f20" stroke-width="0.9" />
<line x1="425.9" y1="460.6" x2="423.1" y2="460.6" stroke="#231f20" stroke-width="0.9" />
<line x1="425.9" y1="468.5" x2="423.1" y2="468.5" stroke="#231f20" stroke-width="0.9" />
<line x1="425.9" y1="469" x2="425.9" y2="471.6" stroke="#231f20" stroke-width="0.9" />
<line x1="433.7" y1="469" x2="433.7" y2="471.6" stroke="#231f20" stroke-width="0.9" />
<line x1="441.5" y1="469" x2="441.5" y2="471.6" stroke="#231f20" stroke-width="0.9" />
<line x1="449.3" y1="469" x2="449.3" y2="471.6" stroke="#231f20" stroke-width="0.9" />
<line x1="457.1" y1="469" x2="457.1" y2="471.6" stroke="#231f20" stroke-width="0.9" />
<line x1="464.8" y1="469" x2="464.8" y2="471.6" stroke="#231f20" stroke-width="0.9" />
<line x1="472.6" y1="469" x2="472.6" y2="471.6" stroke="#231f20" stroke-width="0.9" />
<line x1="480.4" y1="469" x2="480.4" y2="471.6" stroke="#231f20" stroke-width="0.9" />
<line x1="488.2" y1="469" x2="488.2" y2="471.6" stroke="#231f20" stroke-width="0.9" />
<line x1="496" y1="469" x2="496" y2="471.6" stroke="#231f20" stroke-width="0.9" />
<text x="461.4" y="382.8" font-size="8.5" textLength="41.7" lengthAdjust="spacingAndGlyphs" text-anchor="middle" stroke="#231f20" stroke-width="0.22">old – young</text>
<text x="460.9" y="392.2" font-size="8.5" text-anchor="middle" textLength="54.3" lengthAdjust="spacingAndGlyphs" stroke="#231f20" stroke-width="0.22"><tspan fill="#2fb0bd" stroke="#2fb0bd">LyP</tspan> Flux Func.</text>
<text x="433.7" y="481.3" font-size="8.1" text-anchor="middle" stroke="#231f20" stroke-width="0.22">0.4</text>
<text x="464.8" y="481.3" font-size="8.1" text-anchor="middle" stroke="#231f20" stroke-width="0.22">0.6</text>
<text x="496" y="481.3" font-size="8.1" text-anchor="middle" stroke="#231f20" stroke-width="0.22">0.8</text>
<text x="460.9" y="494.2" font-size="8.6" textLength="40" lengthAdjust="spacingAndGlyphs" text-anchor="middle" stroke="#231f20" stroke-width="0.22">Pseudotime</text>
<line x1="458" y1="454.7" x2="461.6" y2="454.7" stroke="#333" stroke-width="1.4" />
<text x="464.7" y="456.2" font-size="6.5" textLength="21.1" lengthAdjust="spacingAndGlyphs" stroke="#231f20" stroke-width="0.22">median</text>
<rect x="458" y="459.1" width="3.6" height="4.4" fill="#c4c8c8" />
<text x="464.7" y="462.8" font-size="6.5" textLength="24.7" lengthAdjust="spacingAndGlyphs" stroke="#231f20" stroke-width="0.22">max-min</text>
<text x="6.6" y="521.8" font-size="10.8" fill="#000" font-weight="bold">G</text>
<line x1="47.1" y1="533.2" x2="47.1" y2="612.7" stroke="#231f20" stroke-width="0.9" />
<line x1="46.6" y1="612.2" x2="126" y2="612.2" stroke="#231f20" stroke-width="0.9" />
<line x1="47.1" y1="535.5" x2="44.1" y2="535.5" stroke="#231f20" stroke-width="0.9" />
<text x="40.5" y="538.4" font-size="8.3" text-anchor="end" stroke="#231f20" stroke-width="0.22">40</text>
<line x1="47.1" y1="553.9" x2="44.1" y2="553.9" stroke="#231f20" stroke-width="0.9" />
<text x="40.5" y="556.8" font-size="8.3" text-anchor="end" stroke="#231f20" stroke-width="0.22">30</text>
<line x1="47.1" y1="572.1" x2="44.1" y2="572.1" stroke="#231f20" stroke-width="0.9" />
<text x="40.5" y="575" font-size="8.3" text-anchor="end" stroke="#231f20" stroke-width="0.22">20</text>
<line x1="47.1" y1="590.2" x2="44.1" y2="590.2" stroke="#231f20" stroke-width="0.9" />
<text x="40.5" y="593.1" font-size="8.3" text-anchor="end" stroke="#231f20" stroke-width="0.22">10</text>
<line x1="47.1" y1="608.3" x2="44.1" y2="608.3" stroke="#231f20" stroke-width="0.9" />
<text x="40.5" y="611.2" font-size="8.3" text-anchor="end" stroke="#231f20" stroke-width="0.22">0</text>
<line x1="50.9" y1="612.2" x2="50.9" y2="614.8" stroke="#231f20" stroke-width="0.9" />
<line x1="69.1" y1="612.2" x2="69.1" y2="614.8" stroke="#231f20" stroke-width="0.9" />
<line x1="87.3" y1="612.2" x2="87.3" y2="614.8" stroke="#231f20" stroke-width="0.9" />
<line x1="105.5" y1="612.2" x2="105.5" y2="614.8" stroke="#231f20" stroke-width="0.9" />
<line x1="123.7" y1="612.2" x2="123.7" y2="614.8" stroke="#231f20" stroke-width="0.9" />
<path d="M114 542.4h0M117.9 575.1h0M119 559.5h0M110 555.6h0M119.2 552.3h0M118.7 576.6h0M111.2 549.1h0M115.4 576.2h0M112.6 548.9h0M120.5 546.3h0M106.4 560.6h0M112.3 574.2h0M115 576.6h0M121.7 544.3h0M121.2 568h0M115.3 567.7h0M119.3 549h0M111.4 577.7h0M107.7 538.7h0M112.2 568.3h0M109.4 566.3h0M110.9 553.8h0M114.8 578.3h0M111.3 540.5h0M113.9 548.4h0M117.7 562.7h0M120 567h0M115.3 563.9h0M119.4 579.5h0M117 553.8h0M118.9 573.9h0M118.2 560.7h0M118.6 568.4h0M106.9 562.1h0M115.9 551.4h0M110.7 547.8h0M108.1 554.8h0M119.9 538.1h0M116.5 570.7h0M115.9 556.9h0M121.4 542.9h0M111.2 541.2h0M106.8 579.7h0M108.1 554.1h0M118.1 559.8h0M115.7 571.5h0M108.9 571.5h0M107.4 569.2h0M116 539.9h0M113.6 565.6h0M109.5 570.3h0M113.3 541.8h0M117.7 549.5h0M108.8 567.9h0M114.2 557.6h0M121.7 559.9h0M106.2 572.3h0M121.9 553.1h0M108.3 543.5h0M114.2 572h0M119.3 539.5h0M108.9 572.9h0M119.3 555.6h0M110.9 538.9h0M113.7 570.8h0M117.4 554.7h0M119.7 555.3h0M108 538.1h0M107.3 578.3h0M115.5 573.8h0M109.7 553.1h0M108.8 543.6h0M114.4 576.9h0M120.5 558.5h0M119.6 572.2h0M121 542.4h0M116.7 564.8h0M114 553.1h0M108.8 550.1h0M118.2 573.2h0M115.6 542.4h0M120.2 557.8h0M114.2 564.4h0M112.9 542.9h0M118.4 578.9h0M106.2 573.9h0M119.9 579.7h0M116.8 575h0M109.8 567.9h0M120.1 556h0M107.4 554.5h0M121.7 541.4h0M111.9 545.9h0M112.8 542.1h0M112 547.2h0M106.6 544.4h0M114.4 558.7h0M110.1 556.7h0M117.7 539.6h0M107.3 574.3h0M106.7 540.3h0M113.7 557.9h0M120.4 565.4h0M109.1 575.6h0M106.3 565.7h0M116.6 579.2h0M117.3 562.9h0M121.7 561.9h0M118.2 578.4h0M120.7 565.1h0M117.3 575.8h0M115.1 540.9h0M119.4 552.2h0M115.7 554.2h0M117 547h0M117.5 563.5h0M116.8 576.5h0M120.8 564h0M116.1 577.6h0M111 562.3h0M110.1 567.4h0M119 572h0M120.7 571.2h0M108 555h0M121.1 560.5h0M114 555.3h0M108.7 541.6h0M119 569.5h0M121.6 548.2h0M110.9 570.4h0M121.7 553.8h0M115.6 548.4h0M116.5 555.4h0M113.2 555.9h0M115.5 546.6h0M112.3 570.8h0M109.3 557h0M119.7 566h0M114.7 557.9h0M116.1 552.3h0" stroke="#c4c4c4" stroke-width="0.8" stroke-linecap="round" stroke-opacity="0.35" fill="none"/>
<path d="M61.3 605.9 C62.8 605.6 67.3 605.1 70 604.3 C72.7 603.5 75.5 602.5 77.7 601 C79.9 599.5 81.4 597.5 83 595.3 C84.6 593.1 85.7 591.9 87.5 587.9 C89.3 583.9 91.8 577 94 571.6 C96.2 566.1 98.8 558.9 100.6 555.2 C102.3 551.5 103.4 550.5 104.5 549.3 C105.6 548.1 106.2 547.9 107.1 547.9 C108 547.9 109.2 548.3 110 549 C110.8 549.7 110.8 549.8 112 551.9 C113.2 554 115.5 559.1 116.9 561.8 C118.3 564.5 119.7 567.2 120.2 568.3 L120.2 572.7 C119.7 571.6 118.3 568.9 116.9 566.2 C115.5 563.5 113.2 558.4 112 556.3 C110.8 554.2 110.8 554.1 110 553.4 C109.2 552.7 108 552.3 107.1 552.3 C106.2 552.4 105.6 552.5 104.5 553.7 C103.4 554.9 102.3 555.9 100.6 559.6 C98.8 563.3 96.2 570.5 94 576 C91.8 581.5 89.3 588.4 87.5 592.3 C85.7 596.3 84.6 597.5 83 599.7 C81.4 601.9 79.9 603.9 77.7 605.4 C75.5 606.9 72.7 608.1 70 608.7 C67.3 609.3 62.8 609 61.3 609 Z" fill="#f4e6f4" fill-opacity="0.9" stroke="none" stroke-width="0.5"/>
<path d="M61.3 606.1 C63.6 605.8 70.9 605.3 75 604.5 C79.1 603.7 83.3 602.5 85.8 601.2 C88.3 600 88.6 598.6 90 597 C91.4 595.4 92.7 593.7 94 591.4 C95.3 589.1 96.6 586.1 98 583 C99.4 579.9 101 575.7 102.2 572.9 C103.5 570 104.4 567.7 105.5 565.6 C106.6 563.6 107.4 562.2 108.7 560.6 C110 559 112.1 556.9 113.6 556.1 C115.1 555.3 116.6 555.7 117.7 555.9 C118.8 556 119.8 556.8 120.2 557 L120.2 569 C119.8 568.7 118.8 567.5 117.7 567 C116.6 566.4 115.1 565.3 113.6 565.5 C112.1 565.7 110 567.1 108.7 568.1 C107.4 569.2 106.6 570.2 105.5 571.8 C104.4 573.4 103.5 575.2 102.2 577.7 C101 580.3 99.4 584.1 98 587 C96.6 589.9 95.3 593.1 94 595.4 C92.7 597.7 91.4 599.4 90 601 C88.6 602.6 88.3 604 85.8 605.2 C83.3 606.5 79.1 607.9 75 608.5 C70.9 609.1 63.6 608.9 61.3 609 Z" fill="#dcefe2" fill-opacity="0.9" stroke="none" stroke-width="0.5"/>
<rect x="61.3" y="600.5" width="14" height="7.6" fill="#f3eaf3" fill-opacity="0.8"/>
<line x1="50.7" y1="608.4" x2="118.5" y2="608.4" stroke="#9fd0b0" stroke-width="0.8" />
<path d="M61.3 608.1 C62.8 607.8 67.3 607.3 70 606.5 C72.7 605.7 75.5 604.7 77.7 603.2 C79.9 601.7 81.4 599.7 83 597.5 C84.6 595.3 85.7 594.1 87.5 590.1 C89.3 586.1 91.8 579.2 94 573.8 C96.2 568.3 98.8 561.1 100.6 557.4 C102.3 553.7 103.4 552.7 104.5 551.5 C105.6 550.3 106.2 550.1 107.1 550.1 C108 550.1 109.2 550.5 110 551.2 C110.8 551.9 110.8 552 112 554.1 C113.2 556.2 115.5 561.3 116.9 564 C118.3 566.7 119.7 569.4 120.2 570.5" stroke="#cc8fcc" fill="none" stroke-width="0.9" />
<path d="M61.3 608.1 C63.6 607.8 70.9 607.3 75 606.5 C79.1 605.7 83.3 604.5 85.8 603.2 C88.3 602 88.6 600.6 90 599 C91.4 597.4 92.7 595.7 94 593.4 C95.3 591.1 96.6 588 98 585 C99.4 582 101 578.1 102.2 575.4 C103.5 572.7 104.4 570.8 105.5 569 C106.6 567.2 107.4 566 108.7 564.8 C110 563.5 112.1 561.9 113.6 561.5 C115.1 561.1 116.6 561.9 117.7 562.3 C118.8 562.7 119.8 563.7 120.2 564" stroke="#62ad82" fill="none" stroke-width="0.9" />
<text x="50.8" y="625" font-size="8.3" text-anchor="middle" stroke="#231f20" stroke-width="0.22">0.0</text>
<text x="86.9" y="625" font-size="8.3" text-anchor="middle" stroke="#231f20" stroke-width="0.22">0.2</text>
<text x="122.9" y="625" font-size="8.3" text-anchor="middle" stroke="#231f20" stroke-width="0.22">0.4</text>
<text x="87.2" y="637.1" font-size="8.6" text-anchor="middle" textLength="61.5" lengthAdjust="spacingAndGlyphs" stroke="#231f20" stroke-width="0.22">Pseudotime (<tspan fill="#cdc36a" stroke="#cdc36a">HSC</tspan>)</text>
<text x="26.6" y="571.7" font-size="9.0" text-anchor="middle" transform="rotate(-90 26.6 571.7)" textLength="44.4" lengthAdjust="spacingAndGlyphs" stroke="#231f20" stroke-width="0.22"><tspan font-style="italic">Cebpa</tspan> (CPM)</text>
<text x="50.7" y="541.1" font-size="8.2" font-style="italic" textLength="30.5" lengthAdjust="spacingAndGlyphs" stroke="#231f20" stroke-width="0.22">*1.03x10</text>
<text x="81.4" y="537.5" font-size="5.0" font-style="italic" stroke="#231f20" stroke-width="0.22">−7</text>
<text x="73.6" y="550.9" font-size="8.2" textLength="13" lengthAdjust="spacingAndGlyphs" font-style="italic" stroke="#231f20" stroke-width="0.22">k=4</text>
<line x1="176.1" y1="533.2" x2="176.1" y2="612.7" stroke="#231f20" stroke-width="0.9" />
<line x1="175.7" y1="612.2" x2="254.7" y2="612.2" stroke="#231f20" stroke-width="0.9" />
<line x1="176.1" y1="535.2" x2="173.1" y2="535.2" stroke="#231f20" stroke-width="0.9" />
<text x="170.5" y="538.1" font-size="8.3" text-anchor="end" stroke="#231f20" stroke-width="0.22">150</text>
<line x1="176.1" y1="559.7" x2="173.1" y2="559.7" stroke="#231f20" stroke-width="0.9" />
<text x="170.5" y="562.6" font-size="8.3" text-anchor="end" stroke="#231f20" stroke-width="0.22">100</text>
<line x1="176.1" y1="584" x2="173.1" y2="584" stroke="#231f20" stroke-width="0.9" />
<text x="170.5" y="586.9" font-size="8.3" text-anchor="end" stroke="#231f20" stroke-width="0.22">50</text>
<line x1="176.1" y1="608.4" x2="173.1" y2="608.4" stroke="#231f20" stroke-width="0.9" />
<text x="170.5" y="611.3" font-size="8.3" text-anchor="end" stroke="#231f20" stroke-width="0.22">0</text>
<line x1="179.7" y1="612.2" x2="179.7" y2="614.8" stroke="#231f20" stroke-width="0.9" />
<line x1="197.7" y1="612.2" x2="197.7" y2="614.8" stroke="#231f20" stroke-width="0.9" />
<line x1="215.7" y1="612.2" x2="215.7" y2="614.8" stroke="#231f20" stroke-width="0.9" />
<line x1="234.5" y1="612.2" x2="234.5" y2="614.8" stroke="#231f20" stroke-width="0.9" />
<line x1="253.2" y1="612.2" x2="253.2" y2="614.8" stroke="#231f20" stroke-width="0.9" />
<path d="M224.7 562.5h0M243.9 554.7h0M204.2 555.6h0M232.5 569.1h0M188.3 586.2h0M240.8 568.9h0M230.4 567.7h0M216.4 551.9h0M202.1 563.9h0M234.3 604.9h0M201.5 553.8h0M206.2 544.9h0M201.4 548h0M190 578.7h0M211.7 599.1h0M218.2 540.3h0M222.8 557.4h0M244.4 598.5h0M197 545.5h0M222.7 578.7h0M216 571.5h0M190.2 554.1h0M224.9 588.1h0M193.4 550.1h0M233 546.1h0M231.2 542.3h0M233.2 602.3h0M206 551.6h0M241.6 547.9h0M188.3 562.8h0M241.5 550.7h0M222.9 569.7h0M235.6 542.7h0M207.8 552.6h0M216.9 585.5h0M196 576.9h0M193.3 598.7h0M195 544.6h0M209.2 581.6h0M231.9 570.9h0M221.4 558.7h0M196.3 565.5h0M216.8 596.7h0M242.9 606h0M193.3 579.2h0M239.5 581.6h0M225.1 543.3h0M228.5 540.2h0M243.2 576.7h0M207.2 542.9h0M215.6 605.5h0M231.6 546.1h0M246 546.3h0M230.4 578.4h0M237.8 571.2h0M200.6 583.4h0M188.1 585.9h0M236.7 561.4h0M235.4 552.8h0M238.3 572.6h0M230.6 549.3h0M219.6 572.9h0M221.1 593.4h0M215.6 545.3h0M190.4 580h0M245.9 540.2h0M216.1 591.5h0M194.1 586.3h0M201.2 594h0M247.4 591.9h0M222.5 585.6h0M222.5 581.2h0M210.3 561.2h0M212.4 549h0M240.4 602.2h0M226.1 602.5h0M203.1 560.9h0M222.2 602.4h0M222.2 578.9h0M188.1 550.9h0M227.1 548.2h0M210.2 565.5h0M245.6 565.8h0M204.7 557h0M212.1 563.9h0M234.9 557.4h0M243.5 606.6h0M243 544h0M190.8 590.4h0M245.8 550h0M194.1 569.7h0M227.8 556.6h0M196.5 581.9h0M233.5 588.2h0M213.6 567.8h0M233.6 578.1h0M230.4 588.8h0M188.4 553.2h0M197.5 605.1h0M197.5 605.4h0M228 573.6h0M208.3 544.9h0M247.4 583h0M245.4 582h0M217.9 566.7h0M237.1 541.7h0M229.7 551.5h0M203 546.1h0M198.4 565.8h0M225.8 551.7h0M212.2 572.4h0M235.1 587.8h0M226.5 588.1h0M244.2 605.2h0M193.7 597.9h0M209.4 555.7h0M237.6 559.3h0M204.4 571.8h0M194.4 582.1h0M209.1 586.6h0M196.7 551h0M226.2 581.5h0M191.2 589.2h0M197 581.5h0M201.2 596.7h0M241.7 548.6h0M211.1 546.9h0M232.2 549.8h0M225 555.2h0M201.6 594.2h0M193.2 551.2h0M194.1 543.2h0M239.1 579.2h0M209 542h0M219.1 596.9h0M202 585.5h0M188.2 548.5h0M222.7 578.9h0M221.6 590.5h0M227.9 570.1h0M193.2 576.3h0M238.8 606.5h0M225.8 576.7h0M208.6 598.4h0M229.1 543h0M239.3 569.4h0M194.3 551.9h0M190.4 595.4h0M247.2 602.2h0M234.4 555.3h0M243 605.1h0M232.4 592.9h0M194.7 560.3h0M247.1 550.7h0M241.5 601h0M196.3 584.5h0M227.9 585.6h0M227.3 605.5h0M189 597.2h0M212.1 576.9h0M213.6 584.8h0M194 582.6h0M202.3 538.3h0M204.1 546.7h0M194.6 544h0M192.2 583.2h0M212.8 605.2h0M205.6 586.7h0M191.6 564.2h0M191.8 546.7h0M244.6 590.5h0M226.6 558.7h0M196.9 582.8h0M222.7 540.7h0M199.9 588.3h0M204.9 555.8h0M208.4 597.8h0M198 578.4h0M225.3 553.6h0M222.1 598.4h0M218 580.3h0M210.2 588.5h0M204.3 605.1h0M210.4 571.9h0M229.6 588.1h0M205.2 600.5h0M219.9 555.8h0M214.2 561.3h0M243.6 600.4h0M246.3 551h0M227 575.6h0M190.2 589.6h0M242.1 587.1h0M208.7 553.4h0M234.5 572.8h0M217.9 570.9h0M204.6 569.4h0M205.4 582.3h0M188.6 543.8h0M217.9 552.4h0M211.3 559.3h0M197.5 569.9h0M239.9 580.3h0M224.3 550.6h0M234.4 541.6h0M234.5 566.2h0M231.1 597.8h0M232.4 559.9h0M247.6 585.3h0M216.2 543.1h0M242.9 577.1h0M214.6 545.2h0M234.2 561.5h0M206 562.1h0M239.1 555h0M207.4 547.2h0M205.2 584h0M204.5 563.3h0M215.7 598.7h0M203.1 551.7h0M196.8 586.3h0M208.8 557.3h0M218.8 545.1h0M244.1 562.3h0M224 597.6h0M221 591.4h0M234.7 549.1h0M211 540.6h0M192.5 555.7h0M195.2 553.7h0M240.7 592.8h0M196.9 566.8h0M192 574.5h0M192.9 585.4h0M213.6 601.9h0M225.1 542.9h0M193.9 562.3h0M200 541.8h0M225.5 581.6h0M225.9 566.9h0M189.2 560.8h0M224.9 577.4h0M223.9 566.1h0M231.2 582h0M215.1 558.6h0M214.3 538.6h0M227.8 604.2h0M233.2 542.8h0M216.9 593.4h0M204.6 568.7h0M242.6 559.8h0M222.8 586.2h0M233.4 556.2h0M223.3 554.2h0M248.4 602.2h0M199.9 550h0M224.6 601.1h0M194.2 561.9h0M223.4 581.9h0M208.4 585.8h0M228.1 551.5h0M204.9 556.7h0M222.6 581.9h0M235.4 547.6h0M200.1 542.8h0M234.3 539.1h0M189.1 601.4h0M245.2 593.7h0M220.1 606.5h0M247.6 556.9h0M217 578.8h0M204.4 563.6h0M229.7 593.7h0M216 562.5h0M205.6 597.2h0M212.8 584.6h0M240.2 555.4h0M200.8 544.1h0M195.3 572.1h0M189.5 603.5h0M230.7 599.3h0M199.5 586h0M203.8 567.6h0M232.9 574.7h0M189.7 593.8h0M238.9 591.9h0M212.4 562.6h0M233.8 589.1h0M238.7 588.4h0M209.4 559.8h0M234.3 563.6h0M224.4 589.9h0M208.2 561.4h0M237.5 596.6h0M211.7 582h0M194 571.8h0M212.1 581.1h0M200.4 549.8h0M219.9 559.5h0M221.5 586.4h0M230.2 575.6h0M244.7 601.3h0M225.6 592h0M191.8 550.8h0M196.9 561.9h0M231.3 575.7h0M193.9 563h0M239.7 539.6h0M197.9 566h0M234.2 554.4h0M212.3 570.3h0M225.5 568h0M197.9 572.9h0M226.8 550.2h0M217.9 589.7h0M230.4 600.2h0M204.5 575.5h0M213.2 538.4h0M233.9 570h0M233.6 576.3h0M233.1 560.5h0M193.4 587.4h0M248.2 539.4h0M216.8 584.6h0M211.5 557.9h0M211.1 565.9h0M227 545.1h0M238.4 544.4h0M190.2 578.9h0M233.1 567.9h0M224.3 570.9h0M210.6 559.6h0M207.3 578.3h0M190.5 562.8h0M243.5 572h0M216.4 604h0M234.1 541.8h0M192 581.3h0M225.1 597.9h0M201.5 605.5h0M237.8 574.6h0M234 574.6h0M239 586.9h0M200.9 557.1h0M230.8 574.3h0M200.6 594h0M244.1 583.8h0M209.3 541.6h0M201.5 590.6h0M221.7 542.5h0M229.1 596.1h0M235.7 556.2h0M235.9 574.3h0M224.4 573.2h0M205.3 586.5h0M227.8 570.4h0M206.8 572.3h0M212.9 602.9h0M196.2 561.9h0M240.7 580.3h0M244.2 597.2h0M223.5 596.1h0M204.1 555.4h0M237 605h0M246.4 539.9h0M224.2 569.1h0M232.2 588.1h0M242.2 585.3h0M198.2 565.8h0M236.8 570.9h0M195.8 540.3h0M225.9 601.6h0M246.2 589h0M214.6 579.2h0M232.6 587.2h0M202.8 578.9h0M197.8 542h0M201.8 559.4h0M190.3 594.8h0M205.4 587.2h0M237.9 564.5h0M193.3 596.6h0M230.2 563.1h0M223.6 601.7h0M199.7 597.9h0M211.5 546.4h0M242.1 560.4h0M212.7 553.1h0M231.1 601.8h0M236.5 597.3h0M238.7 553.7h0M219.8 538.2h0M213.2 582.6h0M204 556.1h0M212.1 548.4h0M196.1 598.3h0M215.4 554.7h0M242.9 544.1h0M231.9 593.1h0M245.4 569.8h0M220.7 550.8h0M190.1 538h0M211.6 570.6h0M243.4 557.4h0M231.5 545.7h0M202.1 587.2h0M247.8 597.8h0M222.8 582.2h0M209.8 599.9h0M202.5 586.8h0M194.1 570.3h0M237.2 540.5h0M213.2 557.4h0M220.7 561.8h0M206.6 580.1h0M190.2 570.4h0M236.1 558.2h0M217 572.9h0M224.9 577.1h0M245.9 601.4h0M207.2 593h0M201.5 596.1h0M195.6 557.2h0M244 573.3h0M195.2 598.3h0M243.3 550.1h0M243.3 546.7h0M208.4 581h0M230.3 557.2h0M230.2 563.9h0M193.2 578.6h0M239.8 597h0M199.7 563.3h0M188.1 550.8h0M235.9 555.2h0M192.4 596.1h0M229.7 545.7h0M237.6 591.2h0M219.5 606.6h0M189.5 576h0M210 589.2h0M239.8 587.5h0M230.7 596.3h0M237.3 600.8h0M208.8 589.9h0M247.7 582.2h0M211.7 563.4h0M218.3 546.7h0M221.9 545.3h0M230.7 565.1h0M234.1 594.3h0M207.5 566.3h0M199.2 576.4h0M239.7 589.5h0M203.7 566.3h0M203.7 600.8h0M190.1 597.6h0M189.6 580.6h0M195.5 569.4h0M208 602.5h0M197 569.8h0M237.8 574.6h0M214.1 543h0M248.9 576.7h0M191.6 587h0M222.1 580.5h0M248.9 579.2h0M241.1 606.6h0M212.4 554.7h0M242 603.4h0M248.7 606h0M197.1 564.6h0M218.1 574.8h0M189.9 554.6h0M198.7 572.4h0M213 597.8h0M189.4 602.3h0M231.2 585.9h0M237.3 604.8h0M220.7 549.8h0M195.7 586.1h0M232.9 572.1h0M241.1 540h0M225 542.3h0M191.2 574.6h0M194.2 541.9h0M233 587.7h0M234.3 548.8h0M206.5 573.9h0M218.4 562.6h0M225.6 548h0M247.6 580.6h0M239.7 557.1h0M239.6 595.6h0M233.9 593.9h0M229.2 566.9h0M218.2 583.3h0M248 603.1h0M195.7 576.3h0M230.5 590.5h0M226 548h0M189.7 570.8h0M241.4 583.6h0M222.3 588.8h0M239.7 592.1h0M234.3 598.6h0M195.5 590.4h0M212.6 580h0M243.8 602.4h0M246.3 579.6h0M218.5 603.1h0M200.1 569.4h0M221.6 566.3h0M227.2 565.2h0M240.8 547.9h0M232.6 541.6h0M191 543.7h0M212.5 543h0M242.2 593.7h0M196.9 592.7h0M195.3 600.1h0M235.3 575h0M196.7 606.3h0M203 598h0M237.8 598.8h0M194.7 598.2h0M238.6 604.1h0M200.1 549.7h0M244.7 552.4h0M242.9 579.3h0M216.5 573.4h0M241.5 562.2h0M226.4 586h0M202.2 572.4h0M242.6 572.8h0M231.5 573.5h0M189.4 548.5h0M199.6 596.1h0M204.5 539.4h0M248.9 558.3h0M240.8 584.3h0M219.4 569.1h0M242.3 563.7h0M228.6 551.9h0M236.3 589.5h0M247.2 605.1h0M237.7 606.3h0M201.7 586.9h0M234.8 567.7h0M234.5 605.1h0M189.6 600.9h0M210.6 567.9h0M201.2 603h0M219.6 591.7h0M189.1 542h0M198 592.6h0M228.9 599.9h0M226.8 557.8h0M207.1 599.3h0M230.4 548.5h0M208.8 589.4h0M205.8 580.6h0M229.5 542.1h0M194.2 589.6h0M209.6 598.1h0M206.2 604.7h0M211.1 550.8h0M205.5 567.6h0M236.4 587.9h0M189.5 580.4h0M219.4 592h0M209.5 548.4h0M200.6 604.7h0M235.2 545.7h0M248.1 603h0M246 578.2h0M218.4 547.7h0M241.5 539.9h0M240.2 584.9h0M240.9 586.4h0M218.2 585.7h0M248.3 547.1h0M234.6 558.8h0M243.4 547.3h0M224.4 595.1h0M220 595.7h0M227.1 579h0M204.7 567.1h0M192.2 605.2h0M239.3 562.8h0M193.6 539.2h0M199.7 583.7h0M188.9 572.6h0M228.9 545.8h0M218.6 567.2h0M195.1 601.1h0M204.5 583.6h0M212.4 569.4h0M233.3 578h0M197.4 575.5h0M239.7 561.2h0M225.1 547.4h0M238.7 557.8h0M188.1 556.7h0M246.6 599.6h0M198.8 572.3h0M236.1 569h0M213.2 538.2h0M228 589.7h0M241.2 555.6h0M225.5 591.9h0M248 578.7h0M240.5 601.2h0M238.7 572.7h0M241 601.6h0M189.5 566.5h0M217.9 553.3h0M246.4 605.8h0M236.7 552.1h0M227 550h0M215.7 551.7h0M192.1 567.4h0M213.1 572.6h0M241.9 552.3h0M226 578.7h0M198.5 602.3h0M243.6 575.2h0M188.6 580.5h0M196 560.6h0M234.4 562.8h0M232.7 566.6h0M202.3 587.8h0M217.1 586.9h0M204.8 595.8h0M190.9 577.8h0M241.4 571.4h0M239.9 577.2h0M222.7 606.2h0M222.8 566.8h0M219.5 591.1h0M222.6 595.3h0M223.5 570.6h0M247.7 547.2h0M242.4 601.8h0M219.5 568h0M241.3 538.3h0M196.6 603.4h0M223.2 571.3h0M198.8 538.3h0M225.6 597.9h0M200.3 593.6h0M234.2 543.3h0M241.7 572.4h0M246 593.3h0M219 595.6h0M240.1 559.5h0M205.8 563.7h0M209 591.4h0M246.1 577.1h0M239.3 601.5h0M208.2 595.9h0M227.3 550.6h0M196.7 603.1h0M226 580.6h0M205.3 588.1h0M190.8 568.4h0M209.2 538.9h0M216.3 541.9h0M197.4 550.4h0M248.4 590.4h0M195.5 548.3h0M244.6 583.4h0M189.7 540.1h0M188.7 589.5h0M201.5 542.9h0M200.2 544.9h0M237.8 539.2h0M228 539.5h0M195.7 567.2h0M222.3 553.8h0M199.8 566.3h0M234.9 549.3h0M198.3 542.4h0M216 590.5h0M242.8 548.8h0M210.5 570.8h0M196.6 557.7h0M230.8 543.7h0M224.9 568h0M215.4 606.7h0M198.3 583.3h0M228.5 589.4h0M244.5 584.8h0M247.4 551.6h0M199.7 601.3h0M236.9 544.9h0M244.5 598.6h0M213.8 579.7h0M203.7 542.9h0M246.4 555.1h0" stroke="#cfcfcf" stroke-width="0.75" stroke-linecap="round" stroke-opacity="0.3" fill="none"/>
<path d="M241.5 545.9h0M238.7 573.3h0M243.4 576.6h0M244.2 562.7h0M247.5 550.3h0M245.3 585.6h0M237.1 540.4h0M241.2 578.9h0M236.9 594.4h0M236.1 592.5h0M247.1 593.9h0M242.8 554.6h0M236.2 565.6h0M238.8 568h0M247.2 569.3h0M244.2 564.2h0M248 577.7h0M237.2 580.1h0M244.9 587.6h0M239.7 555.9h0M240.4 566h0M239.8 541.7h0M244.8 541h0M236.3 552.4h0M243.6 552h0M244.2 562.4h0M244.9 555.9h0M243.1 540.3h0M247 583.6h0M243.5 552.4h0M240.5 598.4h0M246.7 557.2h0M244.8 571.7h0M245 543.1h0M237.1 562h0M246.5 588.5h0M247.7 584.8h0M237.1 590.7h0M237.7 563.5h0M240.9 558.1h0M247.6 541.2h0M243.8 543.4h0M241.1 581.2h0M242.5 565.1h0M237.5 579.2h0M246.7 555.8h0M239.2 562.5h0M244.3 561.8h0M242.3 570.4h0M239 561.5h0M246.2 555.2h0M246.5 567.5h0M241.1 562.4h0M244.1 564.3h0M240.6 587.5h0M236.7 586.3h0M243.4 558.4h0M239.8 592.4h0M243.2 575h0M244.2 579.3h0M240.9 554.7h0M245.9 570h0M239.4 553.1h0M240.6 573.6h0M244.1 579.7h0M237.1 576.1h0M243.7 559.7h0M242.7 546h0M246.1 591.1h0M244.3 588.2h0M244.5 554.9h0M245.5 598.9h0M244.3 548.5h0M240.4 580.8h0M237.5 582.8h0M246.7 546.6h0M247 561.9h0M240.8 580.9h0M243.3 545.8h0M247.4 540.5h0M237.2 540.6h0M247.3 545.3h0M247.8 578.3h0M236.7 563h0M237.6 584.3h0M239 572.4h0M236.8 579h0M238 561.4h0M245.6 597.9h0M243.9 552.9h0M237.3 546.9h0M241 590.5h0M245.6 591.9h0M239.5 542.5h0M242.9 585.8h0M240.6 583.9h0M238.4 553.1h0M247 562.4h0M238.5 583.3h0M242.9 588.5h0M243 579.6h0M244.4 543.9h0M243.5 543.4h0M244 559.6h0M247.8 556.8h0M247.9 580.3h0M243.6 561h0M240.4 584.6h0M246.6 573h0M244.8 573.2h0M247.1 595.4h0M239.9 559.9h0M236.7 545.4h0M241.2 577.3h0M241.4 591.2h0M242.4 564.6h0M247.5 586.3h0M245.9 564.4h0M246 568.4h0M244.5 576.2h0M238.5 579.9h0M238.9 565.1h0M242 595.4h0M240.1 569.4h0M243.8 585.9h0M240 542.1h0M237.8 599.3h0M237.2 589.8h0M237.6 554.7h0M238.2 581.9h0M242.7 562.7h0M244.6 543.8h0M242.4 570.6h0M240.9 567.9h0M241.8 581.1h0M239.7 574.6h0M242.3 595.8h0M241.3 569.6h0M247.6 546.6h0M246.7 547.6h0M240.5 596h0M240.5 579.5h0M240.5 586.3h0M242.3 560.1h0M238.2 559.9h0M246.5 549.2h0M239.8 566.6h0M236.9 586.9h0M246.5 580h0M242.8 585.8h0" stroke="#c8c8c8" stroke-width="0.7" stroke-linecap="round" stroke-opacity="0.35" fill="none"/>
<path d="M179.7 582.7 C181.5 582.2 186.6 581 190.3 579.9 C194 578.8 199.9 576.5 201.8 575.8 L201.8 584.8 C199.9 585.5 194 587.8 190.3 588.9 C186.6 590 181.5 591.2 179.7 591.7 Z" fill="#d8eedd" fill-opacity="0.9" stroke="none" stroke-width="0.5"/>
<path d="M190.3 583.3 C191.7 582.4 195.8 580 198.5 577.9 C201.2 575.8 205.3 571.7 206.7 570.5 L206.7 585 C205.3 586.2 201.2 590.3 198.5 592.4 C195.8 594.5 191.7 596.9 190.3 597.8 Z" fill="#f4e8f4" fill-opacity="0.85" stroke="none" stroke-width="0.5"/>
<line x1="190.3" y1="608.1" x2="245.9" y2="608.1" stroke="#8fae9c" stroke-width="0.8" />
<path d="M190.3 589.8 C191.7 588.9 195.8 586.5 198.5 584.4 C201.2 582.3 203.7 580.4 206.7 577 C209.7 573.6 213.2 568.2 216.5 563.9 C219.8 559.5 223.9 554 226.3 550.9 C228.7 547.8 229.6 546.6 231 545.5 C232.4 544.4 232.8 543.9 234.5 544.3 C236.2 544.6 238.8 545.7 241 547.6 C243.2 549.5 246.4 554.4 247.5 555.8" stroke="#cc8fcc" fill="none" stroke-width="0.9" />
<path d="M179.7 587.2 C181.5 586.7 186.6 585.5 190.3 584.4 C194 583.2 198.2 582.1 201.8 580.3 C205.4 578.5 208.1 576.7 211.6 573.8 C215.1 570.9 220.1 565.6 223 563.1 C225.9 560.6 227.1 559.8 229 558.8 C230.9 557.8 232.5 557.2 234.5 557.4 C236.5 557.6 238.7 558.4 241 559.9 C243.3 561.4 247.1 565.3 248.3 566.4" stroke="#6aa283" fill="none" stroke-width="0.9" />
<text x="151.6" y="572.1" font-size="9.0" text-anchor="middle" transform="rotate(-90 151.6 572.1)" textLength="39.4" lengthAdjust="spacingAndGlyphs" stroke="#231f20" stroke-width="0.22"><tspan font-style="italic">Ikzf1</tspan> (CPM)</text>
<text x="179.7" y="540.3" font-size="8.2" font-style="italic" textLength="31.8" lengthAdjust="spacingAndGlyphs" stroke="#231f20" stroke-width="0.22">*&lt;2.2x10</text>
<text x="211.7" y="536.7" font-size="5.0" font-style="italic" stroke="#231f20" stroke-width="0.22">−16</text>
<text x="205" y="549.2" font-size="8.2" textLength="13" lengthAdjust="spacingAndGlyphs" font-style="italic" stroke="#231f20" stroke-width="0.22">k=4</text>
<line x1="302" y1="532.7" x2="302" y2="612.7" stroke="#231f20" stroke-width="0.9" />
<line x1="301.6" y1="612.2" x2="381.3" y2="612.2" stroke="#231f20" stroke-width="0.9" />
<line x1="302" y1="535.4" x2="299" y2="535.4" stroke="#231f20" stroke-width="0.9" />
<text x="295.8" y="538.3" font-size="8.3" text-anchor="end" stroke="#231f20" stroke-width="0.22">160</text>
<line x1="302" y1="555" x2="299" y2="555" stroke="#231f20" stroke-width="0.9" />
<text x="295.8" y="557.9" font-size="8.3" text-anchor="end" stroke="#231f20" stroke-width="0.22">120</text>
<line x1="302" y1="574.6" x2="299" y2="574.6" stroke="#231f20" stroke-width="0.9" />
<text x="295.8" y="577.5" font-size="8.3" text-anchor="end" stroke="#231f20" stroke-width="0.22">80</text>
<line x1="302" y1="594.2" x2="299" y2="594.2" stroke="#231f20" stroke-width="0.9" />
<text x="295.8" y="597.1" font-size="8.3" text-anchor="end" stroke="#231f20" stroke-width="0.22">40</text>
<line x1="313.9" y1="612.2" x2="313.9" y2="614.8" stroke="#231f20" stroke-width="0.9" />
<line x1="329.4" y1="612.2" x2="329.4" y2="614.8" stroke="#231f20" stroke-width="0.9" />
<line x1="345.8" y1="612.2" x2="345.8" y2="614.8" stroke="#231f20" stroke-width="0.9" />
<line x1="361.8" y1="612.2" x2="361.8" y2="614.8" stroke="#231f20" stroke-width="0.9" />
<line x1="378.1" y1="612.2" x2="378.1" y2="614.8" stroke="#231f20" stroke-width="0.9" />
<rect x="309.8" y="540" width="5" height="70" fill="#f2f2f2" />
<path d="M310.6 548 C311.5 546.7 313.7 541.9 316 540 C318.3 538.1 322.2 537.2 324.5 536.5 C326.8 535.8 327.4 534.9 330 535.5 C332.6 536.1 336.7 537.9 340 540 C343.3 542.1 346.7 546 350 548 C353.3 550 357 551.1 360 552 C363 552.9 366.5 553.2 367.8 553.5 L367.8 598 C366.5 596.7 363 593.3 360 590 C357 586.7 353.3 581.8 350 578 C346.7 574.2 343.3 569.8 340 567 C336.7 564.2 332.6 562.2 330 561 C327.4 559.8 326.8 559.8 324.5 560 C322.2 560.2 318.3 560.7 316 562 C313.7 563.3 311.5 567 310.6 568 Z" fill="#dcede0" fill-opacity="0.9" stroke="none" stroke-width="0.5"/>
<path d="M310.6 552 C311.5 551 313.7 547.2 316 546 C318.3 544.8 322.2 544.7 324.5 545 C326.8 545.3 327.4 546.2 330 548 C332.6 549.8 336.7 553 340 556 C343.3 559 346.7 563 350 566 C353.3 569 357 571.7 360 574 C363 576.3 366.5 579 367.8 580 L367.8 604.8 C366 603.7 361.7 601.6 357.2 598.3 C352.7 595 346.2 589.3 340.8 585.2 C335.4 581.1 329.5 576.8 324.5 573.8 C319.5 570.8 312.9 568.1 310.6 567 Z" fill="#f0e3f2" fill-opacity="0.9" stroke="none" stroke-width="0.5"/>
<path d="M310.6 552 C311.5 551 313.7 547.2 316 546 C318.3 544.8 322.2 544.7 324.5 545 C326.8 545.3 327.4 546.2 330 548 C332.6 549.8 336.7 553 340 556 C343.3 559 346.7 563 350 566 C353.3 569 357 571.7 360 574 C363 576.3 366.5 579 367.8 580 L367.8 598 C366.5 596.7 363 593.3 360 590 C357 586.7 353.3 581.8 350 578 C346.7 574.2 343.3 569.8 340 567 C336.7 564.2 332.6 562.2 330 561 C327.4 559.8 326.8 559.8 324.5 560 C322.2 560.2 318.3 560.7 316 562 C313.7 563.3 311.5 567 310.6 568 Z" fill="#cfcfcf" fill-opacity="0.5"/>
<path d="M310.6 559.9 C311.6 558.7 314 554.3 316.3 552.5 C318.6 550.7 322.3 549.8 324.5 549.2 C326.7 548.6 327.5 548.6 329.4 548.9 C331.3 549.2 333.2 549.5 335.9 550.9 C338.6 552.3 342.5 554.9 345.8 557.4 C349.1 559.9 351.9 562.4 355.6 565.6 C359.3 568.8 365.8 574.9 367.8 576.7" stroke="#6f8a78" fill="none" stroke-width="0.9" />
<path d="M310.6 559.9 C311.6 559.1 314.2 556.1 316.3 555 C318.4 553.9 321 553.3 322.9 553.3 C324.8 553.3 325.6 553.5 327.8 555 C330 556.5 332.9 558.9 335.9 562.3 C338.9 565.7 342.5 571 345.8 575.4 C349.1 579.8 351.9 584.7 355.6 588.5 C359.3 592.3 365.8 596.7 367.8 598.3" stroke="#8d6a96" fill="none" stroke-width="0.9" />
<text x="313.9" y="624.2" font-size="8.3" text-anchor="middle" stroke="#231f20" stroke-width="0.22">0.4</text>
<text x="345.8" y="624.2" font-size="8.3" text-anchor="middle" stroke="#231f20" stroke-width="0.22">0.6</text>
<text x="378.1" y="624.2" font-size="8.3" text-anchor="middle" stroke="#231f20" stroke-width="0.22">0.8</text>
<text x="341.4" y="636.6" font-size="8.6" text-anchor="middle" textLength="60.5" lengthAdjust="spacingAndGlyphs" stroke="#231f20" stroke-width="0.22">Pseudotime (<tspan fill="#4a45a0" stroke="#4a45a0">MyP</tspan>)</text>
<text x="277.4" y="572.1" font-size="9.0" text-anchor="middle" transform="rotate(-90 277.4 572.1)" textLength="36.8" lengthAdjust="spacingAndGlyphs" stroke="#231f20" stroke-width="0.22"><tspan font-style="italic">Myc</tspan> (CPM)</text>
<text x="306.5" y="597.4" font-size="8.2" font-style="italic" textLength="28" lengthAdjust="spacingAndGlyphs" stroke="#231f20" stroke-width="0.22">3.64x10</text>
<text x="334.7" y="593.8" font-size="5.0" font-style="italic" stroke="#231f20" stroke-width="0.22">−1</text>
<text x="327" y="607.2" font-size="8.2" textLength="13" lengthAdjust="spacingAndGlyphs" font-style="italic" stroke="#231f20" stroke-width="0.22">k=3</text>
<line x1="427.5" y1="533.7" x2="427.5" y2="612.7" stroke="#231f20" stroke-width="0.9" />
<line x1="427.1" y1="612.2" x2="504.7" y2="612.2" stroke="#231f20" stroke-width="0.9" />
<line x1="427.5" y1="535.4" x2="424.5" y2="535.4" stroke="#231f20" stroke-width="0.9" />
<text x="421.5" y="538.3" font-size="8.3" text-anchor="end" stroke="#231f20" stroke-width="0.22">400</text>
<line x1="427.5" y1="564.8" x2="424.5" y2="564.8" stroke="#231f20" stroke-width="0.9" />
<text x="421.5" y="567.7" font-size="8.3" text-anchor="end" stroke="#231f20" stroke-width="0.22">300</text>
<line x1="427.5" y1="594.2" x2="424.5" y2="594.2" stroke="#231f20" stroke-width="0.9" />
<text x="421.5" y="597.1" font-size="8.3" text-anchor="end" stroke="#231f20" stroke-width="0.22">200</text>
<line x1="438.9" y1="612.2" x2="438.9" y2="614.8" stroke="#231f20" stroke-width="0.9" />
<line x1="455.2" y1="612.2" x2="455.2" y2="614.8" stroke="#231f20" stroke-width="0.9" />
<line x1="471.6" y1="612.2" x2="471.6" y2="614.8" stroke="#231f20" stroke-width="0.9" />
<line x1="487.9" y1="612.2" x2="487.9" y2="614.8" stroke="#231f20" stroke-width="0.9" />
<line x1="504.2" y1="612.2" x2="504.2" y2="614.8" stroke="#231f20" stroke-width="0.9" />
<rect x="436" y="545" width="5" height="65" fill="#f3f3f3" />
<path d="M436.4 555 C438.7 555.7 445.7 558.2 450 559 C454.3 559.8 457.8 560.3 462 560 C466.2 559.7 469.7 558.7 475 557 C480.3 555.3 490.5 551.2 493.6 550 L493.6 596 C491 593.3 483.3 583.8 478 580 C472.7 576.2 466.7 575 462 573 C457.3 571 454.3 569.7 450 568 C445.7 566.3 438.7 563.8 436.4 563 Z" fill="#f0e2f2" fill-opacity="0.9" stroke="none" stroke-width="0.5"/>
<path d="M436.4 545 C438 544.9 441.6 542.8 446 544.5 C450.4 546.2 457.1 550.8 462.6 555 C468.1 559.2 473.7 565.8 478.9 570 C484.1 574.2 491.2 578.3 493.6 580 L493.6 605.5 C491.2 602.4 484.1 592.9 478.9 587 C473.7 581.1 468.1 575.2 462.6 570 C457.1 564.8 450.4 558.5 446 556 C441.6 553.5 438 555.2 436.4 555 Z" fill="#d8ebdc" fill-opacity="0.85" stroke="none" stroke-width="0.5"/>
<path d="M462.6 566 C464 566.3 468.1 567 470.8 568 C473.5 569 475.1 570 478.9 572 C482.7 574 491.2 578.7 493.6 580 L493.6 596 C491.2 593.7 482.7 585.5 478.9 582 C475.1 578.5 473.5 577.7 470.8 575 C468.1 572.3 464 567.5 462.6 566 Z" fill="#cdcdcd" fill-opacity="0.45"/>
<path d="M436.4 550.1 C437.2 550 439.7 549.1 441.3 549.2 C442.9 549.3 444 549.8 446.2 550.9 C448.4 552 451.7 553.9 454.4 555.8 C457.1 557.7 459.9 559.8 462.6 562.3 C465.3 564.8 468.1 567.8 470.8 570.5 C473.5 573.2 476.2 576 478.9 578.7 C481.6 581.4 484.7 584.1 487.1 586.8 C489.6 589.5 492.5 593.6 493.6 595" stroke="#6f9a7c" fill="none" stroke-width="0.9" />
<line x1="436.4" y1="559" x2="493.6" y2="580" stroke="#a574ad" stroke-width="0.9" />
<text x="402.4" y="571.8" font-size="9.0" text-anchor="middle" transform="rotate(-90 402.4 571.8)" textLength="40.1" lengthAdjust="spacingAndGlyphs" stroke="#231f20" stroke-width="0.22"><tspan font-style="italic">Cdk4</tspan> (CPM)</text>
<text x="431.5" y="597.4" font-size="8.2" font-style="italic" textLength="30.5" lengthAdjust="spacingAndGlyphs" stroke="#231f20" stroke-width="0.22">*7.38x10</text>
<text x="462.2" y="593.8" font-size="5.0" font-style="italic" stroke="#231f20" stroke-width="0.22">−4</text>
<text x="452.8" y="606.1" font-size="8.2" textLength="13" lengthAdjust="spacingAndGlyphs" font-style="italic" stroke="#231f20" stroke-width="0.22">k=3</text>
<text x="474.8" y="537.8" font-size="8.4" textLength="22" lengthAdjust="spacingAndGlyphs" fill="#c67ab9" stroke="#c67ab9" stroke-width="0.22">young</text>
<text x="474.8" y="550.9" font-size="8.4" textLength="11.4" lengthAdjust="spacingAndGlyphs" fill="#2f9a5f" stroke="#2f9a5f" stroke-width="0.22">old</text>
</svg>
</body></html>
